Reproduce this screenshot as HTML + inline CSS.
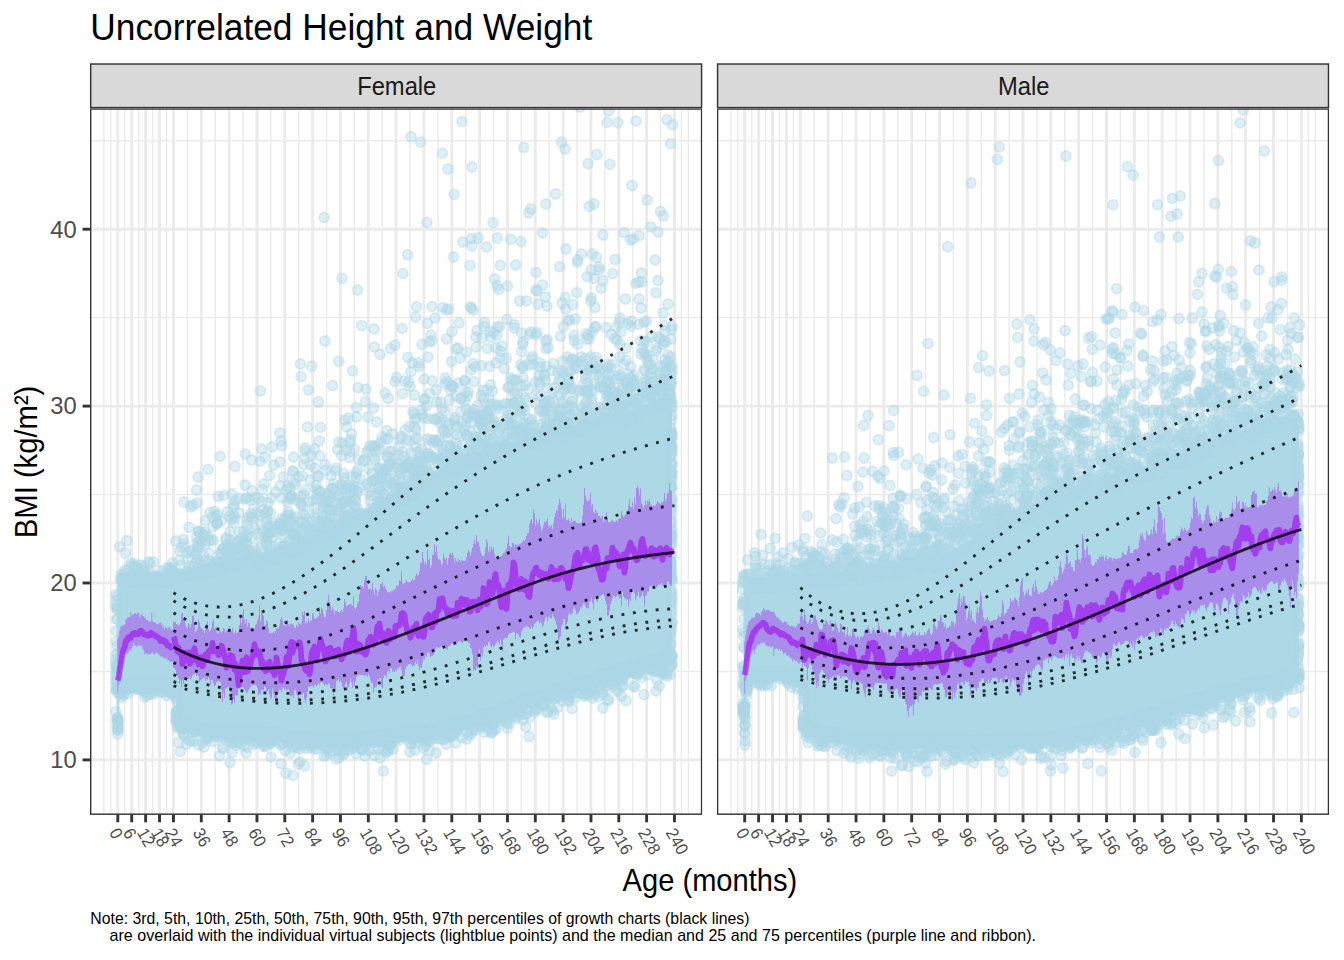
<!DOCTYPE html>
<html><head><meta charset="utf-8"><style>
html,body{margin:0;padding:0;background:#fff;}
svg{display:block;}
text{font-family:"Liberation Sans",sans-serif;}
</style></head><body>
<svg width="1344" height="960" viewBox="0 0 1344 960">
<defs><marker id="pt" markerUnits="userSpaceOnUse" markerWidth="14" markerHeight="14" refX="7" refY="7" overflow="visible"><circle cx="7" cy="7" r="5.0" fill="#add8e6" fill-opacity="0.4" stroke="#add8e6" stroke-opacity="0.4" stroke-width="1.8"/></marker></defs>
<rect width="1344" height="960" fill="#fff"/>

<text transform="translate(90.3,40.3) scale(1,1.07)" font-size="35.33" fill="#000">Uncorrelated Height and Weight</text>
<clipPath id="cp0"><rect x="89.96" y="108.3" width="612.34" height="706.60"/></clipPath>
<rect x="89.96" y="108.3" width="612.34" height="706.60" fill="#fff"/>
<g clip-path="url(#cp0)">
<line x1="89.96" x2="702.3" y1="671.45" y2="671.45" stroke="#ebebeb" stroke-width="1.44"/>
<line x1="89.96" x2="702.3" y1="494.55" y2="494.55" stroke="#ebebeb" stroke-width="1.44"/>
<line x1="89.96" x2="702.3" y1="317.65" y2="317.65" stroke="#ebebeb" stroke-width="1.44"/>
<line x1="89.96" x2="702.3" y1="140.75" y2="140.75" stroke="#ebebeb" stroke-width="1.44"/>
<line y1="108.3" y2="814.9" x1="103.88" x2="103.88" stroke="#ebebeb" stroke-width="1.44"/>
<line y1="108.3" y2="814.9" x1="110.84" x2="110.84" stroke="#ebebeb" stroke-width="1.44"/>
<line y1="108.3" y2="814.9" x1="124.75" x2="124.75" stroke="#ebebeb" stroke-width="1.44"/>
<line y1="108.3" y2="814.9" x1="138.67" x2="138.67" stroke="#ebebeb" stroke-width="1.44"/>
<line y1="108.3" y2="814.9" x1="152.59" x2="152.59" stroke="#ebebeb" stroke-width="1.44"/>
<line y1="108.3" y2="814.9" x1="166.50" x2="166.50" stroke="#ebebeb" stroke-width="1.44"/>
<line y1="108.3" y2="814.9" x1="187.38" x2="187.38" stroke="#ebebeb" stroke-width="1.44"/>
<line y1="108.3" y2="814.9" x1="215.21" x2="215.21" stroke="#ebebeb" stroke-width="1.44"/>
<line y1="108.3" y2="814.9" x1="243.04" x2="243.04" stroke="#ebebeb" stroke-width="1.44"/>
<line y1="108.3" y2="814.9" x1="270.88" x2="270.88" stroke="#ebebeb" stroke-width="1.44"/>
<line y1="108.3" y2="814.9" x1="298.71" x2="298.71" stroke="#ebebeb" stroke-width="1.44"/>
<line y1="108.3" y2="814.9" x1="326.55" x2="326.55" stroke="#ebebeb" stroke-width="1.44"/>
<line y1="108.3" y2="814.9" x1="354.38" x2="354.38" stroke="#ebebeb" stroke-width="1.44"/>
<line y1="108.3" y2="814.9" x1="382.21" x2="382.21" stroke="#ebebeb" stroke-width="1.44"/>
<line y1="108.3" y2="814.9" x1="410.05" x2="410.05" stroke="#ebebeb" stroke-width="1.44"/>
<line y1="108.3" y2="814.9" x1="437.88" x2="437.88" stroke="#ebebeb" stroke-width="1.44"/>
<line y1="108.3" y2="814.9" x1="465.71" x2="465.71" stroke="#ebebeb" stroke-width="1.44"/>
<line y1="108.3" y2="814.9" x1="493.55" x2="493.55" stroke="#ebebeb" stroke-width="1.44"/>
<line y1="108.3" y2="814.9" x1="521.38" x2="521.38" stroke="#ebebeb" stroke-width="1.44"/>
<line y1="108.3" y2="814.9" x1="549.21" x2="549.21" stroke="#ebebeb" stroke-width="1.44"/>
<line y1="108.3" y2="814.9" x1="577.05" x2="577.05" stroke="#ebebeb" stroke-width="1.44"/>
<line y1="108.3" y2="814.9" x1="604.88" x2="604.88" stroke="#ebebeb" stroke-width="1.44"/>
<line y1="108.3" y2="814.9" x1="632.72" x2="632.72" stroke="#ebebeb" stroke-width="1.44"/>
<line y1="108.3" y2="814.9" x1="660.55" x2="660.55" stroke="#ebebeb" stroke-width="1.44"/>
<line y1="108.3" y2="814.9" x1="681.42" x2="681.42" stroke="#ebebeb" stroke-width="1.44"/>
<line y1="108.3" y2="814.9" x1="688.38" x2="688.38" stroke="#ebebeb" stroke-width="1.44"/>
<line x1="89.96" x2="702.3" y1="759.90" y2="759.90" stroke="#ebebeb" stroke-width="2.88"/>
<line x1="89.96" x2="702.3" y1="583.00" y2="583.00" stroke="#ebebeb" stroke-width="2.88"/>
<line x1="89.96" x2="702.3" y1="406.10" y2="406.10" stroke="#ebebeb" stroke-width="2.88"/>
<line x1="89.96" x2="702.3" y1="229.20" y2="229.20" stroke="#ebebeb" stroke-width="2.88"/>
<line y1="108.3" y2="814.9" x1="117.79" x2="117.79" stroke="#ebebeb" stroke-width="2.88"/>
<line y1="108.3" y2="814.9" x1="131.71" x2="131.71" stroke="#ebebeb" stroke-width="2.88"/>
<line y1="108.3" y2="814.9" x1="145.63" x2="145.63" stroke="#ebebeb" stroke-width="2.88"/>
<line y1="108.3" y2="814.9" x1="159.54" x2="159.54" stroke="#ebebeb" stroke-width="2.88"/>
<line y1="108.3" y2="814.9" x1="173.46" x2="173.46" stroke="#ebebeb" stroke-width="2.88"/>
<line y1="108.3" y2="814.9" x1="201.29" x2="201.29" stroke="#ebebeb" stroke-width="2.88"/>
<line y1="108.3" y2="814.9" x1="229.13" x2="229.13" stroke="#ebebeb" stroke-width="2.88"/>
<line y1="108.3" y2="814.9" x1="256.96" x2="256.96" stroke="#ebebeb" stroke-width="2.88"/>
<line y1="108.3" y2="814.9" x1="284.80" x2="284.80" stroke="#ebebeb" stroke-width="2.88"/>
<line y1="108.3" y2="814.9" x1="312.63" x2="312.63" stroke="#ebebeb" stroke-width="2.88"/>
<line y1="108.3" y2="814.9" x1="340.46" x2="340.46" stroke="#ebebeb" stroke-width="2.88"/>
<line y1="108.3" y2="814.9" x1="368.30" x2="368.30" stroke="#ebebeb" stroke-width="2.88"/>
<line y1="108.3" y2="814.9" x1="396.13" x2="396.13" stroke="#ebebeb" stroke-width="2.88"/>
<line y1="108.3" y2="814.9" x1="423.96" x2="423.96" stroke="#ebebeb" stroke-width="2.88"/>
<line y1="108.3" y2="814.9" x1="451.80" x2="451.80" stroke="#ebebeb" stroke-width="2.88"/>
<line y1="108.3" y2="814.9" x1="479.63" x2="479.63" stroke="#ebebeb" stroke-width="2.88"/>
<line y1="108.3" y2="814.9" x1="507.46" x2="507.46" stroke="#ebebeb" stroke-width="2.88"/>
<line y1="108.3" y2="814.9" x1="535.30" x2="535.30" stroke="#ebebeb" stroke-width="2.88"/>
<line y1="108.3" y2="814.9" x1="563.13" x2="563.13" stroke="#ebebeb" stroke-width="2.88"/>
<line y1="108.3" y2="814.9" x1="590.97" x2="590.97" stroke="#ebebeb" stroke-width="2.88"/>
<line y1="108.3" y2="814.9" x1="618.80" x2="618.80" stroke="#ebebeb" stroke-width="2.88"/>
<line y1="108.3" y2="814.9" x1="646.63" x2="646.63" stroke="#ebebeb" stroke-width="2.88"/>
<line y1="108.3" y2="814.9" x1="674.47" x2="674.47" stroke="#ebebeb" stroke-width="2.88"/>
<path d="M176.0 571.1 178.0 570.6 180.0 570.1 182.0 569.7 184.0 569.2 186.0 568.8 188.0 568.3 190.0 567.8 192.0 567.4 194.0 566.9 196.0 566.4 198.0 566.0 200.0 565.5 202.0 565.0 204.0 564.6 206.0 564.1 208.0 563.6 210.0 563.2 212.0 562.7 214.0 562.2 216.0 561.9 218.0 561.5 220.0 561.2 222.0 560.9 224.0 560.6 226.0 560.3 228.0 560.0 230.0 559.7 232.0 559.4 234.0 559.1 236.0 558.7 238.0 558.4 240.0 558.1 242.0 557.8 244.0 557.5 246.0 557.2 248.0 556.9 250.0 556.6 252.0 556.3 254.0 555.9 256.0 555.6 258.0 555.3 260.0 555.0 262.0 554.4 264.0 553.7 266.0 553.1 268.0 552.4 270.0 551.8 272.0 551.1 274.0 550.4 276.0 549.8 278.0 549.1 280.0 548.5 282.0 547.8 284.0 547.2 286.0 546.5 288.0 545.9 290.0 545.2 292.0 544.6 294.0 543.9 296.0 543.3 298.0 542.6 300.0 542.0 302.0 541.3 304.0 540.7 306.0 540.0 308.0 539.0 310.0 537.9 312.0 536.9 314.0 535.8 316.0 534.8 318.0 533.8 320.0 532.7 322.0 531.7 324.0 530.6 326.0 529.6 328.0 528.5 330.0 527.5 332.0 526.5 334.0 525.4 336.0 524.4 338.0 523.3 340.0 522.3 342.0 521.2 344.0 520.2 346.0 519.2 348.0 518.1 350.0 517.1 352.0 516.0 354.0 515.0 356.0 513.9 358.0 512.9 360.0 511.8 362.0 510.8 364.0 509.8 366.0 508.7 368.0 507.7 370.0 506.6 372.0 505.6 374.0 504.5 376.0 503.5 378.0 502.5 380.0 501.4 382.0 500.4 384.0 499.3 386.0 498.3 388.0 497.2 390.0 496.2 392.0 495.2 394.0 494.1 396.0 493.1 398.0 492.0 400.0 491.0 402.0 490.0 404.0 489.0 406.0 488.0 408.0 487.0 410.0 486.0 412.0 485.0 414.0 484.0 416.0 483.0 418.0 482.0 420.0 481.0 422.0 480.0 424.0 479.0 426.0 478.0 428.0 477.0 430.0 476.0 432.0 475.0 434.0 474.0 436.0 472.9 438.0 471.9 440.0 470.9 442.0 469.8 444.0 468.8 446.0 467.8 448.0 466.8 450.0 465.7 452.0 464.7 454.0 463.7 456.0 462.6 458.0 461.6 460.0 460.6 462.0 459.6 464.0 458.5 466.0 457.7 468.0 457.0 470.0 456.4 472.0 455.7 474.0 455.1 476.0 454.4 478.0 453.8 480.0 453.1 482.0 452.4 484.0 451.8 486.0 451.1 488.0 450.5 490.0 449.8 492.0 449.2 494.0 448.5 496.0 447.9 498.0 447.2 500.0 446.6 502.0 445.9 504.0 445.2 506.0 444.6 508.0 443.9 510.0 443.3 512.0 442.6 514.0 442.0 516.0 441.3 518.0 440.7 520.0 440.0 522.0 439.5 524.0 438.9 526.0 438.3 528.0 437.8 530.0 437.2 532.0 436.7 534.0 436.1 536.0 435.5 538.0 435.0 540.0 434.4 542.0 433.9 544.0 433.3 546.0 432.7 548.0 432.2 550.0 431.6 552.0 431.1 554.0 430.5 556.0 429.9 558.0 429.4 560.0 428.8 562.0 428.3 564.0 427.7 566.0 427.1 568.0 426.6 570.0 426.0 572.0 425.6 574.0 425.2 576.0 424.8 578.0 424.4 580.0 424.0 582.0 423.6 584.0 423.2 586.0 422.8 588.0 422.4 590.0 422.0 592.0 421.6 594.0 421.2 596.0 420.8 598.0 420.4 600.0 420.0 602.0 419.6 604.0 419.2 606.0 418.8 608.0 418.4 610.0 418.0 612.0 417.6 614.0 417.2 616.0 416.8 618.0 416.4 620.0 416.0 622.0 415.2 624.0 414.3 626.0 413.4 628.0 412.6 630.0 411.7 632.0 410.9 634.0 410.0 636.0 409.2 638.0 408.3 640.0 407.4 642.0 406.6 644.0 405.7 646.0 404.9 648.0 404.0 650.0 403.2 652.0 402.3 654.0 401.4 656.0 400.6 658.0 399.7 660.0 398.9 662.0 398.0 664.0 397.2 666.0 396.3 668.0 395.4 670.0 394.6 672.0 393.7 672.1 393.7 672.1 663.1 672.0 663.2 670.0 663.8 668.0 664.4 666.0 665.0 664.0 665.6 662.0 666.1 660.0 666.7 658.0 667.3 656.0 667.9 654.0 668.5 652.0 669.1 650.0 669.7 648.0 670.3 646.0 670.9 644.0 671.5 642.0 672.0 640.0 672.6 638.0 673.2 636.0 673.8 634.0 674.4 632.0 675.0 630.0 675.6 628.0 676.2 626.0 676.8 624.0 677.4 622.0 677.9 620.0 678.5 618.0 679.1 616.0 679.7 614.0 680.3 612.0 680.9 610.0 681.5 608.0 682.1 606.0 682.7 604.0 683.3 602.0 683.9 600.0 684.5 598.0 685.1 596.0 685.7 594.0 686.3 592.0 686.9 590.0 687.5 588.0 688.1 586.0 688.7 584.0 689.3 582.0 689.9 580.0 690.5 578.0 691.1 576.0 691.7 574.0 692.3 572.0 692.9 570.0 693.5 568.0 694.1 566.0 694.7 564.0 695.4 562.0 696.0 560.0 696.7 558.0 697.4 556.0 698.1 554.0 698.8 552.0 699.4 550.0 700.1 548.0 700.8 546.0 701.5 544.0 702.2 542.0 702.8 540.0 703.5 538.0 704.2 536.0 704.9 534.0 705.6 532.0 706.2 530.0 706.9 528.0 707.6 526.0 708.3 524.0 709.0 522.0 709.6 520.0 710.3 518.0 711.0 516.0 711.7 514.0 712.4 512.0 713.1 510.0 713.8 508.0 714.5 506.0 715.3 504.0 716.0 502.0 716.7 500.0 717.4 498.0 718.1 496.0 718.9 494.0 719.6 492.0 720.3 490.0 721.0 488.0 721.7 486.0 722.5 484.0 723.2 482.0 723.9 480.0 724.6 478.0 725.3 476.0 726.1 474.0 726.8 472.0 727.5 470.0 728.2 468.0 728.9 466.0 729.7 464.0 730.2 462.0 730.7 460.0 731.2 458.0 731.6 456.0 732.1 454.0 732.5 452.0 733.0 450.0 733.4 448.0 733.9 446.0 734.4 444.0 734.8 442.0 735.3 440.0 735.7 438.0 736.2 436.0 736.6 434.0 737.1 432.0 737.6 430.0 738.0 428.0 738.3 426.0 738.5 424.0 738.8 422.0 739.0 420.0 739.3 418.0 739.5 416.0 739.8 414.0 740.0 412.0 740.3 410.0 740.6 408.0 740.8 406.0 741.1 404.0 741.3 402.0 741.6 400.0 741.8 398.0 742.1 396.0 742.3 394.0 742.6 392.0 742.8 390.0 743.1 388.0 743.4 386.0 743.6 384.0 743.9 382.0 744.1 380.0 744.4 378.0 744.6 376.0 744.9 374.0 745.0 372.0 745.1 370.0 745.1 368.0 745.2 366.0 745.2 364.0 745.2 362.0 745.3 360.0 745.3 358.0 745.4 356.0 745.4 354.0 745.5 352.0 745.5 350.0 745.5 348.0 745.6 346.0 745.6 344.0 745.7 342.0 745.7 340.0 745.8 338.0 745.8 336.0 745.8 334.0 745.9 332.0 745.9 330.0 746.0 328.0 745.9 326.0 745.8 324.0 745.7 322.0 745.5 320.0 745.4 318.0 745.3 316.0 745.1 314.0 745.0 312.0 744.9 310.0 744.8 308.0 744.6 306.0 744.5 304.0 744.4 302.0 744.2 300.0 744.1 298.0 744.0 296.0 743.8 294.0 743.7 292.0 743.6 290.0 743.5 288.0 743.3 286.0 743.2 284.0 743.1 282.0 742.9 280.0 742.8 278.0 742.7 276.0 742.5 274.0 742.4 272.0 742.3 270.0 742.1 268.0 742.0 266.0 741.9 264.0 741.8 262.0 741.6 260.0 741.5 258.0 741.4 256.0 741.2 254.0 741.1 252.0 741.0 250.0 740.8 248.0 740.7 246.0 740.6 244.0 740.5 242.0 740.3 240.0 740.2 238.0 740.1 236.0 739.9 234.0 739.7 232.0 739.4 230.0 739.2 228.0 739.0 226.0 738.8 224.0 738.6 222.0 738.3 220.0 738.1 218.0 737.9 216.0 737.7 214.0 737.4 212.0 737.2 210.0 737.0 208.0 736.8 206.0 736.6 204.0 736.3 202.0 736.1 200.0 735.9 198.0 735.7 196.0 735.4 194.0 735.2 192.0 735.0 190.0 734.3 188.0 733.6 186.0 732.9 184.0 732.2 182.0 731.5 180.0 730.8 178.0 730.1 176.0 729.4Z M118.3 573.0 120.3 573.0 122.3 573.0 124.3 573.0 126.3 573.0 128.3 573.0 130.3 573.0 132.3 573.0 134.3 573.0 136.3 573.0 138.3 573.0 140.3 573.0 142.3 573.0 144.3 573.0 146.3 573.0 148.3 573.0 150.3 573.0 152.3 573.0 154.3 573.0 156.3 573.0 158.3 573.0 160.3 573.0 162.3 573.0 164.3 573.0 166.3 573.0 168.3 573.0 170.3 573.0 172.3 573.0 174.3 573.0 176.3 573.0 177.0 573.0 177.0 693.0 176.3 693.0 174.3 693.0 172.3 693.0 170.3 693.0 168.3 693.0 166.3 693.0 164.3 692.9 162.3 692.9 160.3 692.8 158.3 692.8 156.3 692.7 154.3 692.7 152.3 692.6 150.3 692.6 148.3 692.5 146.3 692.5 144.3 692.4 142.3 692.4 140.3 692.4 138.3 692.3 136.3 692.3 134.3 692.2 132.3 692.2 130.3 692.1 128.3 692.1 126.3 692.0 124.3 692.6 122.3 694.4 120.3 696.2 118.3 698.0Z M116.8 575.0 118.8 575.0 119.3 575.0 119.3 728.0 118.8 728.0 116.8 728.0Z" fill="#add8e6"/>
<path d="M644.6 353 205.5 732.7 570 409.4 560.6 693.6 365.5 401.7 560.4 416.3 275.5 733 477.7 405 338.6 520 641.7 282 123.6 684.4 431 335 671.6 448 578.6 414.5 671 406.3 152 683 497 335 575.3 368.6 268 558 599 677.6 554 429.4 457.5 728.6 288 515.3 125 578.3 157 684 507 448.7 473 310 670.6 428 556.6 691 283 525.6 300.7 739 272 741 233.6 516 577.7 262.4 324.3 738 670 634 371.7 473.6 435 318 506 711 573 398.7 264 484 318.5 402 245 554 439.4 728.3 472 246 433 729 493.7 438.4 585 378.3 637.3 674.5 426.6 759.3 138.7 685 329 747.7 117 720 523 342 671.7 629 672 473 568.7 384 506 713.4 618 122.6 418.6 363 472 442.4 296 500 239 532 416 447.7 132.6 573 280.3 524.7 628.6 402 665 402 150 563.4 179 742.5 365.6 739.6 116.4 654.4 479 719.3 366 745 494 723.3 411.4 481.7 454 730 262.3 560 258.6 498.5 134 572.7 581.6 422.7 283.7 547 303.3 735 501.5 713 198 548.7 198.6 727.6 658.5 405.7 207 567 299.3 548 505 445.4 293 472 424 418 482 447 307.3 736 168.7 686.6 647 663 276 492 440.6 726 150.6 687 179 575.5 150.4 694.4 229.5 558 599 372 426 468 494 454.7 368 417 520 437 199.5 569 149 576.7 575 686 203 731 489.5 715.5 334 531.4 599 267 617 674.6 480 462.5 611 388 487 720 314.4 449 490 419 140.5 565 515 380.5 616.5 327 317.4 528 286.6 490 562 303 579.3 390.3 511.4 416.4 197 574 483.6 721 472.6 422 331 475.6 489.3 459 329.3 742.3 165 684 228 729 466 721.3 398 455 485 718.4 404 456.5 581.6 431.6 353.4 738 651 391.5 388.4 751.4 542 412 305 736 388.6 452 534 441.7 326.3 754.7 289.6 554 507 723.5 172.4 570 671 658.5 621.3 396.3 237 742 354 737 663 344.5 212 728.6 345 526.4 596 368 291 498.5 512 404 507.4 728.3 161.5 686 336.4 759 668.5 361.4 523 366.4 663.7 380.7 522.4 703 257 742.7 123 695 466.5 461 457 453 477 726.7 482 715.4 150.3 688 496.7 425.7 454 194.4 488 721.5 241.7 548 176.5 710.5 660.7 378.4 412.6 495 387 739.3 305.3 450.7 131 684 259 556.6 141.6 685 388.3 398.5 521 438.4 409.5 441 596.5 257.4 119 694.4 183 732.7 471.6 729 319.3 491 245 485 428.4 418.7 243.7 732 588 335.6 437 461.6 273.4 546.6 511.7 714.7 527.3 700.7 671 603 556 689.7 445.6 433.3 284 546 608.3 672.7 462.7 242 306 748 355 507.3 597.6 424.5 584.7 688.3 394 741.6 497 285.6 672 326.3 641 404.5 133 685 540.7 396 491.7 715 336 746.4 318.3 737 414 736.6 612 421 672 655.7 484.5 718 346.7 501 161.4 582.5 417.4 476 543.6 411.3 144 692 276.6 734.3 474 417 126 682 353.4 743 669 565.4 480.5 437 319.3 441 407 462 596.7 678.7 143 686 394.3 478.6 272 447 615.7 405 303.5 736.7 260.4 732.4 432.5 477 454 450 616 405.5 299 745 339.7 531 410.6 462 450.3 465 418 481 407.7 254.6 374.3 479.7 351.6 434 634 414 298.6 477 158.4 684.3 270.7 560 250 500 133 682.6 533 699 661 672 276 735.5 559 693.7 420.4 735 649.7 666.7 670.7 396 124 694 400 497 403 487.4 576 683.4 259 732 622.5 400.5 438.3 417.5 122 692 173.3 579.5 529 736.6 449.3 400 481 715.6 390 745.4 672 455 408.5 486.5 317.4 742.4 339 442 405 489 355 735.7 508 712.3 553 690 616 670.4 471.4 238.6 164.6 683 596 374.3 602 426 498 406.5 434 440 658.3 662.5 500 444 176 721 305.6 550 656 659.5 656.5 348.4 506.7 434 532 419.6 395 381.6 118 729.6 644 352 189 566 297.7 745.4 487 390 343 740 522.7 444 304 494.5 405.5 471 493.3 725 579 685.4 529.7 334.3 268.4 561 245 556.5 577.7 432.5 280.5 745 521 411.4 619.4 676 323 503 370 500.3 155 684 454 452 557.4 695.7 612.5 421 618 418.5 671.6 477 457.6 457.5 243 730.5 481 442 116.7 679.5 498 449 488 450.5 664 401.4 646.4 321 525.3 385 660.3 367 235.4 500.7 435.5 440 647.7 412 477 720 672 530 168 684.7 535.4 382 163 684.5 429 735 530 422.3 374 735 122 688 636.5 668 267.7 538.6 458 348 639 299 408 357.5 236 553.3 563.6 421.5 478.6 415.5 657.7 337 547 694 646.4 381.3 172.7 688.6 396 491.7 583 424.7 594 204 143 691 331 510.3 209.5 564 455.7 743 548.3 347.7 543 694 266.7 533.3 369 736 369 735 671 644.5 500.4 358 471.5 719.4 540 427.5 570 427 453.5 386.6 284 738.4 353.5 748.4 271.6 733.3 321 741.4 266.7 512.6 272.5 537 411.7 739 660.3 388 439 440.6 672 500.6 219.7 571 337.4 738 547.7 433.3 508.6 715.4 268 527 269 735.5 572.3 407.7 513.4 424 423 735 644.5 387 360.3 748.3 559 417 607 410.5 471 445 429.6 393.4 467 459.3 592.7 391.3 663.7 664 439 459.6 326 506.5 197 503 608 380.5 657 662.4 340.6 736 594 278.5 439.6 731.6 166.5 577.5 248 554.7 142.7 683 560.6 431.3 295.4 734 265 738 618.3 378.4 166.7 568 291.3 740 366 389 594 368.4 117 646 434.3 458.4 451.3 729.7 238 549 481 395.7 221 570 388 485.5 443 450 620.5 408 623.6 364.4 670 644.5 482 714.5 584.3 683 648 661.3 424.3 740.4 408.5 382 270 739.4 138.5 576.3 316.7 499 549.4 428 582 686 273 739 523 423.4 672 479.7 408.4 732 618 422 636.5 672.5 481.5 718.4 647.5 391.3 170 686.6 585.4 416.5 451.5 361.6 296 531 649.6 390.3 326 736 519.3 432.6 445 471 581 426.4 641 354 583.5 384.4 626.6 380.4 567 686.5 577 682.6 496.5 711.6 591.3 389.4 196.6 490 534.7 699.4 509.5 712.4 260.5 515.3 168 582.7 230.6 732 484.7 322.3 190.7 725.5 582 683 501.3 405 667 363.6 562 371 394 502 600.6 387.6 515.7 265 670.4 357 562.4 691.4 244 731 119.7 693.3 672 663.6 623.3 406.3 650.6 397 300.4 545 379.3 469 420 456.5 625 406 612.6 273.6 266.4 557.5 119.5 690.5 513 716.6 145.3 684.4 516.3 711.3 484.4 732.4 123.4 686.5 317 489.6 573 685 266 555 403 451.7 457.4 470 514.4 324.7 515.7 448.7 671.5 436.4 161 571 118 730 124 573.4 645 379.6 545.7 380.7 142 579 569 378.5 485.7 458 633.7 673 224 729 180 725 198.5 531.6 195 554 264.5 542 351.5 476.6 492.7 418 381 742 672 621.7 572 708.7 429 485.5 496 714 311.4 741.3 399 497 290.7 742.5 506 441 211.3 539.7 491.3 713 630 406 482 715 172 688 345.3 502 670.3 402.7 171.3 693 567.7 357 641.7 662.7 117.5 718 487.5 419.7 522.7 344.4 651 382.5 200 563 425 399 661.4 406 248.4 738.3 485 724.4 481.7 455 634 668.3 319.5 539 572.6 360 225.5 566 556 698 670.4 674.3 562.6 361.5 139 687.3 522.5 368 127 570.4 526.5 301 405 430 617.3 673.4 390.7 498 481 418.6 452 331.6 265.3 515 525 713.3 472 450 324.6 748.5 295.7 536.4 446 728 441.4 467 131.6 688 393.7 496 521 700.7 295.4 484.3 298.3 764 366.6 737 510 705 445 378 667.6 402 570.7 415.5 344 743 507 452 607 690 423.4 737.7 487 448.3 378.4 489 507.7 415.3 656.5 659 233 731.6 310 745 567.7 434.5 387.7 467 636.7 671.4 334.7 530 476 415.3 378 749 471.6 450.6 545 406 521 714.6 145.4 683 266.7 735.3 672 665 374.3 347 620.4 425.5 208.5 541 434 478.4 399.6 740 199 565.3 556 693.4 557.3 409 342.4 739.3 563.4 326.7 669 658.5 510 449 546 410.4 509 723.5 528.4 419 563.4 417 603 694.4 483.4 415.4 582 681 617 394 436 730 352.3 503 299 539 300.4 734.5 295.3 744 218.3 737.3 546 348.7 318 738.7 247 560.6 638.6 400 216 562 223.4 549.7 307 745.3 235.3 733.4 586.5 370.5 374.6 755.6 537 444 372.4 739 499 433 647 342 159 685 265.3 746.6 221 521 540 367 652 411 526.6 400.3 316.6 530.7 589 423 376.7 422 450.6 447.7 562 425.3 657 680.3 349.6 492.6 155 576 494.7 730 301 547.3 403 500 614.7 682.3 641.3 677.3 559 431 409.6 743 472.5 719 394 738 542 705 322.4 520 419 487 242.7 544.3 595 690.6 271 733.7 155.7 691.3 589.6 368.4 497.3 238 485.4 437 393.6 737 318 475.6 488.3 714.5 671.5 329.5 152 580 620.7 375.7 290 488 460.7 399 306.6 518.4 335.5 471 309.5 529.5 120.3 690 585.5 392 611 406.7 524 432.4 613 685.6 187.5 725 315 532.7 355.7 744.3 148.5 562 358.3 741 203.7 556 665.4 658 381.4 474.3 198 477 325 464.6 414 735.3 634 380 305.6 490 336.5 531.3 614 681.3 373 742.3 333 488 596.6 678 364.6 740.4 411 371.7 616 676.5 545.3 297 134 684 578.6 693 440 728.6 123.5 689 449.4 727 575.3 319 380.6 442.4 199.4 728.5 221.5 565.6 659.7 372.6 234 559.7 622.6 678 481 720.7 658.4 396.6 432 380.7 648 668 668.7 398.6 206.7 734 386.5 734.4 607 682.4 276 552.4 546 366.3 327.5 493 519 429 626 381.6 204 747 623 416.7 351.5 744 281 524.7 624.4 670 351.5 739 659.5 660 388 439 447 381.6 411.4 731 553 399 521 410 473.7 722.6 137.6 687.7 323.4 533.7 523 408 162 582 613.6 671.7 603.7 387.5 352.4 747 636 391.5 442.4 420 281 518.7 608.7 676.5 478.5 427.7 662.4 406.7 601.3 288.4 436 419.4 525 398 176.4 721 634.4 403 230 762.7 573.4 418.4 672 544 467.3 396 273 739 506.4 358.5 133 683 162 688 318 542.7 443.3 429.6 225.6 540 386.3 734 436 471 380 758 344.7 488 361.7 325.6 347.3 523.6 198.3 545 591 428 120.4 579.3 246.6 524.7 473 363.5 653.5 404 427 733.5 594.5 694 553.4 402.4 138 567.4 123.7 688.4 396 503.3 631 420.4 295.7 516.6 474 458 279 733.6 132.6 683 197 559 427 222.4 384.3 470.5 665 663 634 385 627 383.5 295 742 653 671 305.7 514.7 607.4 676.4 540 410.4 583.5 414 419 459.3 227.6 511.6 166.6 683.7 223.5 563 301 505 295.4 547.7 569 689.5 230.6 566 419.4 366.5 349.7 739 476 347 591.4 298 450.6 467 376.7 735.7 376 742 654.3 398.3 609.6 384 300.7 522 230.6 730 621.7 675.7 647 400.4 671 520.4 457 451 590.5 678 346 519 484 456 532.5 356.6 216.3 731.4 542.5 285 149 685 408.7 464.7 215.6 516 286.6 527.6 430 750.5 666.6 386.3 482.3 426 366.6 453 415 475 505 712 639 235.6 280 733 260.3 391 196.6 732 515.5 705.4 176.7 701 340 509 196.6 730 272.6 532 133 577 232.7 742.7 379.6 740 559.6 691.5 363 745 587 683.7 202 571 221 553.5 182 577.7 191.4 570 643.4 663.6 427.4 457 630.3 240 564 424 504.3 368.6 632.3 667 439 726 218 733.5 317.3 498 335 501 625.5 299 234.5 550.5 334 489.4 541 694 129.4 683 310 737.7 471.6 734 546 428 422 414.5 654 662 231.4 550 322 745.4 116 711.7 624.5 667.6 584.7 430 350 501.3 267 736 233 730 428 454 458 722.7 499.3 430.4 533 425 651.7 337 410 752 347.6 513.7 159 576.4 621.4 406 172.7 582 142.3 579.7 429.4 342 286 545.4 349 744.7 277.3 525.4 383.5 494.7 579 683.5 199 546 152 689.4 247 497.7 391 739 521.6 709 552.4 693.4 128 682.4 300 749 649 388.3 415 479 521.5 702.4 633 239 656 669.6 291 496 621.7 388.6 324 537 512.3 706 525 699 579 683.6 294 526.3 391 501 293 471 127 686 483 726.4 520 414.5 654.3 405.5 672 579 536 703 268 732.4 508 706.7 467 739 163 583 670.3 435.4 294 552.3 474 410 302.5 736 540 694.5 452.4 724 261.7 449 132 579.5 457 471.3 424.7 729 162.7 684.3 251 562 327 749 383 742.5 543.6 404 643.6 383 210.3 733.3 408.3 481.3 453 734.4 327 495.4 240.5 538.5 390.7 451 158.6 690 538 304 538 709.7 306.5 526.5 511.7 442 251.6 517.5 537 291 202 733 287 738.5 653 665 598 366.4 182.4 724 484 725 422 489.6 287.3 502 468.5 458.6 262.4 732.3 291.4 548.6 252 490.6 369 750.6 475.7 445.3 325 341 493.5 332.5 670.4 455 665 674.4 368.7 740.7 233.6 505 140 682.5 152 684.5 624 232.6 527.7 445 221 729 370 509 518.4 708 275 738.4 125 687.7 488 427 476.4 457.7 356 515 277 559 239 565 614 671.4 436 753 138.7 573 621.5 686 632.4 401 457.7 724.6 374.7 460 431 735 405 495.5 457.6 434.6 447 461 346 490.4 468.4 461.7 440 474.4 453.5 257 246 753 541.4 442 329.4 753 314 737 125 580.7 530 717 551.3 707.5 232 494 616.5 379 452 385.6 456 396 481.4 727 130 578 387 741 307.7 737 342.4 443 662 674 200 730.5 346.6 507.3 191 551.6 329 738 640 666 117.7 734 536 708.4 607.6 701 310.5 545.5 607.3 367.3 432 306.5 508 449.5 214.3 736.5 494 714 153 685.3 546 429 325 503 550 410.5 630.3 669.4 136.4 685.5 217 523.5 173 693.4 357.6 512 124.6 686.4 217 523.4 139 684 269.7 475.3 268 503 380.3 510.4 633 673 438 731.3 413 739 190 576 182.3 579.4 547 339.4 170.4 683 658 280.5 356 501 443.7 739.4 205.6 727.3 346.4 526 423 486.4 277 736.5 530 710.5 342 736.6 569 425.5 131 565.6 117.5 668 483 715.4 319.4 533 168 574.3 461 724 418.5 481.7 411.4 744 320.4 427.3 189 725.3 441 474 511 423 569 415 137 689.4 531.3 436 189 527.3 137.6 569.7 328 509.6 316.3 744.4 606 418 318.5 477 281 441 501.3 425 489 400 626.5 412.7 287 525 551 426 167.3 686.5 670.4 562.4 262 501.5 182 547 229 731.3 168 580.5 239 513 126 687.4 307.4 547 373 737 571.4 388.7 264 744.4 608.7 111 441.6 459.7 246.4 562 180.7 723.4 462.3 465 241.5 733 656 691 327.6 523 508 710 153 684.6 599.5 675.3 478 720 612 364.5 162.3 578 116 673.3 561 429 244 746 584.3 688 296 735.4 510 712.5 231 564 568.6 688 263.7 746.3 583 680 438 727.4 422 409.6 461 398 160 683.7 671.3 665.7 117 668 625 422.6 124 687.6 151.7 682.7 169.6 570 604 389 298.5 522.3 287.7 551.6 230 531.6 559 433 441 732 582 693.7 422.6 471.5 275 733 665.6 405.3 367.3 513.7 405.6 467.7 157 685 353.4 486.6 331.6 513 133 686.3 559.7 266.7 321.5 532.6 529.7 709 672 451.4 129.4 682 145 697 270.7 513.3 249 517 663.5 392.6 480.5 424.7 558.4 417.6 621.7 390.4 246.4 564 465.3 460 173 685 222 553.4 257 534 460 358 180.6 727.5 563.3 401.5 135.7 578.3 565.7 309 137 689 516 445.4 605 673.6 289 734 328 495.3 346 450 498 450 267 536 279.6 486 551.3 692 433.6 477 235.6 734 439.6 728 620 344.4 516.5 710 444.7 411 574 335.3 125 687.3 415.6 477 478.4 716 439.5 738.5 620 670 220.7 571 138.6 569 118 724.7 501 709 200 532 255.7 736 208.4 572 228.6 738.3 293 775.3 473.7 439 436.3 390 506 403.5 383 507 249.4 732.3 672 522.7 523.4 443.6 563.3 701.4 605.6 674 363 461.4 155.7 689.6 623 679.6 458 725.6 256.3 740.7 671 634 192 728.6 459 323 630 666.6 391 743.4 267.4 562 418.5 737.5 376 510 590.6 301 609.5 672.6 570 429 448 735 459 727.6 405 466 454 420.7 663 398.6 198.5 531 489 415.4 367 736 474.6 718 602 420 479.4 420 300.5 496 369.3 516.6 323.4 528 651 227 416 429.5 458 457 428.6 472.3 333.7 483.4 400 473 491.3 733 561.4 692.6 650 364.3 364.3 737.4 519.5 301 472.4 416 477 457.3 293 737.3 670.5 367.6 452.7 466 444 472.6 288.7 512 663.5 394.6 445.6 468.4 597 154.5 390 734.4 543 693.7 186.4 576.6 263.6 509.7 232 553 529.3 697.5 670 640 440.3 732 457.6 727.4 233.6 738.5 585.3 424.3 169 683 472 730 542 696.3 671 655 490.4 410.5 382 437 581.7 425.5 331.4 489 671.5 570 495.5 457.4 672 623 424.4 485 430 740 224 730 344 750 323 534.5 158 685.6 231 563.7 267.3 557 151.7 580.3 622 419.6 289 553 455 417.6 644.3 401.3 672 535.3 671.4 383.4 653 386.6 620.4 674 376 451.5 450 471.5 510 448.3 492 710.6 589 417 350.3 440 176 696 337.4 742 258.6 731.4 672 555 515 703.6 404.5 381 658 232 462.5 462.6 310 529 128 687 607 413.4 586 411 636 665.7 163 687 501.7 346 493 222.7 516.5 405.7 458 457 132 684 386 735.5 117 687.3 505 713 289 541 670.5 438.5 341.7 455.6 452 470.7 400.4 439 129.3 683 143.7 687.4 544.4 704 615 672.7 599 376 348 743.5 176 691 515 394.4 383 474 122.6 579.4 473.6 436.4 361 741 592.3 399.7 474.5 459.6 505.3 718 176 719 538 699.7 300.4 537.6 329 740 672 370.4 544.4 704 171.6 684 334.5 534.6 423.7 748 419 476 148 693 670 657 287.6 736.7 301 376.7 267 544 149.5 688 532 433 547.5 421.5 186.3 574.4 568.3 381.6 412.5 363 245.3 454 499.4 448.3 358.7 459.7 537 332.6 592.7 698 312 521.5 618 394 143 579 387.6 750 380 470 483.6 428.5 609.7 384 221.3 735.6 433 442.4 551 432.3 581 357 557.5 694 180.4 565.4 626 348.4 117 607.4 345.5 516 421 484 239.6 731.7 290.7 745 366 735.7 526 714 465.3 465 398 464.4 390.7 734 239.6 498.6 461 461 281.7 497.6 171 693.6 165.3 685 266 733.3 569.4 320.4 610.4 399.5 559 687.4 283.6 534.7 607 122.3 671.4 444 599.7 416.6 365 737 197 569.4 495.6 722.6 604 681.4 522 386 451.3 725.7 285.7 739 227.4 544.7 118 719.5 442 726 137 580.5 569.7 692 419.3 488 246 537 607 395 386.6 430.6 296 738.3 638.7 669 278.3 550.7 362.6 750 465 725.6 550.6 438 204.6 560.4 368.4 468.6 343 502.3 481 422.4 180.5 728.6 231 565 308 501.3 185 723.4 472 167 609.5 675 531 359 606 399 651.5 667.4 297.5 747.5 270 532.7 659.3 686 415 750 334.6 736.4 369.5 739.5 257.4 513 176.4 712.5 543.4 693.3 518.7 702 359.4 487 569 423 465 722.5 475 366.7 469 451 389.5 735.3 670.3 384.4 211.7 568.6 588.6 690 591.3 270 119 689.5 411.4 453 530 430.7 660 657.6 293 536 237.7 541.5 486 445.5 341 531.4 213.3 540.5 497.4 457 296 744.7 132 579.5 617 423 626.5 673 510 403.6 582 406.7 295.7 742 672 415 573 304.7 290.3 753 663.3 672 485.4 458 224 733 528.5 439 495.7 347.6 121 688.4 469.7 431.3 585.7 358.5 588.7 687 642 348.7 338 510 378 736 555.3 428.3 618.4 670 273.7 734 185.4 728.6 426.7 405.7 117 672 214.7 563 369 738.7 323.3 539 537.6 438.6 471 370 200.3 540 368.4 450 656 351 392.4 434 611 368 416.6 306.6 522.3 700 329.4 736.7 512.6 437.5 558 372.5 332.6 385.6 185.4 723 454.7 457 405.6 737.4 172 692 496.6 446 343.5 739 607 380 493 713 186 723 170 684.4 413.5 732.7 323 507 232 742 669.6 486 381.3 734.3 117 609.4 216.5 568.3 520.7 440.5 570.5 371.5 383 738 415 419.3 542 424 521 241.6 509.3 386.6 412.7 469 247.5 747 235.7 565.4 598 678 414.4 414 169.4 568.3 502.5 713 582.3 408.3 555 424 293.3 482.5 265 457 525.5 702.5 649 661.5 315.6 749 669.3 394.4 152 578 182.4 728.3 125 570 612 417.6 382.4 736 555.5 688.7 642 410 150 685.3 297 740.7 344.3 519.7 263 552 383 503 140 687.4 156.7 685 338 751 564.3 686 263 532 569 701.5 607 405 622 680 495 457.6 631 366.3 342 485 330 533 305 448 369.4 492.4 494.5 279 590.6 357 202.3 742.7 344 478 443.4 739.3 594 683 636 121 233 555.4 610 164.3 199.5 726.4 325 527 242 556 472 451 546 204 311.4 455.4 411 136.6 204.6 535 590.7 399.7 568.6 388 405 499 658 406 625 412 630 668.3 373.4 408 130.6 581.6 305 524 170 689.3 391 464 441.4 727.4 293.4 533 501.7 451.4 451.3 723.3 177 727.5 434 419 176.5 697.3 588.5 692 379 449 125.5 683 347.4 737.3 500.3 265.3 462.4 445.5 671 380 244.7 552 572.7 688.5 456 349 200 731 550 437 247 519.5 664 341 388.5 745.6 601.4 427 597.4 676.7 620 357 557.4 429.6 547.7 692 295.5 739 521.3 706 395 733.6 365.7 740 449.3 737.3 592 685.7 154.4 684.6 647 669 320.5 540.3 446.3 725.3 563.7 373 665 331 280 433 606.3 673 428.6 453 339 533.3 589.3 206.3 141.7 688.3 236 556.6 278.5 527.7 671.6 579.7 117 685 117 619 637 418 230 540 438 445 400 488 408 475.7 362 740 354.6 741 671 561.5 483.4 718 672 498 343.6 740.7 306 543 645 393.4 331 515.6 202 729 187 724.7 565 149 209.7 512.7 561 410 431 481.6 362 739 305 744 611 334.4 672.6 656 386 472 655 260 536 272.3 552.3 429.6 272.6 560.5 167 695.7 247 739.6 351.7 517 528 432.6 319.3 535 514.3 403 305 536.5 321.7 738.4 432 727.7 558 688.3 579 391.7 158 685.4 313 738 116 681.7 356.3 473 183.5 735.4 217.4 523 575.6 427 153.4 685 290 527 536 394.3 357 491 634 375.4 534 701 387.5 455.6 275 736 620.7 674.7 628.4 389.5 173 575 603 235 208.7 732 509.5 704.3 223.5 495.7 643.3 662 258 558.7 190.7 507 327.6 522 501 442 184 502 489.5 366.4 313.7 746 144 580.7 492.5 391 462.5 467.3 529.5 435.4 598 407.4 568 700 347.7 740.4 187 725.5 549 401.6 402 733 244 733 516.4 718.3 346 517 571.6 430 161 685.4 157 684 368 518 517 431.4 634 668 331.3 751 619.6 322 594.3 679 193.6 728.7 261 525 331.5 736.3 360.6 479.4 127.4 583 670.6 565 633.6 399 173.5 685 179 560.4 493.3 714.5 163 688.3 505 444 440 733 116.5 631 647.3 675 117.5 668 232 752.4 474.5 724.5 385 485.6 488.6 417.4 423 480 599 681.7 604 420.7 346.7 527 129.6 683.5 229.7 729.3 417.7 452 435.7 482.3 393 749 605.4 419 672 604.6 205 545 378 506 617 340 159 684.6 257.5 561.4 508.5 425 300 741 117 619.4 440 479 443 730.7 586.7 391 437.5 726.7 535 701 125.3 553 306.6 737.4 197 572.7 395.4 503 243.6 531 286 733 230 741 526 699.3 188.4 724 408 731.6 671 478 641 672 196.5 563 210.3 730 264.4 732 586 334 553.5 363.4 667.4 660 220 728.7 159 685 620 318 538.7 701 495.4 712.6 517.3 393 191 741 552 690.7 177 711 285.5 736.5 170 685.4 466 409.4 301 740 387.6 502.4 489.5 447 253 551.3 645.7 661.6 329.5 736.4 543 706 244 731 324 745.6 297 737.6 290.5 547 465.5 425.4 292.7 517.7 451.6 458 136 684.3 189 724.7 611 414.4 415.7 743 145 690.6 269 555.7 655 667.3 337.4 495.5 300.6 734 256.4 555.6 133 582.4 201.7 543 573 684.4 604.5 673.5 382 735 576.6 685 198 745 344 753.5 531 698 516.5 705 534.4 707 668 354.7 414.6 427 551.4 691.7 477 330.5 327.3 738 399.5 494 383.3 771 411.5 730.6 628.6 387.6 167.6 683.7 500 709 267 535.7 383.5 495 528.7 438.3 247.7 736.3 169.4 684.4 518.4 448 251.6 460 670.3 501.6 480.7 420.5 524.5 427 514 703 294 735 184 726 248 550.6 136.6 573 505 437.5 563 404 137.6 682.7 577 363 235 518 377.3 477.6 671.7 403 465 401.7 344.6 515 493 716 228.7 549.5 479.3 715 150 572 188 724 448.7 309 478.5 462.4 236.7 553 119.6 546.7 132 684 560.5 336.3 207 733 357.5 290 435 729.6 367.3 742 431 728 286.5 734.3 528.7 213 136 577.6 583 690 266.7 737 183.5 574 253 734 304.4 458 182.5 728.6 460.3 436.3 671.5 489 410 386.3 631 668 417.7 470.6 229 735 614.7 338.6 664.4 659 413 412 401 734.7 489.6 731 228.3 556.6 548 711.7 173 686.6 324 217.5 291 496 632 185.6 561.6 437.7 422 475.7 264 734 520 710.5 426 745.5 117.4 718.3 196 729.4 552 689.5 375 447 413 739 654 381.3 132 685.3 519.6 709 643 391 249 550.3 251.3 734.7 244 540.7 364.5 736.5 430.4 440.3 340.5 524.5 346 519.6 246.6 544 180 551 446 422 276 738.4 467 435.6 223 549 504.6 710.4 512.7 379.6 369.4 487 122.6 577.4 574.4 433.3 421 739.7 345 740.7 121 575 234 507.5 446.5 339 539.3 382.4 339 757.4 469.7 722 427.6 439 335 738 176.3 577 340.3 737.5 144.4 572.4 300 741.6 583 682.7 311 737.7 580.7 361.3 144 583 442.4 153.3 277 532.5 397.7 733 304.4 532.5 665.5 656 614.5 392.5 372.7 511 639 407 230 733.5 402.7 735 637 675 470 720 293.5 457 261 734 125.4 685 302.7 739.6 670.6 560.5 416 439 147.6 683 292.3 535 156.3 687.4 424.6 487.5 220.3 456.4 482 714 574.3 340.5 141 686.7 265 738.6 185 725 606.3 418.4 536 290 134 566 584 424 145.5 686 508.4 705.6 157.3 683 127.3 683.5 118 727.5 617.7 691.5 635.5 664 666 379.5 470 727 671.7 431.7 660.7 382 521.6 352 382 490.3 611 397 617.5 671 269 554.5 445.6 462 550.6 427.4 151 688.4 657 663.3 220.5 562 245.5 499 392.5 484 209 553 153 686 417 470.5 413.5 469.3 573 432.3 561 429 598 422.7 545.7 341 272 526.5 445 384 516.3 702.4 671.5 375 184 544 371 495.5 181 576 644.3 341 431 457 191 576.3 600 407.5 551 427.5 230 558.4 116 666 652 376.4 544.5 418 639.5 391.6 441 727.4 287 737 194 741 207.4 739.4 142 687.6 363.5 741 158 687 671.5 615.5 614 409.7 268 511 466.4 435 510.5 377.7 291.7 532.4 613 679 340 751.4 370 445.7 266 522 456 425 630 666 665 398 142.3 569 609 699.6 170 567.3 655.5 668.4 543 694 544 374 308 735 437.3 442 247 560.3 247.4 733 601 684.7 671.3 506 385 439 154.3 577.3 395 345 240 567 519 703 663.6 375.4 372.4 735 671.5 487 416.6 418 144 566.3 670.3 441 524.7 432.7 401.4 482.4 536.3 434 317.3 513.4 184 734.3 291 495.4 465.7 392 416 736 572 693.7 671.7 400.3 478 453 464.5 380.4 167.5 690.4 496.5 712.4 601 369.4 186 726 577.6 344.4 549.6 695.6 628.3 670.5 357.5 470.4 379 468 317 737 515.3 403 672 610.6 396.7 377.6 621 668.7 393.5 495 212.3 734 151.7 686 671 626 499.4 327 618 676.7 604.4 419 456.4 732.5 644 369.7 510.6 424 310.6 465 500.7 721 392 496 440 423 610.5 683 253.3 518.6 555.4 698 386 753 456.4 444 529 365 607.3 673 668 304 539.4 437.5 268.3 737 213 741.6 257 738 653.6 662 247 535.7 513 451 657.6 663.6 671 575 666 371.5 283.5 477 638.6 324.3 535.3 700.5 167.6 683.7 544.6 440 627.3 386 672 581 343 754.5 471.6 458 375.4 445.7 531 332 455 723.6 510.7 705.6 310.6 748 672 486.6 623 686.4 535 711.7 567 424 522.7 720 177.5 573.3 577.5 260 190 725.6 416.7 438 141.5 686 420.5 142 308 735 237.5 541.5 659 660 566 249 486 404.4 410.6 467.7 671.7 463.5 116 660 496 363 672 445.7 390 735.4 314 743 528.4 389 257 731.7 476 460 257.4 734 207 738.4 437 479 575.4 684.6 449 424.4 124.7 580.3 236.5 745.3 578.7 681.3 601 386 665.7 342.3 325.6 470.3 626 416.7 438.6 732 321 738.5 490 722 341.7 744 440.7 402 280 462 396.3 467.5 406.6 489 624.7 667.6 438 729 311.7 366.3 672.7 124.7 490.6 385 500.4 717 552.5 710.5 646.3 359 400 737 202 571 530.7 209 399 478 388.4 734.5 267 544.5 341.5 484.4 587 407 513 446.6 555.5 194 436.5 472 364.4 739.6 406.3 464.7 373.7 749 231.4 519.5 405 491 661 665 458.4 383 671.5 592 671 433.7 265 537 354.5 736 504 708 334 738.5 367 736.5 179.4 726.7 664 379 611 675 402 328.5 618.4 670.3 261.6 545 603 708 510.5 704 671.7 450 146 572 365 756 391.7 733.3 337.7 743.7 431 733 409 731 168.5 578.5 424 399.5 522 439.6 595 327.6 208 536.4 612 399.6 422 460.7 450.5 735 255 497.3 514 328 444 431 253 561 470.5 306.7 671.4 566.6 339 496.3 568 686 161.3 684.6 160.7 686 181.3 722.5 235 466.5 528.4 698 270.7 743 304 464.7 491.5 713 635 405.4 270.7 744 488 451 322.4 516 364.3 460 580 107.3 143.7 682.7 585.6 694.4 163 580.6 633.7 665.5 265.4 742.3 670.7 577.3 423 470.4 315.4 748.6 619 375 563 689 580 684 362 736.4 508 706.4 334 525.5 350 451.7 484.3 326.5 641 308 302.6 476 241.7 567.3 352 488 398.6 446.5 382.6 478.6 139 685.7 281 763.6 656.5 389 621.4 696 153.4 687.7 427.5 323.3 292.6 747.5 671.6 434 436 727 501.3 456 667 672.6 516.4 716 384 750.3 650 398.4 665 360 663.6 657 492.6 732 669 656.6 455.4 447 385 738 457.7 467 325.3 737 532 699 187 553 667.7 368 669.3 389 648 362.5 404.7 732.3 587 276.7 170 574 493 718 389.4 469.5 233.6 735 403 491.6 487.5 450 513.3 434.6 249.4 731.3 207.3 571 356 477 672 365 565 425.6 633 686 376.4 494.7 309.6 741 273.6 465 513.6 391.6 476 337 488.6 453 288 486 232.7 556.3 467 418 425.7 470 320 742 303.3 514 336.4 736.3 145 684.4 468.6 461 335.7 468 584.3 696.4 414 481.4 309 547 647 355.7 240 731 151.7 686.5 590.4 689 584 390.6 598.4 681 672 576 392.6 483.7 596 681 651.6 372.7 351.3 513.7 187 571.7 466 460 522.3 702.4 614 398.7 396.5 738 672 463.3 409.6 468.3 396 480.3 617 689.3 335.7 737 340 743 161 684.3 302 738 490 331.5 276 733.6 300 761.7 663.5 390.6 148 683 629.7 672 584.7 366 663 405.3 272 523 588 695 421 461 669 657.5 659 390.4 669 394.4 541.5 435.4 129.6 688.7 518.6 705.4 443 307.7 600.4 675 285.6 551.4 570.6 360 448 431.7 301 502.5 560.5 394.4 516 436 122 697.4 117.6 653.3 227 556 549.5 697.6 596.6 357.4 471.3 719 414 464 627 420.6 487 411.4 669.5 390.5 319.4 736 626 360.3 116.3 689.5 374 329 370 741.4 233.6 547.6 588.4 685.6 204 570.6 645.5 393.3 445 736 466.5 352 152 690 285.7 516.4 339 507 315.3 737.7 595 307.5 396 487.5 526 702.7 183.4 539.6 528.6 700.7 115.7 605.3 182.3 577.4 505 454.3 481 437.5 347 739 490.4 337 209 561 521 430 445.3 725.4 350.3 515 117.5 690 572 401.3 191.5 574 251 513.6 356 743 571.6 387.7 282 528.6 133.4 684 559 689.3 260 461.4 428 357 457.5 455 551 695.4 296.4 546.5 504 715.7 356 736 359.5 515 130.7 688 279 543.7 655.4 396 281.7 530.7 241.5 548 664.5 325.5 406.5 440 253.5 744.6 320 456 349.5 522.4 159.4 685 626.7 674 657.3 389 176.3 692 573.4 688 115.5 594.6 446 744.4 214.3 511.3 500 451 449.5 446 136 687 142.3 581 431 456.3 294.7 743.4 117.3 662 499.5 710 117 596.3 526 727 356.5 417 583.7 427.4 226 538 409 736.5 210 728.4 373 446 671 561.6 389 464.5 618 415.6 173.5 685 664 365.6 462 723 148 577 205.5 520.6 577 433 261.7 563.4 484 414 264 563 608.3 680 481.5 365.7 244.6 732.3 421.4 484 211 734.4 490 439.3 379.3 736.6 375.3 508 520.7 704.5 621 674.7 651 370 503 450.7 239.4 562 176.3 716 339 743 134 582.6 553.5 415.7 224 730 307.5 427 599 270 671.6 514 231 737 533.7 704.5 338.3 496 670.7 475.4 670.7 534.5 547 712.7 655 662 193 505 490 435.5 163 685.5 209.6 729 672 508.3 223.6 562.7 550 420.3 283 743.3 457.5 470 400 732 412.3 735 660 338.6 597.4 416.6 606 327.5 564.7 685.4 263 741 434 730 386.7 735 598.4 696.6 311.4 541 136 684.5 306 527 533.7 364.5 487 445.3 483.7 398.5 198.6 572 615 259.5 116.5 689.7 501 718 595.4 326.3 505.7 722 607.5 673 271 549 618.3 406 671 535.3 492.4 715 472 413 596.3 422.6 564.4 389.4 581.5 415.4 334 741 509 414.5 319 738 469 413 401 492.7 346.6 427 280.6 523.4 389 735.6 194 566 222.5 548.4 264 559.4 462 737.6 471 454 633.6 384 346.5 736.7 385.3 469.5 619.4 414 493 426 573 359 330.5 532 346.4 489 379.5 486 575 367 626.6 397.4 417.4 463 117 676 238 742.7 173 572 594.6 383.7 353 742.6 401.4 436.6 210 732.3 192 727.4 524 703 496.6 447 608 375 455.4 465 511.6 427 219 569.4 298 539 259 734 217.5 514.5 432 340.7 356 753.6 380 490.4 635 687 208 737.4 511 431.7 131 563 289 520.4 402 468 570 697 555.5 689 525.7 430.6 422.5 731 506 419.6 257.5 731.7 669.7 541.5 581.3 254 309 530 196 576 557.3 419 588.3 692.4 204 731.4 186.4 744.3 439 727.4 150 581 448 169 152.5 684 147 579.3 587 402 462 121.6 565.6 385.7 608 364.4 349.6 457.6 620.7 332 119.6 688.7 469 719 574.5 431.6 670.5 572.3 602 691.6 285 733 336 737.6 306 544.3 300 552.3 503 713 592 689.5 670.5 660 572.3 426.5 322.3 536.3 536 699 488.7 458.4 509.5 707 286 550.3 270.4 742 254 547.7 552 392.6 251 561 306 735 173 573 206.6 737 362 736 248.5 735 325 522.3 426 467 670 442.3 630 388 558 412 496 728.7 273 736 229.4 516.5 409.3 426.4 415 731 380 501 233.4 730 536 334.6 645.3 661.6 135.5 568 382.6 735.7 315.7 743.5 567.6 407 478 238 500 409 534.4 443.6 672 596.7 500 428.3 223 748.6 258 564.6 563.4 392 273 558.4 313 540.5 462 423 356 735.6 644 694.7 507.5 286 337.7 449.6 320 736.3 120.4 687 348.3 418 259.3 565 389.6 743 547.6 699 117 665 554.7 388 323 540.4 641.6 273 387.4 736.7 469 735 653 669 547 306 401.5 470.7 507.7 387.7 671 529.4 126.5 684.3 672 472 660.5 211.3 671.3 543.5 653 369 303.5 737.5 627 667 313 501 147 695.6 576.7 292.6 287.7 554 637 404 448 438 470 265.4 301.5 736.5 496 422.4 671 339 127.5 686 393.4 733 515.7 704 308.5 390 485 717.5 529.5 429 420.7 738 328.3 500.7 451.3 386 559 410 318.3 522 305.4 738 237 564.5 116.6 680.5 269 525 234 522.5 535.7 441.7 527 443 315 540.4 672 465.6 372 481.4 362 749.7 168.7 690.7 616 404 177 713 179 575.3 212.7 517.4 192 550 343.6 473.6 598.3 412 554 424.4 476 464.4 516 425.7 462.3 457 116.4 691 642.5 666 345.5 736 450 725.5 512.5 439 353.3 740.4 349.6 442.7 278.3 736 540 363 316 518 640.6 341 672 599.3 670 650.5 426 741.6 487.5 716.3 227 558.4 559 697 442 408.6 602.3 421.3 314.3 508 351 743.4 336 504.6 146 687 671.6 419.7 492.6 720.6 640 667 153.5 694 289.3 515 286 773 390.4 348.6 255 741.7 523.7 147.5 458.4 463.5 282.7 546 609 395.6 477 461.3 224.5 729 154.4 687 510 453 611 672 352.6 371 575 698 450.4 390 203.4 730.3 554 714 587 682 265.3 740.4 570.5 686.4 282 733.4 567.6 431 317 739.6 280 741 354.6 449.3 436 738.3 490 715.3 262 732.4 246.4 732.6 342.4 736 153.7 562 310 528.3 512 713 357.7 491.5 300.4 364 482 338 460 725.5 509 706 353.5 492 232.6 549 521.6 333 503.6 707 168.5 684.7 412 493 486.5 247 657.6 663.7 613.6 414 542.5 233 122 689.3 330 742.3 667 119.6 197 542.6 145.4 686.3 168.4 576 523 377.5 123.5 688.4 128.3 693.6 631 418.3 471.4 308 158.5 686 635.7 283.4 326.5 503 504.7 714.6 328 526.4 585.7 374 672 591 336.7 738 510 707 522.3 428 414.3 395 132 579.7 671 471.5 294.3 538.4 229.6 546.5 350.4 488 222.5 733.3 255 528.5 134.3 685 524.7 422.7 465.3 468 276 734 507 319.4 167.4 578 379 503 136.6 683 336.5 523 498.7 289.5 193.6 732.3 220.4 552.4 631 321 575.6 432.7 577.3 426 231.4 730.4 206.6 726.6 446 737.4 382.7 737 380 354.4 533.3 702.4 423.6 730.6 390 501 180 721.4 323 739 656 292.7 473 462.3 377.6 501.5 631 326.3 457 427.3 173.3 684 660 105.3 467.4 418 638.6 398 296.7 735 155.7 579 117 608 445.7 468.3 224.3 729.3 304 734.5 337.7 739.4 591 412.7 600.3 686.7 606.7 389.7 188 559 172.4 686 609 374 520.6 364.6 299 739.5 329 500 316.3 485.6 322 537 286.4 553 626 700.7 231 551 387.5 457 651 396 177 711.5 471 721 325.4 517 144 689.6 245 561.4 413.5 482 575 683.4 592 332 310 548 547.3 388 473.7 725 444 454 588 163.7 653.5 359.6 539.3 375 176.3 714 589 339 381 501 540 385 307.3 735 282.5 735.3 388 479 280.6 743.4 545.7 400.3 490.5 452.7 466.3 731.5 383.7 504.4 592 426.6 557.4 707.6 243 732.5 452 727 412 495.4 265 734 202 570.7 214 570 570.3 694.7 295 526.6 460.5 412 171 575 444 457.6 195.5 574.6 525 410.6 477 441 663.3 216 328 509.4 266.3 734 295.6 742.4 594 681.3 558.6 693 566 694.4 262.6 489.4 298.6 551.5 518 709 517.3 703 592 687.5 185.3 723.7 320 526.5 527 444.4 561.7 142 294.4 746 208 469.4 636 665.4 535 440 355.3 742 163 579 320 492 367 484 308 539 499 709 625 672.5 358 387.7 155 689.6 176 541 443 478 118 719.5 437 457.3 400.4 497 215 728 165 690.4 219.5 756 547 408.5 253.7 508.7 165.6 683 224 732.5 487 411.4 398 736.5 278 552 290 518 672 537.4 671 539 342 528 543 431 615.4 671.7 468.5 392 643.6 663 192 574 311 539.6 324 756.3 132 686.3 536 433 381 739 251.3 733.4 424 729.5 521.3 700.5 206.3 733.3 600 678 118 722.3 417.5 462.6 491 725 122.5 685.7 309.5 539.5 140 575.3 631.4 665.3 544.5 376 477.5 717 417 736.4 536.5 436 359.5 739 172.5 563 644 322.3 177.5 691.5 336.7 527 393.6 735.6 650.4 410 290.5 737 237.7 732.6 446 453 162 686 396 459 222.4 747 307.3 743.7 158.7 683.6 518 412.6 170 689.7 189.5 740.7 600.3 382 586 401 628.4 374 334 517.4 612 421 426.7 737 356.5 407.7 220 733.4 543 703 670 564 388.4 482 563 437 570.6 405.4 552 370.3 591.7 413.4 424 379 415.7 317 127 540.6 283 520.3 213 526.7 303.3 745 587.6 383 589.7 368.5 354.5 497 535 708 134.6 564 447 724.3 271.4 497.6 497.5 326.6 249.4 530 405 487 352.5 737.5 317.7 494 586.5 339 310 480 452.3 736.4 459.3 452.3 647 200 342 278.3 135 579.5 633 382 474.7 720.6 385 393 422.6 729 606 686 491.3 404 131 576 506.3 453 338.7 361.3 401 488.7 194.3 728 237.4 735.7 159.3 684.7 603 280.7 531.7 699.3 430 741.4 670.6 143.7 291 543 569 370.7 394 733.6 184.6 723.5 484.7 453 345 420 656.7 663 559.5 379.5 637 408.5 508.4 708.4 148.6 683 465 380.7 360 513 654.5 671.3 163.7 692.6 535.4 403.5 671.6 435 565.4 297.3 429.5 731 596.3 361.7 355 499 520 402 160.6 692.3 470.7 465.5 607.5 425 667 676.3 585.3 430 510.7 239.4 357 520.7 116.5 641.5 270 533 588.6 680 285 750.5 660.4 666.6 234.5 543 445.6 472.6 163.6 691 623 676 222 567.3 487.3 348.5 332.5 510.3 203 534.7 257 554 476.4 437.3 431.5 739.4 545.6 402 542 695 443.7 464 283 737 378.5 734.7 282.6 530 342 738.4 118 721 431 460 224 737 474.5 457.4 672 408 280.5 524 304.6 766 668.7 668.5 290.3 498.7 480.5 722 339.7 747.7 194.6 730 177.6 720.6 303.4 529 218.3 496.4 315 468 204.7 532 373.4 480.4 348.7 485.5 592.6 421 515.5 704 494.6 717 587.7 390 389.3 463 213 572.5 611 391 216 562 645 371 474 730.6 376.3 480 445.4 446 196.3 537 558 383 551 699.4 148 685 403 273.4 623 412.3 483 390.3 551 440.5 249.7 563 258.5 734 661.7 386 358 508.6 302 737 491.3 448 187 576 246 542 474 381.7 597.3 413 214 568 402.4 393.5 182 723 516.3 380.5 117.4 727.4 116.7 600.4 662 672.5 240.3 744 155.6 576.7 425 732.5 438 735 246.4 732 322.6 521.3 657.5 660 328 740 241.4 733 271 757 587 679 632.4 399 592 254 500.7 351.3 353.4 737.3 457 731 346.6 501.6 464.7 430 603.7 409 436.6 402 342 504.3 627.7 323.6 568 416.7 422 448.5 161.3 576 270 553 500 714.7 375 458.5 308 538.4 196 554.4 281.6 445.6 672 437.3 496 404.6 364.6 739.3 303 506 180.4 751.7 418.6 730.6 488.6 431.5 638.5 282 273.4 740 443.4 473.4 489.6 712.6 512 706.6 467.7 461 665.5 655.4 422 344.5 256 737.6 304.7 736.6 493 457.3 446.6 310 176.4 698.4 477.5 440.4 284 738 251.5 537.3 348.6 750 568.4 320 631 377.3 540 696.3 627 667.4 663 313 334 741.5 230.3 566.5 492.3 438.5" fill="none" stroke="none" marker-start="url(#pt)" marker-mid="url(#pt)" marker-end="url(#pt)"/><path d="M117.3 638.8 118.3 638.8 118.3 635.8 119.3 635.8 119.3 630.8 120.3 630.8 120.3 626.6 121.3 626.6 121.3 626.5 122.3 626.5 122.3 624.5 123.3 624.5 123.3 625.4 124.3 625.4 124.3 624.4 125.3 624.4 125.3 619.8 126.3 619.8 126.3 619 127.3 619 127.3 617.3 128.3 617.3 128.3 617 129.3 617 129.3 617.1 130.3 617.1 130.3 612.5 131.3 612.5 131.3 615.6 132.3 615.6 132.3 614.3 133.3 614.3 133.3 614.4 134.3 614.4 134.3 613.4 135.3 613.4 135.3 613 136.3 613 136.3 614.6 137.3 614.6 137.3 613.1 138.3 613.1 138.3 612.7 139.3 612.7 139.3 617.7 140.3 617.7 140.3 615.4 141.3 615.4 141.3 613.9 142.3 613.9 142.3 616.3 143.3 616.3 143.3 616.1 144.3 616.1 144.3 617.7 145.3 617.7 145.3 618.2 146.3 618.2 146.3 620.1 147.3 620.1 147.3 620 148.3 620 148.3 621.8 149.3 621.8 149.3 621.6 150.3 621.6 150.3 621.2 151.3 621.2 151.3 612.7 152.3 612.7 152.3 621.2 153.3 621.2 153.3 622.3 154.3 622.3 154.3 622.2 155.3 622.2 155.3 623.4 156.3 623.4 156.3 624.1 157.3 624.1 157.3 624.2 158.3 624.2 158.3 623.7 159.3 623.7 159.3 622.8 160.3 622.8 160.3 622.4 161.3 622.4 161.3 625 162.3 625 162.3 627.7 163.3 627.7 163.3 625.6 164.3 625.6 164.3 629.8 165.3 629.8 165.3 626.9 166.3 626.9 166.3 627.8 167.3 627.8 167.3 629.6 168.3 629.6 168.3 627.5 169.3 627.5 169.3 626.9 170.3 626.9 170.3 629.1 171.3 629.1 171.3 629.4 173 629.4 173 661.7 171.3 661.7 171.3 661.9 170.3 661.9 170.3 661.4 169.3 661.4 169.3 660.4 168.3 660.4 168.3 660.4 167.3 660.4 167.3 657.8 166.3 657.8 166.3 659.4 165.3 659.4 165.3 657.8 164.3 657.8 164.3 657.7 163.3 657.7 163.3 657.2 162.3 657.2 162.3 655.9 161.3 655.9 161.3 657.3 160.3 657.3 160.3 655.4 159.3 655.4 159.3 654.3 158.3 654.3 158.3 654.1 157.3 654.1 157.3 652.4 156.3 652.4 156.3 652.7 155.3 652.7 155.3 654.6 154.3 654.6 154.3 653.9 153.3 653.9 153.3 652.6 152.3 652.6 152.3 652.3 151.3 652.3 151.3 654 150.3 654 150.3 654.8 149.3 654.8 149.3 653.8 148.3 653.8 148.3 654.2 147.3 654.2 147.3 653.4 146.3 653.4 146.3 653.3 145.3 653.3 145.3 654.4 144.3 654.4 144.3 650.8 143.3 650.8 143.3 648.7 142.3 648.7 142.3 645.3 141.3 645.3 141.3 646.1 140.3 646.1 140.3 645.4 139.3 645.4 139.3 645.2 138.3 645.2 138.3 646.1 137.3 646.1 137.3 646.9 136.3 646.9 136.3 645.8 135.3 645.8 135.3 645.5 134.3 645.5 134.3 643 133.3 643 133.3 646 132.3 646 132.3 648.4 131.3 648.4 131.3 650.4 130.3 650.4 130.3 649.5 129.3 649.5 129.3 651.8 128.3 651.8 128.3 653.5 127.3 653.5 127.3 653.9 126.3 653.9 126.3 652.4 125.3 652.4 125.3 653.9 124.3 653.9 124.3 655.3 123.3 655.3 123.3 658.9 122.3 658.9 122.3 664.4 121.3 664.4 121.3 667.9 120.3 667.9 120.3 674.2 119.3 674.2 119.3 684.5 118.3 684.5 118.3 693.5 117.3 693.5Z M173 621.6 174 621.6 174 622.3 175 622.3 175 622.1 176 622.1 176 624.1 177 624.1 177 624.7 178 624.7 178 625.5 179 625.5 179 624.5 180 624.5 180 622.7 181 622.7 181 614.1 182 614.1 182 612.8 183 612.8 183 618.7 184 618.7 184 618.5 185 618.5 185 625.2 186 625.2 186 626.8 187 626.8 187 628.6 188 628.6 188 623.6 189 623.6 189 624.4 190 624.4 190 627.8 191 627.8 191 623.4 192 623.4 192 616 193 616 193 615.2 194 615.2 194 623.2 195 623.2 195 632 196 632 196 630.6 197 630.6 197 629 198 629 198 619.6 199 619.6 199 622.6 200 622.6 200 627.6 201 627.6 201 628.2 202 628.2 202 629.5 203 629.5 203 630.5 204 630.5 204 633.1 205 633.1 205 627.4 206 627.4 206 624.1 207 624.1 207 621.2 208 621.2 208 629.3 209 629.3 209 631.4 210 631.4 210 630.5 211 630.5 211 627.7 212 627.7 212 621.9 213 621.9 213 619.2 214 619.2 214 628.9 215 628.9 215 627.5 216 627.5 216 631.8 217 631.8 217 632.9 218 632.9 218 633.6 219 633.6 219 629.7 220 629.7 220 631.6 221 631.6 221 632.3 222 632.3 222 631.2 223 631.2 223 628.1 224 628.1 224 629.1 225 629.1 225 632.6 226 632.6 226 630.7 227 630.7 227 630.3 228 630.3 228 630.2 229 630.2 229 626.1 230 626.1 230 630.7 231 630.7 231 631 232 631 232 627.8 233 627.8 233 632.6 234 632.6 234 633.9 235 633.9 235 630.4 236 630.4 236 632.9 237 632.9 237 632.7 238 632.7 238 631 239 631 239 625.2 240 625.2 240 616.2 241 616.2 241 622.7 242 622.7 242 614.3 243 614.3 243 609.6 244 609.6 244 619.7 245 619.7 245 624 246 624 246 618.9 247 618.9 247 626.8 248 626.8 248 622.8 249 622.8 249 623.1 250 623.1 250 628.2 251 628.2 251 630.4 252 630.4 252 627.3 253 627.3 253 631.1 254 631.1 254 628.2 255 628.2 255 625.1 256 625.1 256 623.9 257 623.9 257 620.4 258 620.4 258 616.4 259 616.4 259 605.5 260 605.5 260 622.1 261 622.1 261 613.1 262 613.1 262 613.2 263 613.2 263 615.5 264 615.5 264 625.7 265 625.7 265 624.8 266 624.8 266 620.6 267 620.6 267 621.8 268 621.8 268 628.1 269 628.1 269 633.1 270 633.1 270 633.3 271 633.3 271 633.1 272 633.1 272 632.9 273 632.9 273 631.7 274 631.7 274 633 275 633 275 630.9 276 630.9 276 628.3 277 628.3 277 627.5 278 627.5 278 628.8 279 628.8 279 625.5 280 625.5 280 619.5 281 619.5 281 617.2 282 617.2 282 620.2 283 620.2 283 625.2 284 625.2 284 624.7 285 624.7 285 626.7 286 626.7 286 620.7 287 620.7 287 619.8 288 619.8 288 624.2 289 624.2 289 626 290 626 290 624.1 291 624.1 291 623.2 292 623.2 292 624.7 293 624.7 293 624.7 294 624.7 294 627.8 295 627.8 295 627.9 296 627.9 296 624.9 297 624.9 297 626.7 298 626.7 298 622.1 299 622.1 299 623.5 300 623.5 300 624.7 301 624.7 301 622.4 302 622.4 302 612 303 612 303 614.9 304 614.9 304 611.1 305 611.1 305 623.2 306 623.2 306 621.3 307 621.3 307 623.2 308 623.2 308 618.2 309 618.2 309 621.7 310 621.7 310 620.7 311 620.7 311 620.4 312 620.4 312 612.9 313 612.9 313 614.7 314 614.7 314 618.6 315 618.6 315 618.8 316 618.8 316 618.1 317 618.1 317 617.3 318 617.3 318 616 319 616 319 607.1 320 607.1 320 613.6 321 613.6 321 607.4 322 607.4 322 609.4 323 609.4 323 614.1 324 614.1 324 617.2 325 617.2 325 616.9 326 616.9 326 609.9 327 609.9 327 601.5 328 601.5 328 594.4 329 594.4 329 601.9 330 601.9 330 605.6 331 605.6 331 610.7 332 610.7 332 607 333 607 333 609.4 334 609.4 334 614.2 335 614.2 335 610.8 336 610.8 336 610.7 337 610.7 337 611.5 338 611.5 338 611.9 339 611.9 339 613.1 340 613.1 340 610.9 341 610.9 341 609.8 342 609.8 342 612.3 343 612.3 343 608.8 344 608.8 344 598.7 345 598.7 345 602.2 346 602.2 346 606.1 347 606.1 347 605.2 348 605.2 348 605.1 349 605.1 349 604.4 350 604.4 350 603.9 351 603.9 351 604.8 352 604.8 352 605.8 353 605.8 353 596.6 354 596.6 354 607.7 355 607.7 355 609 356 609 356 607.2 357 607.2 357 603.6 358 603.6 358 601.6 359 601.6 359 593.9 360 593.9 360 585.1 361 585.1 361 587 362 587 362 586 363 586 363 588.1 364 588.1 364 580.3 365 580.3 365 576.1 366 576.1 366 575.9 367 575.9 367 585.2 368 585.2 368 589.4 369 589.4 369 588.9 370 588.9 370 588.7 371 588.7 371 590.1 372 590.1 372 582.8 373 582.8 373 590.1 374 590.1 374 594.5 375 594.5 375 588 376 588 376 589.9 377 589.9 377 596.2 378 596.2 378 591.8 379 591.8 379 589.5 380 589.5 380 584.3 381 584.3 381 584.1 382 584.1 382 581.7 383 581.7 383 586.8 384 586.8 384 585.5 385 585.5 385 587.6 386 587.6 386 589.7 387 589.7 387 592.2 388 592.2 388 591.9 389 591.9 389 592.5 390 592.5 390 591.2 391 591.2 391 591.4 392 591.4 392 590.7 393 590.7 393 590.3 394 590.3 394 589.5 395 589.5 395 588.2 396 588.2 396 585.7 397 585.7 397 585.6 398 585.6 398 585.2 399 585.2 399 580.6 400 580.6 400 580.9 401 580.9 401 570.7 402 570.7 402 583.1 403 583.1 403 584.6 404 584.6 404 583.2 405 583.2 405 581.7 406 581.7 406 579.7 407 579.7 407 581.9 408 581.9 408 582.5 409 582.5 409 581.9 410 581.9 410 581.9 411 581.9 411 580.4 412 580.4 412 578.4 413 578.4 413 580.6 414 580.6 414 579.9 415 579.9 415 576.2 416 576.2 416 573.4 417 573.4 417 575.9 418 575.9 418 574.9 419 574.9 419 571.6 420 571.6 420 562.2 421 562.2 421 563.2 422 563.2 422 551.9 423 551.9 423 558.7 424 558.7 424 564.4 425 564.4 425 561.4 426 561.4 426 564.6 427 564.6 427 549.5 428 549.5 428 559.7 429 559.7 429 558.6 430 558.6 430 567.7 431 567.7 431 565.5 432 565.5 432 554.4 433 554.4 433 554.9 434 554.9 434 544.1 435 544.1 435 552 436 552 436 546 437 546 437 555.9 438 555.9 438 559.8 439 559.8 439 559.2 440 559.2 440 560.4 441 560.4 441 564.9 442 564.9 442 563.7 443 563.7 443 553.3 444 553.3 444 558 445 558 445 559.6 446 559.6 446 557.5 447 557.5 447 564.6 448 564.6 448 558.5 449 558.5 449 554.2 450 554.2 450 552.2 451 552.2 451 554.9 452 554.9 452 552.7 453 552.7 453 556 454 556 454 562.8 455 562.8 455 558.1 456 558.1 456 561.1 457 561.1 457 562.6 458 562.6 458 558.7 459 558.7 459 559.9 460 559.9 460 561.4 461 561.4 461 560.3 462 560.3 462 560.7 463 560.7 463 560.6 464 560.6 464 561 465 561 465 560.6 466 560.6 466 556.9 467 556.9 467 552.9 468 552.9 468 550.5 469 550.5 469 551.6 470 551.6 470 555.8 471 555.8 471 551.4 472 551.4 472 547.5 473 547.5 473 543.9 474 543.9 474 539.9 475 539.9 475 543.4 476 543.4 476 535.5 477 535.5 477 541.2 478 541.2 478 542.6 479 542.6 479 546.6 480 546.6 480 550.7 481 550.7 481 554 482 554 482 556.1 483 556.1 483 556.1 484 556.1 484 554.8 485 554.8 485 547.7 486 547.7 486 539.3 487 539.3 487 542.2 488 542.2 488 551.9 489 551.9 489 547.1 490 547.1 490 551.4 491 551.4 491 546.3 492 546.3 492 549.5 493 549.5 493 547.5 494 547.5 494 553.5 495 553.5 495 557.8 496 557.8 496 556.7 497 556.7 497 557.9 498 557.9 498 558.2 499 558.2 499 557.8 500 557.8 500 557.1 501 557.1 501 555.9 502 555.9 502 554.4 503 554.4 503 553.1 504 553.1 504 552.8 505 552.8 505 550.5 506 550.5 506 548.6 507 548.6 507 543.6 508 543.6 508 535.8 509 535.8 509 546.1 510 546.1 510 547.6 511 547.6 511 546.9 512 546.9 512 542.9 513 542.9 513 543.1 514 543.1 514 547 515 547 515 544.6 516 544.6 516 544.5 517 544.5 517 545.5 518 545.5 518 544.7 519 544.7 519 544.3 520 544.3 520 543.7 521 543.7 521 543.1 522 543.1 522 542.1 523 542.1 523 539.9 524 539.9 524 540.9 525 540.9 525 539.2 526 539.2 526 536 527 536 527 533.3 528 533.3 528 533 529 533 529 524.1 530 524.1 530 520.4 531 520.4 531 518.9 532 518.9 532 523.2 533 523.2 533 509.2 534 509.2 534 513.6 535 513.6 535 525.9 536 525.9 536 519.2 537 519.2 537 524.3 538 524.3 538 522.2 539 522.2 539 519.2 540 519.2 540 525.9 541 525.9 541 530.8 542 530.8 542 528.6 543 528.6 543 525.2 544 525.2 544 521.4 545 521.4 545 522.7 546 522.7 546 521.1 547 521.1 547 518.4 548 518.4 548 525.5 549 525.5 549 526.2 550 526.2 550 527 551 527 551 525 552 525 552 528.7 553 528.7 553 523.2 554 523.2 554 517.3 555 517.3 555 513.2 556 513.2 556 509.9 557 509.9 557 510.7 558 510.7 558 505 559 505 559 498.4 560 498.4 560 502.4 561 502.4 561 508.6 562 508.6 562 517.8 563 517.8 563 508.9 564 508.9 564 517.7 565 517.7 565 503.4 566 503.4 566 520.3 567 520.3 567 519.8 568 519.8 568 518.7 569 518.7 569 520.9 570 520.9 570 523.4 571 523.4 571 518.1 572 518.1 572 521.7 573 521.7 573 521.5 574 521.5 574 520.3 575 520.3 575 521.2 576 521.2 576 523.1 577 523.1 577 523.2 578 523.2 578 523.3 579 523.3 579 523.3 580 523.3 580 523.3 581 523.3 581 522.3 582 522.3 582 515.7 583 515.7 583 505.2 584 505.2 584 487.9 585 487.9 585 495.2 586 495.2 586 499.6 587 499.6 587 501.4 588 501.4 588 500.6 589 500.6 589 500.2 590 500.2 590 492.4 591 492.4 591 506.2 592 506.2 592 504 593 504 593 511.9 594 511.9 594 513.7 595 513.7 595 509.7 596 509.7 596 511 597 511 597 512.9 598 512.9 598 515.8 599 515.8 599 515.9 600 515.9 600 517.7 601 517.7 601 516.6 602 516.6 602 515.8 603 515.8 603 522.2 604 522.2 604 520.6 605 520.6 605 520.3 606 520.3 606 512.6 607 512.6 607 518.4 608 518.4 608 522.1 609 522.1 609 522.3 610 522.3 610 522.3 611 522.3 611 520.7 612 520.7 612 519.8 613 519.8 613 522.1 614 522.1 614 521.8 615 521.8 615 521.7 616 521.7 616 520.4 617 520.4 617 521.2 618 521.2 618 519.1 619 519.1 619 518.2 620 518.2 620 518.8 621 518.8 621 511.3 622 511.3 622 514.7 623 514.7 623 516.9 624 516.9 624 515.7 625 515.7 625 514.2 626 514.2 626 511.6 627 511.6 627 510.2 628 510.2 628 505.4 629 505.4 629 499.2 630 499.2 630 507.2 631 507.2 631 507.1 632 507.1 632 502.2 633 502.2 633 509.2 634 509.2 634 497.4 635 497.4 635 504.6 636 504.6 636 487.9 637 487.9 637 485.8 638 485.8 638 488.7 639 488.7 639 495.2 640 495.2 640 488.5 641 488.5 641 503.6 642 503.6 642 505 643 505 643 508.4 644 508.4 644 505.6 645 505.6 645 500.7 646 500.7 646 504.6 647 504.6 647 500.4 648 500.4 648 502.1 649 502.1 649 499 650 499 650 505 651 505 651 504.9 652 504.9 652 505.9 653 505.9 653 505.7 654 505.7 654 505.5 655 505.5 655 505.4 656 505.4 656 503.7 657 503.7 657 501.3 658 501.3 658 502.4 659 502.4 659 503.6 660 503.6 660 504 661 504 661 501.9 662 501.9 662 502.5 663 502.5 663 501.1 664 501.1 664 493 665 493 665 501.5 666 501.5 666 498.8 667 498.8 667 492.7 668 492.7 668 493.3 669 493.3 669 483.3 670 483.3 670 489.9 671 489.9 671 491.3 672 491.3 672 585.2 671 585.2 671 585.9 670 585.9 670 584.2 669 584.2 669 581.3 668 581.3 668 581.8 667 581.8 667 585.5 666 585.5 666 586.5 665 586.5 665 585.5 664 585.5 664 586.5 663 586.5 663 585.4 662 585.4 662 583 661 583 661 584.1 660 584.1 660 585 659 585 659 584.6 658 584.6 658 586.1 657 586.1 657 587.6 656 587.6 656 586 655 586 655 586 654 586 654 587.1 653 587.1 653 585.7 652 585.7 652 585.7 651 585.7 651 585.9 650 585.9 650 586.7 649 586.7 649 591.8 648 591.8 648 591.6 647 591.6 647 595.4 646 595.4 646 595.8 645 595.8 645 606.5 644 606.5 644 596.4 643 596.4 643 592.1 642 592.1 642 595.7 641 595.7 641 597.4 640 597.4 640 597.6 639 597.6 639 592 638 592 638 595.5 637 595.5 637 597.3 636 597.3 636 600.3 635 600.3 635 592.8 634 592.8 634 590.1 633 590.1 633 590.3 632 590.3 632 593 631 593 631 601 630 601 630 599 629 599 629 606.4 628 606.4 628 599.8 627 599.8 627 599.4 626 599.4 626 598.5 625 598.5 625 598.2 624 598.2 624 596.6 623 596.6 623 592.1 622 592.1 622 605.4 621 605.4 621 598 620 598 620 598.6 619 598.6 619 596.1 618 596.1 618 594.4 617 594.4 617 596.2 616 596.2 616 597.4 615 597.4 615 596 614 596 614 595.5 613 595.5 613 598.2 612 598.2 612 600.9 611 600.9 611 604.2 610 604.2 610 610.5 609 610.5 609 615.2 608 615.2 608 615.6 607 615.6 607 604.8 606 604.8 606 601 605 601 605 596.5 604 596.5 604 594.2 603 594.2 603 594.1 602 594.1 602 595.3 601 595.3 601 596.3 600 596.3 600 596.5 599 596.5 599 596.1 598 596.1 598 602 597 602 597 600.8 596 600.8 596 598.5 595 598.5 595 599.3 594 599.3 594 609.5 593 609.5 593 602.9 592 602.9 592 598.5 591 598.5 591 601.4 590 601.4 590 601.3 589 601.3 589 608.6 588 608.6 588 608 587 608 587 608.2 586 608.2 586 606.3 585 606.3 585 603.5 584 603.5 584 603.6 583 603.6 583 605.7 582 605.7 582 607.7 581 607.7 581 607 580 607 580 610.6 579 610.6 579 612.6 578 612.6 578 613.2 577 613.2 577 614.5 576 614.5 576 610.3 575 610.3 575 607 574 607 574 608.7 573 608.7 573 613.1 572 613.1 572 614.4 571 614.4 571 614.6 570 614.6 570 612.3 569 612.3 569 614.6 568 614.6 568 621.9 567 621.9 567 624.2 566 624.2 566 625.7 565 625.7 565 619.3 564 619.3 564 619.3 563 619.3 563 624.4 562 624.4 562 625.1 561 625.1 561 636.2 560 636.2 560 638.5 559 638.5 559 643.4 558 643.4 558 631.8 557 631.8 557 625 556 625 556 621 555 621 555 618.4 554 618.4 554 616.5 553 616.5 553 614 552 614 552 618.2 551 618.2 551 618.4 550 618.4 550 616.4 549 616.4 549 617.7 548 617.7 548 621.2 547 621.2 547 616.4 546 616.4 546 617.5 545 617.5 545 621.2 544 621.2 544 625.2 543 625.2 543 627.4 542 627.4 542 623.3 541 623.3 541 621.9 540 621.9 540 623 539 623 539 620.3 538 620.3 538 621 537 621 537 621.8 536 621.8 536 622.7 535 622.7 535 623.7 534 623.7 534 626.6 533 626.6 533 629.1 532 629.1 532 626.4 531 626.4 531 628.9 530 628.9 530 628 529 628 529 626.9 528 626.9 528 626.6 527 626.6 527 626.2 526 626.2 526 627.1 525 627.1 525 627.8 524 627.8 524 627.7 523 627.7 523 629.6 522 629.6 522 631.4 521 631.4 521 637.4 520 637.4 520 637 519 637 519 635 518 635 518 633.5 517 633.5 517 633.6 516 633.6 516 639 515 639 515 632.2 514 632.2 514 631.8 513 631.8 513 632.2 512 632.2 512 633 511 633 511 633.3 510 633.3 510 633 509 633 509 634.7 508 634.7 508 637.5 507 637.5 507 638.2 506 638.2 506 637.4 505 637.4 505 638.5 504 638.5 504 639.8 503 639.8 503 651.5 502 651.5 502 644.6 501 644.6 501 639.2 500 639.2 500 644.6 499 644.6 499 641.9 498 641.9 498 640.5 497 640.5 497 642.8 496 642.8 496 644 495 644 495 645.9 494 645.9 494 646.5 493 646.5 493 645 492 645 492 647.4 491 647.4 491 645.4 490 645.4 490 641.6 489 641.6 489 642 488 642 488 645.9 487 645.9 487 644.7 486 644.7 486 646.7 485 646.7 485 645.8 484 645.8 484 647.5 483 647.5 483 656.7 482 656.7 482 653.6 481 653.6 481 660.9 480 660.9 480 649.6 479 649.6 479 654.5 478 654.5 478 668.5 477 668.5 477 666.2 476 666.2 476 669.8 475 669.8 475 670 474 670 474 670.2 473 670.2 473 654.2 472 654.2 472 648.7 471 648.7 471 647.8 470 647.8 470 642.7 469 642.7 469 643.5 468 643.5 468 641.7 467 641.7 467 639.5 466 639.5 466 640 465 640 465 639.9 464 639.9 464 641.3 463 641.3 463 643.2 462 643.2 462 642.3 461 642.3 461 641.4 460 641.4 460 641.1 459 641.1 459 641.3 458 641.3 458 642.9 457 642.9 457 642 456 642 456 643.7 455 643.7 455 643.1 454 643.1 454 642.4 453 642.4 453 643.5 452 643.5 452 643 451 643 451 644.7 450 644.7 450 646.3 449 646.3 449 646.3 448 646.3 448 649.4 447 649.4 447 649.2 446 649.2 446 646.3 445 646.3 445 644.9 444 644.9 444 649 443 649 443 647.8 442 647.8 442 646.1 441 646.1 441 647.1 440 647.1 440 647.4 439 647.4 439 648.2 438 648.2 438 647.1 437 647.1 437 647.3 436 647.3 436 649.4 435 649.4 435 652.4 434 652.4 434 655 433 655 433 655.8 432 655.8 432 655.9 431 655.9 431 657.4 430 657.4 430 654.3 429 654.3 429 652.6 428 652.6 428 652.5 427 652.5 427 657.1 426 657.1 426 655.5 425 655.5 425 659.2 424 659.2 424 658.4 423 658.4 423 662 422 662 422 668 421 668 421 667 420 667 420 669.9 419 669.9 419 665.6 418 665.6 418 659.8 417 659.8 417 664 416 664 416 661.8 415 661.8 415 666.1 414 666.1 414 665 413 665 413 666.4 412 666.4 412 664.8 411 664.8 411 663.5 410 663.5 410 664.3 409 664.3 409 664.1 408 664.1 408 666 407 666 407 665.5 406 665.5 406 668.7 405 668.7 405 675.9 404 675.9 404 676.5 403 676.5 403 675.7 402 675.7 402 670.2 401 670.2 401 666.8 400 666.8 400 667.4 399 667.4 399 667.9 398 667.9 398 668.5 397 668.5 397 671.2 396 671.2 396 669.7 395 669.7 395 672.1 394 672.1 394 670.5 393 670.5 393 672.2 392 672.2 392 668.5 391 668.5 391 668 390 668 390 672.9 389 672.9 389 670.2 388 670.2 388 671.5 387 671.5 387 677.4 386 677.4 386 675.6 385 675.6 385 675 384 675 384 677.9 383 677.9 383 687.9 382 687.9 382 687.1 381 687.1 381 678.2 380 678.2 380 678 379 678 379 681 378 681 378 679.1 377 679.1 377 686.8 376 686.8 376 687.1 375 687.1 375 687.7 374 687.7 374 692.3 373 692.3 373 683.3 372 683.3 372 682.7 371 682.7 371 680.4 370 680.4 370 676.3 369 676.3 369 673.9 368 673.9 368 677 367 677 367 674.7 366 674.7 366 675.3 365 675.3 365 676 364 676 364 674.9 363 674.9 363 674.9 362 674.9 362 675.1 361 675.1 361 674.9 360 674.9 360 674.6 359 674.6 359 675.2 358 675.2 358 675.3 357 675.3 357 677.1 356 677.1 356 681 355 681 355 686.1 354 686.1 354 682.2 353 682.2 353 687.8 352 687.8 352 682.3 351 682.3 351 678.2 350 678.2 350 683.6 349 683.6 349 686.8 348 686.8 348 690.3 347 690.3 347 681.9 346 681.9 346 683.8 345 683.8 345 688.7 344 688.7 344 688.2 343 688.2 343 686.3 342 686.3 342 682.8 341 682.8 341 680.7 340 680.7 340 682.1 339 682.1 339 678.8 338 678.8 338 680.8 337 680.8 337 680.8 336 680.8 336 689.7 335 689.7 335 691.6 334 691.6 334 695.5 333 695.5 333 688.4 332 688.4 332 687.9 331 687.9 331 688.1 330 688.1 330 683.8 329 683.8 329 683.3 328 683.3 328 684.4 327 684.4 327 685.7 326 685.7 326 683.8 325 683.8 325 685.2 324 685.2 324 684.1 323 684.1 323 682.5 322 682.5 322 682.1 321 682.1 321 682.9 320 682.9 320 684.7 319 684.7 319 683.3 318 683.3 318 684.8 317 684.8 317 686.7 316 686.7 316 684.5 315 684.5 315 685.1 314 685.1 314 687.4 313 687.4 313 686.1 312 686.1 312 685.7 311 685.7 311 686.2 310 686.2 310 687 309 687 309 686.7 308 686.7 308 692 307 692 307 697.8 306 697.8 306 702.8 305 702.8 305 699.5 304 699.5 304 693.1 303 693.1 303 693.2 302 693.2 302 695 301 695 301 693 300 693 300 692.1 299 692.1 299 700 298 700 298 695.8 297 695.8 297 694.3 296 694.3 296 689.8 295 689.8 295 689.8 294 689.8 294 698.1 293 698.1 293 694.8 292 694.8 292 696.3 291 696.3 291 696.3 290 696.3 290 692 289 692 289 688.9 288 688.9 288 689.4 287 689.4 287 691.3 286 691.3 286 688.6 285 688.6 285 689.7 284 689.7 284 687.1 283 687.1 283 688.2 282 688.2 282 692.1 281 692.1 281 689.6 280 689.6 280 689.4 279 689.4 279 692.3 278 692.3 278 693.4 277 693.4 277 698.6 276 698.6 276 697.7 275 697.7 275 697.8 274 697.8 274 694 273 694 273 688.3 272 688.3 272 697.4 271 697.4 271 699.6 270 699.6 270 694.4 269 694.4 269 689.5 268 689.5 268 691.1 267 691.1 267 691.2 266 691.2 266 687 265 687 265 686.2 264 686.2 264 690.2 263 690.2 263 689.5 262 689.5 262 690.1 261 690.1 261 694.2 260 694.2 260 693.5 259 693.5 259 695 258 695 258 688 257 688 257 685.5 256 685.5 256 684.8 255 684.8 255 685.1 254 685.1 254 684.2 253 684.2 253 685.7 252 685.7 252 684.3 251 684.3 251 686.9 250 686.9 250 688.6 249 688.6 249 690.5 248 690.5 248 691.9 247 691.9 247 693.1 246 693.1 246 690.6 245 690.6 245 689.2 244 689.2 244 687.4 243 687.4 243 687.5 242 687.5 242 686.9 241 686.9 241 687.3 240 687.3 240 688.4 239 688.4 239 688.4 238 688.4 238 695.6 237 695.6 237 695.5 236 695.5 236 694.8 235 694.8 235 702.6 234 702.6 234 699.4 233 699.4 233 703.5 232 703.5 232 704.5 231 704.5 231 692.5 230 692.5 230 689 229 689 229 686.9 228 686.9 228 686.7 227 686.7 227 688.4 226 688.4 226 687.9 225 687.9 225 697.9 224 697.9 224 692.6 223 692.6 223 702.1 222 702.1 222 690 221 690 221 682.5 220 682.5 220 681 219 681 219 681.4 218 681.4 218 681.1 217 681.1 217 682.6 216 682.6 216 685.3 215 685.3 215 686.6 214 686.6 214 683.3 213 683.3 213 680.1 212 680.1 212 679.9 211 679.9 211 685.1 210 685.1 210 679.4 209 679.4 209 677.7 208 677.7 208 679.7 207 679.7 207 679 206 679 206 680.8 205 680.8 205 677.3 204 677.3 204 677.7 203 677.7 203 679 202 679 202 679.5 201 679.5 201 680.4 200 680.4 200 681.5 199 681.5 199 676.5 198 676.5 198 675 197 675 197 676 196 676 196 674.1 195 674.1 195 673.8 194 673.8 194 674.5 193 674.5 193 675.2 192 675.2 192 677.7 191 677.7 191 679.7 190 679.7 190 676.7 189 676.7 189 678.9 188 678.9 188 679 187 679 187 677.6 186 677.6 186 679.6 185 679.6 185 679.9 184 679.9 184 683.9 183 683.9 183 679.7 182 679.7 182 687 181 687 181 679.4 180 679.4 180 684 179 684 179 678.3 178 678.3 178 675.4 177 675.4 177 675.5 176 675.5 176 669.8 175 669.8 175 668.3 174 668.3 174 667.9 173 667.9Z" fill="#a020f0" fill-opacity="0.4"/>
<path d="M117.8 680.6 118.8 677.1 119.8 669.3 120.8 664.8 121.8 658.1 122.8 652 123.8 648.4 124.8 646.7 125.8 641 126.8 641.2 127.8 638.2 128.8 637.1 129.8 636.7 130.8 637.7 131.8 635.9 132.8 633.7 133.8 634 134.8 633.1 135.8 634 136.8 633.4 137.8 634.5 138.8 633.9 139.8 631.1 140.8 630.8 141.8 631.1 142.8 633.2 143.8 634.1 144.8 634.7 145.8 634.1 146.8 634.7 147.8 635.8 148.8 635.1 149.8 635.4 150.8 632.8 151.8 634 152.8 633.9 153.8 634.8 154.8 635.7 155.8 636.6 156.8 636.2 157.8 637.4 158.8 638 159.8 638.5 160.8 641.1 161.8 640.7 162.8 639.8 163.8 640.2 164.8 642.3 165.8 641.6 166.8 644.7 167.8 645.6 168.8 645.1 169.8 646.1 170.8 647.6 171.8 647 M173.5 636.7 174.5 639 175.5 644.4 176.5 646.4 177.5 651.5 178.5 647.5 179.5 653 180.5 653.9 181.5 651.8 182.5 664.1 183.5 661.2 184.5 658.1 185.5 652.7 186.5 660.2 187.5 652.5 188.5 652.4 189.5 663.6 190.5 663.1 191.5 652.5 192.5 660.7 193.5 653.7 194.5 648.1 195.5 654.3 196.5 660.3 197.5 656.7 198.5 664.3 199.5 658.4 200.5 660.8 201.5 657.3 202.5 666.3 203.5 663.6 204.5 658.5 205.5 654.5 206.5 658.3 207.5 658.8 208.5 651.9 209.5 650.3 210.5 650.4 211.5 650.4 212.5 642.9 213.5 651.6 214.5 650.7 215.5 649.7 216.5 649.5 217.5 650.1 218.5 655.2 219.5 654.5 220.5 650.7 221.5 645.7 222.5 647.6 223.5 651.4 224.5 656.4 225.5 659.1 226.5 667.6 227.5 666 228.5 664.9 229.5 664.8 230.5 655 231.5 663.6 232.5 656 233.5 664.1 234.5 669.9 235.5 663.6 236.5 668.8 237.5 674.6 238.5 685.4 239.5 676.4 240.5 668.2 241.5 667 242.5 660.6 243.5 667.4 244.5 672.2 245.5 662.6 246.5 657.3 247.5 671.5 248.5 667.9 249.5 667.1 250.5 664.5 251.5 658.9 252.5 657.1 253.5 652.6 254.5 644.1 255.5 650.6 256.5 650.2 257.5 654.7 258.5 651 259.5 651.5 260.5 656.7 261.5 664.2 262.5 661.3 263.5 668.7 264.5 664.4 265.5 671.1 266.5 666.8 267.5 670.1 268.5 663.1 269.5 661.7 270.5 666 271.5 666.2 272.5 671.5 273.5 667.9 274.5 675.2 275.5 669.5 276.5 657.5 277.5 663.4 278.5 667.4 279.5 671.8 280.5 672.1 281.5 680.7 282.5 675.1 283.5 674.3 284.5 667.2 285.5 668.1 286.5 656.9 287.5 666 288.5 665.8 289.5 652.9 290.5 645.7 291.5 642 292.5 652.7 293.5 648.8 294.5 643.7 295.5 644 296.5 645.1 297.5 646.1 298.5 646.1 299.5 642.2 300.5 646.8 301.5 660.6 302.5 661.5 303.5 665.3 304.5 666.3 305.5 669.9 306.5 670.9 307.5 670.4 308.5 669.6 309.5 674.3 310.5 668.7 311.5 654.3 312.5 650.8 313.5 652 314.5 646.6 315.5 652.5 316.5 660.7 317.5 651.9 318.5 648.3 319.5 648.9 320.5 638.6 321.5 643.1 322.5 646.1 323.5 648.3 324.5 653.1 325.5 661.5 326.5 658.5 327.5 657.8 328.5 648.7 329.5 652 330.5 647.7 331.5 650.5 332.5 654.4 333.5 651 334.5 656.5 335.5 650.8 336.5 651.5 337.5 655.5 338.5 649.4 339.5 655.5 340.5 654 341.5 659.3 342.5 655.3 343.5 655.4 344.5 654.7 345.5 649.5 346.5 643.8 347.5 640.4 348.5 652.4 349.5 648.8 350.5 643.7 351.5 640.8 352.5 636 353.5 628 354.5 639.2 355.5 649.1 356.5 651.7 357.5 648.4 358.5 643.7 359.5 648.1 360.5 645.4 361.5 651.7 362.5 652.2 363.5 650.9 364.5 653.2 365.5 654.5 366.5 652.4 367.5 646.3 368.5 639.7 369.5 645.1 370.5 636.6 371.5 643 372.5 641.6 373.5 644.7 374.5 639.8 375.5 640.5 376.5 633.4 377.5 626.2 378.5 628.5 379.5 623.6 380.5 634 381.5 638.1 382.5 632.6 383.5 636.3 384.5 638.5 385.5 639.7 386.5 642.9 387.5 639.6 388.5 630.9 389.5 633 390.5 639.3 391.5 637.5 392.5 636.5 393.5 633.3 394.5 636.7 395.5 626.1 396.5 626.6 397.5 625.5 398.5 626.2 399.5 624.3 400.5 622.9 401.5 613.8 402.5 613 403.5 613.6 404.5 614.8 405.5 624 406.5 626.9 407.5 632 408.5 631.4 409.5 633.5 410.5 637.8 411.5 634.4 412.5 631.9 413.5 627.8 414.5 626.7 415.5 632.1 416.5 623.6 417.5 629.7 418.5 636.1 419.5 634.7 420.5 632 421.5 634.7 422.5 633.1 423.5 636.8 424.5 632.4 425.5 619.1 426.5 617.2 427.5 616.4 428.5 614.5 429.5 622.4 430.5 621.3 431.5 627.5 432.5 627 433.5 619.4 434.5 613.6 435.5 622.4 436.5 611.9 437.5 611.7 438.5 610.5 439.5 599.1 440.5 605.8 441.5 601.9 442.5 598.3 443.5 603.7 444.5 607.6 445.5 608.1 446.5 609.4 447.5 613.9 448.5 612 449.5 610.3 450.5 611.3 451.5 615 452.5 616.1 453.5 610.6 454.5 614.1 455.5 613.5 456.5 615.8 457.5 602.9 458.5 607.1 459.5 608.2 460.5 602.7 461.5 598.7 462.5 602.6 463.5 599.4 464.5 604.5 465.5 605.2 466.5 599.8 467.5 600.9 468.5 602.6 469.5 611.5 470.5 611.1 471.5 606.1 472.5 601.8 473.5 604.4 474.5 605.6 475.5 601.8 476.5 604.5 477.5 610.5 478.5 604.6 479.5 599.4 480.5 606.6 481.5 600.1 482.5 602.3 483.5 588 484.5 591.8 485.5 593.3 486.5 604.3 487.5 602.9 488.5 596.1 489.5 582.1 490.5 592.1 491.5 584.8 492.5 593.8 493.5 587.8 494.5 579 495.5 574.1 496.5 583.2 497.5 583.7 498.5 585.2 499.5 590.5 500.5 602 501.5 607.3 502.5 600.9 503.5 604.2 504.5 590.3 505.5 603 506.5 608.9 507.5 593.8 508.5 584.6 509.5 587.6 510.5 588.4 511.5 579.9 512.5 574.4 513.5 562.5 514.5 564.7 515.5 576.7 516.5 582.8 517.5 588.8 518.5 587.1 519.5 589.3 520.5 583 521.5 579 522.5 586 523.5 588.4 524.5 589.9 525.5 581.5 526.5 583.1 527.5 590.3 528.5 596.3 529.5 597 530.5 585.3 531.5 582 532.5 575.9 533.5 572.6 534.5 573 535.5 568.5 536.5 567.6 537.5 572.7 538.5 571.2 539.5 575.4 540.5 574.4 541.5 576.2 542.5 573 543.5 574.2 544.5 574.4 545.5 575.6 546.5 573.9 547.5 575.2 548.5 578.8 549.5 576.6 550.5 573.1 551.5 567 552.5 577.2 553.5 574.7 554.5 579.6 555.5 570.9 556.5 576 557.5 572.7 558.5 579 559.5 573.3 560.5 568.2 561.5 567.8 562.5 569.6 563.5 572.4 564.5 575.1 565.5 579.1 566.5 573.4 567.5 579.3 568.5 588.2 569.5 584.5 570.5 579.5 571.5 571.8 572.5 571.5 573.5 569.2 574.5 564.4 575.5 555.5 576.5 558.8 577.5 552.8 578.5 557.4 579.5 565.8 580.5 559.5 581.5 558.3 582.5 560.2 583.5 557.3 584.5 554.2 585.5 549.2 586.5 549.2 587.5 553.8 588.5 560.2 589.5 558 590.5 560.9 591.5 559 592.5 554.5 593.5 563.9 594.5 549 595.5 547.2 596.5 553 597.5 556.7 598.5 569.2 599.5 570.9 600.5 574 601.5 579.7 602.5 579.9 603.5 576.9 604.5 566.9 605.5 564 606.5 568.7 607.5 558 608.5 562.1 609.5 559.6 610.5 558.4 611.5 555.6 612.5 547.7 613.5 559 614.5 550.8 615.5 555.7 616.5 553.1 617.5 555.4 618.5 559.6 619.5 566.4 620.5 566.4 621.5 565.9 622.5 560.5 623.5 554.5 624.5 572.7 625.5 563.8 626.5 554.4 627.5 550.7 628.5 551.3 629.5 545.3 630.5 542.7 631.5 550 632.5 548.1 633.5 548.1 634.5 553.9 635.5 554.6 636.5 560.5 637.5 559.8 638.5 555.8 639.5 556.3 640.5 548 641.5 540.4 642.5 539.1 643.5 546.5 644.5 547.7 645.5 556.3 646.5 555 647.5 555.3 648.5 555 649.5 551.1 650.5 553.5 651.5 548.1 652.5 550 653.5 556.8 654.5 549.8 655.5 556.1 656.5 552.2 657.5 552.2 658.5 554.6 659.5 549.1 660.5 548.4 661.5 554.2 662.5 559.9 663.5 550.6 664.5 554.6 665.5 549.9 666.5 548 667.5 551.9 668.5 553.8 669.5 554.4 670.5 551.2 671.5 548.1" fill="none" stroke="#a020f0" stroke-opacity="0.72" stroke-width="5.76" stroke-linejoin="round" stroke-linecap="butt"/>
<path d="M173.5 592.8 174.5 593.4 175.5 594 176.5 594.6 177.5 595.2 178.5 595.8 179.5 596.3 180.5 596.9 181.5 597.4 182.5 597.9 183.5 598.4 184.5 598.9 185.5 599.3 186.5 599.8 187.5 600.2 188.5 600.6 189.5 601 190.5 601.4 191.5 601.8 192.5 602.2 193.5 602.5 194.5 602.9 195.5 603.2 196.5 603.5 197.5 603.8 198.5 604.1 199.5 604.3 200.5 604.6 201.5 604.8 202.5 605.1 203.5 605.3 204.5 605.5 205.5 605.7 206.5 605.9 207.5 606 208.5 606.2 209.5 606.3 210.5 606.4 211.5 606.6 212.5 606.7 213.5 606.8 214.5 606.8 215.5 606.9 216.5 607 217.5 607 218.5 607 219.5 607.1 220.5 607.1 221.5 607.1 222.5 607 223.5 607 224.5 607 225.5 606.9 226.5 606.9 227.5 606.8 228.5 606.7 229.5 606.6 230.5 606.5 231.5 606.4 232.5 606.3 233.5 606.1 234.5 606 235.5 605.8 236.5 605.7 237.5 605.5 238.5 605.3 239.5 605.1 240.5 604.9 241.5 604.7 242.5 604.5 243.5 604.2 244.5 604 245.5 603.7 246.5 603.5 247.5 603.2 248.5 602.9 249.5 602.6 250.5 602.3 251.5 602 252.5 601.7 253.5 601.4 254.5 601 255.5 600.7 256.5 600.3 257.5 600 258.5 599.6 259.5 599.2 260.5 598.8 261.5 598.4 262.5 598 263.5 597.6 264.5 597.2 265.5 596.8 266.5 596.3 267.5 595.9 268.5 595.4 269.5 595 270.5 594.5 271.5 594 272.5 593.6 273.5 593.1 274.5 592.6 275.5 592.1 276.5 591.6 277.5 591 278.5 590.5 279.5 590 280.5 589.4 281.5 588.9 282.5 588.4 283.5 587.8 284.5 587.2 285.5 586.7 286.5 586.1 287.5 585.5 288.5 584.9 289.5 584.3 290.5 583.7 291.5 583.1 292.5 582.5 293.5 581.9 294.5 581.3 295.5 580.7 296.5 580 297.5 579.4 298.5 578.8 299.5 578.1 300.5 577.5 301.5 576.8 302.5 576.1 303.5 575.5 304.5 574.8 305.5 574.1 306.5 573.4 307.5 572.8 308.5 572.1 309.5 571.4 310.5 570.7 311.5 570 312.5 569.3 313.5 568.6 314.5 567.9 315.5 567.1 316.5 566.4 317.5 565.7 318.5 565 319.5 564.2 320.5 563.5 321.5 562.8 322.5 562 323.5 561.3 324.5 560.5 325.5 559.8 326.5 559 327.5 558.3 328.5 557.5 329.5 556.7 330.5 556 331.5 555.2 332.5 554.4 333.5 553.6 334.5 552.9 335.5 552.1 336.5 551.3 337.5 550.5 338.5 549.7 339.5 548.9 340.5 548.1 341.5 547.3 342.5 546.5 343.5 545.7 344.5 544.9 345.5 544.1 346.5 543.3 347.5 542.5 348.5 541.7 349.5 540.9 350.5 540 351.5 539.2 352.5 538.4 353.5 537.6 354.5 536.8 355.5 535.9 356.5 535.1 357.5 534.3 358.5 533.4 359.5 532.6 360.5 531.8 361.5 530.9 362.5 530.1 363.5 529.3 364.5 528.4 365.5 527.6 366.5 526.7 367.5 525.9 368.5 525.1 369.5 524.2 370.5 523.4 371.5 522.5 372.5 521.7 373.5 520.8 374.5 520 375.5 519.1 376.5 518.3 377.5 517.4 378.5 516.6 379.5 515.7 380.5 514.9 381.5 514 382.5 513.2 383.5 512.3 384.5 511.5 385.5 510.6 386.5 509.7 387.5 508.9 388.5 508 389.5 507.2 390.5 506.3 391.5 505.5 392.5 504.6 393.5 503.8 394.5 502.9 395.5 502.1 396.5 501.2 397.5 500.4 398.5 499.5 399.5 498.7 400.5 497.8 401.5 497 402.5 496.1 403.5 495.3 404.5 494.4 405.5 493.6 406.5 492.8 407.5 491.9 408.5 491.1 409.5 490.2 410.5 489.4 411.5 488.6 412.5 487.7 413.5 486.9 414.5 486.1 415.5 485.2 416.5 484.4 417.5 483.6 418.5 482.7 419.5 481.9 420.5 481.1 421.5 480.3 422.5 479.5 423.5 478.6 424.5 477.8 425.5 477 426.5 476.2 427.5 475.4 428.5 474.6 429.5 473.8 430.5 473 431.5 472.2 432.5 471.4 433.5 470.6 434.5 469.8 435.5 469 436.5 468.2 437.5 467.4 438.5 466.6 439.5 465.8 440.5 465.1 441.5 464.3 442.5 463.5 443.5 462.7 444.5 461.9 445.5 461.2 446.5 460.4 447.5 459.6 448.5 458.9 449.5 458.1 450.5 457.3 451.5 456.6 452.5 455.8 453.5 455.1 454.5 454.3 455.5 453.6 456.5 452.8 457.5 452 458.5 451.3 459.5 450.6 460.5 449.8 461.5 449.1 462.5 448.3 463.5 447.6 464.5 446.9 465.5 446.1 466.5 445.4 467.5 444.7 468.5 443.9 469.5 443.2 470.5 442.5 471.5 441.8 472.5 441 473.5 440.3 474.5 439.6 475.5 438.9 476.5 438.2 477.5 437.5 478.5 436.7 479.5 436 480.5 435.3 481.5 434.6 482.5 433.9 483.5 433.2 484.5 432.5 485.5 431.8 486.5 431.1 487.5 430.4 488.5 429.7 489.5 429 490.5 428.4 491.5 427.7 492.5 427 493.5 426.3 494.5 425.6 495.5 424.9 496.5 424.3 497.5 423.6 498.5 422.9 499.5 422.2 500.5 421.6 501.5 420.9 502.5 420.2 503.5 419.6 504.5 418.9 505.5 418.2 506.5 417.6 507.5 416.9 508.5 416.2 509.5 415.6 510.5 414.9 511.5 414.3 512.5 413.6 513.5 413 514.5 412.3 515.5 411.7 516.5 411 517.5 410.4 518.5 409.7 519.5 409.1 520.5 408.5 521.5 407.8 522.5 407.2 523.5 406.6 524.5 405.9 525.5 405.3 526.5 404.7 527.5 404 528.5 403.4 529.5 402.8 530.5 402.2 531.5 401.5 532.5 400.9 533.5 400.3 534.5 399.7 535.5 399.1 536.5 398.4 537.5 397.8 538.5 397.2 539.5 396.6 540.5 396 541.5 395.4 542.5 394.8 543.5 394.2 544.5 393.6 545.5 393 546.5 392.4 547.5 391.8 548.5 391.2 549.5 390.6 550.5 390 551.5 389.4 552.5 388.8 553.5 388.2 554.5 387.6 555.5 387 556.5 386.5 557.5 385.9 558.5 385.3 559.5 384.7 560.5 384.1 561.5 383.5 562.5 383 563.5 382.4 564.5 381.8 565.5 381.2 566.5 380.6 567.5 380.1 568.5 379.5 569.5 378.9 570.5 378.3 571.5 377.8 572.5 377.2 573.5 376.6 574.5 376.1 575.5 375.5 576.5 374.9 577.5 374.4 578.5 373.8 579.5 373.2 580.5 372.7 581.5 372.1 582.5 371.5 583.5 371 584.5 370.4 585.5 369.8 586.5 369.3 587.5 368.7 588.5 368.1 589.5 367.6 590.5 367 591.5 366.4 592.5 365.9 593.5 365.3 594.5 364.7 595.5 364.2 596.5 363.6 597.5 363.1 598.5 362.5 599.5 361.9 600.5 361.4 601.5 360.8 602.5 360.2 603.5 359.7 604.5 359.1 605.5 358.5 606.5 358 607.5 357.4 608.5 356.8 609.5 356.3 610.5 355.7 611.5 355.1 612.5 354.6 613.5 354 614.5 353.4 615.5 352.9 616.5 352.3 617.5 351.7 618.5 351.1 619.5 350.6 620.5 350 621.5 349.4 622.5 348.8 623.5 348.3 624.5 347.7 625.5 347.1 626.5 346.5 627.5 346 628.5 345.4 629.5 344.8 630.5 344.2 631.5 343.6 632.5 343 633.5 342.5 634.5 341.9 635.5 341.3 636.5 340.7 637.5 340.1 638.5 339.5 639.5 338.9 640.5 338.3 641.5 337.7 642.5 337.1 643.5 336.5 644.5 335.9 645.5 335.3 646.5 334.7 647.5 334.1 648.5 333.5 649.5 332.9 650.5 332.3 651.5 331.7 652.5 331.1 653.5 330.5 654.5 329.9 655.5 329.2 656.5 328.6 657.5 328 658.5 327.4 659.5 326.7 660.5 326.1 661.5 325.5 662.5 324.9 663.5 324.2 664.5 323.6 665.5 323 666.5 322.3 667.5 321.7 668.5 321 669.5 320.4 670.5 319.7 671.5 319.1 672.5 318.4 673.5 317.8 674.5 317.1 674.5 317.1" fill="none" stroke="#000" stroke-opacity="0.8" stroke-width="2.88" stroke-dasharray="2.88 8.64"/>
<path d="M173.5 600.7 174.5 601.4 175.5 602 176.5 602.6 177.5 603.2 178.5 603.8 179.5 604.3 180.5 604.9 181.5 605.4 182.5 605.9 183.5 606.5 184.5 607 185.5 607.4 186.5 607.9 187.5 608.4 188.5 608.8 189.5 609.3 190.5 609.7 191.5 610.1 192.5 610.5 193.5 610.9 194.5 611.2 195.5 611.6 196.5 612 197.5 612.3 198.5 612.6 199.5 612.9 200.5 613.2 201.5 613.5 202.5 613.8 203.5 614.1 204.5 614.3 205.5 614.6 206.5 614.8 207.5 615 208.5 615.2 209.5 615.4 210.5 615.6 211.5 615.8 212.5 615.9 213.5 616.1 214.5 616.2 215.5 616.4 216.5 616.5 217.5 616.6 218.5 616.7 219.5 616.8 220.5 616.9 221.5 616.9 222.5 617 223.5 617 224.5 617.1 225.5 617.1 226.5 617.1 227.5 617.1 228.5 617.1 229.5 617.1 230.5 617.1 231.5 617 232.5 617 233.5 616.9 234.5 616.9 235.5 616.8 236.5 616.7 237.5 616.6 238.5 616.5 239.5 616.4 240.5 616.3 241.5 616.2 242.5 616 243.5 615.9 244.5 615.7 245.5 615.6 246.5 615.4 247.5 615.2 248.5 615 249.5 614.8 250.5 614.6 251.5 614.4 252.5 614.2 253.5 614 254.5 613.7 255.5 613.5 256.5 613.2 257.5 613 258.5 612.7 259.5 612.4 260.5 612.2 261.5 611.9 262.5 611.6 263.5 611.3 264.5 610.9 265.5 610.6 266.5 610.3 267.5 610 268.5 609.6 269.5 609.3 270.5 608.9 271.5 608.5 272.5 608.2 273.5 607.8 274.5 607.4 275.5 607 276.5 606.6 277.5 606.2 278.5 605.8 279.5 605.4 280.5 605 281.5 604.5 282.5 604.1 283.5 603.6 284.5 603.2 285.5 602.7 286.5 602.3 287.5 601.8 288.5 601.3 289.5 600.9 290.5 600.4 291.5 599.9 292.5 599.4 293.5 598.9 294.5 598.4 295.5 597.9 296.5 597.4 297.5 596.9 298.5 596.3 299.5 595.8 300.5 595.3 301.5 594.7 302.5 594.2 303.5 593.6 304.5 593.1 305.5 592.5 306.5 592 307.5 591.4 308.5 590.8 309.5 590.3 310.5 589.7 311.5 589.1 312.5 588.5 313.5 587.9 314.5 587.3 315.5 586.7 316.5 586.1 317.5 585.5 318.5 584.9 319.5 584.3 320.5 583.7 321.5 583.1 322.5 582.4 323.5 581.8 324.5 581.2 325.5 580.5 326.5 579.9 327.5 579.3 328.5 578.6 329.5 578 330.5 577.3 331.5 576.7 332.5 576 333.5 575.3 334.5 574.7 335.5 574 336.5 573.3 337.5 572.7 338.5 572 339.5 571.3 340.5 570.6 341.5 570 342.5 569.3 343.5 568.6 344.5 567.9 345.5 567.2 346.5 566.5 347.5 565.8 348.5 565.1 349.5 564.4 350.5 563.7 351.5 563 352.5 562.3 353.5 561.6 354.5 560.9 355.5 560.2 356.5 559.5 357.5 558.7 358.5 558 359.5 557.3 360.5 556.6 361.5 555.9 362.5 555.1 363.5 554.4 364.5 553.7 365.5 552.9 366.5 552.2 367.5 551.5 368.5 550.8 369.5 550 370.5 549.3 371.5 548.5 372.5 547.8 373.5 547.1 374.5 546.3 375.5 545.6 376.5 544.9 377.5 544.1 378.5 543.4 379.5 542.6 380.5 541.9 381.5 541.1 382.5 540.4 383.5 539.6 384.5 538.9 385.5 538.2 386.5 537.4 387.5 536.7 388.5 535.9 389.5 535.2 390.5 534.4 391.5 533.7 392.5 532.9 393.5 532.2 394.5 531.4 395.5 530.7 396.5 529.9 397.5 529.2 398.5 528.4 399.5 527.7 400.5 526.9 401.5 526.2 402.5 525.4 403.5 524.7 404.5 524 405.5 523.2 406.5 522.5 407.5 521.7 408.5 521 409.5 520.2 410.5 519.5 411.5 518.8 412.5 518 413.5 517.3 414.5 516.5 415.5 515.8 416.5 515.1 417.5 514.3 418.5 513.6 419.5 512.9 420.5 512.1 421.5 511.4 422.5 510.7 423.5 510 424.5 509.2 425.5 508.5 426.5 507.8 427.5 507.1 428.5 506.4 429.5 505.6 430.5 504.9 431.5 504.2 432.5 503.5 433.5 502.8 434.5 502.1 435.5 501.4 436.5 500.7 437.5 500 438.5 499.3 439.5 498.6 440.5 497.9 441.5 497.2 442.5 496.5 443.5 495.8 444.5 495.1 445.5 494.4 446.5 493.7 447.5 493 448.5 492.3 449.5 491.6 450.5 490.9 451.5 490.3 452.5 489.6 453.5 488.9 454.5 488.2 455.5 487.6 456.5 486.9 457.5 486.2 458.5 485.5 459.5 484.9 460.5 484.2 461.5 483.5 462.5 482.9 463.5 482.2 464.5 481.5 465.5 480.9 466.5 480.2 467.5 479.6 468.5 478.9 469.5 478.3 470.5 477.6 471.5 477 472.5 476.3 473.5 475.7 474.5 475 475.5 474.4 476.5 473.7 477.5 473.1 478.5 472.5 479.5 471.8 480.5 471.2 481.5 470.6 482.5 469.9 483.5 469.3 484.5 468.7 485.5 468 486.5 467.4 487.5 466.8 488.5 466.2 489.5 465.5 490.5 464.9 491.5 464.3 492.5 463.7 493.5 463.1 494.5 462.5 495.5 461.9 496.5 461.3 497.5 460.6 498.5 460 499.5 459.4 500.5 458.8 501.5 458.2 502.5 457.6 503.5 457 504.5 456.4 505.5 455.9 506.5 455.3 507.5 454.7 508.5 454.1 509.5 453.5 510.5 452.9 511.5 452.3 512.5 451.8 513.5 451.2 514.5 450.6 515.5 450 516.5 449.4 517.5 448.9 518.5 448.3 519.5 447.7 520.5 447.2 521.5 446.6 522.5 446 523.5 445.5 524.5 444.9 525.5 444.4 526.5 443.8 527.5 443.3 528.5 442.7 529.5 442.2 530.5 441.6 531.5 441.1 532.5 440.5 533.5 440 534.5 439.4 535.5 438.9 536.5 438.3 537.5 437.8 538.5 437.3 539.5 436.7 540.5 436.2 541.5 435.7 542.5 435.2 543.5 434.6 544.5 434.1 545.5 433.6 546.5 433.1 547.5 432.5 548.5 432 549.5 431.5 550.5 431 551.5 430.5 552.5 430 553.5 429.5 554.5 429 555.5 428.5 556.5 428 557.5 427.5 558.5 427 559.5 426.5 560.5 426 561.5 425.5 562.5 425 563.5 424.5 564.5 424 565.5 423.5 566.5 423 567.5 422.5 568.5 422.1 569.5 421.6 570.5 421.1 571.5 420.6 572.5 420.1 573.5 419.7 574.5 419.2 575.5 418.7 576.5 418.2 577.5 417.8 578.5 417.3 579.5 416.8 580.5 416.4 581.5 415.9 582.5 415.4 583.5 415 584.5 414.5 585.5 414.1 586.5 413.6 587.5 413.1 588.5 412.7 589.5 412.2 590.5 411.8 591.5 411.3 592.5 410.9 593.5 410.4 594.5 410 595.5 409.5 596.5 409.1 597.5 408.6 598.5 408.2 599.5 407.7 600.5 407.3 601.5 406.8 602.5 406.4 603.5 406 604.5 405.5 605.5 405.1 606.5 404.6 607.5 404.2 608.5 403.8 609.5 403.3 610.5 402.9 611.5 402.4 612.5 402 613.5 401.6 614.5 401.1 615.5 400.7 616.5 400.3 617.5 399.8 618.5 399.4 619.5 399 620.5 398.6 621.5 398.1 622.5 397.7 623.5 397.3 624.5 396.8 625.5 396.4 626.5 396 627.5 395.6 628.5 395.1 629.5 394.7 630.5 394.3 631.5 393.9 632.5 393.4 633.5 393 634.5 392.6 635.5 392.2 636.5 391.7 637.5 391.3 638.5 390.9 639.5 390.5 640.5 390 641.5 389.6 642.5 389.2 643.5 388.8 644.5 388.4 645.5 387.9 646.5 387.5 647.5 387.1 648.5 386.7 649.5 386.3 650.5 385.8 651.5 385.4 652.5 385 653.5 384.6 654.5 384.1 655.5 383.7 656.5 383.3 657.5 382.9 658.5 382.5 659.5 382 660.5 381.6 661.5 381.2 662.5 380.8 663.5 380.3 664.5 379.9 665.5 379.5 666.5 379.1 667.5 378.7 668.5 378.2 669.5 377.8 670.5 377.4 671.5 377 672.5 376.5 673.5 376.1 674.5 375.7 674.5 375.7" fill="none" stroke="#000" stroke-opacity="0.8" stroke-width="2.88" stroke-dasharray="2.88 8.64"/>
<path d="M173.5 612.9 174.5 613.4 175.5 614 176.5 614.6 177.5 615.1 178.5 615.7 179.5 616.2 180.5 616.7 181.5 617.2 182.5 617.7 183.5 618.2 184.5 618.7 185.5 619.2 186.5 619.6 187.5 620.1 188.5 620.5 189.5 620.9 190.5 621.3 191.5 621.8 192.5 622.2 193.5 622.5 194.5 622.9 195.5 623.3 196.5 623.6 197.5 624 198.5 624.3 199.5 624.7 200.5 625 201.5 625.3 202.5 625.6 203.5 625.9 204.5 626.2 205.5 626.5 206.5 626.7 207.5 627 208.5 627.2 209.5 627.5 210.5 627.7 211.5 627.9 212.5 628.1 213.5 628.3 214.5 628.5 215.5 628.7 216.5 628.9 217.5 629 218.5 629.2 219.5 629.3 220.5 629.5 221.5 629.6 222.5 629.7 223.5 629.9 224.5 630 225.5 630.1 226.5 630.2 227.5 630.2 228.5 630.3 229.5 630.4 230.5 630.4 231.5 630.5 232.5 630.5 233.5 630.6 234.5 630.6 235.5 630.6 236.5 630.6 237.5 630.6 238.5 630.6 239.5 630.6 240.5 630.6 241.5 630.6 242.5 630.5 243.5 630.5 244.5 630.4 245.5 630.4 246.5 630.3 247.5 630.2 248.5 630.2 249.5 630.1 250.5 630 251.5 629.9 252.5 629.8 253.5 629.7 254.5 629.5 255.5 629.4 256.5 629.3 257.5 629.1 258.5 629 259.5 628.8 260.5 628.7 261.5 628.5 262.5 628.3 263.5 628.1 264.5 627.9 265.5 627.7 266.5 627.5 267.5 627.3 268.5 627.1 269.5 626.9 270.5 626.7 271.5 626.4 272.5 626.2 273.5 626 274.5 625.7 275.5 625.5 276.5 625.2 277.5 624.9 278.5 624.7 279.5 624.4 280.5 624.1 281.5 623.8 282.5 623.5 283.5 623.2 284.5 622.9 285.5 622.6 286.5 622.3 287.5 621.9 288.5 621.6 289.5 621.3 290.5 620.9 291.5 620.6 292.5 620.2 293.5 619.9 294.5 619.5 295.5 619.1 296.5 618.8 297.5 618.4 298.5 618 299.5 617.6 300.5 617.2 301.5 616.8 302.5 616.4 303.5 616 304.5 615.6 305.5 615.2 306.5 614.8 307.5 614.4 308.5 613.9 309.5 613.5 310.5 613.1 311.5 612.6 312.5 612.2 313.5 611.7 314.5 611.3 315.5 610.8 316.5 610.4 317.5 609.9 318.5 609.4 319.5 609 320.5 608.5 321.5 608 322.5 607.5 323.5 607 324.5 606.5 325.5 606.1 326.5 605.6 327.5 605.1 328.5 604.5 329.5 604 330.5 603.5 331.5 603 332.5 602.5 333.5 602 334.5 601.4 335.5 600.9 336.5 600.4 337.5 599.8 338.5 599.3 339.5 598.8 340.5 598.2 341.5 597.7 342.5 597.1 343.5 596.6 344.5 596 345.5 595.5 346.5 594.9 347.5 594.3 348.5 593.8 349.5 593.2 350.5 592.6 351.5 592.1 352.5 591.5 353.5 590.9 354.5 590.3 355.5 589.7 356.5 589.2 357.5 588.6 358.5 588 359.5 587.4 360.5 586.8 361.5 586.2 362.5 585.6 363.5 585 364.5 584.4 365.5 583.8 366.5 583.2 367.5 582.6 368.5 582 369.5 581.4 370.5 580.8 371.5 580.2 372.5 579.6 373.5 579 374.5 578.3 375.5 577.7 376.5 577.1 377.5 576.5 378.5 575.9 379.5 575.2 380.5 574.6 381.5 574 382.5 573.4 383.5 572.7 384.5 572.1 385.5 571.5 386.5 570.9 387.5 570.2 388.5 569.6 389.5 569 390.5 568.4 391.5 567.7 392.5 567.1 393.5 566.5 394.5 565.8 395.5 565.2 396.5 564.6 397.5 563.9 398.5 563.3 399.5 562.7 400.5 562 401.5 561.4 402.5 560.8 403.5 560.1 404.5 559.5 405.5 558.9 406.5 558.2 407.5 557.6 408.5 557 409.5 556.3 410.5 555.7 411.5 555.1 412.5 554.5 413.5 553.8 414.5 553.2 415.5 552.6 416.5 551.9 417.5 551.3 418.5 550.7 419.5 550.1 420.5 549.4 421.5 548.8 422.5 548.2 423.5 547.6 424.5 546.9 425.5 546.3 426.5 545.7 427.5 545.1 428.5 544.5 429.5 543.9 430.5 543.2 431.5 542.6 432.5 542 433.5 541.4 434.5 540.8 435.5 540.2 436.5 539.6 437.5 539 438.5 538.4 439.5 537.7 440.5 537.1 441.5 536.5 442.5 535.9 443.5 535.3 444.5 534.7 445.5 534.1 446.5 533.5 447.5 533 448.5 532.4 449.5 531.8 450.5 531.2 451.5 530.6 452.5 530 453.5 529.4 454.5 528.8 455.5 528.2 456.5 527.6 457.5 527.1 458.5 526.5 459.5 525.9 460.5 525.3 461.5 524.7 462.5 524.2 463.5 523.6 464.5 523 465.5 522.4 466.5 521.9 467.5 521.3 468.5 520.7 469.5 520.2 470.5 519.6 471.5 519 472.5 518.5 473.5 517.9 474.5 517.3 475.5 516.8 476.5 516.2 477.5 515.7 478.5 515.1 479.5 514.6 480.5 514 481.5 513.5 482.5 512.9 483.5 512.4 484.5 511.8 485.5 511.3 486.5 510.7 487.5 510.2 488.5 509.7 489.5 509.1 490.5 508.6 491.5 508 492.5 507.5 493.5 507 494.5 506.4 495.5 505.9 496.5 505.4 497.5 504.9 498.5 504.3 499.5 503.8 500.5 503.3 501.5 502.8 502.5 502.3 503.5 501.7 504.5 501.2 505.5 500.7 506.5 500.2 507.5 499.7 508.5 499.2 509.5 498.7 510.5 498.2 511.5 497.7 512.5 497.2 513.5 496.7 514.5 496.2 515.5 495.7 516.5 495.2 517.5 494.7 518.5 494.2 519.5 493.7 520.5 493.2 521.5 492.7 522.5 492.3 523.5 491.8 524.5 491.3 525.5 490.8 526.5 490.3 527.5 489.9 528.5 489.4 529.5 488.9 530.5 488.4 531.5 488 532.5 487.5 533.5 487.1 534.5 486.6 535.5 486.1 536.5 485.7 537.5 485.2 538.5 484.8 539.5 484.3 540.5 483.9 541.5 483.4 542.5 483 543.5 482.5 544.5 482.1 545.5 481.6 546.5 481.2 547.5 480.8 548.5 480.3 549.5 479.9 550.5 479.5 551.5 479 552.5 478.6 553.5 478.2 554.5 477.8 555.5 477.3 556.5 476.9 557.5 476.5 558.5 476.1 559.5 475.7 560.5 475.3 561.5 474.8 562.5 474.4 563.5 474 564.5 473.6 565.5 473.2 566.5 472.8 567.5 472.4 568.5 472 569.5 471.6 570.5 471.2 571.5 470.8 572.5 470.4 573.5 470.1 574.5 469.7 575.5 469.3 576.5 468.9 577.5 468.5 578.5 468.1 579.5 467.7 580.5 467.4 581.5 467 582.5 466.6 583.5 466.2 584.5 465.9 585.5 465.5 586.5 465.1 587.5 464.8 588.5 464.4 589.5 464 590.5 463.7 591.5 463.3 592.5 463 593.5 462.6 594.5 462.2 595.5 461.9 596.5 461.5 597.5 461.2 598.5 460.8 599.5 460.5 600.5 460.1 601.5 459.8 602.5 459.4 603.5 459.1 604.5 458.8 605.5 458.4 606.5 458.1 607.5 457.7 608.5 457.4 609.5 457.1 610.5 456.7 611.5 456.4 612.5 456.1 613.5 455.8 614.5 455.4 615.5 455.1 616.5 454.8 617.5 454.4 618.5 454.1 619.5 453.8 620.5 453.5 621.5 453.2 622.5 452.9 623.5 452.5 624.5 452.2 625.5 451.9 626.5 451.6 627.5 451.3 628.5 451 629.5 450.7 630.5 450.4 631.5 450.1 632.5 449.7 633.5 449.4 634.5 449.1 635.5 448.8 636.5 448.5 637.5 448.2 638.5 447.9 639.5 447.6 640.5 447.4 641.5 447.1 642.5 446.8 643.5 446.5 644.5 446.2 645.5 445.9 646.5 445.6 647.5 445.3 648.5 445 649.5 444.7 650.5 444.5 651.5 444.2 652.5 443.9 653.5 443.6 654.5 443.3 655.5 443 656.5 442.8 657.5 442.5 658.5 442.2 659.5 441.9 660.5 441.7 661.5 441.4 662.5 441.1 663.5 440.8 664.5 440.6 665.5 440.3 666.5 440 667.5 439.8 668.5 439.5 669.5 439.2 670.5 439 671.5 438.7 672.5 438.4 673.5 438.2 674.5 437.9 674.5 437.9" fill="none" stroke="#000" stroke-opacity="0.8" stroke-width="2.88" stroke-dasharray="2.88 8.64"/>
<path d="M173.5 630.5 174.5 631.1 175.5 631.6 176.5 632.2 177.5 632.7 178.5 633.2 179.5 633.7 180.5 634.2 181.5 634.7 182.5 635.2 183.5 635.7 184.5 636.2 185.5 636.6 186.5 637.1 187.5 637.5 188.5 638 189.5 638.4 190.5 638.8 191.5 639.2 192.5 639.6 193.5 640 194.5 640.4 195.5 640.8 196.5 641.2 197.5 641.6 198.5 641.9 199.5 642.3 200.5 642.6 201.5 642.9 202.5 643.3 203.5 643.6 204.5 643.9 205.5 644.2 206.5 644.5 207.5 644.8 208.5 645.1 209.5 645.4 210.5 645.6 211.5 645.9 212.5 646.1 213.5 646.4 214.5 646.6 215.5 646.9 216.5 647.1 217.5 647.3 218.5 647.5 219.5 647.7 220.5 647.9 221.5 648.1 222.5 648.3 223.5 648.5 224.5 648.6 225.5 648.8 226.5 648.9 227.5 649.1 228.5 649.2 229.5 649.4 230.5 649.5 231.5 649.6 232.5 649.7 233.5 649.8 234.5 649.9 235.5 650 236.5 650.1 237.5 650.2 238.5 650.3 239.5 650.3 240.5 650.4 241.5 650.5 242.5 650.5 243.5 650.6 244.5 650.6 245.5 650.6 246.5 650.7 247.5 650.7 248.5 650.7 249.5 650.7 250.5 650.7 251.5 650.7 252.5 650.7 253.5 650.7 254.5 650.7 255.5 650.6 256.5 650.6 257.5 650.6 258.5 650.5 259.5 650.5 260.5 650.4 261.5 650.3 262.5 650.3 263.5 650.2 264.5 650.1 265.5 650 266.5 650 267.5 649.9 268.5 649.8 269.5 649.7 270.5 649.6 271.5 649.4 272.5 649.3 273.5 649.2 274.5 649.1 275.5 648.9 276.5 648.8 277.5 648.6 278.5 648.5 279.5 648.3 280.5 648.2 281.5 648 282.5 647.8 283.5 647.7 284.5 647.5 285.5 647.3 286.5 647.1 287.5 646.9 288.5 646.7 289.5 646.5 290.5 646.3 291.5 646.1 292.5 645.9 293.5 645.7 294.5 645.5 295.5 645.2 296.5 645 297.5 644.8 298.5 644.5 299.5 644.3 300.5 644 301.5 643.8 302.5 643.5 303.5 643.2 304.5 643 305.5 642.7 306.5 642.4 307.5 642.2 308.5 641.9 309.5 641.6 310.5 641.3 311.5 641 312.5 640.7 313.5 640.4 314.5 640.1 315.5 639.8 316.5 639.5 317.5 639.2 318.5 638.8 319.5 638.5 320.5 638.2 321.5 637.9 322.5 637.5 323.5 637.2 324.5 636.9 325.5 636.5 326.5 636.2 327.5 635.8 328.5 635.5 329.5 635.1 330.5 634.8 331.5 634.4 332.5 634 333.5 633.7 334.5 633.3 335.5 632.9 336.5 632.5 337.5 632.2 338.5 631.8 339.5 631.4 340.5 631 341.5 630.6 342.5 630.2 343.5 629.8 344.5 629.4 345.5 629 346.5 628.6 347.5 628.2 348.5 627.8 349.5 627.4 350.5 627 351.5 626.6 352.5 626.2 353.5 625.7 354.5 625.3 355.5 624.9 356.5 624.5 357.5 624 358.5 623.6 359.5 623.2 360.5 622.7 361.5 622.3 362.5 621.9 363.5 621.4 364.5 621 365.5 620.5 366.5 620.1 367.5 619.6 368.5 619.2 369.5 618.7 370.5 618.3 371.5 617.8 372.5 617.4 373.5 616.9 374.5 616.5 375.5 616 376.5 615.5 377.5 615.1 378.5 614.6 379.5 614.1 380.5 613.7 381.5 613.2 382.5 612.7 383.5 612.3 384.5 611.8 385.5 611.3 386.5 610.8 387.5 610.4 388.5 609.9 389.5 609.4 390.5 608.9 391.5 608.4 392.5 608 393.5 607.5 394.5 607 395.5 606.5 396.5 606 397.5 605.5 398.5 605.1 399.5 604.6 400.5 604.1 401.5 603.6 402.5 603.1 403.5 602.6 404.5 602.1 405.5 601.6 406.5 601.1 407.5 600.7 408.5 600.2 409.5 599.7 410.5 599.2 411.5 598.7 412.5 598.2 413.5 597.7 414.5 597.2 415.5 596.7 416.5 596.2 417.5 595.7 418.5 595.3 419.5 594.8 420.5 594.3 421.5 593.8 422.5 593.3 423.5 592.8 424.5 592.3 425.5 591.8 426.5 591.3 427.5 590.8 428.5 590.3 429.5 589.9 430.5 589.4 431.5 588.9 432.5 588.4 433.5 587.9 434.5 587.4 435.5 586.9 436.5 586.4 437.5 585.9 438.5 585.5 439.5 585 440.5 584.5 441.5 584 442.5 583.5 443.5 583 444.5 582.5 445.5 582.1 446.5 581.6 447.5 581.1 448.5 580.6 449.5 580.1 450.5 579.6 451.5 579.2 452.5 578.7 453.5 578.2 454.5 577.7 455.5 577.2 456.5 576.8 457.5 576.3 458.5 575.8 459.5 575.3 460.5 574.9 461.5 574.4 462.5 573.9 463.5 573.4 464.5 573 465.5 572.5 466.5 572 467.5 571.5 468.5 571.1 469.5 570.6 470.5 570.1 471.5 569.7 472.5 569.2 473.5 568.7 474.5 568.3 475.5 567.8 476.5 567.3 477.5 566.9 478.5 566.4 479.5 565.9 480.5 565.5 481.5 565 482.5 564.6 483.5 564.1 484.5 563.6 485.5 563.2 486.5 562.7 487.5 562.3 488.5 561.8 489.5 561.4 490.5 560.9 491.5 560.5 492.5 560 493.5 559.6 494.5 559.1 495.5 558.7 496.5 558.2 497.5 557.8 498.5 557.3 499.5 556.9 500.5 556.4 501.5 556 502.5 555.5 503.5 555.1 504.5 554.7 505.5 554.2 506.5 553.8 507.5 553.4 508.5 552.9 509.5 552.5 510.5 552.1 511.5 551.6 512.5 551.2 513.5 550.8 514.5 550.4 515.5 549.9 516.5 549.5 517.5 549.1 518.5 548.7 519.5 548.2 520.5 547.8 521.5 547.4 522.5 547 523.5 546.6 524.5 546.2 525.5 545.7 526.5 545.3 527.5 544.9 528.5 544.5 529.5 544.1 530.5 543.7 531.5 543.3 532.5 542.9 533.5 542.5 534.5 542.1 535.5 541.7 536.5 541.3 537.5 540.9 538.5 540.5 539.5 540.1 540.5 539.7 541.5 539.3 542.5 539 543.5 538.6 544.5 538.2 545.5 537.8 546.5 537.4 547.5 537 548.5 536.7 549.5 536.3 550.5 535.9 551.5 535.5 552.5 535.2 553.5 534.8 554.5 534.4 555.5 534.1 556.5 533.7 557.5 533.3 558.5 533 559.5 532.6 560.5 532.3 561.5 531.9 562.5 531.5 563.5 531.2 564.5 530.8 565.5 530.5 566.5 530.1 567.5 529.8 568.5 529.5 569.5 529.1 570.5 528.8 571.5 528.4 572.5 528.1 573.5 527.8 574.5 527.4 575.5 527.1 576.5 526.8 577.5 526.5 578.5 526.1 579.5 525.8 580.5 525.5 581.5 525.2 582.5 524.9 583.5 524.5 584.5 524.2 585.5 523.9 586.5 523.6 587.5 523.3 588.5 523 589.5 522.7 590.5 522.4 591.5 522.1 592.5 521.8 593.5 521.5 594.5 521.2 595.5 520.9 596.5 520.6 597.5 520.4 598.5 520.1 599.5 519.8 600.5 519.5 601.5 519.2 602.5 519 603.5 518.7 604.5 518.4 605.5 518.2 606.5 517.9 607.5 517.6 608.5 517.4 609.5 517.1 610.5 516.9 611.5 516.6 612.5 516.3 613.5 516.1 614.5 515.9 615.5 515.6 616.5 515.4 617.5 515.1 618.5 514.9 619.5 514.7 620.5 514.4 621.5 514.2 622.5 514 623.5 513.7 624.5 513.5 625.5 513.3 626.5 513.1 627.5 512.9 628.5 512.7 629.5 512.5 630.5 512.2 631.5 512 632.5 511.8 633.5 511.6 634.5 511.4 635.5 511.3 636.5 511.1 637.5 510.9 638.5 510.7 639.5 510.5 640.5 510.3 641.5 510.1 642.5 510 643.5 509.8 644.5 509.6 645.5 509.5 646.5 509.3 647.5 509.1 648.5 509 649.5 508.8 650.5 508.7 651.5 508.5 652.5 508.4 653.5 508.2 654.5 508.1 655.5 507.9 656.5 507.8 657.5 507.7 658.5 507.5 659.5 507.4 660.5 507.3 661.5 507.2 662.5 507 663.5 506.9 664.5 506.8 665.5 506.7 666.5 506.6 667.5 506.5 668.5 506.4 669.5 506.3 670.5 506.2 671.5 506.1 672.5 506 673.5 505.9 674.5 505.9 674.5 505.9" fill="none" stroke="#000" stroke-opacity="0.8" stroke-width="2.88" stroke-dasharray="2.88 8.64"/>
<path d="M173.5 662.7 174.5 663.1 175.5 663.5 176.5 664 177.5 664.4 178.5 664.8 179.5 665.2 180.5 665.6 181.5 666 182.5 666.4 183.5 666.7 184.5 667.1 185.5 667.5 186.5 667.8 187.5 668.2 188.5 668.6 189.5 668.9 190.5 669.3 191.5 669.6 192.5 669.9 193.5 670.3 194.5 670.6 195.5 670.9 196.5 671.2 197.5 671.6 198.5 671.9 199.5 672.2 200.5 672.5 201.5 672.8 202.5 673 203.5 673.3 204.5 673.6 205.5 673.9 206.5 674.2 207.5 674.4 208.5 674.7 209.5 674.9 210.5 675.2 211.5 675.5 212.5 675.7 213.5 675.9 214.5 676.2 215.5 676.4 216.5 676.6 217.5 676.9 218.5 677.1 219.5 677.3 220.5 677.5 221.5 677.7 222.5 677.9 223.5 678.1 224.5 678.3 225.5 678.5 226.5 678.7 227.5 678.8 228.5 679 229.5 679.2 230.5 679.4 231.5 679.5 232.5 679.7 233.5 679.8 234.5 680 235.5 680.1 236.5 680.3 237.5 680.4 238.5 680.5 239.5 680.7 240.5 680.8 241.5 680.9 242.5 681 243.5 681.2 244.5 681.3 245.5 681.4 246.5 681.5 247.5 681.6 248.5 681.7 249.5 681.8 250.5 681.8 251.5 681.9 252.5 682 253.5 682.1 254.5 682.2 255.5 682.2 256.5 682.3 257.5 682.3 258.5 682.4 259.5 682.5 260.5 682.5 261.5 682.6 262.5 682.6 263.5 682.6 264.5 682.7 265.5 682.7 266.5 682.7 267.5 682.8 268.5 682.8 269.5 682.8 270.5 682.8 271.5 682.8 272.5 682.8 273.5 682.8 274.5 682.8 275.5 682.8 276.5 682.8 277.5 682.8 278.5 682.8 279.5 682.8 280.5 682.8 281.5 682.7 282.5 682.7 283.5 682.7 284.5 682.6 285.5 682.6 286.5 682.6 287.5 682.5 288.5 682.5 289.5 682.4 290.5 682.4 291.5 682.3 292.5 682.3 293.5 682.2 294.5 682.1 295.5 682.1 296.5 682 297.5 681.9 298.5 681.8 299.5 681.8 300.5 681.7 301.5 681.6 302.5 681.5 303.5 681.4 304.5 681.3 305.5 681.2 306.5 681.1 307.5 681 308.5 680.9 309.5 680.8 310.5 680.7 311.5 680.6 312.5 680.5 313.5 680.3 314.5 680.2 315.5 680.1 316.5 680 317.5 679.8 318.5 679.7 319.5 679.6 320.5 679.4 321.5 679.3 322.5 679.1 323.5 679 324.5 678.8 325.5 678.7 326.5 678.5 327.5 678.4 328.5 678.2 329.5 678 330.5 677.9 331.5 677.7 332.5 677.5 333.5 677.4 334.5 677.2 335.5 677 336.5 676.8 337.5 676.6 338.5 676.5 339.5 676.3 340.5 676.1 341.5 675.9 342.5 675.7 343.5 675.5 344.5 675.3 345.5 675.1 346.5 674.9 347.5 674.7 348.5 674.5 349.5 674.3 350.5 674.1 351.5 673.8 352.5 673.6 353.5 673.4 354.5 673.2 355.5 673 356.5 672.7 357.5 672.5 358.5 672.3 359.5 672.1 360.5 671.8 361.5 671.6 362.5 671.3 363.5 671.1 364.5 670.9 365.5 670.6 366.5 670.4 367.5 670.1 368.5 669.9 369.5 669.6 370.5 669.4 371.5 669.1 372.5 668.9 373.5 668.6 374.5 668.4 375.5 668.1 376.5 667.8 377.5 667.6 378.5 667.3 379.5 667 380.5 666.8 381.5 666.5 382.5 666.2 383.5 665.9 384.5 665.7 385.5 665.4 386.5 665.1 387.5 664.8 388.5 664.6 389.5 664.3 390.5 664 391.5 663.7 392.5 663.4 393.5 663.1 394.5 662.8 395.5 662.5 396.5 662.2 397.5 661.9 398.5 661.6 399.5 661.3 400.5 661 401.5 660.7 402.5 660.4 403.5 660.1 404.5 659.8 405.5 659.5 406.5 659.2 407.5 658.9 408.5 658.6 409.5 658.3 410.5 658 411.5 657.7 412.5 657.4 413.5 657 414.5 656.7 415.5 656.4 416.5 656.1 417.5 655.8 418.5 655.4 419.5 655.1 420.5 654.8 421.5 654.5 422.5 654.2 423.5 653.8 424.5 653.5 425.5 653.2 426.5 652.8 427.5 652.5 428.5 652.2 429.5 651.8 430.5 651.5 431.5 651.2 432.5 650.9 433.5 650.5 434.5 650.2 435.5 649.8 436.5 649.5 437.5 649.2 438.5 648.8 439.5 648.5 440.5 648.2 441.5 647.8 442.5 647.5 443.5 647.1 444.5 646.8 445.5 646.4 446.5 646.1 447.5 645.8 448.5 645.4 449.5 645.1 450.5 644.7 451.5 644.4 452.5 644 453.5 643.7 454.5 643.3 455.5 643 456.5 642.6 457.5 642.3 458.5 641.9 459.5 641.6 460.5 641.2 461.5 640.9 462.5 640.5 463.5 640.2 464.5 639.8 465.5 639.5 466.5 639.1 467.5 638.8 468.5 638.4 469.5 638.1 470.5 637.7 471.5 637.4 472.5 637 473.5 636.7 474.5 636.3 475.5 636 476.5 635.6 477.5 635.3 478.5 634.9 479.5 634.6 480.5 634.2 481.5 633.9 482.5 633.5 483.5 633.1 484.5 632.8 485.5 632.4 486.5 632.1 487.5 631.7 488.5 631.4 489.5 631 490.5 630.7 491.5 630.3 492.5 630 493.5 629.6 494.5 629.3 495.5 628.9 496.5 628.6 497.5 628.2 498.5 627.9 499.5 627.5 500.5 627.2 501.5 626.8 502.5 626.5 503.5 626.1 504.5 625.8 505.5 625.4 506.5 625.1 507.5 624.7 508.5 624.4 509.5 624 510.5 623.7 511.5 623.3 512.5 623 513.5 622.7 514.5 622.3 515.5 622 516.5 621.6 517.5 621.3 518.5 620.9 519.5 620.6 520.5 620.3 521.5 619.9 522.5 619.6 523.5 619.2 524.5 618.9 525.5 618.6 526.5 618.2 527.5 617.9 528.5 617.6 529.5 617.2 530.5 616.9 531.5 616.6 532.5 616.2 533.5 615.9 534.5 615.6 535.5 615.3 536.5 614.9 537.5 614.6 538.5 614.3 539.5 613.9 540.5 613.6 541.5 613.3 542.5 613 543.5 612.7 544.5 612.3 545.5 612 546.5 611.7 547.5 611.4 548.5 611.1 549.5 610.8 550.5 610.4 551.5 610.1 552.5 609.8 553.5 609.5 554.5 609.2 555.5 608.9 556.5 608.6 557.5 608.3 558.5 608 559.5 607.7 560.5 607.4 561.5 607.1 562.5 606.8 563.5 606.5 564.5 606.2 565.5 605.9 566.5 605.6 567.5 605.3 568.5 605 569.5 604.7 570.5 604.5 571.5 604.2 572.5 603.9 573.5 603.6 574.5 603.3 575.5 603.1 576.5 602.8 577.5 602.5 578.5 602.2 579.5 602 580.5 601.7 581.5 601.4 582.5 601.1 583.5 600.9 584.5 600.6 585.5 600.4 586.5 600.1 587.5 599.8 588.5 599.6 589.5 599.3 590.5 599.1 591.5 598.8 592.5 598.6 593.5 598.3 594.5 598.1 595.5 597.8 596.5 597.6 597.5 597.4 598.5 597.1 599.5 596.9 600.5 596.6 601.5 596.4 602.5 596.2 603.5 596 604.5 595.7 605.5 595.5 606.5 595.3 607.5 595.1 608.5 594.8 609.5 594.6 610.5 594.4 611.5 594.2 612.5 594 613.5 593.8 614.5 593.6 615.5 593.4 616.5 593.2 617.5 593 618.5 592.8 619.5 592.6 620.5 592.4 621.5 592.2 622.5 592 623.5 591.8 624.5 591.7 625.5 591.5 626.5 591.3 627.5 591.1 628.5 591 629.5 590.8 630.5 590.6 631.5 590.5 632.5 590.3 633.5 590.1 634.5 590 635.5 589.8 636.5 589.7 637.5 589.5 638.5 589.4 639.5 589.2 640.5 589.1 641.5 589 642.5 588.8 643.5 588.7 644.5 588.6 645.5 588.4 646.5 588.3 647.5 588.2 648.5 588.1 649.5 587.9 650.5 587.8 651.5 587.7 652.5 587.6 653.5 587.5 654.5 587.4 655.5 587.3 656.5 587.2 657.5 587.1 658.5 587 659.5 586.9 660.5 586.9 661.5 586.8 662.5 586.7 663.5 586.6 664.5 586.5 665.5 586.5 666.5 586.4 667.5 586.3 668.5 586.3 669.5 586.2 670.5 586.2 671.5 586.1 672.5 586.1 673.5 586 674.5 586 674.5 586" fill="none" stroke="#000" stroke-opacity="0.8" stroke-width="2.88" stroke-dasharray="2.88 8.64"/>
<path d="M173.5 674.7 174.5 675.1 175.5 675.4 176.5 675.8 177.5 676.1 178.5 676.5 179.5 676.8 180.5 677.1 181.5 677.5 182.5 677.8 183.5 678.1 184.5 678.4 185.5 678.7 186.5 679.1 187.5 679.4 188.5 679.7 189.5 680 190.5 680.3 191.5 680.5 192.5 680.8 193.5 681.1 194.5 681.4 195.5 681.7 196.5 682 197.5 682.2 198.5 682.5 199.5 682.8 200.5 683 201.5 683.3 202.5 683.5 203.5 683.8 204.5 684 205.5 684.3 206.5 684.5 207.5 684.7 208.5 685 209.5 685.2 210.5 685.4 211.5 685.6 212.5 685.9 213.5 686.1 214.5 686.3 215.5 686.5 216.5 686.7 217.5 686.9 218.5 687.1 219.5 687.3 220.5 687.5 221.5 687.7 222.5 687.9 223.5 688.1 224.5 688.2 225.5 688.4 226.5 688.6 227.5 688.8 228.5 688.9 229.5 689.1 230.5 689.2 231.5 689.4 232.5 689.6 233.5 689.7 234.5 689.9 235.5 690 236.5 690.1 237.5 690.3 238.5 690.4 239.5 690.5 240.5 690.7 241.5 690.8 242.5 690.9 243.5 691 244.5 691.2 245.5 691.3 246.5 691.4 247.5 691.5 248.5 691.6 249.5 691.7 250.5 691.8 251.5 691.9 252.5 692 253.5 692.1 254.5 692.2 255.5 692.2 256.5 692.3 257.5 692.4 258.5 692.5 259.5 692.5 260.5 692.6 261.5 692.7 262.5 692.7 263.5 692.8 264.5 692.9 265.5 692.9 266.5 693 267.5 693 268.5 693.1 269.5 693.1 270.5 693.1 271.5 693.2 272.5 693.2 273.5 693.3 274.5 693.3 275.5 693.3 276.5 693.3 277.5 693.4 278.5 693.4 279.5 693.4 280.5 693.4 281.5 693.4 282.5 693.4 283.5 693.4 284.5 693.4 285.5 693.4 286.5 693.4 287.5 693.4 288.5 693.4 289.5 693.4 290.5 693.4 291.5 693.4 292.5 693.4 293.5 693.3 294.5 693.3 295.5 693.3 296.5 693.3 297.5 693.2 298.5 693.2 299.5 693.1 300.5 693.1 301.5 693.1 302.5 693 303.5 693 304.5 692.9 305.5 692.9 306.5 692.8 307.5 692.8 308.5 692.7 309.5 692.6 310.5 692.6 311.5 692.5 312.5 692.4 313.5 692.4 314.5 692.3 315.5 692.2 316.5 692.2 317.5 692.1 318.5 692 319.5 691.9 320.5 691.8 321.5 691.7 322.5 691.6 323.5 691.5 324.5 691.4 325.5 691.3 326.5 691.2 327.5 691.1 328.5 691 329.5 690.9 330.5 690.8 331.5 690.7 332.5 690.6 333.5 690.5 334.5 690.4 335.5 690.2 336.5 690.1 337.5 690 338.5 689.9 339.5 689.7 340.5 689.6 341.5 689.5 342.5 689.3 343.5 689.2 344.5 689.1 345.5 688.9 346.5 688.8 347.5 688.6 348.5 688.5 349.5 688.3 350.5 688.2 351.5 688 352.5 687.9 353.5 687.7 354.5 687.5 355.5 687.4 356.5 687.2 357.5 687 358.5 686.9 359.5 686.7 360.5 686.5 361.5 686.4 362.5 686.2 363.5 686 364.5 685.8 365.5 685.7 366.5 685.5 367.5 685.3 368.5 685.1 369.5 684.9 370.5 684.7 371.5 684.5 372.5 684.3 373.5 684.1 374.5 683.9 375.5 683.7 376.5 683.5 377.5 683.3 378.5 683.1 379.5 682.9 380.5 682.7 381.5 682.5 382.5 682.3 383.5 682.1 384.5 681.9 385.5 681.6 386.5 681.4 387.5 681.2 388.5 681 389.5 680.8 390.5 680.5 391.5 680.3 392.5 680.1 393.5 679.8 394.5 679.6 395.5 679.4 396.5 679.1 397.5 678.9 398.5 678.7 399.5 678.4 400.5 678.2 401.5 677.9 402.5 677.7 403.5 677.5 404.5 677.2 405.5 677 406.5 676.7 407.5 676.5 408.5 676.2 409.5 675.9 410.5 675.7 411.5 675.4 412.5 675.2 413.5 674.9 414.5 674.7 415.5 674.4 416.5 674.1 417.5 673.9 418.5 673.6 419.5 673.3 420.5 673.1 421.5 672.8 422.5 672.5 423.5 672.2 424.5 672 425.5 671.7 426.5 671.4 427.5 671.1 428.5 670.8 429.5 670.6 430.5 670.3 431.5 670 432.5 669.7 433.5 669.4 434.5 669.1 435.5 668.8 436.5 668.6 437.5 668.3 438.5 668 439.5 667.7 440.5 667.4 441.5 667.1 442.5 666.8 443.5 666.5 444.5 666.2 445.5 665.9 446.5 665.6 447.5 665.3 448.5 665 449.5 664.7 450.5 664.4 451.5 664.1 452.5 663.8 453.5 663.5 454.5 663.2 455.5 662.8 456.5 662.5 457.5 662.2 458.5 661.9 459.5 661.6 460.5 661.3 461.5 661 462.5 660.7 463.5 660.3 464.5 660 465.5 659.7 466.5 659.4 467.5 659.1 468.5 658.8 469.5 658.4 470.5 658.1 471.5 657.8 472.5 657.5 473.5 657.2 474.5 656.8 475.5 656.5 476.5 656.2 477.5 655.9 478.5 655.6 479.5 655.2 480.5 654.9 481.5 654.6 482.5 654.3 483.5 653.9 484.5 653.6 485.5 653.3 486.5 653 487.5 652.6 488.5 652.3 489.5 652 490.5 651.7 491.5 651.3 492.5 651 493.5 650.7 494.5 650.4 495.5 650 496.5 649.7 497.5 649.4 498.5 649.1 499.5 648.7 500.5 648.4 501.5 648.1 502.5 647.8 503.5 647.4 504.5 647.1 505.5 646.8 506.5 646.5 507.5 646.1 508.5 645.8 509.5 645.5 510.5 645.2 511.5 644.8 512.5 644.5 513.5 644.2 514.5 643.9 515.5 643.5 516.5 643.2 517.5 642.9 518.5 642.6 519.5 642.2 520.5 641.9 521.5 641.6 522.5 641.3 523.5 641 524.5 640.6 525.5 640.3 526.5 640 527.5 639.7 528.5 639.4 529.5 639 530.5 638.7 531.5 638.4 532.5 638.1 533.5 637.8 534.5 637.5 535.5 637.2 536.5 636.8 537.5 636.5 538.5 636.2 539.5 635.9 540.5 635.6 541.5 635.3 542.5 635 543.5 634.7 544.5 634.4 545.5 634.1 546.5 633.8 547.5 633.5 548.5 633.2 549.5 632.9 550.5 632.6 551.5 632.3 552.5 632 553.5 631.7 554.5 631.4 555.5 631.1 556.5 630.8 557.5 630.5 558.5 630.2 559.5 629.9 560.5 629.6 561.5 629.3 562.5 629 563.5 628.7 564.5 628.4 565.5 628.2 566.5 627.9 567.5 627.6 568.5 627.3 569.5 627 570.5 626.8 571.5 626.5 572.5 626.2 573.5 625.9 574.5 625.7 575.5 625.4 576.5 625.1 577.5 624.9 578.5 624.6 579.5 624.3 580.5 624.1 581.5 623.8 582.5 623.5 583.5 623.3 584.5 623 585.5 622.8 586.5 622.5 587.5 622.3 588.5 622 589.5 621.8 590.5 621.5 591.5 621.3 592.5 621 593.5 620.8 594.5 620.5 595.5 620.3 596.5 620.1 597.5 619.8 598.5 619.6 599.5 619.4 600.5 619.1 601.5 618.9 602.5 618.7 603.5 618.5 604.5 618.2 605.5 618 606.5 617.8 607.5 617.6 608.5 617.4 609.5 617.2 610.5 617 611.5 616.7 612.5 616.5 613.5 616.3 614.5 616.1 615.5 615.9 616.5 615.7 617.5 615.6 618.5 615.4 619.5 615.2 620.5 615 621.5 614.8 622.5 614.6 623.5 614.4 624.5 614.3 625.5 614.1 626.5 613.9 627.5 613.7 628.5 613.6 629.5 613.4 630.5 613.2 631.5 613.1 632.5 612.9 633.5 612.8 634.5 612.6 635.5 612.5 636.5 612.3 637.5 612.2 638.5 612 639.5 611.9 640.5 611.7 641.5 611.6 642.5 611.5 643.5 611.3 644.5 611.2 645.5 611.1 646.5 611 647.5 610.8 648.5 610.7 649.5 610.6 650.5 610.5 651.5 610.4 652.5 610.3 653.5 610.2 654.5 610.1 655.5 610 656.5 609.9 657.5 609.8 658.5 609.7 659.5 609.6 660.5 609.6 661.5 609.5 662.5 609.4 663.5 609.3 664.5 609.3 665.5 609.2 666.5 609.1 667.5 609.1 668.5 609 669.5 609 670.5 608.9 671.5 608.9 672.5 608.8 673.5 608.8 674.5 608.7 674.5 608.7" fill="none" stroke="#000" stroke-opacity="0.8" stroke-width="2.88" stroke-dasharray="2.88 8.64"/>
<path d="M173.5 681.6 174.5 681.9 175.5 682.3 176.5 682.6 177.5 682.9 178.5 683.2 179.5 683.5 180.5 683.8 181.5 684.1 182.5 684.4 183.5 684.7 184.5 685 185.5 685.3 186.5 685.6 187.5 685.9 188.5 686.2 189.5 686.5 190.5 686.7 191.5 687 192.5 687.3 193.5 687.6 194.5 687.8 195.5 688.1 196.5 688.3 197.5 688.6 198.5 688.8 199.5 689.1 200.5 689.3 201.5 689.6 202.5 689.8 203.5 690.1 204.5 690.3 205.5 690.5 206.5 690.8 207.5 691 208.5 691.2 209.5 691.4 210.5 691.6 211.5 691.9 212.5 692.1 213.5 692.3 214.5 692.5 215.5 692.7 216.5 692.9 217.5 693.1 218.5 693.3 219.5 693.5 220.5 693.7 221.5 693.8 222.5 694 223.5 694.2 224.5 694.4 225.5 694.5 226.5 694.7 227.5 694.9 228.5 695.1 229.5 695.2 230.5 695.4 231.5 695.5 232.5 695.7 233.5 695.8 234.5 696 235.5 696.1 236.5 696.3 237.5 696.4 238.5 696.6 239.5 696.7 240.5 696.8 241.5 696.9 242.5 697.1 243.5 697.2 244.5 697.3 245.5 697.4 246.5 697.6 247.5 697.7 248.5 697.8 249.5 697.9 250.5 698 251.5 698.1 252.5 698.2 253.5 698.3 254.5 698.4 255.5 698.5 256.5 698.6 257.5 698.6 258.5 698.7 259.5 698.8 260.5 698.9 261.5 699 262.5 699 263.5 699.1 264.5 699.2 265.5 699.2 266.5 699.3 267.5 699.4 268.5 699.4 269.5 699.5 270.5 699.5 271.5 699.6 272.5 699.6 273.5 699.7 274.5 699.7 275.5 699.8 276.5 699.8 277.5 699.8 278.5 699.9 279.5 699.9 280.5 699.9 281.5 700 282.5 700 283.5 700 284.5 700 285.5 700 286.5 700.1 287.5 700.1 288.5 700.1 289.5 700.1 290.5 700.1 291.5 700.1 292.5 700.1 293.5 700.1 294.5 700.1 295.5 700.1 296.5 700.1 297.5 700 298.5 700 299.5 700 300.5 700 301.5 700 302.5 700 303.5 699.9 304.5 699.9 305.5 699.9 306.5 699.8 307.5 699.8 308.5 699.8 309.5 699.7 310.5 699.7 311.5 699.6 312.5 699.6 313.5 699.5 314.5 699.5 315.5 699.4 316.5 699.4 317.5 699.3 318.5 699.3 319.5 699.2 320.5 699.1 321.5 699.1 322.5 699 323.5 698.9 324.5 698.9 325.5 698.8 326.5 698.7 327.5 698.6 328.5 698.5 329.5 698.5 330.5 698.4 331.5 698.3 332.5 698.2 333.5 698.1 334.5 698 335.5 697.9 336.5 697.8 337.5 697.7 338.5 697.6 339.5 697.5 340.5 697.4 341.5 697.3 342.5 697.2 343.5 697.1 344.5 696.9 345.5 696.8 346.5 696.7 347.5 696.6 348.5 696.5 349.5 696.3 350.5 696.2 351.5 696.1 352.5 696 353.5 695.8 354.5 695.7 355.5 695.5 356.5 695.4 357.5 695.3 358.5 695.1 359.5 695 360.5 694.8 361.5 694.7 362.5 694.5 363.5 694.4 364.5 694.2 365.5 694.1 366.5 693.9 367.5 693.8 368.5 693.6 369.5 693.4 370.5 693.3 371.5 693.1 372.5 692.9 373.5 692.8 374.5 692.6 375.5 692.4 376.5 692.2 377.5 692.1 378.5 691.9 379.5 691.7 380.5 691.5 381.5 691.3 382.5 691.1 383.5 691 384.5 690.8 385.5 690.6 386.5 690.4 387.5 690.2 388.5 690 389.5 689.8 390.5 689.6 391.5 689.4 392.5 689.2 393.5 689 394.5 688.8 395.5 688.6 396.5 688.3 397.5 688.1 398.5 687.9 399.5 687.7 400.5 687.5 401.5 687.3 402.5 687 403.5 686.8 404.5 686.6 405.5 686.4 406.5 686.1 407.5 685.9 408.5 685.7 409.5 685.4 410.5 685.2 411.5 685 412.5 684.7 413.5 684.5 414.5 684.3 415.5 684 416.5 683.8 417.5 683.5 418.5 683.3 419.5 683 420.5 682.8 421.5 682.5 422.5 682.3 423.5 682 424.5 681.8 425.5 681.5 426.5 681.3 427.5 681 428.5 680.7 429.5 680.5 430.5 680.2 431.5 679.9 432.5 679.7 433.5 679.4 434.5 679.1 435.5 678.9 436.5 678.6 437.5 678.3 438.5 678.1 439.5 677.8 440.5 677.5 441.5 677.2 442.5 676.9 443.5 676.7 444.5 676.4 445.5 676.1 446.5 675.8 447.5 675.5 448.5 675.2 449.5 675 450.5 674.7 451.5 674.4 452.5 674.1 453.5 673.8 454.5 673.5 455.5 673.2 456.5 672.9 457.5 672.6 458.5 672.3 459.5 672 460.5 671.7 461.5 671.5 462.5 671.2 463.5 670.9 464.5 670.6 465.5 670.3 466.5 670 467.5 669.7 468.5 669.4 469.5 669 470.5 668.7 471.5 668.4 472.5 668.1 473.5 667.8 474.5 667.5 475.5 667.2 476.5 666.9 477.5 666.6 478.5 666.3 479.5 666 480.5 665.7 481.5 665.4 482.5 665.1 483.5 664.7 484.5 664.4 485.5 664.1 486.5 663.8 487.5 663.5 488.5 663.2 489.5 662.9 490.5 662.6 491.5 662.3 492.5 661.9 493.5 661.6 494.5 661.3 495.5 661 496.5 660.7 497.5 660.4 498.5 660.1 499.5 659.7 500.5 659.4 501.5 659.1 502.5 658.8 503.5 658.5 504.5 658.2 505.5 657.9 506.5 657.5 507.5 657.2 508.5 656.9 509.5 656.6 510.5 656.3 511.5 656 512.5 655.7 513.5 655.3 514.5 655 515.5 654.7 516.5 654.4 517.5 654.1 518.5 653.8 519.5 653.5 520.5 653.2 521.5 652.8 522.5 652.5 523.5 652.2 524.5 651.9 525.5 651.6 526.5 651.3 527.5 651 528.5 650.7 529.5 650.4 530.5 650.1 531.5 649.7 532.5 649.4 533.5 649.1 534.5 648.8 535.5 648.5 536.5 648.2 537.5 647.9 538.5 647.6 539.5 647.3 540.5 647 541.5 646.7 542.5 646.4 543.5 646.1 544.5 645.8 545.5 645.5 546.5 645.2 547.5 644.9 548.5 644.6 549.5 644.3 550.5 644 551.5 643.7 552.5 643.4 553.5 643.1 554.5 642.8 555.5 642.5 556.5 642.3 557.5 642 558.5 641.7 559.5 641.4 560.5 641.1 561.5 640.8 562.5 640.5 563.5 640.3 564.5 640 565.5 639.7 566.5 639.4 567.5 639.1 568.5 638.9 569.5 638.6 570.5 638.3 571.5 638 572.5 637.8 573.5 637.5 574.5 637.2 575.5 636.9 576.5 636.7 577.5 636.4 578.5 636.2 579.5 635.9 580.5 635.6 581.5 635.4 582.5 635.1 583.5 634.8 584.5 634.6 585.5 634.3 586.5 634.1 587.5 633.8 588.5 633.6 589.5 633.3 590.5 633.1 591.5 632.8 592.5 632.6 593.5 632.4 594.5 632.1 595.5 631.9 596.5 631.6 597.5 631.4 598.5 631.2 599.5 630.9 600.5 630.7 601.5 630.5 602.5 630.2 603.5 630 604.5 629.8 605.5 629.6 606.5 629.4 607.5 629.1 608.5 628.9 609.5 628.7 610.5 628.5 611.5 628.3 612.5 628.1 613.5 627.9 614.5 627.7 615.5 627.5 616.5 627.3 617.5 627.1 618.5 626.9 619.5 626.7 620.5 626.5 621.5 626.3 622.5 626.1 623.5 625.9 624.5 625.7 625.5 625.6 626.5 625.4 627.5 625.2 628.5 625 629.5 624.9 630.5 624.7 631.5 624.5 632.5 624.3 633.5 624.2 634.5 624 635.5 623.9 636.5 623.7 637.5 623.6 638.5 623.4 639.5 623.3 640.5 623.1 641.5 623 642.5 622.8 643.5 622.7 644.5 622.6 645.5 622.4 646.5 622.3 647.5 622.2 648.5 622 649.5 621.9 650.5 621.8 651.5 621.7 652.5 621.6 653.5 621.4 654.5 621.3 655.5 621.2 656.5 621.1 657.5 621 658.5 620.9 659.5 620.8 660.5 620.7 661.5 620.6 662.5 620.6 663.5 620.5 664.5 620.4 665.5 620.3 666.5 620.2 667.5 620.2 668.5 620.1 669.5 620 670.5 620 671.5 619.9 672.5 619.9 673.5 619.8 674.5 619.7 674.5 619.7" fill="none" stroke="#000" stroke-opacity="0.8" stroke-width="2.88" stroke-dasharray="2.88 8.64"/>
<path d="M173.5 685.8 174.5 686.1 175.5 686.4 176.5 686.7 177.5 686.9 178.5 687.2 179.5 687.5 180.5 687.8 181.5 688.1 182.5 688.3 183.5 688.6 184.5 688.9 185.5 689.1 186.5 689.4 187.5 689.7 188.5 689.9 189.5 690.2 190.5 690.4 191.5 690.7 192.5 690.9 193.5 691.2 194.5 691.4 195.5 691.7 196.5 691.9 197.5 692.1 198.5 692.4 199.5 692.6 200.5 692.8 201.5 693.1 202.5 693.3 203.5 693.5 204.5 693.7 205.5 693.9 206.5 694.1 207.5 694.4 208.5 694.6 209.5 694.8 210.5 695 211.5 695.2 212.5 695.4 213.5 695.6 214.5 695.8 215.5 695.9 216.5 696.1 217.5 696.3 218.5 696.5 219.5 696.7 220.5 696.9 221.5 697 222.5 697.2 223.5 697.4 224.5 697.5 225.5 697.7 226.5 697.9 227.5 698 228.5 698.2 229.5 698.3 230.5 698.5 231.5 698.6 232.5 698.8 233.5 698.9 234.5 699.1 235.5 699.2 236.5 699.4 237.5 699.5 238.5 699.6 239.5 699.8 240.5 699.9 241.5 700 242.5 700.1 243.5 700.3 244.5 700.4 245.5 700.5 246.5 700.6 247.5 700.7 248.5 700.8 249.5 700.9 250.5 701 251.5 701.1 252.5 701.2 253.5 701.3 254.5 701.4 255.5 701.5 256.5 701.6 257.5 701.7 258.5 701.8 259.5 701.9 260.5 702 261.5 702 262.5 702.1 263.5 702.2 264.5 702.3 265.5 702.3 266.5 702.4 267.5 702.5 268.5 702.5 269.5 702.6 270.5 702.6 271.5 702.7 272.5 702.8 273.5 702.8 274.5 702.9 275.5 702.9 276.5 703 277.5 703 278.5 703 279.5 703.1 280.5 703.1 281.5 703.1 282.5 703.2 283.5 703.2 284.5 703.2 285.5 703.3 286.5 703.3 287.5 703.3 288.5 703.3 289.5 703.3 290.5 703.4 291.5 703.4 292.5 703.4 293.5 703.4 294.5 703.4 295.5 703.4 296.5 703.4 297.5 703.4 298.5 703.4 299.5 703.4 300.5 703.4 301.5 703.4 302.5 703.4 303.5 703.3 304.5 703.3 305.5 703.3 306.5 703.3 307.5 703.3 308.5 703.2 309.5 703.2 310.5 703.2 311.5 703.1 312.5 703.1 313.5 703.1 314.5 703 315.5 703 316.5 703 317.5 702.9 318.5 702.9 319.5 702.8 320.5 702.8 321.5 702.7 322.5 702.7 323.5 702.6 324.5 702.6 325.5 702.5 326.5 702.4 327.5 702.4 328.5 702.3 329.5 702.2 330.5 702.2 331.5 702.1 332.5 702 333.5 701.9 334.5 701.9 335.5 701.8 336.5 701.7 337.5 701.6 338.5 701.5 339.5 701.4 340.5 701.4 341.5 701.3 342.5 701.2 343.5 701.1 344.5 701 345.5 700.9 346.5 700.8 347.5 700.7 348.5 700.6 349.5 700.5 350.5 700.3 351.5 700.2 352.5 700.1 353.5 700 354.5 699.9 355.5 699.8 356.5 699.6 357.5 699.5 358.5 699.4 359.5 699.3 360.5 699.1 361.5 699 362.5 698.9 363.5 698.7 364.5 698.6 365.5 698.5 366.5 698.3 367.5 698.2 368.5 698 369.5 697.9 370.5 697.8 371.5 697.6 372.5 697.5 373.5 697.3 374.5 697.1 375.5 697 376.5 696.8 377.5 696.7 378.5 696.5 379.5 696.3 380.5 696.2 381.5 696 382.5 695.8 383.5 695.7 384.5 695.5 385.5 695.3 386.5 695.1 387.5 695 388.5 694.8 389.5 694.6 390.5 694.4 391.5 694.2 392.5 694 393.5 693.9 394.5 693.7 395.5 693.5 396.5 693.3 397.5 693.1 398.5 692.9 399.5 692.7 400.5 692.5 401.5 692.3 402.5 692.1 403.5 691.9 404.5 691.7 405.5 691.5 406.5 691.2 407.5 691 408.5 690.8 409.5 690.6 410.5 690.4 411.5 690.2 412.5 689.9 413.5 689.7 414.5 689.5 415.5 689.3 416.5 689 417.5 688.8 418.5 688.6 419.5 688.3 420.5 688.1 421.5 687.9 422.5 687.6 423.5 687.4 424.5 687.2 425.5 686.9 426.5 686.7 427.5 686.4 428.5 686.2 429.5 685.9 430.5 685.7 431.5 685.4 432.5 685.2 433.5 684.9 434.5 684.7 435.5 684.4 436.5 684.1 437.5 683.9 438.5 683.6 439.5 683.3 440.5 683.1 441.5 682.8 442.5 682.6 443.5 682.3 444.5 682 445.5 681.7 446.5 681.5 447.5 681.2 448.5 680.9 449.5 680.6 450.5 680.4 451.5 680.1 452.5 679.8 453.5 679.5 454.5 679.3 455.5 679 456.5 678.7 457.5 678.4 458.5 678.1 459.5 677.8 460.5 677.5 461.5 677.3 462.5 677 463.5 676.7 464.5 676.4 465.5 676.1 466.5 675.8 467.5 675.5 468.5 675.2 469.5 674.9 470.5 674.6 471.5 674.3 472.5 674 473.5 673.7 474.5 673.4 475.5 673.1 476.5 672.8 477.5 672.5 478.5 672.2 479.5 671.9 480.5 671.6 481.5 671.3 482.5 671 483.5 670.7 484.5 670.4 485.5 670.1 486.5 669.8 487.5 669.5 488.5 669.2 489.5 668.9 490.5 668.6 491.5 668.3 492.5 668 493.5 667.7 494.5 667.4 495.5 667.1 496.5 666.8 497.5 666.4 498.5 666.1 499.5 665.8 500.5 665.5 501.5 665.2 502.5 664.9 503.5 664.6 504.5 664.3 505.5 664 506.5 663.7 507.5 663.4 508.5 663 509.5 662.7 510.5 662.4 511.5 662.1 512.5 661.8 513.5 661.5 514.5 661.2 515.5 660.9 516.5 660.6 517.5 660.3 518.5 660 519.5 659.6 520.5 659.3 521.5 659 522.5 658.7 523.5 658.4 524.5 658.1 525.5 657.8 526.5 657.5 527.5 657.2 528.5 656.9 529.5 656.6 530.5 656.3 531.5 656 532.5 655.7 533.5 655.4 534.5 655.1 535.5 654.8 536.5 654.5 537.5 654.2 538.5 653.9 539.5 653.6 540.5 653.3 541.5 653 542.5 652.7 543.5 652.4 544.5 652.1 545.5 651.8 546.5 651.5 547.5 651.2 548.5 650.9 549.5 650.6 550.5 650.3 551.5 650 552.5 649.7 553.5 649.4 554.5 649.1 555.5 648.8 556.5 648.6 557.5 648.3 558.5 648 559.5 647.7 560.5 647.4 561.5 647.1 562.5 646.8 563.5 646.6 564.5 646.3 565.5 646 566.5 645.7 567.5 645.5 568.5 645.2 569.5 644.9 570.5 644.6 571.5 644.4 572.5 644.1 573.5 643.8 574.5 643.5 575.5 643.3 576.5 643 577.5 642.7 578.5 642.5 579.5 642.2 580.5 642 581.5 641.7 582.5 641.4 583.5 641.2 584.5 640.9 585.5 640.7 586.5 640.4 587.5 640.2 588.5 639.9 589.5 639.7 590.5 639.4 591.5 639.2 592.5 638.9 593.5 638.7 594.5 638.5 595.5 638.2 596.5 638 597.5 637.8 598.5 637.5 599.5 637.3 600.5 637.1 601.5 636.8 602.5 636.6 603.5 636.4 604.5 636.2 605.5 635.9 606.5 635.7 607.5 635.5 608.5 635.3 609.5 635.1 610.5 634.9 611.5 634.7 612.5 634.5 613.5 634.2 614.5 634 615.5 633.8 616.5 633.6 617.5 633.4 618.5 633.2 619.5 633.1 620.5 632.9 621.5 632.7 622.5 632.5 623.5 632.3 624.5 632.1 625.5 631.9 626.5 631.8 627.5 631.6 628.5 631.4 629.5 631.2 630.5 631.1 631.5 630.9 632.5 630.7 633.5 630.6 634.5 630.4 635.5 630.3 636.5 630.1 637.5 630 638.5 629.8 639.5 629.7 640.5 629.5 641.5 629.4 642.5 629.2 643.5 629.1 644.5 629 645.5 628.8 646.5 628.7 647.5 628.6 648.5 628.5 649.5 628.3 650.5 628.2 651.5 628.1 652.5 628 653.5 627.9 654.5 627.8 655.5 627.7 656.5 627.6 657.5 627.5 658.5 627.4 659.5 627.3 660.5 627.2 661.5 627.1 662.5 627 663.5 626.9 664.5 626.8 665.5 626.8 666.5 626.7 667.5 626.6 668.5 626.6 669.5 626.5 670.5 626.4 671.5 626.4 672.5 626.3 673.5 626.3 674.5 626.2 674.5 626.2" fill="none" stroke="#000" stroke-opacity="0.8" stroke-width="2.88" stroke-dasharray="2.88 8.64"/>
<path d="M173.5 647.1 174.5 647.7 175.5 648.2 176.5 648.7 177.5 649.2 178.5 649.8 179.5 650.3 180.5 650.7 181.5 651.2 182.5 651.7 183.5 652.2 184.5 652.6 185.5 653.1 186.5 653.5 187.5 654 188.5 654.4 189.5 654.8 190.5 655.2 191.5 655.7 192.5 656.1 193.5 656.5 194.5 656.8 195.5 657.2 196.5 657.6 197.5 658 198.5 658.3 199.5 658.7 200.5 659 201.5 659.4 202.5 659.7 203.5 660 204.5 660.3 205.5 660.7 206.5 661 207.5 661.3 208.5 661.5 209.5 661.8 210.5 662.1 211.5 662.4 212.5 662.7 213.5 662.9 214.5 663.2 215.5 663.4 216.5 663.7 217.5 663.9 218.5 664.1 219.5 664.3 220.5 664.5 221.5 664.8 222.5 665 223.5 665.2 224.5 665.3 225.5 665.5 226.5 665.7 227.5 665.9 228.5 666 229.5 666.2 230.5 666.4 231.5 666.5 232.5 666.7 233.5 666.8 234.5 666.9 235.5 667 236.5 667.2 237.5 667.3 238.5 667.4 239.5 667.5 240.5 667.6 241.5 667.7 242.5 667.8 243.5 667.9 244.5 667.9 245.5 668 246.5 668.1 247.5 668.1 248.5 668.2 249.5 668.2 250.5 668.3 251.5 668.3 252.5 668.3 253.5 668.4 254.5 668.4 255.5 668.4 256.5 668.4 257.5 668.4 258.5 668.4 259.5 668.4 260.5 668.4 261.5 668.4 262.5 668.4 263.5 668.4 264.5 668.4 265.5 668.3 266.5 668.3 267.5 668.3 268.5 668.2 269.5 668.2 270.5 668.1 271.5 668.1 272.5 668 273.5 667.9 274.5 667.9 275.5 667.8 276.5 667.7 277.5 667.6 278.5 667.5 279.5 667.5 280.5 667.4 281.5 667.3 282.5 667.2 283.5 667.1 284.5 666.9 285.5 666.8 286.5 666.7 287.5 666.6 288.5 666.5 289.5 666.3 290.5 666.2 291.5 666.1 292.5 665.9 293.5 665.8 294.5 665.6 295.5 665.5 296.5 665.3 297.5 665.1 298.5 665 299.5 664.8 300.5 664.6 301.5 664.5 302.5 664.3 303.5 664.1 304.5 663.9 305.5 663.7 306.5 663.6 307.5 663.4 308.5 663.2 309.5 663 310.5 662.8 311.5 662.6 312.5 662.3 313.5 662.1 314.5 661.9 315.5 661.7 316.5 661.5 317.5 661.3 318.5 661 319.5 660.8 320.5 660.6 321.5 660.3 322.5 660.1 323.5 659.9 324.5 659.6 325.5 659.4 326.5 659.1 327.5 658.9 328.5 658.6 329.5 658.4 330.5 658.1 331.5 657.9 332.5 657.6 333.5 657.3 334.5 657.1 335.5 656.8 336.5 656.5 337.5 656.2 338.5 656 339.5 655.7 340.5 655.4 341.5 655.1 342.5 654.8 343.5 654.6 344.5 654.3 345.5 654 346.5 653.7 347.5 653.4 348.5 653.1 349.5 652.8 350.5 652.5 351.5 652.2 352.5 651.9 353.5 651.6 354.5 651.3 355.5 651 356.5 650.7 357.5 650.3 358.5 650 359.5 649.7 360.5 649.4 361.5 649.1 362.5 648.7 363.5 648.4 364.5 648.1 365.5 647.8 366.5 647.4 367.5 647.1 368.5 646.8 369.5 646.4 370.5 646.1 371.5 645.8 372.5 645.4 373.5 645.1 374.5 644.7 375.5 644.4 376.5 644.1 377.5 643.7 378.5 643.4 379.5 643 380.5 642.7 381.5 642.3 382.5 642 383.5 641.6 384.5 641.2 385.5 640.9 386.5 640.5 387.5 640.2 388.5 639.8 389.5 639.5 390.5 639.1 391.5 638.7 392.5 638.4 393.5 638 394.5 637.6 395.5 637.3 396.5 636.9 397.5 636.5 398.5 636.1 399.5 635.8 400.5 635.4 401.5 635 402.5 634.6 403.5 634.3 404.5 633.9 405.5 633.5 406.5 633.1 407.5 632.8 408.5 632.4 409.5 632 410.5 631.6 411.5 631.2 412.5 630.8 413.5 630.5 414.5 630.1 415.5 629.7 416.5 629.3 417.5 628.9 418.5 628.5 419.5 628.1 420.5 627.8 421.5 627.4 422.5 627 423.5 626.6 424.5 626.2 425.5 625.8 426.5 625.4 427.5 625 428.5 624.6 429.5 624.2 430.5 623.8 431.5 623.5 432.5 623.1 433.5 622.7 434.5 622.3 435.5 621.9 436.5 621.5 437.5 621.1 438.5 620.7 439.5 620.3 440.5 619.9 441.5 619.5 442.5 619.1 443.5 618.7 444.5 618.3 445.5 617.9 446.5 617.5 447.5 617.1 448.5 616.7 449.5 616.3 450.5 615.9 451.5 615.5 452.5 615.1 453.5 614.7 454.5 614.3 455.5 613.9 456.5 613.5 457.5 613.1 458.5 612.7 459.5 612.3 460.5 611.9 461.5 611.5 462.5 611.1 463.5 610.7 464.5 610.3 465.5 609.9 466.5 609.5 467.5 609.1 468.5 608.7 469.5 608.3 470.5 607.9 471.5 607.5 472.5 607.1 473.5 606.7 474.5 606.3 475.5 605.9 476.5 605.5 477.5 605.1 478.5 604.7 479.5 604.3 480.5 603.9 481.5 603.5 482.5 603.1 483.5 602.7 484.5 602.3 485.5 601.9 486.5 601.4 487.5 601 488.5 600.6 489.5 600.2 490.5 599.8 491.5 599.4 492.5 599 493.5 598.6 494.5 598.2 495.5 597.8 496.5 597.4 497.5 597 498.5 596.6 499.5 596.2 500.5 595.8 501.5 595.4 502.5 595 503.5 594.6 504.5 594.2 505.5 593.8 506.5 593.4 507.5 593 508.5 592.6 509.5 592.2 510.5 591.8 511.5 591.4 512.5 591 513.5 590.6 514.5 590.2 515.5 589.8 516.5 589.4 517.5 589.1 518.5 588.7 519.5 588.3 520.5 587.9 521.5 587.5 522.5 587.1 523.5 586.8 524.5 586.4 525.5 586 526.5 585.6 527.5 585.2 528.5 584.9 529.5 584.5 530.5 584.1 531.5 583.8 532.5 583.4 533.5 583 534.5 582.7 535.5 582.3 536.5 581.9 537.5 581.6 538.5 581.2 539.5 580.9 540.5 580.5 541.5 580.2 542.5 579.8 543.5 579.5 544.5 579.2 545.5 578.8 546.5 578.5 547.5 578.1 548.5 577.8 549.5 577.5 550.5 577.2 551.5 576.8 552.5 576.5 553.5 576.2 554.5 575.9 555.5 575.6 556.5 575.3 557.5 574.9 558.5 574.6 559.5 574.3 560.5 574 561.5 573.7 562.5 573.4 563.5 573.2 564.5 572.9 565.5 572.6 566.5 572.3 567.5 572 568.5 571.7 569.5 571.4 570.5 571.2 571.5 570.9 572.5 570.6 573.5 570.3 574.5 570.1 575.5 569.8 576.5 569.6 577.5 569.3 578.5 569 579.5 568.8 580.5 568.5 581.5 568.3 582.5 568 583.5 567.8 584.5 567.5 585.5 567.3 586.5 567 587.5 566.8 588.5 566.6 589.5 566.3 590.5 566.1 591.5 565.9 592.5 565.6 593.5 565.4 594.5 565.2 595.5 565 596.5 564.7 597.5 564.5 598.5 564.3 599.5 564.1 600.5 563.9 601.5 563.7 602.5 563.4 603.5 563.2 604.5 563 605.5 562.8 606.5 562.6 607.5 562.4 608.5 562.2 609.5 562 610.5 561.8 611.5 561.6 612.5 561.5 613.5 561.3 614.5 561.1 615.5 560.9 616.5 560.7 617.5 560.5 618.5 560.3 619.5 560.2 620.5 560 621.5 559.8 622.5 559.6 623.5 559.5 624.5 559.3 625.5 559.1 626.5 558.9 627.5 558.8 628.5 558.6 629.5 558.5 630.5 558.3 631.5 558.1 632.5 558 633.5 557.8 634.5 557.7 635.5 557.5 636.5 557.3 637.5 557.2 638.5 557 639.5 556.9 640.5 556.7 641.5 556.6 642.5 556.5 643.5 556.3 644.5 556.2 645.5 556 646.5 555.9 647.5 555.7 648.5 555.6 649.5 555.5 650.5 555.3 651.5 555.2 652.5 555.1 653.5 554.9 654.5 554.8 655.5 554.7 656.5 554.6 657.5 554.4 658.5 554.3 659.5 554.2 660.5 554.1 661.5 553.9 662.5 553.8 663.5 553.7 664.5 553.6 665.5 553.5 666.5 553.3 667.5 553.2 668.5 553.1 669.5 553 670.5 552.9 671.5 552.8 672.5 552.7 673.5 552.5 674.5 552.4 674.5 552.4" fill="none" stroke="#000" stroke-opacity="0.8" stroke-width="2.88"/>
<rect x="90.68" y="109.02" width="610.90" height="705.16" fill="none" stroke="#333" stroke-width="1.44"/>
</g>
<rect x="90.68" y="64.02" width="610.90" height="43.56" fill="#d9d9d9" stroke="#333" stroke-width="1.44"/>
<text transform="translate(396.73,94.5) scale(1,1.06)" font-size="23.76" fill="#1a1a1a" text-anchor="middle">Female</text>
<line x1="117.79" x2="117.79" y1="814.9" y2="822.30" stroke="#333" stroke-width="2.88"/>
<text transform="translate(117.79,827.34) rotate(60) scale(1,1.07)" x="0" y="9.81" font-size="16.2" fill="#4d4d4d">0</text>
<line x1="131.71" x2="131.71" y1="814.9" y2="822.30" stroke="#333" stroke-width="2.88"/>
<text transform="translate(131.71,827.34) rotate(60) scale(1,1.07)" x="0" y="9.81" font-size="16.2" fill="#4d4d4d">6</text>
<line x1="145.63" x2="145.63" y1="814.9" y2="822.30" stroke="#333" stroke-width="2.88"/>
<text transform="translate(145.63,827.34) rotate(60) scale(1,1.07)" x="0" y="9.81" font-size="16.2" fill="#4d4d4d">12</text>
<line x1="159.54" x2="159.54" y1="814.9" y2="822.30" stroke="#333" stroke-width="2.88"/>
<text transform="translate(159.54,827.34) rotate(60) scale(1,1.07)" x="0" y="9.81" font-size="16.2" fill="#4d4d4d">18</text>
<line x1="173.46" x2="173.46" y1="814.9" y2="822.30" stroke="#333" stroke-width="2.88"/>
<text transform="translate(173.46,827.34) rotate(60) scale(1,1.07)" x="0" y="9.81" font-size="16.2" fill="#4d4d4d">24</text>
<line x1="201.29" x2="201.29" y1="814.9" y2="822.30" stroke="#333" stroke-width="2.88"/>
<text transform="translate(201.29,827.34) rotate(60) scale(1,1.07)" x="0" y="9.81" font-size="16.2" fill="#4d4d4d">36</text>
<line x1="229.13" x2="229.13" y1="814.9" y2="822.30" stroke="#333" stroke-width="2.88"/>
<text transform="translate(229.13,827.34) rotate(60) scale(1,1.07)" x="0" y="9.81" font-size="16.2" fill="#4d4d4d">48</text>
<line x1="256.96" x2="256.96" y1="814.9" y2="822.30" stroke="#333" stroke-width="2.88"/>
<text transform="translate(256.96,827.34) rotate(60) scale(1,1.07)" x="0" y="9.81" font-size="16.2" fill="#4d4d4d">60</text>
<line x1="284.80" x2="284.80" y1="814.9" y2="822.30" stroke="#333" stroke-width="2.88"/>
<text transform="translate(284.80,827.34) rotate(60) scale(1,1.07)" x="0" y="9.81" font-size="16.2" fill="#4d4d4d">72</text>
<line x1="312.63" x2="312.63" y1="814.9" y2="822.30" stroke="#333" stroke-width="2.88"/>
<text transform="translate(312.63,827.34) rotate(60) scale(1,1.07)" x="0" y="9.81" font-size="16.2" fill="#4d4d4d">84</text>
<line x1="340.46" x2="340.46" y1="814.9" y2="822.30" stroke="#333" stroke-width="2.88"/>
<text transform="translate(340.46,827.34) rotate(60) scale(1,1.07)" x="0" y="9.81" font-size="16.2" fill="#4d4d4d">96</text>
<line x1="368.30" x2="368.30" y1="814.9" y2="822.30" stroke="#333" stroke-width="2.88"/>
<text transform="translate(368.30,827.34) rotate(60) scale(1,1.07)" x="0" y="9.81" font-size="16.2" fill="#4d4d4d">108</text>
<line x1="396.13" x2="396.13" y1="814.9" y2="822.30" stroke="#333" stroke-width="2.88"/>
<text transform="translate(396.13,827.34) rotate(60) scale(1,1.07)" x="0" y="9.81" font-size="16.2" fill="#4d4d4d">120</text>
<line x1="423.96" x2="423.96" y1="814.9" y2="822.30" stroke="#333" stroke-width="2.88"/>
<text transform="translate(423.96,827.34) rotate(60) scale(1,1.07)" x="0" y="9.81" font-size="16.2" fill="#4d4d4d">132</text>
<line x1="451.80" x2="451.80" y1="814.9" y2="822.30" stroke="#333" stroke-width="2.88"/>
<text transform="translate(451.80,827.34) rotate(60) scale(1,1.07)" x="0" y="9.81" font-size="16.2" fill="#4d4d4d">144</text>
<line x1="479.63" x2="479.63" y1="814.9" y2="822.30" stroke="#333" stroke-width="2.88"/>
<text transform="translate(479.63,827.34) rotate(60) scale(1,1.07)" x="0" y="9.81" font-size="16.2" fill="#4d4d4d">156</text>
<line x1="507.46" x2="507.46" y1="814.9" y2="822.30" stroke="#333" stroke-width="2.88"/>
<text transform="translate(507.46,827.34) rotate(60) scale(1,1.07)" x="0" y="9.81" font-size="16.2" fill="#4d4d4d">168</text>
<line x1="535.30" x2="535.30" y1="814.9" y2="822.30" stroke="#333" stroke-width="2.88"/>
<text transform="translate(535.30,827.34) rotate(60) scale(1,1.07)" x="0" y="9.81" font-size="16.2" fill="#4d4d4d">180</text>
<line x1="563.13" x2="563.13" y1="814.9" y2="822.30" stroke="#333" stroke-width="2.88"/>
<text transform="translate(563.13,827.34) rotate(60) scale(1,1.07)" x="0" y="9.81" font-size="16.2" fill="#4d4d4d">192</text>
<line x1="590.97" x2="590.97" y1="814.9" y2="822.30" stroke="#333" stroke-width="2.88"/>
<text transform="translate(590.97,827.34) rotate(60) scale(1,1.07)" x="0" y="9.81" font-size="16.2" fill="#4d4d4d">204</text>
<line x1="618.80" x2="618.80" y1="814.9" y2="822.30" stroke="#333" stroke-width="2.88"/>
<text transform="translate(618.80,827.34) rotate(60) scale(1,1.07)" x="0" y="9.81" font-size="16.2" fill="#4d4d4d">216</text>
<line x1="646.63" x2="646.63" y1="814.9" y2="822.30" stroke="#333" stroke-width="2.88"/>
<text transform="translate(646.63,827.34) rotate(60) scale(1,1.07)" x="0" y="9.81" font-size="16.2" fill="#4d4d4d">228</text>
<line x1="674.47" x2="674.47" y1="814.9" y2="822.30" stroke="#333" stroke-width="2.88"/>
<text transform="translate(674.47,827.34) rotate(60) scale(1,1.07)" x="0" y="9.81" font-size="16.2" fill="#4d4d4d">240</text>
<clipPath id="cp1"><rect x="716.86" y="108.3" width="612.34" height="706.60"/></clipPath>
<rect x="716.86" y="108.3" width="612.34" height="706.60" fill="#fff"/>
<g clip-path="url(#cp1)">
<line x1="716.86" x2="1329.2" y1="671.45" y2="671.45" stroke="#ebebeb" stroke-width="1.44"/>
<line x1="716.86" x2="1329.2" y1="494.55" y2="494.55" stroke="#ebebeb" stroke-width="1.44"/>
<line x1="716.86" x2="1329.2" y1="317.65" y2="317.65" stroke="#ebebeb" stroke-width="1.44"/>
<line x1="716.86" x2="1329.2" y1="140.75" y2="140.75" stroke="#ebebeb" stroke-width="1.44"/>
<line y1="108.3" y2="814.9" x1="730.78" x2="730.78" stroke="#ebebeb" stroke-width="1.44"/>
<line y1="108.3" y2="814.9" x1="737.74" x2="737.74" stroke="#ebebeb" stroke-width="1.44"/>
<line y1="108.3" y2="814.9" x1="751.65" x2="751.65" stroke="#ebebeb" stroke-width="1.44"/>
<line y1="108.3" y2="814.9" x1="765.57" x2="765.57" stroke="#ebebeb" stroke-width="1.44"/>
<line y1="108.3" y2="814.9" x1="779.49" x2="779.49" stroke="#ebebeb" stroke-width="1.44"/>
<line y1="108.3" y2="814.9" x1="793.40" x2="793.40" stroke="#ebebeb" stroke-width="1.44"/>
<line y1="108.3" y2="814.9" x1="814.28" x2="814.28" stroke="#ebebeb" stroke-width="1.44"/>
<line y1="108.3" y2="814.9" x1="842.11" x2="842.11" stroke="#ebebeb" stroke-width="1.44"/>
<line y1="108.3" y2="814.9" x1="869.95" x2="869.95" stroke="#ebebeb" stroke-width="1.44"/>
<line y1="108.3" y2="814.9" x1="897.78" x2="897.78" stroke="#ebebeb" stroke-width="1.44"/>
<line y1="108.3" y2="814.9" x1="925.61" x2="925.61" stroke="#ebebeb" stroke-width="1.44"/>
<line y1="108.3" y2="814.9" x1="953.45" x2="953.45" stroke="#ebebeb" stroke-width="1.44"/>
<line y1="108.3" y2="814.9" x1="981.28" x2="981.28" stroke="#ebebeb" stroke-width="1.44"/>
<line y1="108.3" y2="814.9" x1="1009.11" x2="1009.11" stroke="#ebebeb" stroke-width="1.44"/>
<line y1="108.3" y2="814.9" x1="1036.95" x2="1036.95" stroke="#ebebeb" stroke-width="1.44"/>
<line y1="108.3" y2="814.9" x1="1064.78" x2="1064.78" stroke="#ebebeb" stroke-width="1.44"/>
<line y1="108.3" y2="814.9" x1="1092.61" x2="1092.61" stroke="#ebebeb" stroke-width="1.44"/>
<line y1="108.3" y2="814.9" x1="1120.45" x2="1120.45" stroke="#ebebeb" stroke-width="1.44"/>
<line y1="108.3" y2="814.9" x1="1148.28" x2="1148.28" stroke="#ebebeb" stroke-width="1.44"/>
<line y1="108.3" y2="814.9" x1="1176.12" x2="1176.12" stroke="#ebebeb" stroke-width="1.44"/>
<line y1="108.3" y2="814.9" x1="1203.95" x2="1203.95" stroke="#ebebeb" stroke-width="1.44"/>
<line y1="108.3" y2="814.9" x1="1231.78" x2="1231.78" stroke="#ebebeb" stroke-width="1.44"/>
<line y1="108.3" y2="814.9" x1="1259.62" x2="1259.62" stroke="#ebebeb" stroke-width="1.44"/>
<line y1="108.3" y2="814.9" x1="1287.45" x2="1287.45" stroke="#ebebeb" stroke-width="1.44"/>
<line y1="108.3" y2="814.9" x1="1308.32" x2="1308.32" stroke="#ebebeb" stroke-width="1.44"/>
<line y1="108.3" y2="814.9" x1="1315.28" x2="1315.28" stroke="#ebebeb" stroke-width="1.44"/>
<line x1="716.86" x2="1329.2" y1="759.90" y2="759.90" stroke="#ebebeb" stroke-width="2.88"/>
<line x1="716.86" x2="1329.2" y1="583.00" y2="583.00" stroke="#ebebeb" stroke-width="2.88"/>
<line x1="716.86" x2="1329.2" y1="406.10" y2="406.10" stroke="#ebebeb" stroke-width="2.88"/>
<line x1="716.86" x2="1329.2" y1="229.20" y2="229.20" stroke="#ebebeb" stroke-width="2.88"/>
<line y1="108.3" y2="814.9" x1="744.69" x2="744.69" stroke="#ebebeb" stroke-width="2.88"/>
<line y1="108.3" y2="814.9" x1="758.61" x2="758.61" stroke="#ebebeb" stroke-width="2.88"/>
<line y1="108.3" y2="814.9" x1="772.53" x2="772.53" stroke="#ebebeb" stroke-width="2.88"/>
<line y1="108.3" y2="814.9" x1="786.44" x2="786.44" stroke="#ebebeb" stroke-width="2.88"/>
<line y1="108.3" y2="814.9" x1="800.36" x2="800.36" stroke="#ebebeb" stroke-width="2.88"/>
<line y1="108.3" y2="814.9" x1="828.19" x2="828.19" stroke="#ebebeb" stroke-width="2.88"/>
<line y1="108.3" y2="814.9" x1="856.03" x2="856.03" stroke="#ebebeb" stroke-width="2.88"/>
<line y1="108.3" y2="814.9" x1="883.86" x2="883.86" stroke="#ebebeb" stroke-width="2.88"/>
<line y1="108.3" y2="814.9" x1="911.70" x2="911.70" stroke="#ebebeb" stroke-width="2.88"/>
<line y1="108.3" y2="814.9" x1="939.53" x2="939.53" stroke="#ebebeb" stroke-width="2.88"/>
<line y1="108.3" y2="814.9" x1="967.36" x2="967.36" stroke="#ebebeb" stroke-width="2.88"/>
<line y1="108.3" y2="814.9" x1="995.20" x2="995.20" stroke="#ebebeb" stroke-width="2.88"/>
<line y1="108.3" y2="814.9" x1="1023.03" x2="1023.03" stroke="#ebebeb" stroke-width="2.88"/>
<line y1="108.3" y2="814.9" x1="1050.86" x2="1050.86" stroke="#ebebeb" stroke-width="2.88"/>
<line y1="108.3" y2="814.9" x1="1078.70" x2="1078.70" stroke="#ebebeb" stroke-width="2.88"/>
<line y1="108.3" y2="814.9" x1="1106.53" x2="1106.53" stroke="#ebebeb" stroke-width="2.88"/>
<line y1="108.3" y2="814.9" x1="1134.36" x2="1134.36" stroke="#ebebeb" stroke-width="2.88"/>
<line y1="108.3" y2="814.9" x1="1162.20" x2="1162.20" stroke="#ebebeb" stroke-width="2.88"/>
<line y1="108.3" y2="814.9" x1="1190.03" x2="1190.03" stroke="#ebebeb" stroke-width="2.88"/>
<line y1="108.3" y2="814.9" x1="1217.87" x2="1217.87" stroke="#ebebeb" stroke-width="2.88"/>
<line y1="108.3" y2="814.9" x1="1245.70" x2="1245.70" stroke="#ebebeb" stroke-width="2.88"/>
<line y1="108.3" y2="814.9" x1="1273.53" x2="1273.53" stroke="#ebebeb" stroke-width="2.88"/>
<line y1="108.3" y2="814.9" x1="1301.37" x2="1301.37" stroke="#ebebeb" stroke-width="2.88"/>
<path d="M802.9 573.8 804.9 573.6 806.9 573.5 808.9 573.4 810.9 573.3 812.9 573.1 814.9 573.0 816.9 572.9 818.9 572.8 820.9 572.7 822.9 572.5 824.9 572.4 826.9 572.3 828.9 572.2 830.9 572.0 832.9 571.9 834.9 571.8 836.9 571.7 838.9 571.5 840.9 571.4 842.9 571.3 844.9 571.2 846.9 571.1 848.9 570.9 850.9 570.8 852.9 570.7 854.9 570.6 856.9 570.4 858.9 570.3 860.9 570.2 862.9 570.1 864.9 569.9 866.9 569.5 868.9 569.2 870.9 568.9 872.9 568.6 874.9 568.2 876.9 567.9 878.9 567.6 880.9 567.3 882.9 566.9 884.9 566.6 886.9 566.3 888.9 566.0 890.9 565.6 892.9 565.3 894.9 565.0 896.9 564.7 898.9 564.3 900.9 564.0 902.9 563.7 904.9 563.4 906.9 563.0 908.9 562.7 910.9 562.4 912.9 562.1 914.9 561.8 916.9 561.4 918.9 561.1 920.9 560.8 922.9 560.5 924.9 560.1 926.9 559.8 928.9 559.5 930.9 559.2 932.9 558.8 934.9 558.5 936.9 558.2 938.9 557.5 940.9 556.4 942.9 555.3 944.9 554.2 946.9 553.1 948.9 552.0 950.9 551.0 952.9 549.9 954.9 548.8 956.9 547.7 958.9 546.6 960.9 545.5 962.9 544.4 964.9 543.3 966.9 542.2 968.9 541.1 970.9 540.0 972.9 538.9 974.9 537.8 976.9 536.7 978.9 535.6 980.9 534.5 982.9 533.4 984.9 532.3 986.9 531.2 988.9 530.1 990.9 529.0 992.9 527.9 994.9 526.8 996.9 525.7 998.9 524.7 1000.9 523.6 1002.9 522.5 1004.9 521.4 1006.9 520.3 1008.9 519.2 1010.9 518.1 1012.9 517.2 1014.9 516.3 1016.9 515.4 1018.9 514.5 1020.9 513.6 1022.9 512.7 1024.9 511.8 1026.9 510.9 1028.9 510.0 1030.9 509.1 1032.9 508.3 1034.9 507.4 1036.9 506.5 1038.9 505.6 1040.9 504.7 1042.9 503.8 1044.9 502.9 1046.9 502.0 1048.9 501.1 1050.9 500.2 1052.9 499.3 1054.9 498.4 1056.9 497.5 1058.9 496.7 1060.9 495.8 1062.9 494.9 1064.9 494.0 1066.9 493.1 1068.9 492.2 1070.9 491.3 1072.9 490.4 1074.9 489.5 1076.9 488.6 1078.9 487.7 1080.9 486.8 1082.9 486.0 1084.9 485.1 1086.9 484.5 1088.9 484.0 1090.9 483.4 1092.9 482.9 1094.9 482.3 1096.9 481.8 1098.9 481.3 1100.9 480.7 1102.9 480.2 1104.9 479.6 1106.9 479.1 1108.9 478.6 1110.9 478.0 1112.9 477.5 1114.9 476.9 1116.9 476.4 1118.9 475.8 1120.9 475.3 1122.9 474.8 1124.9 474.2 1126.9 473.7 1128.9 473.1 1130.9 472.6 1132.9 472.1 1134.9 471.5 1136.9 471.0 1138.9 470.4 1140.9 469.9 1142.9 469.4 1144.9 468.8 1146.9 468.3 1148.9 467.7 1150.9 467.2 1152.9 466.7 1154.9 466.1 1156.9 465.6 1158.9 465.0 1160.9 464.2 1162.9 463.3 1164.9 462.4 1166.9 461.6 1168.9 460.7 1170.9 459.8 1172.9 458.9 1174.9 458.0 1176.9 457.2 1178.9 456.3 1180.9 455.4 1182.9 454.5 1184.9 453.7 1186.9 452.8 1188.9 451.9 1190.9 451.0 1192.9 450.2 1194.9 449.3 1196.9 448.4 1198.9 447.5 1200.9 446.7 1202.9 445.8 1204.9 444.9 1206.9 444.0 1208.9 443.1 1210.9 442.3 1212.9 441.4 1214.9 440.5 1216.9 439.6 1218.9 438.8 1220.9 437.9 1222.9 437.0 1224.9 436.1 1226.9 435.3 1228.9 434.4 1230.9 433.5 1232.9 432.8 1234.9 432.3 1236.9 431.8 1238.9 431.4 1240.9 430.9 1242.9 430.4 1244.9 429.9 1246.9 429.5 1248.9 429.0 1250.9 428.5 1252.9 428.0 1254.9 427.5 1256.9 427.1 1258.9 426.6 1260.9 426.1 1262.9 425.6 1264.9 425.2 1266.9 424.7 1268.9 424.2 1270.9 423.7 1272.9 423.2 1274.9 422.8 1276.9 422.3 1278.9 421.8 1280.9 421.3 1282.9 420.9 1284.9 420.4 1286.9 419.9 1288.9 419.4 1290.9 418.9 1292.9 418.5 1294.9 418.0 1296.9 417.5 1298.9 417.0 1299.0 417.0 1299.0 682.0 1298.9 682.0 1296.9 682.5 1294.9 682.9 1292.9 683.4 1290.9 683.8 1288.9 684.3 1286.9 684.7 1284.9 685.2 1282.9 685.6 1280.9 686.1 1278.9 686.5 1276.9 687.0 1274.9 687.4 1272.9 687.9 1270.9 688.3 1268.9 688.7 1266.9 689.2 1264.9 689.6 1262.9 690.1 1260.9 690.5 1258.9 691.0 1256.9 691.4 1254.9 691.9 1252.9 692.3 1250.9 692.8 1248.9 693.2 1246.9 693.7 1244.9 694.1 1242.9 694.6 1240.9 695.0 1238.9 695.5 1236.9 695.9 1234.9 696.4 1232.9 696.8 1230.9 697.3 1228.9 697.9 1226.9 698.5 1224.9 699.2 1222.9 699.8 1220.9 700.4 1218.9 701.0 1216.9 701.6 1214.9 702.2 1212.9 702.8 1210.9 703.4 1208.9 704.0 1206.9 704.6 1204.9 705.2 1202.9 705.8 1200.9 706.4 1198.9 707.0 1196.9 707.6 1194.9 708.2 1192.9 708.8 1190.9 709.4 1188.9 710.0 1186.9 710.6 1184.9 711.2 1182.9 711.8 1180.9 712.4 1178.9 713.0 1176.9 713.6 1174.9 714.2 1172.9 714.8 1170.9 715.4 1168.9 716.0 1166.9 716.6 1164.9 717.2 1162.9 717.8 1160.9 718.4 1158.9 719.0 1156.9 719.6 1154.9 720.2 1152.9 720.8 1150.9 721.4 1148.9 722.0 1146.9 722.6 1144.9 723.2 1142.9 723.8 1140.9 724.4 1138.9 725.0 1136.9 725.6 1134.9 726.2 1132.9 726.8 1130.9 727.4 1128.9 728.0 1126.9 728.6 1124.9 729.1 1122.9 729.7 1120.9 730.3 1118.9 730.9 1116.9 731.5 1114.9 732.1 1112.9 732.7 1110.9 733.3 1108.9 733.9 1106.9 734.5 1104.9 735.1 1102.9 735.7 1100.9 736.3 1098.9 736.9 1096.9 737.5 1094.9 738.1 1092.9 738.7 1090.9 739.3 1088.9 739.9 1086.9 740.4 1084.9 741.0 1082.9 741.2 1080.9 741.4 1078.9 741.7 1076.9 741.9 1074.9 742.1 1072.9 742.3 1070.9 742.5 1068.9 742.7 1066.9 743.0 1064.9 743.2 1062.9 743.4 1060.9 743.6 1058.9 743.8 1056.9 744.0 1054.9 744.3 1052.9 744.5 1050.9 744.7 1048.9 744.9 1046.9 745.1 1044.9 745.3 1042.9 745.6 1040.9 745.8 1038.9 746.0 1036.9 746.2 1034.9 746.4 1032.9 746.6 1030.9 746.9 1028.9 747.1 1026.9 747.3 1024.9 747.5 1022.9 747.7 1020.9 747.9 1018.9 748.2 1016.9 748.4 1014.9 748.6 1012.9 748.8 1010.9 749.0 1008.9 749.0 1006.9 749.0 1004.9 749.0 1002.9 749.0 1000.9 749.0 998.9 749.0 996.9 749.0 994.9 749.0 992.9 749.0 990.9 749.0 988.9 749.0 986.9 749.0 984.9 749.0 982.9 749.0 980.9 749.0 978.9 749.0 976.9 749.0 974.9 749.0 972.9 749.0 970.9 749.0 968.9 749.0 966.9 749.0 964.9 749.0 962.9 749.0 960.9 749.0 958.9 749.0 956.9 749.0 954.9 749.0 952.9 749.0 950.9 749.0 948.9 749.0 946.9 749.0 944.9 749.0 942.9 749.0 940.9 749.0 938.9 749.0 936.9 749.0 934.9 749.0 932.9 749.0 930.9 749.0 928.9 749.0 926.9 749.0 924.9 749.0 922.9 749.0 920.9 749.0 918.9 749.0 916.9 749.0 914.9 749.0 912.9 749.0 910.9 749.0 908.9 749.0 906.9 749.0 904.9 749.0 902.9 749.0 900.9 749.0 898.9 749.0 896.9 749.0 894.9 749.0 892.9 749.0 890.9 749.0 888.9 749.0 886.9 749.0 884.9 749.0 882.9 749.0 880.9 749.0 878.9 749.0 876.9 749.0 874.9 749.0 872.9 749.0 870.9 749.0 868.9 749.0 866.9 749.0 864.9 749.0 862.9 748.7 860.9 748.3 858.9 747.8 856.9 747.4 854.9 746.9 852.9 746.4 850.9 746.0 848.9 745.5 846.9 745.0 844.9 744.6 842.9 744.1 840.9 743.7 838.9 743.2 836.9 742.7 834.9 742.3 832.9 741.8 830.9 741.4 828.9 740.9 826.9 740.4 824.9 740.0 822.9 739.5 820.9 739.0 818.9 738.6 816.9 738.1 814.9 737.7 812.9 737.2 810.9 736.7 808.9 736.3 806.9 735.8 804.9 735.4 802.9 734.9Z M745.2 578.0 747.2 578.0 749.2 578.0 751.2 578.0 753.2 578.0 755.2 578.0 757.2 578.0 759.2 578.0 761.2 578.0 763.2 578.0 765.2 578.0 767.2 578.0 769.2 578.0 771.2 578.0 773.2 578.0 775.2 578.0 777.2 578.0 779.2 578.0 781.2 578.0 783.2 578.0 785.2 578.0 787.2 578.0 789.2 578.0 791.2 578.0 793.2 578.0 795.2 578.0 797.2 578.0 799.2 578.0 801.2 578.0 803.2 578.0 803.9 578.0 803.9 684.0 803.2 684.0 801.2 684.0 799.2 684.0 797.2 684.0 795.2 684.0 793.2 683.6 791.2 683.2 789.2 682.8 787.2 682.4 785.2 682.0 783.2 681.6 781.2 681.2 779.2 680.8 777.2 680.4 775.2 680.0 773.2 680.2 771.2 680.3 769.2 680.5 767.2 680.7 765.2 680.9 763.2 681.0 761.2 681.2 759.2 681.4 757.2 681.5 755.2 681.7 753.2 681.9 751.2 683.6 749.2 687.6 747.2 691.6 745.2 695.6Z M743.7 570.0 745.7 570.0 746.2 570.0 746.2 714.0 745.7 714.0 743.7 714.0Z" fill="#add8e6"/>
<path d="M806.7 565 818 577 1134 737.4 982 431 1164.5 713.6 1140.6 333 1127.5 166.6 815.4 578 1111 453 1135 752.4 1296.4 609 1008.5 748 895 745 1195.3 437.7 1161.6 422.5 1007.4 494 804.3 726 1299.4 687.7 872.4 577 1298.5 484.5 1299 475 762 679 810 726.7 1243.5 421 1256.4 419 1091 381 1048.7 449 748 585.3 1129 726 980.4 741.3 1172 709.7 891 745.4 1156.4 462 915 536.5 962 753.3 870 562 898 574 884.3 556.6 836 734 1166.7 459.6 1074 734 1297.4 619 1020 739.4 1143.7 310.7 1012 742 1153.3 410 798 687.3 744.5 710.5 855 526.3 1106 468.7 1155.7 723 1293.7 397 1088.5 338 1039 742.7 1299 555 1258.7 323.4 1046.4 506 1024.5 517 843.7 556.5 1055 736.6 1051 739.3 1188.3 462 1182 367.3 1054 491.7 1078 366 1059 425 969 502.4 755.6 556.4 781.7 677 1070.7 373.7 1267 374 1054.7 495 934.5 466 1053.4 480 1001.6 432 1219.3 400 1255 395.7 744 687.6 1184.7 738.4 1228 411 960.6 533.5 984 490.5 810.7 551.5 1135 719.3 1087.7 422 1003.7 743.3 1163.3 361 870.6 572 940.6 549 1298.7 631 891 520 777.3 672.3 1224 323.6 870 577.7 1204 401.4 1034 738 750 574.4 1212.4 451.5 1226.7 439.4 976.3 529.3 853 555 938 748.3 959.7 743 761 672 1121.5 399.5 1035 739 1166.3 724 1043.6 505.4 1187 441.3 906.7 499 1210 696 1001.5 504.4 1276.4 427.3 840.4 507 1180 457.4 743 713 1153 459.5 1240 333 902.5 765.5 752.7 673.4 747.3 559.7 1188 439.7 806.3 569.4 1220.5 427.4 783.3 583 1176 380 1102.7 736 1161 314.4 810.4 579 985 740 954.5 537.6 965.3 743 991 752 1176 723.5 1167.4 721 1000.7 521.5 993 527 785 672.4 1003.5 521 1172.6 706.4 1145.6 715 975 504.7 1000 483.4 1273.7 680 1120.3 738 1008.5 750.3 1198.5 714.3 857 541 1112 464.7 1108 413 1189.5 701.6 822.6 737 1103 727 820 731 1226 690 1279.4 425 1205.7 705.7 1123.5 483 928 744.6 804.5 726 1232.7 691.7 994 750 1218 447 1200.3 697 1002.5 745 868 568 1298.6 470 1243.7 421.3 899.5 739.3 1228 696.6 979 490 1299 430.4 852 573.7 966 530.4 743 710.6 902.4 745 951 749 1108 725.3 1036 496.6 979 739.6 1102.5 455 1051.6 735 883.3 507.4 879.6 744.3 749.4 679 769.4 564.5 756.6 680 1187.6 700.7 1048 739 869 571 1062.3 734.5 960 524.4 1005 528.3 856 741 1220.5 363.4 1024 506 1225.6 716 893.5 506 1045.7 464 869 555 1132.6 475.4 1137.4 478 1125 737 1154.6 379.4 949.7 528.5 1299 585.6 1217.6 420.7 835 735 974.3 532.6 783 675 1157 717.5 1277 428.7 755 587 1250 721.7 833.4 577 1061 735 798.6 545 1230.3 431 1142 738 1298.7 651.4 1204 442 1174.5 707.4 927 510.3 964.7 746 853.3 739.5 1257 425 1014 438.6 1134.3 470 747 685 1150.5 458 751 577.3 1000 755.5 1289.4 677 998.5 741 938.3 531.5 875.6 578 1167.5 452.6 1063 454 1127 459 763.6 679.5 756.3 580 1057 735 894 566 870.4 549 921.7 558.7 973.7 535 754 672.4 1275.4 682.6 1155 431 1218 386.4 1012.6 422 954 739 1296.7 471 789.6 583 975 535.6 1069.7 424 1205.3 696.5 1227.4 407.4 1298 521 1100 345 1095 733 952 751.4 1061 488 784.5 584 890.6 758 931 525.4 1164 456 935 548.5 1208.6 697.7 1066 733.6 1206.7 346 981 543.3 772 672 1136 479 1009.5 398.5 843 737 1212.5 328 1204 698 803 723 1112 431.6 1186 708 902.6 741 1049 496 871 746.6 789 583 955 544.3 1242.3 373 1079.7 491.5 1166.7 430 1287 374 1171.6 392 783 571 1122 723 1285.5 678 1267.4 400.7 908 566.3 815 737.3 1090 732 1070.4 488.5 918 741.5 928.5 533.5 976 743 926 537.6 936.3 550 746.3 686 892 567.6 1069.3 475 1298.5 653 1165 716 990 462.5 873 754.4 905.4 557.6 1246.7 395.6 970.3 751.7 807.6 730 1118.4 464.6 1038 420 1272 694 1181 415 909 743 996 746.5 1289.7 681.7 1026.6 469.3 1084 458 785 673.6 803 549 1118.4 474.7 862.3 579 1296 419 745 745 1167 714.4 1193.7 425.6 1248 684.3 799.6 674.4 1093.5 455.5 1007.4 743.4 1176.3 456.3 797 584.7 1016.7 739 780 564.6 1259 682 1213 427.4 1298 566 1048.3 740.5 1025 499.4 1137 467.4 1038 749 1217.3 699.7 791.4 577 1010 511 1011 500 1298.6 677 1167.5 707.3 1104.6 473 983.5 513.4 792 586 942.4 565 1120.6 724 958.3 456 1042 739.4 1245.6 305 746 684.7 1238 430 1178.5 404.7 1015.6 517 1102 731 1049.6 467.6 836 732.6 1118.7 736.6 942.3 742.5 1219.3 326 1199.6 452 933 492.5 1082 421.4 900.3 745.3 1089.7 735 878.3 439.6 1063.6 746 929 743.6 1218.4 440 1233.3 411.5 1110 450.3 1069.5 501 936.5 748 1038.7 737.3 1181 462 1266 429.5 1202.4 399.6 931.7 524 857.3 565 977 536 1276 680.4 1025.6 737.6 785 674.4 1298.7 579 962.7 549.5 1266 384.3 1109.6 446.6 1124.4 476 1193.5 701 797 677 1117.6 723.6 1050 460.5 1221 358.4 1240 123 1240 429.4 821.7 741.4 928.7 748 983 535 1087 732 1079 452 1298.5 630 1090 484.3 917 375.5 1044.5 757.6 1006.5 751.4 798.4 674.3 947.6 246.7 1165 413 744.6 633 890.5 524.7 972.6 742.7 1017.6 482.5 1296.3 673 1262 386 1041 442 1046.6 491 915 554.6 983.7 487 764.6 673 918 566 1219 416.7 852 561 959.6 524 956.4 744 1105.4 367 991 744 1136.6 720 1230.5 696 1046 735.4 1060.6 737.4 872.6 471.4 847 749.6 1186 456 937.5 548.4 918 562 1053 425 780 679 1105.3 486 804.5 569.3 1267 432 1207 378 957 530 1220 694 850 736 990 472.4 1148 438.5 881.5 522.3 882 564.6 1267.6 434 1219.7 441 763 587 1001.4 521.7 882.6 742 858.3 561 1215 399 1020 431.5 1229.3 692.4 1036.3 483.5 1040.4 436 885.3 746 1096 732.4 1207.3 448 926 561 1021 517 1199 392 1265.3 370.5 744.5 707.5 771.6 573.7 846 735.7 1033 516 1119 726 971 183 756.7 674 918 569 824.7 737 1074 417 823.7 734.6 1162.6 459.3 1187 445.3 761 675.7 851 568 1076.7 470 954.5 750.6 918.4 557.7 744 670 905 741 1114.5 736 1077 483.4 1258.6 369.4 935.7 551.5 955 758.6 898 573 1219 407 935 746 1203.5 450.6 1054.3 441.6 1016.5 741.6 1212.5 421.3 1055.6 734.3 1238 425 1041 432.6 1229.7 695 1177 373.3 985 525.4 815 574.5 880.5 750.4 983 540 1299.7 325 1071 745 869 754 980.7 484 1286 354.6 1185 416 931 526 1081.3 477 839 733.3 1198.3 700 1141.5 719 1198.5 705 1216.4 374 1278 425 1035 739.4 1035.5 742.5 851.3 736.7 762 671.6 828.3 733 1133 735 1278.7 677.7 840.5 553.6 760 584 806 566 1055 742.6 1246 688.4 1034 329 744 598.7 1264.5 151 1298.6 446.7 1032.7 445.4 1091 735.6 1263 384 1069.7 415.3 839.6 738 906 756 858.7 758.3 1171.7 709.7 828.5 571 966 552.6 1065.5 431 1254.4 375 906.3 554.6 1104 427 1086.5 732 1209.4 349.4 1038 475 1062 484 1198 704 1042 456.5 792.3 673.4 1197.6 702 1070 748 1245.5 438.5 1242.6 687 1139 471.6 875 506 1276 689 1166.5 720 1234.5 416.6 1143.3 356.6 879 756 1160.3 459.3 1268 684.6 1052 498.4 1146 438 1114.4 471.3 854 573.7 1187 703 1263 431 1286 422.5 1125.3 720 1267 366 1264.7 425 993.6 743 873.5 568.3 1031 471.6 884 558 978 755.4 1183 457.4 1285 407.5 754.5 679 836 580 1244.3 712.4 789 677.4 1003 739 1053 438 978.6 529 1214.7 434.5 1080.6 419.5 813 557.5 855 739.5 873 744 882 523 789 676.6 1042 496.7 1031 466 1172.3 413 1078.6 450.4 773.7 573.6 760.4 585 1213.7 446.3 774 673.4 1111 727 810 581 808 732.4 1293 689.3 790 584 1055 748.4 759.7 581 961 747.4 1150 469 746 691 766.7 685 789.7 676 1275.4 428 754.7 553 1256.4 685 1048 506 883.4 533.3 1256.7 436 1200.3 397.5 897 568 836 564 1270.7 420 988 441 1028 745 1045.5 741.4 1179.7 718 989 371 767 677.4 794.4 582.3 1137.6 471 1132 476 931 470 820.7 533 1123 394.3 1006 528 1102 490 989 741 1287.7 689.7 893 498.3 1138 474.6 1091 382 1122 314.3 987 532.5 985 515.3 1146.6 417 1171.5 463.5 795 563.3 1198.6 282 957 744.6 809.6 738 754.7 568 1003 771.7 1243 700 1011.5 491 1101.4 460.4 1204 438 946.5 761.3 1084.5 427 772.4 677 962.7 742.7 1022.5 461 1230 442.3 1135.3 729 1050 740.3 806 727.4 1239 421 746 692 1126 720 812 731.5 864.4 532 885.4 743 799 682 1124 743.4 1063 768 1257 689 1020 496.7 925.7 739.6 989 522.3 975 547.4 1224.4 396.6 924.5 542 936.5 742 799 674.4 817.5 742.6 848.3 575.7 1075.3 399 871.5 740.6 773 571.4 828 575 1187 450 1097.7 463 829.6 736.3 1283 691.4 965.6 483 1288.6 403 832.4 540 1274 421 945.3 549 1238.6 689 1216 441.4 1024 487.6 1126.6 731 1289.7 328 1187 381 1025.7 515.3 1192.4 724 1063 499 1039 743 1017.6 337.3 889 573 1171 725 744 706.3 924.5 555 942 565.5 1007.3 473 1227 440 884 564 1030 319.7 1295 420 1171 708.7 852.7 514 1233.7 404.3 906 464.7 870 531 955 744 1254.6 687.3 833 737 963 745.5 1152 717.3 1121.4 457 1190.4 375.3 907.4 752.7 1205 406.7 1141.6 730.7 1124 476.7 934.4 526 1100 734.5 1132.5 727.3 1049.3 736.4 1119 726 761.7 683.7 1072.5 471 941 561.6 789.3 676.5 1182.4 433 785 675 1013.5 518.3 1158.7 462.7 1171.4 716 837 750.7 1185 703 1264.3 683.7 776 580 813 557 896.7 565.4 1097 485 1241.6 397 901 534.3 919.5 565.7 1143 715.5 1214.7 276 1110.7 459 1178.3 403 914.4 540 771.3 677.4 1086 481 824 735 1129.6 421 1010 509 844.3 735 1297.5 539.6 866 571 1073.3 432 1120.6 433 882.3 512 1027.7 496.7 774.7 575 756.4 576 1189 708.3 1226.3 288.3 1283 393 1123 720.3 1122.3 413 1012.5 516 1280.5 678 1143.4 396 837 733 1265.5 423.4 762.4 581.6 922.6 557.3 766 672 750.6 678 840.5 739 792.7 674.6 847.6 736.7 1111 734.4 1149 458.7 1139.3 447 1265 394 869.6 757.5 1008.3 526 799.7 586 1050.3 771 1184 720.4 1153.3 381.5 847 737 796 679 1224 375.7 1292.4 415.6 1103.3 416 924.4 750.7 1019 473 746 685 831.6 581.5 1076 423 1271 684.3 866.5 742 1149.3 449 1276.3 678.3 1019 495 1281.7 277 1298.5 505.4 1298.3 455.4 1252.5 432.4 902.5 529 798 676.7 1136 718 1047.4 737 1096 442 1255 684.5 1299 614 1038.7 742.3 1248.5 349 1275 401.6 1274 281.6 952.6 537 885.5 746 808 574 932.6 745.6 799 675 1025.6 499.3 838.3 564.4 1001 482 1271.5 398 796 682 986 740.4 1153 711 1107 485 1216 438 1247.4 424.7 995 493 920.6 739.4 893.5 455.4 1298.5 604 991 743 813.7 728 1083 405 933 739.6 1112 465 881 556.6 974.6 753.5 916.5 494.3 953.6 506 1220 378 1212 411 885.7 542 956.4 514.4 1282.3 429 1130.3 462.5 1268.5 422 843.5 539.3 1069.6 739.5 804.7 700 1141.7 715.5 1062 486 960.3 539.4 1082 748 926 552.5 1256 687 986 506.3 861 533.5 940 561.4 1276.4 684.5 821 581.4 840 738.3 813 729 907.6 740 1086.4 476.7 1193 699.3 1053 738 1180.3 196 1232.4 402.3 822.7 569.3 751.4 677.6 1119 742.4 1281 677.4 1288 679 1090 743 931.6 547 1120 357.4 858.4 564.7 932.5 750.3 926.3 487 765.4 671.4 1130.6 439 920 757.4 1273.6 686.4 1139 719.7 943.6 743 840.7 562.3 785.5 576.3 1009 473.4 1211 388 770.6 672 770 672 1154 727.6 1274.5 679.4 1152.5 412.4 924 742.4 1277.6 695.5 806 564.4 1232.5 403.6 1016.7 742 1062.6 738.7 885.6 741.4 950 434.6 946 511.6 965 524 978 535 938 546.6 1265.3 406.5 1278 309.7 1285.5 400 877 752 948 542 953 752.6 1204.4 728 1125.3 390.4 1206.6 451.6 1166.7 433 1212.3 407.5 1229 698 932.5 561 1214.4 693 771.3 584.6 1178 419.6 773.3 580.4 1210 386.6 896.6 534.5 768 674 1279.5 401.4 1094 472 766 587.6 1232 427.5 902.5 561 1164 419 927 500 745 726.3 1234.3 357 1142 452 1024 469 1107.7 486.7 1160.3 454 863.3 566 1176.4 418 769 679 1208 697 776 672 948 548 1043 735.7 1044 446.3 1227.7 429.4 954.3 739.3 1146 722.7 1180.7 436 788 675 978.6 367.7 1009 445.6 1091 408.6 1062 462.5 1212.4 702 955 744 973.4 497 923 757 1269 684.4 938.3 558.5 833.7 581.4 913 532.6 849.6 746.3 1298.7 525.4 1015 487.4 1170.4 710 790.6 679.7 1070.7 473 1175 705.3 974 535.3 744 574.6 1134 425 798.3 679.7 1299 624 830.3 733.6 998 504.3 1154.6 462.4 757 672.5 853.6 737.5 985.5 476.3 971.3 749.5 1252.7 686.6 901 740 766 675.5 938.4 545.6 1202.7 453 1110.4 739 1298 559 834 569 1121.6 432.6 761.3 684.3 978.6 743 977.4 745 1152 361 866.6 578 1288.3 675 796.7 677 772.5 672.3 1164.4 716.5 869 549 899 573.7 1192.4 426.4 1083 480.6 863.6 425.3 939 503 976.5 741.4 771 573 1073.6 486.3 1029.7 748 1075 732 971 506 767.6 676.4 1053.3 507 790.5 674.5 1028 454 860.3 525 1072 435 1098.4 419 1233 294.5 908.6 742 814 555 809.3 731.5 831 738 1101 726.6 962 755.7 1225.3 363.5 844.5 457 1158 454.5 1207 697.5 878 576 886.4 559 757.3 673 822 567 1279 400 764.5 564.5 1169.4 396.4 1021.4 748 1001.7 528 1241 686.7 1148 474.6 808 727 1114 423.4 930.5 742.6 1073.6 420.5 1090.4 472.3 1054.3 739.3 1285.5 677 1248 413 1256.6 437 906.7 754.7 957 756 1196.3 710.3 1211 451 1270.3 387 750.7 684 823.3 732 1060.5 504.7 1101.3 771 1297.4 371.7 1011 477 1020 362 827.5 732 1187 380 1104.3 730.4 1298 567 1037.5 509.5 1068 475 1151.7 476 1221 393 1199.3 700 1113 481 956 741 831.4 735 1141.7 334.3 1226 351 788.5 558.6 1142 471.3 1234 401.3 848 554.5 1020.5 504 881 740.6 1099.6 743.7 1066.5 503 1209 699 867 741.4 1070 480.4 1080.7 494.5 962 745.6 992 743 1023 500 976.6 740.5 799 586.4 1059.3 501 1105 729 1237 416.5 982 541.4 1289.7 405 1126 731 950.3 521.6 1276 678 1096.3 481.6 931 740 1056.4 494.6 781 585.6 1201 701 947.4 534.7 1215.4 446 1154.4 371 1034.7 747.5 1134.6 420 945 745 983.7 449.3 979.3 739.7 888 540.6 920.5 554.3 900.7 496.7 1297.5 472 806.6 728 911 745 1154 425 803 551.7 824.3 566.3 1147.7 719.4 786.7 576 853 578 1298.6 428 1255.5 397.7 1233.5 406 968 740.4 746.3 687 1263 411.4 1007.7 528.4 1066 745.4 1230.4 442 1186 426 804 583 1004.4 428.5 1005 509.5 815.6 728 1291 401 986.6 415.6 1202 312 1199 430.6 1275 404 1160 474 798 681 1264 410.6 1056 475 1056.5 492.4 879 509 813 559 786 672.7 1107.6 489 957.6 529 1292.7 419 804 694.7 1237.7 417.4 881 741.3 948 520.5 748 574 1021.7 741.4 1119.5 472 869.6 554.4 1146.6 719.5 770.3 586.5 1113 734 1034 394 1111 740 918 739 902.3 561.5 1032 442 1144 410 1299 643.6 878 476 744.4 648.4 1174.4 464.3 784 576 1216 421 1053 509 1166.5 712.3 820.4 565 929 740 1273.7 371.5 965 544 1232.6 688 925.5 549 1199.5 455.7 879.4 577 1281 688.5 925.4 745.6 933 518.5 1115 421.6 1035 456 1058.6 443 1141.4 450.5 743.7 636.6 803 706.6 776.6 564 1270.4 379.5 785.5 587 765 576.7 1013 747.5 1217 691.6 760 567.6 772 587.7 1200 711 1232.5 440.4 898.5 560.3 814 731 1250.6 363 1298.3 421.7 1213 426.3 758.6 574 918.3 740.7 1211.6 395 1019 446.5 1040 448.5 767 677.7 1298.4 414.3 825 732 1007.7 524.3 1271 685 1083 491 744 619 1218 368 784.3 674.6 1083.4 483 1002.3 511.4 907.6 756.3 1127 442.7 743 666 1230 375.5 1244.3 416.5 898.7 452.4 926 486.4 1203 441 764 673 943 556 1231.5 271.7 1070 743.6 1039.4 431.7 1265.5 427.7 963.4 510 744.3 577.7 905 558.6 1211.6 693.4 744 672.3 1299.7 673.5 1266.7 690 972 750.6 804.6 693 807 578 1271.7 713 1207.7 436 1232 436.3 1077.6 440.4 766 677.6 1035.3 465.5 1184 440 1095.5 459.3 933.4 516 780.6 587 1281.5 303.4 891.5 567 1136.3 733 1296.4 378 799 582 1298.5 647 1256 411.3 1134 439.3 1152 461.6 1022.3 413 1088.6 732.7 1229 710 838 733.4 743.7 646.7 1149.4 713 997 517.5 1298.4 528.6 1242 371 743 608 1048.7 415.5 1092.5 739.5 990 533 1117 728 1051.7 474 971.7 470 998.3 507.7 1170 463.5 1282 682.7 1083 734 861.6 740 865 739 1278.6 404 973 518 1014 477.7 1040 503 1091.7 731.3 1046.6 736.4 885.3 513 989.5 526.4 914 761 1200 442 894.3 508.5 1156 730 973.7 763 1298.5 477.6 1044.5 469 1294 712.5 798.7 580.5 1298 466.3 997 743.4 1211 694 1024.3 475.7 1136 464.3 1157.6 204.7 965.3 742 961.4 553.3 934 560.4 867.5 529.3 917.4 562 1154 439 911.3 564.7 1013 465.3 983 754 890 739.7 1132.4 418 1223 717.6 892.4 567 1258.5 388 811.6 580.7 922 553.7 1170.6 454 1200 699 874 576 755.7 672 775 673.5 1170 709.3 1171.3 723.6 1086.4 731 1241 418 1156 438 1115.6 400.5 940.7 549.6 844.6 569.3 988 513 1070.6 739.3 1030 508.7 1183.5 426 1280.7 409.6 1117 385 973 467 944 395 1105.7 466.7 1260 409 1247.6 693.6 1065 330.6 985.5 531 1152.7 321.7 1129.5 727 1123.5 392.6 981.6 532.5 1036.4 743.6 1018 447.6 1038 425 821.5 551.7 786 586 1267.6 684 813.7 572.6 1172 466.4 744.6 703.7 909.5 744 1225.3 693 889 425.7 926 739.7 905.3 571.6 1262 433.7 1119.5 459 1176 389.6 757.7 568.4 1035 747 924 537 923.7 391.4 859 748.3 944.5 741 1129.4 467.6 926 754 1239 414 965 550.6 1179 454 945.6 764 1035 516 1053.5 501.6 1166.5 712 773.6 587.4 982 517.3 955.3 739 940 527.4 1071.3 460 1219 692.6 796.7 573.5 1136 433 884.6 526 952 551.5 1116.6 288.7 1113.6 347.6 1270 681.4 897 739.5 1261.7 336 1019.4 522.4 1089 740.7 787.5 682 1083.5 734 921 503 1058.6 743 1040.4 739.5 1137 478 1064.3 738.4 978.3 476.7 1293 416.3 923 739.6 752 674.4 1113 312 1092.4 731.5 808.5 580.7 1179 462 803.3 569 783 553 1134 423 863.7 743.3 1248.4 410.5 1032 445.4 1105 404.4 1256 370.6 1029.5 427 1274 682 860 741.3 1220 695 1276 690 1162.6 473 1118.3 727.3 823.3 742.3 1178 464 1292 427 1136 719.3 1073 733 1189.7 418 1202 273.3 1263 681 1117 722.4 1256.5 684.3 876.7 740.3 887.4 740.3 1237 686.7 1111 729 887 522 752 673 833 736 1090 478 933.7 437.5 976.7 522.6 775 538.3 778.3 676 1277 684 921.3 567.6 965 466.3 1056 360.6 1202 441.6 1211 696.3 932.4 475 1252.6 686 1050 470 862 746.7 1152 468.3 1086 441.5 767 671 1161.7 721.6 765.4 685 1119 458 942.5 550 1091.5 483.6 1161.7 434 1199.4 697.6 1145.3 385.3 1272 695.4 1119.3 470 1299 625.5 1032.4 515.4 1264.3 420 1290 675 969.3 442 1031.5 402.5 882.4 516.3 1106.6 417 1109 486 1050.5 744 911 563.5 986.5 405 891 571.3 1273.5 369 964.7 749 758.7 680.3 1132.5 463 1277.4 696.7 1241.4 689.6 932 562 1043.5 345 793 678.3 1205 704.6 1179 360 1133 476.6 1040.6 758.4 998.4 528 776.5 580 1292.5 679 1000.7 740 1196.6 698.7 1182.4 704 771.3 685.4 962.7 527 1106.6 729.5 1260 376 1056 499.3 1027.7 482 1166 436.5 1283.7 676 804 728 1000.3 509.5 879 570 1172 460.3 988 524.7 850.6 550 1114.4 431.3 1273.4 421.4 1101.3 726.5 836 737.4 1265.7 390.3 854.5 508 884 739.4 986.5 462 1152 470 743 708 1194.5 434 1101.3 726.3 1083.5 421 1027 504.3 958.6 473.4 1026 514.7 1135.4 717 837 737 1188 702.4 994.3 515.4 1274 682.3 1079 439 1152.7 462.6 1057 493 1009.7 527.6 845 738.7 1165.4 449.7 985 750.5 1123.4 475.6 969.6 515 1273 680.3 1088.4 441 822 570 804 563.3 1260 682.5 973.4 485 975.7 542.3 1177.7 714 1216 402 1043.4 465.5 1190.7 461 806.7 730.5 1056.6 429 1046 499.6 1199.5 450 1149.5 712.3 1222.6 697.3 847 548.6 1169 719 1111 480.6 1230.6 696 1101.5 728.3 1233.6 434 956 553.5 1066.4 430 844.3 736.7 1108.4 401.4 1190.4 457.7 937 550 774 671 1151 466 861.3 530 848.4 562.3 959.5 500.7 1298.7 466.6 1108 460 1202.4 450.6 1125.7 456 927 750 744.7 734 1151.6 729.7 963.3 748.4 1218 449 805 726 795 586.6 1299 606 803 720 1159 716.3 1094 735 1258 698 1067.6 464.6 1007.4 739 1259 429.7 977 486 974 495 1112.6 480 744.3 715 1202 699.7 1118 453 922 557 928 542.6 843 737 824.4 554 992.4 739.4 1086.6 464 1102 451.6 1158.6 453 1194.3 451 1176 403 786.7 569 893 753.3 943.4 752.7 1087.4 737 1072.6 423.6 1142.5 718.3 1214.6 430.5 955 485 968.7 512 809 566 1133.5 720 909.3 562.5 949.6 540 1083.3 491.6 1051 443.7 1115 732.6 875 745 960.7 742.6 1191 403 1205.6 698 985.5 514 934.4 568.3 1068 493.4 1030.4 748 1158 422.3 823 734.7 1020.6 740.6 982 740 849 569 1265 683.4 808 577.5 905 747.6 1048.3 498 757 674 1123.7 741 991.3 749.6 941 524 1283.5 429.5 1142.7 740.6 795 562.4 1055 484 825.3 746.7 1117.5 486 960 539.6 1186.4 429.4 1189.5 700.7 904 524.3 1031.4 513 1048.3 456 1039 736 1135.6 718 1177 214 1088.5 446 1294.4 318 1212 700 987 523 926 524.5 1044.6 489 1221 376.3 905 739 1215 698 932.6 497.5 851.5 564 1067.6 364 988 526 1106 483 1117 370 775 672.6 1044 478.4 1282 379.5 1250 436 986 531 1052 445 1044 471.4 1133.5 480 1175.7 707.7 1291.6 380.5 1055.6 488 1152.4 730 1298.3 456 874.4 564 848.3 553 1179 734 818.4 565.5 803 691.4 1017.4 744 994 512.7 803.4 728.6 1164 388 1264 688.7 873.7 745.3 1051 408.7 899 746.5 1298.4 453.3 1298 615.5 1155.7 434 1014 743 995.4 517.4 750.4 680.3 755.6 564.5 775.7 670.4 1131 477.6 1288 419.3 898.7 541.6 1178 454.7 954 760 1282.6 423 1063 739 817.6 731.3 1171.7 443.3 1129.6 435.4 1218 442 743.6 666.7 1136 450 1080.3 444.5 1001 744 1003.4 752.7 1200 393 930 742 743 684 1102.6 489.6 1243.5 352 1224 403.5 800 579.7 804.6 573.4 1213 420 925 743.7 931 756.4 1208 444.5 1279.3 425 809 729 1298 422.6 1204.3 421 942 463 888.4 747.3 1297.6 337 1133 719.4 934 563 892 565.4 934 523.6 938.5 566 1064 442.4 1235.6 721 815 728.6 1201 396 1144.6 413.7 951.5 739.7 1127 350.5 797.6 678 1108.7 461.3 1144.3 721 1237 393 822 544.7 859.6 754 1019.6 523.7 925.6 525.7 826.7 572 1135 307 1224.3 435 1068.5 468.7 1019 433 903.5 748 1298 674 1136.7 721 1048 507.5 1131 448 1294 675.5 991 509.7 1122.3 444.5 1173 705.3 1121 472 798.4 570.4 955.4 534 1227.6 399 772.3 588 858 486.6 1079 733 841.7 504 938 544 1295.5 379 1045 342.5 890.5 751.4 771 578.7 883 562.6 1294 415.3 766.3 586 1254.7 430.3 987 536 747.4 690.6 847 475.5 1232.4 286.6 1089.3 465.5 1277 695 1071.5 491 1175.7 458.6 1044 410 778.4 577.5 1001 519.6 934.5 505 971.7 474 795.7 572.5 1221 391.3 894 741.3 976 512.4 1049 480 1189.4 446 1215 705 863.3 521.5 1199.6 700.3 1174.7 445 780.4 583 899.5 519 1112 723.6 744.7 602 1270 406 1006.4 740 842.5 568.6 1107 725 1137 717.4 1248 689 963.3 530.7 1139 475.7 1153 456 926 538 887.7 527 975.3 507 846.3 574 1287.7 376.7 1051.5 481.3 1070 738 1021.6 759.6 1046 380 778 557 839 581.5 968.6 747 1144.7 471.4 1111 462 883 750.6 826 563 878.3 743.6 1296 674.5 1140.4 721.7 1161.4 708.6 1206 453.5 1193.4 454.3 1234 694 914 564.6 1240.3 431.3 871.4 535 835 559.3 773 675 1278.7 692.5 1131 440 867 537 941.7 480 809.4 727.6 1195.7 432 1214.3 700.6 803 727.3 1081.3 459.3 930.7 746.6 1133.3 405 1066 736 1064.7 482.5 965 532 1177 465 1158 717 881 576.4 1197.5 294.4 805 716.4 910.6 741.5 764.7 672.6 1268 680.3 898.5 508.6 987 502.6 1000 495 1297.5 607 1187.6 711.6 804 716 913 754 1115 333 1251 393 927 771.5 1107.7 727.7 744.7 717.5 863.3 750 992.4 745.7 835.7 740 977.6 741.3 862 742 984.5 755.7 1068.4 385 1188 454 755 584.3 804.6 569 982.4 355.7 1204 698 815 562 900.3 533.5 1176.3 709 965 740 744 684.7 1052 495.7 993.4 501 939.4 537 1288 349 906 546 1182 443 1178.3 237 1240.6 370.6 792.3 570 1298.7 545 1133 465.6 1160 717 1107 743.5 1217.7 435 1046.7 493 820.4 745 1273 684 1110.7 477.7 746 695.3 1061.4 755.6 1024 738 1132.6 728.6 807.3 516 948.6 558.6 890 485.4 1298.6 646 943 744.5 1019 514.6 1296.3 531 1224.5 417 1042.7 373 1205 395.4 1159.4 237 914.5 746.3 989 755 1081 494.5 1221 706.5 862 741 782.4 580.5 1067 493 1298 625 870.4 567 1196.7 448 1150.6 474 1005.7 510 883.5 739.5 859 561 921 742.5 756 676 765 586.5 936.5 739.3 1236.7 391 818.6 580 1118.3 470.4 803.3 722 941 556 1164 717.3 1274.6 352.7 1179.6 457 746.5 686 1298 671.3 887.3 517 1116 479 1275 370.5 935 559 1267.4 681 744.6 706 1005.3 481.4 1113 204.7 860.6 557.5 1255 243 766 677.4 1244.4 410 788 676.6 1298 464 1239 691.4 858 551 1122 723 1229 373 1142.6 471.4 1028.5 517 1237.3 401 1258 366.6 1004 473 1158.4 724.4 742.5 704.3 778 671 873.6 546 949 533.4 908.6 766.6 947 740.6 916.6 544.7 1187.6 429.6 782.5 671.5 1238.5 692.4 1201 440 760 677 745 718 744 712.6 773.6 581.6 866.4 570 1182.3 452.4 1279.6 405 1088.5 475 816 555.7 1131 730 743 629.7 788 683.7 1101 727.7 1271 307 1267 685 1229.3 691 770.3 548.3 909 563.7 950 549.7 851 757 758.7 673 1157.3 320 1260.6 686.4 1204 401 1171 410.3 908 536.7 761.3 680.4 923 468.4 819.3 559 929 473 1299.7 386 844 550.4 1297 598.6 1266 679.4 1175 421 911 548.4 847.3 746.5 1056.7 456 936.7 507 1229.5 426.5 1236.5 340.7 1139.4 450.6 944.6 744.4 1100 475 999 749.3 1123.4 721.5 1245 386 818 557 916 564.7 954 558 925 742 940 537 1275 682.7 1179 318.6 756 673 995.6 525 1264.5 688 976.4 744.3 1136 433.6 911 547.5 1072 488.7 1034 341 845.4 734.7 1179 436 757.3 676.6 1196 708.6 1197.5 698 873 569 1220 315.5 1279.6 684.3 1174 383 1192.4 318 863 472 1119 724 1005 514 748 681 1016 739 744.6 732.5 933.3 533 808.3 731 792.3 571 1074.3 495.7 1015 754 940 739.5 1159 412.3 744.5 675.5 838 581 803.3 716.7 798 680 1258 681.5 1130.3 739.7 1175.3 707.7 984.7 477.7 1013.3 474 1069 483.5 1270 681 1149 725.3 1287 370.3 1274 678 744.6 713.3 1218.5 160.6 953 489 1186 401 1299 599.5 902.4 563.6 900 496 1259.7 695.6 779 577.5 937.3 744.5 745 741 1101 478.3 1199.6 392.4 1148 718 744.3 576 981.5 745 1256 422.5 1270 358.5 928.5 740 1295 359 1069.4 484 1189.7 443 1034.3 746.3 1129 385 1208.7 429.6 1070.4 435 1205 392.4 1163.5 378 1053.5 496.4 787.4 674.6 1297.7 531.6 744 603.5 760.7 584.4 817 730 1287 684 1221 426.7 1051 509 1297 387.6 1250 684 1002.7 747 780.5 674.3 1228.7 697 988.7 461.5 1050.7 503.6 1056 500.4 764.7 674 899 743.5 906.5 563 1213.3 725 1247 348 1113.3 727.5 910 539.3 1028.5 480.5 930 563.4 1270 681 1161 410.5 1102 462 1129 718.5 1044 465.7 788 673.6 1292.5 401.5 798 681 1172 409.6 1032.5 385.4 791 578.5 1085.3 483 979.3 495 947 742.5 1050.4 350 799 563.5 744 605.5 1013.7 422 1001 517 1268 318 890 751.5 832 572 1062 505 1029 520.3 1298.5 337.6 1026.6 741 962.6 741 1106 319 810 567.5 836.5 734 930.5 562 1298.4 453 1250 711 842 738.6 760.3 673.6 1077.3 736.7 1143.5 460 1082 481 1076 733.6 1241 441 1266 355 1278 680 922 556 1179.6 443 1051 421.7 1069 461 1283 373 849.4 753 1058 506 1175.3 707.5 1246.5 410 959.7 741.7 814.3 573 796.3 586 820 576 1026 479.5 1135.5 720.7 1291 333.4 923.7 517.6 1190 370.3 855.5 563 1016.7 324 823 746 1285.6 682 1287.5 686.6 900 742.5 1170 445 1277 682 1039.5 397 1138 407 1112.6 353.4 1028.3 493 1061 740.6 1254 407 1128 448.7 791.3 687 828.5 736.7 1092.3 349.3 1033 495 841 572.7 1228.5 693 746 686.3 984.6 473.5 840 735 1061.6 750.3 1118.6 482.7 1057.5 465.7 1211.4 390 913 752.3 1142.3 452 1033 507 1055.5 738.4 859 562 787 680.3 988.7 493 928 343.7 781 671.5 954.5 740.6 1162.4 709.4 744.7 708 1005 747 925.4 763 1109.4 484.3 852 741.5 770 678 804 690 1220 692 1083 439 836 518.6 810 733.7 1072 493.7 782 575 1189 399.5 905 572.4 1285.7 379 1032.4 746 1174 355.3 1103.6 487 979.6 748.6 1003.4 747 1133 722 776.6 570 742.7 582.6 1198.5 699 1072.5 745 1027 496.7 760 681.3 922 566.3 1108 318.7 1071 733.5 1264.3 683 1109 477 996 511.7 931 742.7 859.5 579.7 900.3 495.5 1078 736 1160 440.4 1181 712 1272 318 1151.7 711.7 1188.5 708 1165 712 1274 424.7 1204.6 453 1111 732 928 554 843.7 753 1070.3 747 770.6 671 888.7 548 1023 513.4 879 571.7 941.4 527.5 816 733.7 1291 370 855 535.5 905.7 754.7 850 737 1258 682.6 891 745 1084.3 405.4 1215 405.7 1066 156 989.7 539.4 767 578 992.4 533.7 1228.7 700.7 866.6 742 806.3 736 1219 347 1287 684.7 960 753 996.4 519.5 1245 421 764.7 674.4 919.4 739.3 1199 455.5 1170 438 1016 513 1262 423.4 926.5 556.3 949.5 745 854 738 973.3 531 1290.4 386.6 1245.4 381.6 1297.5 525 817 578.4 1058.3 501 1193 700.3 787.5 587 1281.7 680 974.6 423.3 1085 421.7 1196.7 454.5 1117.5 450 825.6 737 1212 446 1186 434 879 551 1226 441.3 1117 469.6 1084.7 739.7 824 736 900.7 740.6 935.4 549.6 856 751 1050.3 746.3 1298.7 428 1249.5 690.3 1002 490.5 878.5 536 1193.6 454 1148.4 475.5 1240.5 405 1046.5 463 1045 430.3 1146 732 807 734 1086 482.6 975 537 927.3 752 1161 467 747 689 1254 419 1029 507 1230.3 383 1288.3 685 779 671.4 1199.3 706.7 1183.6 702.6 1278 432 1095 480 1275 411.7 936 755.3 879 505.6 945.4 742 793 581 918.5 539 860.3 572.4 744 581 1218 429.3 1285.6 401 1137 448.7 1219 443.3 789.7 581 932.7 741.7 771 678 1155 713.4 1041.7 476 1257 401.5 1101.6 484.7 1082.3 491 1298 475 874.6 550 1298 494.3 1222 692.7 1299 516 1024 517.3 1201 709 935.3 554.4 1286.6 404.6 1071 497 1249 383 786 672.5 1082 463.3 984.7 505 894.4 739 1068.5 741.7 923.4 757.3 1092.5 372.3 1085.6 740 1053 742 841.5 571.3 1299 491 965 525 1067 733 1058 457.6 946 559.6 878 741 1164.6 466.7 1299 483.4 1160 712 830 742.7 1226.6 379 1180 463.3 1253.6 417 1261.6 403 829.5 736 1047.4 509 783 673.5 1297 422.7 1189.5 448.4 748 683 1158 453 779.6 583.6 1157.6 719.4 1228 346.5 974 528 1028.3 442.5 908 745 1008.4 480 1229.4 374 818 730.4 1136.6 472 1270.3 680.3 1254 684 1113.4 408.5 989.4 486.4 881 756 1157.5 475 818 746 803.6 681 1061.5 746.3 1067 468.5 829.7 571 1113 407 1140.7 411.6 1105 479.7 1015 514 1083 364 828.7 735 1287 395 809 581 893.7 555 1081 736.3 979 506 1233.5 382.7 1051 755 1299.3 678 799.6 675 1035.7 454.6 816 578.3 950.7 745.4 1271 414.5 798 674 1132.7 735 977.6 756.3 926.6 516.7 942.5 743.7 924 551.4 1215.5 344.7 1042 743.6 979 537.4 992 536 1248 683.7 819.5 577.3 762.7 587 971.6 757 1190.4 711 1221.6 352.3 1257.3 424 780.6 675 961 520 1167 360 1164.4 444 1253 347 1195.6 701 772 672.7 1184 463.5 1233.7 689.3 921.4 547 790.3 583.5 1113 426.3 1191.3 343.7 877 521.4 1010.7 750 1290 398 909 746 1156.3 713 1128 469 1241.5 696.3 890.3 567.4 1154 730.3 1069 479.3 859.4 507 961.5 509 1298.7 536 1212 390.4 1273.6 414 936.6 739 1088.3 731 879 526.4 878.7 571 1298.4 537 1267.4 427 860.6 548.3 1223 372.5 1296 674.7 961 535 1211 703.6 1294.6 682.3 1155 715.5 1163.5 438.7 1136.3 461.4 832.3 458 1052.6 737.3 1298.6 626 1006 505.3 1192 408 999.6 763.3 902 562 1114 726 1003.4 745 1054 742 1022.7 739.5 941.5 739.3 981.4 748.3 866 739.5 1033 738.4 1023 520 745 706 1089.5 739 960.6 742 866.3 502.4 1019.4 743.4 1120.3 358 1033.7 466 1102 474 1109.5 480 786 678.6 961 531.5 1294 414.4 1223 435.7 763.4 675 985 536.4 760.6 686.3 1238.7 375 934.5 568 1190 454 839.4 739.4 1204 711.7 1279 678 1209 694 978 492.7 1069.6 737.4 893.6 410.4 1192.4 445.3 1249.3 707.7 914 566.3 994.4 741 781.4 672.6 812 572 977.6 740.5 744.4 710.4 1276.7 431.4 1077.3 742.4 982.3 528.4 1036 748.7 1172.4 198.4 772 674.3 820.6 568 887.6 741.7 924 537.5 860 740.3 1054.7 504.5 795.3 677 941 751 828 733.4 974 529.6 943 507.7 1145.5 715.4 1146.5 441.3 1231 711.5 1033 515.5 1114.3 440 1170 451.7 916 557.3 1021 519.4 1081.7 486 924.7 559 1160 442 1258 422 1183.4 437.4 978.4 456 965.6 739.5 758 672 1180 706.4 1081.4 376.7 1231 436.5 989.7 488.3 1297 661 1226.4 421.7 1250.6 241 1171 463.4 944.5 498 1006 520.6 1205.3 331 1175 434.6 1219 384 1107 411.5 1220.4 425.3 1158.6 411 1052.7 741.6 815 579 765.7 585 955 742 1209 695.6 1007.4 743.5 867 516.5 1056.7 488.3 997.3 754.4 1055 746.6 1138.3 719.6 961 536 986.7 517.4 1214.7 203.5 1004.5 743 1278 415.4 1083 447 1110.6 728.6 1109 746 901.5 765.3 1250 352.4 1111.6 750.3 933.7 742 835 554 1177 440.3 876 739.5 1298.6 667 1278.6 359 1206 331.5 989 492.3 923 564 877 565.4 931.3 566 1056 496 796.4 587.6 1088 763.7 1242 686 1298.7 679.3 1142 443 1134.7 718 859.7 576.4 1113 379 902.7 555 1204 452.6 756 673 1028.7 742.7 1198 442 1171 453.5 776 674.6 958 549 1297.5 577 803 576.5 1007.5 425 1279.5 676.7 1183 376.7 942 545.5 917 559.5 813 553 1200.7 697.3 1047 492 1155.5 457 1270 416.6 1061 497 965 551 1227 419 862 743 1297.5 443.6 935 745 951 519.4 876 563.6 1275.7 422 1251.5 419 996 741 851 572 1281.7 280.7 1007 753.6 756 683 869.6 739 750 581 1187 708 845.5 579.5 908 741 893 516.6 1109.3 318 896 740 959 743 984 542 1120 462 863.7 532 937.3 747.7 1265.6 693.7 1203 718 1122.5 725.3 1244.5 342.5 841 557 1130.3 465.7 763.3 584.4 748 684.6 922 756 1249.6 397 1148.5 720.5 827 561 900 554.4 1233.4 434 1230.4 384.3 1139.5 719 973.3 532 1266.3 383.7 1245 684.4 806 556.5 805 582 1092 491 1189.4 458 1274.4 683.4 1233.6 437.5 1205 437.5 1125.5 412 928 560.4 885.5 739.7 792.5 673.5 953 532 919 540 1038.7 506 1088 470 792 547.4 1216.7 277 1002.7 524 1204 442.7 1029.5 514.6 1023.3 484 1122.4 426 912.5 554.4 1290 678.4 782 584.4 897 741.6 1298.4 657 840.5 736 774.7 676.4 1221.3 710 922 535 851 742.6 785 584 1251 360 1085.5 484.6 884 471 794 584 1059.6 738 1097.4 410 942 746.3 872.7 742 1298.4 477.3 1126 473 1170.3 706 1290.3 386.3 744.4 675.3 1266 427.4 760 678 1282 421.6 777.5 673.3 1202.7 438.4 1299 626 1209 696 794 578.3 1010.4 526 891.5 771 846.4 550 1083.5 423 883 750.6 1147.3 391.7 799 585 878.7 739.6 940.5 744 900.6 539 1067 453 787.5 586 1210.4 447 804.4 581 1210.6 708 950.4 532.5 1138.3 721 1096.7 738.4 963 540.4 929 742 998 531.4 1128.7 344 1206 367.7 1097 381 989 521.7 1062.4 484 742.4 604.4 963 515 1229.6 436 879.4 740.7 1284 678 1179 707.7 891.6 750.7 1004 468 1212 695 1280 396 1058.3 495 1161.7 463 1151 716.6 1289 674.7 861.4 738.5 766 671.6 803.3 698.4 1082 734.5 1204 324 1031 748 1115.7 354 1165 712 763 555 1298 612 1019 394 1236.4 441.5 1150.3 715 1048.6 402.5 754.3 677.3 1133.7 430.3 1095.3 484.7 1176.4 385 966 550.7 993 740 824.6 570.4 1283.3 407 915 740 974.3 470 1161.4 466 950 741 1057 480 1259 270 1109 742.6 1041.3 739.4 864 458 936.6 740.6 880 478.6 871 576 1270 349.3 1244.5 686 1007.7 518 753.7 674 1196.5 447 964 741 798.7 679.3 1007 477.3 789.7 674 934.6 520.7 1282.6 416.3 899 747.4 1218.6 326 860.7 746 1249 423.5 1240 385 776.7 569.4 898.4 740.6 1080 733 986.6 487.5 1269 682 1052.4 487.4 1136 467.6 1233.7 330.6 997.4 159.4 959 741 1166 709.4 1052 463 1060 353 877 569.4 943.7 500.4 1221 693 1095.3 433.3 1036.5 736.4 1076 461 1029 455.4 1057 738 1066 471 1197.5 705.7 1079 424.3 862.3 566.6 866 748 1041.3 756 748.7 680 980.6 520.3 1076.6 430 1299 383.5 1174 433 1051.5 736 838.7 505 1065 501 1273 698.6 1086 736 977 516 935 557 861.4 749 1117 483 1149 713 763.6 672 1122 468.5 790 680 1112 349 1231.7 703.6 1116 436 1165 394.3 817.5 735 1122.5 447.3 1291 396.5 882.5 574.6 1287 399 803 682.7 1205.3 430.3 878.6 744 743 601.7 1021 744.3 1125.5 722 1254.4 686 901 748 838.5 740.6 1145 729 1101 448 1181 378.4 1265 378 1294 383 805 538.4 744.7 725 938.7 745 1156.7 445.5 1136 383.6 1202.5 424.6 884 561 839 733 896.7 523.3 938 526 1073 496.6 809.4 580.6 1298.5 424 1150.7 369.6 877 745.5 994 535 1252 416.4 1037 745.5 982.3 495 1167.5 710.5 1167.6 401.6 1244.3 696 1113 724.3 770.6 673.6 1249.5 436 963 757 1172 346.4 794 679 986 537 772.3 671 1298 459 1137 723 761.4 580.6 1206.4 384 836.4 542 797.5 679.3 1137 439.6 1113.6 729.3 808 742.6 1154 728.3 904.6 547.3 755 584 828 581 783.3 573.7 1005.4 512 1175.3 720.5 1225.7 693.7 875 739 1043.6 743 1197 436 965 759.4 917.5 761.7 1250.5 430.6 1164.3 709 1123.7 477 834.5 569.5 937.7 561.7 850.6 577 1276 392.7 759 674 1223.6 425 744 679.3 1024.6 416.6 767.6 671 996 753.6 949 745 1064 490 1260.3 700.4 1287.3 675.6 963.4 743 1129.6 440.7 921 754.7 756.5 588 1208.7 696 1240.7 690.7 1152 730.5 1115 484 894.7 544.4 1164 710.4 925 565.6 1251.4 685.3 1189.4 342.6 1006.6 470 1267 376 970.3 398.3 1026 744 1194.3 700 799.5 677.6 1297.4 556.7 1280 329.7 908 742 1271.5 409 894.4 758 1219.5 331 1198.5 699.6 1243.4 110 1169 427 1029.4 488 844 498 903 528.3 1130.5 475.7 1191.3 705.4 1187.3 420.3 950 467.4 1290 415.7 1282 400 1097 738.5 1298 539 1188.5 375.6 1165 351 944 739 1046 452.4 892.6 507.3 1102 482.4 897.5 739 1192 701.4 1229.4 382 1168 469 1222 398.5 1164 711 1207 400.7 955.7 753.6 951.4 561 1102.3 730 785.7 677 1199.7 446 868 415.5 1006.4 739.7 1128.5 724 853 739 978 522.5 1144 467.4 962 454.3 836.3 743.7 1168 706.6 1012 740.5 981 743 1024.7 509 888 550.7 1076 738.6 973 481 1245.6 686.3 1163.5 713 1287.6 340 1298 513 1297 532.6 887 537.5 1064 481.5 797 689 925 518 1137 721.6 1004.6 370.6 776.7 585 969 526 1293 374 1044.6 493.4 1083.3 495 762 672.6 1154.7 449.3 1112 311 1244 684.4 1241.5 422.5 1205 394.4 868.6 572 1188 449.3 1213.6 364 1178 461 1279 421.7 797 677 1049 498 1190 353 1267 426.5 1031.7 441 892 749 999.3 147 1054 466.5 1175.5 708 976.4 502 906.5 746.3 1024 490 1166 377.3 1211.3 708.7 1034.6 509.4 1140 475.4 904 556.6 846 740 1099.5 453.5 1053 470 1009 741 767 676.7 1050 507 989 488.4 918 459 1198.6 413 1036.7 493.5 1270 414.3 864 747 1013 524 1129.3 739.5 966 538 1208 444.7 1117.4 484.5 1102 484.6 834.5 567 836.5 566 1080 736 1214.7 693 1225 695 756.4 673.5 894.3 535.7 852 566 912 740.5 1150 446 1032 737.4 1146 718.6 1206.7 366.3 952.6 741 842.5 734.6 977 496 1253.3 354 821 741 1121 471.6 1022 510 1147 476 1183.3 708.6 1287 379 901.5 740.5 923.3 552 1040 486.7 772 585.3 835.6 738.4 1257 684.3 1291.3 674 886.5 527 804 725.7 1127.6 366 1082.7 747 1091.6 336.6 844.5 737 764 676 1038 447.7 1115.7 733 862.7 740.6 890 559 1200 402.7 1074.7 492 761 534.5 1099.7 747.5 777 583 1094.7 425 886 745 1235 689 1228.3 383 1269 409 1133 175 893.4 452.3 1143.5 474 1128.3 720 1201 418 1194.6 401.7 742.5 589 1224 406.5 812 729.6 1298.3 510 989.6 512 1161 742.5 979.3 443 1009.5 450 768.6 571 841.3 739 1071 500 1126.5 472 1262 683.3 912.4 749 934 498 1126.5 722 745 725 1021 518 1047 491 847.7 559 1298.3 584.6 1156 715.5 1230.4 704 1051.4 765 1083 462.3 973.6 530.3 818.5 730.6 1139.6 719 1018.6 468.6 848 548 1298.5 544.7 1193 708 1103.6 737 844 734.7 948.7 532 999.6 747.3 1035.4 504 1218.4 269.3 1171 216.3 1143 355" fill="none" stroke="none" marker-start="url(#pt)" marker-mid="url(#pt)" marker-end="url(#pt)"/><path d="M744.2 641.5 745.2 641.5 745.2 635.6 746.2 635.6 746.2 629.4 747.2 629.4 747.2 625.5 748.2 625.5 748.2 621.6 749.2 621.6 749.2 620.5 750.2 620.5 750.2 619.6 751.2 619.6 751.2 617.8 752.2 617.8 752.2 618.3 753.2 618.3 753.2 617.1 754.2 617.1 754.2 617.5 755.2 617.5 755.2 614.1 756.2 614.1 756.2 612.6 757.2 612.6 757.2 612.9 758.2 612.9 758.2 613.1 759.2 613.1 759.2 614.2 760.2 614.2 760.2 615.6 761.2 615.6 761.2 611.6 762.2 611.6 762.2 610.7 763.2 610.7 763.2 608 764.2 608 764.2 609.4 765.2 609.4 765.2 611.6 766.2 611.6 766.2 609.8 767.2 609.8 767.2 610 768.2 610 768.2 610.3 769.2 610.3 769.2 610.7 770.2 610.7 770.2 611.6 771.2 611.6 771.2 611.4 772.2 611.4 772.2 612 773.2 612 773.2 611.7 774.2 611.7 774.2 613.3 775.2 613.3 775.2 615.6 776.2 615.6 776.2 617.4 777.2 617.4 777.2 617.3 778.2 617.3 778.2 617.9 779.2 617.9 779.2 619.7 780.2 619.7 780.2 620.3 781.2 620.3 781.2 621.5 782.2 621.5 782.2 622.8 783.2 622.8 783.2 622.7 784.2 622.7 784.2 621.5 785.2 621.5 785.2 621.9 786.2 621.9 786.2 621.7 787.2 621.7 787.2 624.8 788.2 624.8 788.2 624.5 789.2 624.5 789.2 626.6 790.2 626.6 790.2 626.2 791.2 626.2 791.2 625.5 792.2 625.5 792.2 626 793.2 626 793.2 626.8 794.2 626.8 794.2 626.6 795.2 626.6 795.2 627.7 796.2 627.7 796.2 625.8 797.2 625.8 797.2 624 798.2 624 798.2 623.5 799.9 623.5 799.9 663.5 798.2 663.5 798.2 662.6 797.2 662.6 797.2 660.5 796.2 660.5 796.2 661.4 795.2 661.4 795.2 660.2 794.2 660.2 794.2 659.3 793.2 659.3 793.2 661.5 792.2 661.5 792.2 658.9 791.2 658.9 791.2 657.3 790.2 657.3 790.2 657.5 789.2 657.5 789.2 655 788.2 655 788.2 656 787.2 656 787.2 655.4 786.2 655.4 786.2 653.4 785.2 653.4 785.2 652.8 784.2 652.8 784.2 654.6 783.2 654.6 783.2 651.8 782.2 651.8 782.2 649.7 781.2 649.7 781.2 650.9 780.2 650.9 780.2 648.7 779.2 648.7 779.2 650.8 778.2 650.8 778.2 648.8 777.2 648.8 777.2 648.4 776.2 648.4 776.2 648.9 775.2 648.9 775.2 648.7 774.2 648.7 774.2 656 773.2 656 773.2 646 772.2 646 772.2 647.3 771.2 647.3 771.2 647.5 770.2 647.5 770.2 646.2 769.2 646.2 769.2 646.5 768.2 646.5 768.2 646.6 767.2 646.6 767.2 645.8 766.2 645.8 766.2 645.5 765.2 645.5 765.2 643.3 764.2 643.3 764.2 642.4 763.2 642.4 763.2 641.9 762.2 641.9 762.2 642.9 761.2 642.9 761.2 643.2 760.2 643.2 760.2 645.5 759.2 645.5 759.2 644.1 758.2 644.1 758.2 645 757.2 645 757.2 647.3 756.2 647.3 756.2 648.7 755.2 648.7 755.2 654.2 754.2 654.2 754.2 649.9 753.2 649.9 753.2 650.7 752.2 650.7 752.2 653.2 751.2 653.2 751.2 650 750.2 650 750.2 651.4 749.2 651.4 749.2 656.9 748.2 656.9 748.2 661.6 747.2 661.6 747.2 667.3 746.2 667.3 746.2 680.6 745.2 680.6 745.2 693.5 744.2 693.5Z M799.9 616.3 800.9 616.3 800.9 610.1 801.9 610.1 801.9 616.6 802.9 616.6 802.9 619.4 803.9 619.4 803.9 609.4 804.9 609.4 804.9 615.2 805.9 615.2 805.9 621.5 806.9 621.5 806.9 624 807.9 624 807.9 622.3 808.9 622.3 808.9 620 809.9 620 809.9 614.8 810.9 614.8 810.9 624 811.9 624 811.9 622.2 812.9 622.2 812.9 615.7 813.9 615.7 813.9 615.9 814.9 615.9 814.9 615.3 815.9 615.3 815.9 619.6 816.9 619.6 816.9 622.5 817.9 622.5 817.9 626.9 818.9 626.9 818.9 629.2 819.9 629.2 819.9 629.5 820.9 629.5 820.9 629.8 821.9 629.8 821.9 628.9 822.9 628.9 822.9 623 823.9 623 823.9 624.1 824.9 624.1 824.9 620.2 825.9 620.2 825.9 620.4 826.9 620.4 826.9 621.9 827.9 621.9 827.9 624.7 828.9 624.7 828.9 624.7 829.9 624.7 829.9 620.3 830.9 620.3 830.9 623.6 831.9 623.6 831.9 630.4 832.9 630.4 832.9 630.2 833.9 630.2 833.9 625.5 834.9 625.5 834.9 621.4 835.9 621.4 835.9 624.5 836.9 624.5 836.9 627.8 837.9 627.8 837.9 631.8 838.9 631.8 838.9 632.4 839.9 632.4 839.9 623.2 840.9 623.2 840.9 624.3 841.9 624.3 841.9 631.5 842.9 631.5 842.9 632.4 843.9 632.4 843.9 631 844.9 631 844.9 636.9 845.9 636.9 845.9 634 846.9 634 846.9 627.5 847.9 627.5 847.9 635.6 848.9 635.6 848.9 636.6 849.9 636.6 849.9 633.8 850.9 633.8 850.9 636.6 851.9 636.6 851.9 629.3 852.9 629.3 852.9 627.8 853.9 627.8 853.9 633.6 854.9 633.6 854.9 636.6 855.9 636.6 855.9 637.7 856.9 637.7 856.9 635.7 857.9 635.7 857.9 637.3 858.9 637.3 858.9 639.6 859.9 639.6 859.9 636.6 860.9 636.6 860.9 636.6 861.9 636.6 861.9 636.4 862.9 636.4 862.9 636.3 863.9 636.3 863.9 630.7 864.9 630.7 864.9 630 865.9 630 865.9 628.8 866.9 628.8 866.9 628.1 867.9 628.1 867.9 625.8 868.9 625.8 868.9 629.9 869.9 629.9 869.9 633.7 870.9 633.7 870.9 633.2 871.9 633.2 871.9 630.7 872.9 630.7 872.9 628.1 873.9 628.1 873.9 629.8 874.9 629.8 874.9 632.2 875.9 632.2 875.9 633.2 876.9 633.2 876.9 630.9 877.9 630.9 877.9 621.9 878.9 621.9 878.9 626.2 879.9 626.2 879.9 632.1 880.9 632.1 880.9 629.8 881.9 629.8 881.9 630.7 882.9 630.7 882.9 632.8 883.9 632.8 883.9 632.7 884.9 632.7 884.9 631.7 885.9 631.7 885.9 632 886.9 632 886.9 635.2 887.9 635.2 887.9 632 888.9 632 888.9 631.7 889.9 631.7 889.9 636.5 890.9 636.5 890.9 636 891.9 636 891.9 635.5 892.9 635.5 892.9 635.7 893.9 635.7 893.9 635.5 894.9 635.5 894.9 637.8 895.9 637.8 895.9 631.7 896.9 631.7 896.9 632.6 897.9 632.6 897.9 631.5 898.9 631.5 898.9 628.4 899.9 628.4 899.9 629 900.9 629 900.9 627.9 901.9 627.9 901.9 637.5 902.9 637.5 902.9 636.2 903.9 636.2 903.9 634.8 904.9 634.8 904.9 632.8 905.9 632.8 905.9 633.7 906.9 633.7 906.9 636.6 907.9 636.6 907.9 635.2 908.9 635.2 908.9 636.8 909.9 636.8 909.9 635.2 910.9 635.2 910.9 634.1 911.9 634.1 911.9 631.6 912.9 631.6 912.9 632.9 913.9 632.9 913.9 633.4 914.9 633.4 914.9 631.5 915.9 631.5 915.9 635.4 916.9 635.4 916.9 635.4 917.9 635.4 917.9 634.3 918.9 634.3 918.9 631.8 919.9 631.8 919.9 635.8 920.9 635.8 920.9 634.9 921.9 634.9 921.9 634.7 922.9 634.7 922.9 635.4 923.9 635.4 923.9 632.1 924.9 632.1 924.9 634.7 925.9 634.7 925.9 633.5 926.9 633.5 926.9 631 927.9 631 927.9 628.9 928.9 628.9 928.9 628.1 929.9 628.1 929.9 633.4 930.9 633.4 930.9 635 931.9 635 931.9 633.3 932.9 633.3 932.9 624.2 933.9 624.2 933.9 620.8 934.9 620.8 934.9 626.3 935.9 626.3 935.9 629.2 936.9 629.2 936.9 626.7 937.9 626.7 937.9 620.9 938.9 620.9 938.9 621.1 939.9 621.1 939.9 614.7 940.9 614.7 940.9 617 941.9 617 941.9 622.1 942.9 622.1 942.9 622.5 943.9 622.5 943.9 626.4 944.9 626.4 944.9 623.6 945.9 623.6 945.9 629.3 946.9 629.3 946.9 627.6 947.9 627.6 947.9 628 948.9 628 948.9 625.8 949.9 625.8 949.9 626.2 950.9 626.2 950.9 620.7 951.9 620.7 951.9 622.2 952.9 622.2 952.9 621.6 953.9 621.6 953.9 626 954.9 626 954.9 623.6 955.9 623.6 955.9 611.9 956.9 611.9 956.9 605.2 957.9 605.2 957.9 598.3 958.9 598.3 958.9 593.3 959.9 593.3 959.9 605.9 960.9 605.9 960.9 598.3 961.9 598.3 961.9 602.5 962.9 602.5 962.9 595.7 963.9 595.7 963.9 596.4 964.9 596.4 964.9 602.8 965.9 602.8 965.9 620.3 966.9 620.3 966.9 617.5 967.9 617.5 967.9 610.9 968.9 610.9 968.9 604.8 969.9 604.8 969.9 613.9 970.9 613.9 970.9 610.5 971.9 610.5 971.9 620.5 972.9 620.5 972.9 619.3 973.9 619.3 973.9 621.9 974.9 621.9 974.9 623.3 975.9 623.3 975.9 612.5 976.9 612.5 976.9 607.6 977.9 607.6 977.9 612.9 978.9 612.9 978.9 606.7 979.9 606.7 979.9 591.4 980.9 591.4 980.9 596.2 981.9 596.2 981.9 608.7 982.9 608.7 982.9 617.3 983.9 617.3 983.9 621.6 984.9 621.6 984.9 618.9 985.9 618.9 985.9 619.6 986.9 619.6 986.9 617.1 987.9 617.1 987.9 619.6 988.9 619.6 988.9 620.9 989.9 620.9 989.9 621.6 990.9 621.6 990.9 621.3 991.9 621.3 991.9 621 992.9 621 992.9 619.7 993.9 619.7 993.9 619.7 994.9 619.7 994.9 620.1 995.9 620.1 995.9 619.7 996.9 619.7 996.9 617.9 997.9 617.9 997.9 615 998.9 615 998.9 616.2 999.9 616.2 999.9 617 1000.9 617 1000.9 613.1 1001.9 613.1 1001.9 599.8 1002.9 599.8 1002.9 604.1 1003.9 604.1 1003.9 614.7 1004.9 614.7 1004.9 613.6 1005.9 613.6 1005.9 613.1 1006.9 613.1 1006.9 609.3 1007.9 609.3 1007.9 608.9 1008.9 608.9 1008.9 606.7 1009.9 606.7 1009.9 598.3 1010.9 598.3 1010.9 602 1011.9 602 1011.9 600 1012.9 600 1012.9 601.6 1013.9 601.6 1013.9 598.4 1014.9 598.4 1014.9 597.6 1015.9 597.6 1015.9 599.9 1016.9 599.9 1016.9 601 1017.9 601 1017.9 606 1018.9 606 1018.9 596.7 1019.9 596.7 1019.9 585.8 1020.9 585.8 1020.9 581.1 1021.9 581.1 1021.9 578 1022.9 578 1022.9 592.1 1023.9 592.1 1023.9 596.3 1024.9 596.3 1024.9 594.3 1025.9 594.3 1025.9 590.5 1026.9 590.5 1026.9 593 1027.9 593 1027.9 588.8 1028.9 588.8 1028.9 594.9 1029.9 594.9 1029.9 595.9 1030.9 595.9 1030.9 595.7 1031.9 595.7 1031.9 587.7 1032.9 587.7 1032.9 583.7 1033.9 583.7 1033.9 591.7 1034.9 591.7 1034.9 580.6 1035.9 580.6 1035.9 586.1 1036.9 586.1 1036.9 590.2 1037.9 590.2 1037.9 593.7 1038.9 593.7 1038.9 594 1039.9 594 1039.9 591.9 1040.9 591.9 1040.9 593 1041.9 593 1041.9 592.6 1042.9 592.6 1042.9 591.9 1043.9 591.9 1043.9 590.8 1044.9 590.8 1044.9 590.3 1045.9 590.3 1045.9 589.6 1046.9 589.6 1046.9 588.3 1047.9 588.3 1047.9 584.7 1048.9 584.7 1048.9 582.1 1049.9 582.1 1049.9 581 1050.9 581 1050.9 585.8 1051.9 585.8 1051.9 585 1052.9 585 1052.9 583.1 1053.9 583.1 1053.9 576.4 1054.9 576.4 1054.9 580.7 1055.9 580.7 1055.9 580.8 1056.9 580.8 1056.9 579.9 1057.9 579.9 1057.9 575.5 1058.9 575.5 1058.9 566.5 1059.9 566.5 1059.9 561.2 1060.9 561.2 1060.9 567.7 1061.9 567.7 1061.9 573.5 1062.9 573.5 1062.9 570.8 1063.9 570.8 1063.9 568.8 1064.9 568.8 1064.9 564 1065.9 564 1065.9 553.8 1066.9 553.8 1066.9 556.1 1067.9 556.1 1067.9 563.5 1068.9 563.5 1068.9 563.1 1069.9 563.1 1069.9 561.6 1070.9 561.6 1070.9 566.9 1071.9 566.9 1071.9 567.1 1072.9 567.1 1072.9 570.6 1073.9 570.6 1073.9 571.4 1074.9 571.4 1074.9 559.9 1075.9 559.9 1075.9 559.8 1076.9 559.8 1076.9 549.5 1077.9 549.5 1077.9 558.9 1078.9 558.9 1078.9 559.7 1079.9 559.7 1079.9 562.1 1080.9 562.1 1080.9 558.1 1081.9 558.1 1081.9 534.1 1082.9 534.1 1082.9 538.6 1083.9 538.6 1083.9 549.8 1084.9 549.8 1084.9 557.3 1085.9 557.3 1085.9 548.7 1086.9 548.7 1086.9 545.7 1087.9 545.7 1087.9 554.8 1088.9 554.8 1088.9 555.3 1089.9 555.3 1089.9 554.7 1090.9 554.7 1090.9 563.7 1091.9 563.7 1091.9 565.8 1092.9 565.8 1092.9 565.6 1093.9 565.6 1093.9 565.2 1094.9 565.2 1094.9 561.5 1095.9 561.5 1095.9 562.5 1096.9 562.5 1096.9 559.3 1097.9 559.3 1097.9 559.3 1098.9 559.3 1098.9 556.4 1099.9 556.4 1099.9 557.4 1100.9 557.4 1100.9 554.3 1101.9 554.3 1101.9 556.8 1102.9 556.8 1102.9 555.8 1103.9 555.8 1103.9 560.8 1104.9 560.8 1104.9 557.6 1105.9 557.6 1105.9 555.4 1106.9 555.4 1106.9 559.2 1107.9 559.2 1107.9 559 1108.9 559 1108.9 557 1109.9 557 1109.9 558 1110.9 558 1110.9 557.6 1111.9 557.6 1111.9 560.4 1112.9 560.4 1112.9 558.6 1113.9 558.6 1113.9 557.7 1114.9 557.7 1114.9 559.1 1115.9 559.1 1115.9 559.2 1116.9 559.2 1116.9 558.6 1117.9 558.6 1117.9 558.5 1118.9 558.5 1118.9 558.2 1119.9 558.2 1119.9 557.6 1120.9 557.6 1120.9 557.4 1121.9 557.4 1121.9 551.5 1122.9 551.5 1122.9 553.1 1123.9 553.1 1123.9 554.6 1124.9 554.6 1124.9 554.6 1125.9 554.6 1125.9 555.1 1126.9 555.1 1126.9 551.3 1127.9 551.3 1127.9 546 1128.9 546 1128.9 546.3 1129.9 546.3 1129.9 553.2 1130.9 553.2 1130.9 553 1131.9 553 1131.9 553 1132.9 553 1132.9 550.8 1133.9 550.8 1133.9 549 1134.9 549 1134.9 549.3 1135.9 549.3 1135.9 549.2 1136.9 549.2 1136.9 549.8 1137.9 549.8 1137.9 547.4 1138.9 547.4 1138.9 540.3 1139.9 540.3 1139.9 534 1140.9 534 1140.9 535.5 1141.9 535.5 1141.9 532.7 1142.9 532.7 1142.9 537.5 1143.9 537.5 1143.9 539.9 1144.9 539.9 1144.9 540.8 1145.9 540.8 1145.9 530.7 1146.9 530.7 1146.9 533.8 1147.9 533.8 1147.9 535.8 1148.9 535.8 1148.9 535.2 1149.9 535.2 1149.9 534 1150.9 534 1150.9 529.6 1151.9 529.6 1151.9 534 1152.9 534 1152.9 526.7 1153.9 526.7 1153.9 519.4 1154.9 519.4 1154.9 530.3 1155.9 530.3 1155.9 533.4 1156.9 533.4 1156.9 522.7 1157.9 522.7 1157.9 505.6 1158.9 505.6 1158.9 507.2 1159.9 507.2 1159.9 510.9 1160.9 510.9 1160.9 513.1 1161.9 513.1 1161.9 519.4 1162.9 519.4 1162.9 533.4 1163.9 533.4 1163.9 517.7 1164.9 517.7 1164.9 532.3 1165.9 532.3 1165.9 541.1 1166.9 541.1 1166.9 542.8 1167.9 542.8 1167.9 541.8 1168.9 541.8 1168.9 541.6 1169.9 541.6 1169.9 541 1170.9 541 1170.9 539.8 1171.9 539.8 1171.9 538.2 1172.9 538.2 1172.9 539 1173.9 539 1173.9 538.8 1174.9 538.8 1174.9 538 1175.9 538 1175.9 536.5 1176.9 536.5 1176.9 535 1177.9 535 1177.9 536.6 1178.9 536.6 1178.9 535.8 1179.9 535.8 1179.9 532 1180.9 532 1180.9 527.6 1181.9 527.6 1181.9 529.4 1182.9 529.4 1182.9 531.2 1183.9 531.2 1183.9 527.8 1184.9 527.8 1184.9 529.4 1185.9 529.4 1185.9 531 1186.9 531 1186.9 530.9 1187.9 530.9 1187.9 530.3 1188.9 530.3 1188.9 528.4 1189.9 528.4 1189.9 522.7 1190.9 522.7 1190.9 517.2 1191.9 517.2 1191.9 519.1 1192.9 519.1 1192.9 497.9 1193.9 497.9 1193.9 496.4 1194.9 496.4 1194.9 507.9 1195.9 507.9 1195.9 501.8 1196.9 501.8 1196.9 508.9 1197.9 508.9 1197.9 516.2 1198.9 516.2 1198.9 513.5 1199.9 513.5 1199.9 514.2 1200.9 514.2 1200.9 520.1 1201.9 520.1 1201.9 523.6 1202.9 523.6 1202.9 521.4 1203.9 521.4 1203.9 519.8 1204.9 519.8 1204.9 514.3 1205.9 514.3 1205.9 508.9 1206.9 508.9 1206.9 505.6 1207.9 505.6 1207.9 506.1 1208.9 506.1 1208.9 514.7 1209.9 514.7 1209.9 518.6 1210.9 518.6 1210.9 523.8 1211.9 523.8 1211.9 523.1 1212.9 523.1 1212.9 520.4 1213.9 520.4 1213.9 522.7 1214.9 522.7 1214.9 522.2 1215.9 522.2 1215.9 516 1216.9 516 1216.9 521.9 1217.9 521.9 1217.9 518.8 1218.9 518.8 1218.9 513.6 1219.9 513.6 1219.9 511.6 1220.9 511.6 1220.9 512 1221.9 512 1221.9 517.4 1222.9 517.4 1222.9 519.4 1223.9 519.4 1223.9 519 1224.9 519 1224.9 517.5 1225.9 517.5 1225.9 518 1226.9 518 1226.9 517.7 1227.9 517.7 1227.9 517.7 1228.9 517.7 1228.9 514.3 1229.9 514.3 1229.9 514.2 1230.9 514.2 1230.9 510.5 1231.9 510.5 1231.9 502.5 1232.9 502.5 1232.9 508.9 1233.9 508.9 1233.9 510.8 1234.9 510.8 1234.9 508.2 1235.9 508.2 1235.9 496.1 1236.9 496.1 1236.9 503.2 1237.9 503.2 1237.9 502.3 1238.9 502.3 1238.9 500.7 1239.9 500.7 1239.9 509.2 1240.9 509.2 1240.9 507.9 1241.9 507.9 1241.9 501.8 1242.9 501.8 1242.9 502 1243.9 502 1243.9 506.6 1244.9 506.6 1244.9 503 1245.9 503 1245.9 508.5 1246.9 508.5 1246.9 506.8 1247.9 506.8 1247.9 508.1 1248.9 508.1 1248.9 507 1249.9 507 1249.9 506.8 1250.9 506.8 1250.9 495.3 1251.9 495.3 1251.9 492.2 1252.9 492.2 1252.9 491.4 1253.9 491.4 1253.9 490.7 1254.9 490.7 1254.9 493.4 1255.9 493.4 1255.9 493.5 1256.9 493.5 1256.9 506.7 1257.9 506.7 1257.9 507.2 1258.9 507.2 1258.9 505.5 1259.9 505.5 1259.9 505.2 1260.9 505.2 1260.9 504.8 1261.9 504.8 1261.9 505.3 1262.9 505.3 1262.9 505.4 1263.9 505.4 1263.9 505.1 1264.9 505.1 1264.9 504.8 1265.9 504.8 1265.9 501.7 1266.9 501.7 1266.9 499.9 1267.9 499.9 1267.9 495.5 1268.9 495.5 1268.9 487.4 1269.9 487.4 1269.9 491.9 1270.9 491.9 1270.9 491.2 1271.9 491.2 1271.9 489.3 1272.9 489.3 1272.9 490.2 1273.9 490.2 1273.9 487.2 1274.9 487.2 1274.9 490.3 1275.9 490.3 1275.9 492.9 1276.9 492.9 1276.9 486.8 1277.9 486.8 1277.9 483.1 1278.9 483.1 1278.9 491 1279.9 491 1279.9 490.1 1280.9 490.1 1280.9 492.6 1281.9 492.6 1281.9 496.1 1282.9 496.1 1282.9 496.5 1283.9 496.5 1283.9 496.8 1284.9 496.8 1284.9 495 1285.9 495 1285.9 496.7 1286.9 496.7 1286.9 493.9 1287.9 493.9 1287.9 497.5 1288.9 497.5 1288.9 497.1 1289.9 497.1 1289.9 496.9 1290.9 496.9 1290.9 496.5 1291.9 496.5 1291.9 495.5 1292.9 495.5 1292.9 495.4 1293.9 495.4 1293.9 490.8 1294.9 490.8 1294.9 490 1295.9 490 1295.9 487.9 1296.9 487.9 1296.9 488 1297.9 488 1297.9 481.4 1298.9 481.4 1298.9 574.1 1297.9 574.1 1297.9 581.6 1296.9 581.6 1296.9 597.9 1295.9 597.9 1295.9 592 1294.9 592 1294.9 594.9 1293.9 594.9 1293.9 587.7 1292.9 587.7 1292.9 580.6 1291.9 580.6 1291.9 588.1 1290.9 588.1 1290.9 607.5 1289.9 607.5 1289.9 596.3 1288.9 596.3 1288.9 589.4 1287.9 589.4 1287.9 585.2 1286.9 585.2 1286.9 582.9 1285.9 582.9 1285.9 580.3 1284.9 580.3 1284.9 578.6 1283.9 578.6 1283.9 582.6 1282.9 582.6 1282.9 580.5 1281.9 580.5 1281.9 582.4 1280.9 582.4 1280.9 585.7 1279.9 585.7 1279.9 590.8 1278.9 590.8 1278.9 589.5 1277.9 589.5 1277.9 582.5 1276.9 582.5 1276.9 582.4 1275.9 582.4 1275.9 583.4 1274.9 583.4 1274.9 584.2 1273.9 584.2 1273.9 583.5 1272.9 583.5 1272.9 581.2 1271.9 581.2 1271.9 581.4 1270.9 581.4 1270.9 581.8 1269.9 581.8 1269.9 582.5 1268.9 582.5 1268.9 584.7 1267.9 584.7 1267.9 584.5 1266.9 584.5 1266.9 590.8 1265.9 590.8 1265.9 589.5 1264.9 589.5 1264.9 591.5 1263.9 591.5 1263.9 590.4 1262.9 590.4 1262.9 587.3 1261.9 587.3 1261.9 593.7 1260.9 593.7 1260.9 592.7 1259.9 592.7 1259.9 589.8 1258.9 589.8 1258.9 592.2 1257.9 592.2 1257.9 590.9 1256.9 590.9 1256.9 588.9 1255.9 588.9 1255.9 586.7 1254.9 586.7 1254.9 587.1 1253.9 587.1 1253.9 587.7 1252.9 587.7 1252.9 588.8 1251.9 588.8 1251.9 594.2 1250.9 594.2 1250.9 595.9 1249.9 595.9 1249.9 598 1248.9 598 1248.9 592.6 1247.9 592.6 1247.9 596.7 1246.9 596.7 1246.9 597.3 1245.9 597.3 1245.9 599.6 1244.9 599.6 1244.9 596.2 1243.9 596.2 1243.9 595 1242.9 595 1242.9 602.7 1241.9 602.7 1241.9 601.1 1240.9 601.1 1240.9 601.5 1239.9 601.5 1239.9 605.2 1238.9 605.2 1238.9 609.1 1237.9 609.1 1237.9 618.2 1236.9 618.2 1236.9 615.7 1235.9 615.7 1235.9 606.7 1234.9 606.7 1234.9 599.3 1233.9 599.3 1233.9 593.8 1232.9 593.8 1232.9 595.4 1231.9 595.4 1231.9 597.4 1230.9 597.4 1230.9 603.2 1229.9 603.2 1229.9 605.1 1228.9 605.1 1228.9 613.2 1227.9 613.2 1227.9 600.4 1226.9 600.4 1226.9 599.2 1225.9 599.2 1225.9 598.1 1224.9 598.1 1224.9 597.7 1223.9 597.7 1223.9 598.6 1222.9 598.6 1222.9 602.8 1221.9 602.8 1221.9 608.4 1220.9 608.4 1220.9 615.1 1219.9 615.1 1219.9 609.9 1218.9 609.9 1218.9 606.6 1217.9 606.6 1217.9 604 1216.9 604 1216.9 603.4 1215.9 603.4 1215.9 610.1 1214.9 610.1 1214.9 616.6 1213.9 616.6 1213.9 607.6 1212.9 607.6 1212.9 603.3 1211.9 603.3 1211.9 602.1 1210.9 602.1 1210.9 602.4 1209.9 602.4 1209.9 604.1 1208.9 604.1 1208.9 606.6 1207.9 606.6 1207.9 607.2 1206.9 607.2 1206.9 611.2 1205.9 611.2 1205.9 608.4 1204.9 608.4 1204.9 604.2 1203.9 604.2 1203.9 605.3 1202.9 605.3 1202.9 605.6 1201.9 605.6 1201.9 605.7 1200.9 605.7 1200.9 605 1199.9 605 1199.9 609.3 1198.9 609.3 1198.9 607.8 1197.9 607.8 1197.9 610.1 1196.9 610.1 1196.9 611.5 1195.9 611.5 1195.9 613.6 1194.9 613.6 1194.9 610.5 1193.9 610.5 1193.9 611.5 1192.9 611.5 1192.9 610.1 1191.9 610.1 1191.9 612.5 1190.9 612.5 1190.9 614.6 1189.9 614.6 1189.9 617 1188.9 617 1188.9 611 1187.9 611 1187.9 611.1 1186.9 611.1 1186.9 614.6 1185.9 614.6 1185.9 613.4 1184.9 613.4 1184.9 622.9 1183.9 622.9 1183.9 619.4 1182.9 619.4 1182.9 619.1 1181.9 619.1 1181.9 617.9 1180.9 617.9 1180.9 624.4 1179.9 624.4 1179.9 627.5 1178.9 627.5 1178.9 626.3 1177.9 626.3 1177.9 626.3 1176.9 626.3 1176.9 624 1175.9 624 1175.9 621.5 1174.9 621.5 1174.9 626.2 1173.9 626.2 1173.9 623.9 1172.9 623.9 1172.9 620.3 1171.9 620.3 1171.9 621.5 1170.9 621.5 1170.9 625.3 1169.9 625.3 1169.9 626.6 1168.9 626.6 1168.9 627.9 1167.9 627.9 1167.9 628.1 1166.9 628.1 1166.9 628 1165.9 628 1165.9 630 1164.9 630 1164.9 628.9 1163.9 628.9 1163.9 634.7 1162.9 634.7 1162.9 632.4 1161.9 632.4 1161.9 629.5 1160.9 629.5 1160.9 628.6 1159.9 628.6 1159.9 636.2 1158.9 636.2 1158.9 635.6 1157.9 635.6 1157.9 636.2 1156.9 636.2 1156.9 636.6 1155.9 636.6 1155.9 636.7 1154.9 636.7 1154.9 631.9 1153.9 631.9 1153.9 630.5 1152.9 630.5 1152.9 632.5 1151.9 632.5 1151.9 632 1150.9 632 1150.9 632.6 1149.9 632.6 1149.9 633.5 1148.9 633.5 1148.9 635.6 1147.9 635.6 1147.9 636.2 1146.9 636.2 1146.9 637.1 1145.9 637.1 1145.9 636 1144.9 636 1144.9 638.3 1143.9 638.3 1143.9 638.1 1142.9 638.1 1142.9 636.2 1141.9 636.2 1141.9 635.4 1140.9 635.4 1140.9 636.1 1139.9 636.1 1139.9 637.4 1138.9 637.4 1138.9 640.1 1137.9 640.1 1137.9 638.3 1136.9 638.3 1136.9 639.8 1135.9 639.8 1135.9 644.1 1134.9 644.1 1134.9 650.2 1133.9 650.2 1133.9 640.7 1132.9 640.7 1132.9 647.7 1131.9 647.7 1131.9 644.3 1130.9 644.3 1130.9 642.5 1129.9 642.5 1129.9 644.4 1128.9 644.4 1128.9 641.9 1127.9 641.9 1127.9 641.2 1126.9 641.2 1126.9 640.6 1125.9 640.6 1125.9 642.1 1124.9 642.1 1124.9 641.1 1123.9 641.1 1123.9 643.5 1122.9 643.5 1122.9 644.2 1121.9 644.2 1121.9 644.3 1120.9 644.3 1120.9 645.3 1119.9 645.3 1119.9 642 1118.9 642 1118.9 642.2 1117.9 642.2 1117.9 644.7 1116.9 644.7 1116.9 646 1115.9 646 1115.9 645.5 1114.9 645.5 1114.9 643.6 1113.9 643.6 1113.9 644.5 1112.9 644.5 1112.9 649 1111.9 649 1111.9 656.4 1110.9 656.4 1110.9 657.9 1109.9 657.9 1109.9 652.8 1108.9 652.8 1108.9 659 1107.9 659 1107.9 661 1106.9 661 1106.9 660.8 1105.9 660.8 1105.9 655 1104.9 655 1104.9 653.2 1103.9 653.2 1103.9 652.8 1102.9 652.8 1102.9 652.8 1101.9 652.8 1101.9 657.1 1100.9 657.1 1100.9 657.9 1099.9 657.9 1099.9 656 1098.9 656 1098.9 654.9 1097.9 654.9 1097.9 661.2 1096.9 661.2 1096.9 663.3 1095.9 663.3 1095.9 657 1094.9 657 1094.9 656.9 1093.9 656.9 1093.9 658.3 1092.9 658.3 1092.9 657.8 1091.9 657.8 1091.9 654 1090.9 654 1090.9 653.3 1089.9 653.3 1089.9 652 1088.9 652 1088.9 652.4 1087.9 652.4 1087.9 650.5 1086.9 650.5 1086.9 651.8 1085.9 651.8 1085.9 650.5 1084.9 650.5 1084.9 653 1083.9 653 1083.9 656.7 1082.9 656.7 1082.9 662.5 1081.9 662.5 1081.9 662.9 1080.9 662.9 1080.9 659.3 1079.9 659.3 1079.9 656.3 1078.9 656.3 1078.9 660.7 1077.9 660.7 1077.9 655.5 1076.9 655.5 1076.9 658.4 1075.9 658.4 1075.9 662.1 1074.9 662.1 1074.9 659.3 1073.9 659.3 1073.9 657.4 1072.9 657.4 1072.9 657.9 1071.9 657.9 1071.9 653.9 1070.9 653.9 1070.9 656.2 1069.9 656.2 1069.9 666 1068.9 666 1068.9 653.8 1067.9 653.8 1067.9 657.4 1066.9 657.4 1066.9 653.8 1065.9 653.8 1065.9 655.2 1064.9 655.2 1064.9 660.5 1063.9 660.5 1063.9 656.4 1062.9 656.4 1062.9 658.8 1061.9 658.8 1061.9 659 1060.9 659 1060.9 657.8 1059.9 657.8 1059.9 658 1058.9 658 1058.9 658.7 1057.9 658.7 1057.9 658.1 1056.9 658.1 1056.9 657.2 1055.9 657.2 1055.9 656.2 1054.9 656.2 1054.9 655.8 1053.9 655.8 1053.9 656.6 1052.9 656.6 1052.9 657.8 1051.9 657.8 1051.9 660.6 1050.9 660.6 1050.9 658.3 1049.9 658.3 1049.9 657.6 1048.9 657.6 1048.9 663.3 1047.9 663.3 1047.9 658.4 1046.9 658.4 1046.9 658.1 1045.9 658.1 1045.9 659.5 1044.9 659.5 1044.9 660.6 1043.9 660.6 1043.9 660.3 1042.9 660.3 1042.9 670.6 1041.9 670.6 1041.9 669.6 1040.9 669.6 1040.9 667 1039.9 667 1039.9 665.3 1038.9 665.3 1038.9 664.2 1037.9 664.2 1037.9 664.2 1036.9 664.2 1036.9 665.7 1035.9 665.7 1035.9 666.3 1034.9 666.3 1034.9 670 1033.9 670 1033.9 668.2 1032.9 668.2 1032.9 671.1 1031.9 671.1 1031.9 678.3 1030.9 678.3 1030.9 671.3 1029.9 671.3 1029.9 678.4 1028.9 678.4 1028.9 681.7 1027.9 681.7 1027.9 673.9 1026.9 673.9 1026.9 671.1 1025.9 671.1 1025.9 673.8 1024.9 673.8 1024.9 678.7 1023.9 678.7 1023.9 683.8 1022.9 683.8 1022.9 691.5 1021.9 691.5 1021.9 694.8 1020.9 694.8 1020.9 696.3 1019.9 696.3 1019.9 695.7 1018.9 695.7 1018.9 690 1017.9 690 1017.9 692.8 1016.9 692.8 1016.9 686.1 1015.9 686.1 1015.9 679.7 1014.9 679.7 1014.9 681.4 1013.9 681.4 1013.9 679.8 1012.9 679.8 1012.9 678.2 1011.9 678.2 1011.9 681.9 1010.9 681.9 1010.9 686.4 1009.9 686.4 1009.9 678.9 1008.9 678.9 1008.9 679.4 1007.9 679.4 1007.9 679.4 1006.9 679.4 1006.9 675.8 1005.9 675.8 1005.9 677.2 1004.9 677.2 1004.9 682.1 1003.9 682.1 1003.9 682.9 1002.9 682.9 1002.9 682.1 1001.9 682.1 1001.9 678.1 1000.9 678.1 1000.9 679.4 999.9 679.4 999.9 682.3 998.9 682.3 998.9 682.7 997.9 682.7 997.9 678.8 996.9 678.8 996.9 677.7 995.9 677.7 995.9 677.5 994.9 677.5 994.9 678.7 993.9 678.7 993.9 677.9 992.9 677.9 992.9 677.6 991.9 677.6 991.9 680 990.9 680 990.9 682.7 989.9 682.7 989.9 683.1 988.9 683.1 988.9 679.4 987.9 679.4 987.9 684.1 986.9 684.1 986.9 681.7 985.9 681.7 985.9 683.1 984.9 683.1 984.9 683.3 983.9 683.3 983.9 678.1 982.9 678.1 982.9 678.4 981.9 678.4 981.9 678.5 980.9 678.5 980.9 681.4 979.9 681.4 979.9 681.6 978.9 681.6 978.9 688.1 977.9 688.1 977.9 686.9 976.9 686.9 976.9 691.3 975.9 691.3 975.9 688.7 974.9 688.7 974.9 687.3 973.9 687.3 973.9 686 972.9 686 972.9 688.7 971.9 688.7 971.9 687 970.9 687 970.9 695.3 969.9 695.3 969.9 685.9 968.9 685.9 968.9 681.3 967.9 681.3 967.9 682.1 966.9 682.1 966.9 681.8 965.9 681.8 965.9 680.8 964.9 680.8 964.9 684.7 963.9 684.7 963.9 684.6 962.9 684.6 962.9 681.9 961.9 681.9 961.9 681.8 960.9 681.8 960.9 685.9 959.9 685.9 959.9 686.7 958.9 686.7 958.9 682.8 957.9 682.8 957.9 684.7 956.9 684.7 956.9 690.2 955.9 690.2 955.9 692.7 954.9 692.7 954.9 698.4 953.9 698.4 953.9 690.9 952.9 690.9 952.9 700.3 951.9 700.3 951.9 691.3 950.9 691.3 950.9 698 949.9 698 949.9 694.3 948.9 694.3 948.9 689.3 947.9 689.3 947.9 694.6 946.9 694.6 946.9 696.4 945.9 696.4 945.9 697.5 944.9 697.5 944.9 689.7 943.9 689.7 943.9 686.9 942.9 686.9 942.9 682.9 941.9 682.9 941.9 683 940.9 683 940.9 683.7 939.9 683.7 939.9 683.5 938.9 683.5 938.9 684.4 937.9 684.4 937.9 684.5 936.9 684.5 936.9 684.5 935.9 684.5 935.9 684.1 934.9 684.1 934.9 684.3 933.9 684.3 933.9 685.3 932.9 685.3 932.9 690 931.9 690 931.9 690 930.9 690 930.9 688 929.9 688 929.9 687.8 928.9 687.8 928.9 690.9 927.9 690.9 927.9 687.1 926.9 687.1 926.9 687.6 925.9 687.6 925.9 686.8 924.9 686.8 924.9 691.2 923.9 691.2 923.9 692.1 922.9 692.1 922.9 690.3 921.9 690.3 921.9 696.8 920.9 696.8 920.9 695.5 919.9 695.5 919.9 695.9 918.9 695.9 918.9 702.6 917.9 702.6 917.9 699.5 916.9 699.5 916.9 695.2 915.9 695.2 915.9 700.2 914.9 700.2 914.9 704.6 913.9 704.6 913.9 715.5 912.9 715.5 912.9 704.7 911.9 704.7 911.9 706.8 910.9 706.8 910.9 705.8 909.9 705.8 909.9 707.9 908.9 707.9 908.9 716.7 907.9 716.7 907.9 711.1 906.9 711.1 906.9 704.5 905.9 704.5 905.9 702 904.9 702 904.9 692.4 903.9 692.4 903.9 690.3 902.9 690.3 902.9 691.8 901.9 691.8 901.9 690.9 900.9 690.9 900.9 697.5 899.9 697.5 899.9 696.7 898.9 696.7 898.9 694.3 897.9 694.3 897.9 689.2 896.9 689.2 896.9 688.4 895.9 688.4 895.9 689.2 894.9 689.2 894.9 690.8 893.9 690.8 893.9 689.9 892.9 689.9 892.9 689.7 891.9 689.7 891.9 691.1 890.9 691.1 890.9 691.5 889.9 691.5 889.9 692.9 888.9 692.9 888.9 690.6 887.9 690.6 887.9 689.5 886.9 689.5 886.9 683.7 885.9 683.7 885.9 683.5 884.9 683.5 884.9 683.6 883.9 683.6 883.9 683.8 882.9 683.8 882.9 683.5 881.9 683.5 881.9 683.3 880.9 683.3 880.9 683 879.9 683 879.9 683 878.9 683 878.9 683.1 877.9 683.1 877.9 683 876.9 683 876.9 683.2 875.9 683.2 875.9 683 874.9 683 874.9 686 873.9 686 873.9 689.9 872.9 689.9 872.9 687.7 871.9 687.7 871.9 687.2 870.9 687.2 870.9 687 869.9 687 869.9 688.4 868.9 688.4 868.9 684.5 867.9 684.5 867.9 686.7 866.9 686.7 866.9 688.6 865.9 688.6 865.9 697 864.9 697 864.9 693.2 863.9 693.2 863.9 689.7 862.9 689.7 862.9 683.6 861.9 683.6 861.9 684.3 860.9 684.3 860.9 681.7 859.9 681.7 859.9 682.1 858.9 682.1 858.9 681.2 857.9 681.2 857.9 682.9 856.9 682.9 856.9 683.9 855.9 683.9 855.9 682.4 854.9 682.4 854.9 680.6 853.9 680.6 853.9 680.5 852.9 680.5 852.9 683 851.9 683 851.9 689.4 850.9 689.4 850.9 679.7 849.9 679.7 849.9 679.2 848.9 679.2 848.9 681.6 847.9 681.6 847.9 677.2 846.9 677.2 846.9 676.8 845.9 676.8 845.9 676.9 844.9 676.9 844.9 677 843.9 677 843.9 676.1 842.9 676.1 842.9 676.4 841.9 676.4 841.9 678 840.9 678 840.9 677.9 839.9 677.9 839.9 675.6 838.9 675.6 838.9 674.5 837.9 674.5 837.9 675.3 836.9 675.3 836.9 680.2 835.9 680.2 835.9 675.3 834.9 675.3 834.9 677.5 833.9 677.5 833.9 676.8 832.9 676.8 832.9 676.7 831.9 676.7 831.9 678.6 830.9 678.6 830.9 676.8 829.9 676.8 829.9 679.7 828.9 679.7 828.9 682.9 827.9 682.9 827.9 678.8 826.9 678.8 826.9 679.3 825.9 679.3 825.9 676.7 824.9 676.7 824.9 672.7 823.9 672.7 823.9 672.3 822.9 672.3 822.9 669.7 821.9 669.7 821.9 670.2 820.9 670.2 820.9 672.1 819.9 672.1 819.9 674.3 818.9 674.3 818.9 686.2 817.9 686.2 817.9 682.5 816.9 682.5 816.9 687.9 815.9 687.9 815.9 679.4 814.9 679.4 814.9 673.9 813.9 673.9 813.9 671.5 812.9 671.5 812.9 669.5 811.9 669.5 811.9 665.4 810.9 665.4 810.9 663.8 809.9 663.8 809.9 662.4 808.9 662.4 808.9 668.1 807.9 668.1 807.9 680.3 806.9 680.3 806.9 667.6 805.9 667.6 805.9 665.8 804.9 665.8 804.9 665.5 803.9 665.5 803.9 662.5 802.9 662.5 802.9 667.6 801.9 667.6 801.9 662.7 800.9 662.7 800.9 661.5 799.9 661.5Z" fill="#a020f0" fill-opacity="0.4"/>
<path d="M744.7 675 745.7 669.4 746.7 661.6 747.7 655.3 748.7 648 749.7 642.7 750.7 641.1 751.7 637.6 752.7 635.1 753.7 632.1 754.7 632 755.7 629.7 756.7 628.6 757.7 627.6 758.7 626.4 759.7 626.4 760.7 624.6 761.7 624.2 762.7 622.8 763.7 622.8 764.7 624.3 765.7 624.6 766.7 628.6 767.7 629.9 768.7 630.9 769.7 631.6 770.7 632 771.7 630.3 772.7 628.6 773.7 629.1 774.7 630.1 775.7 629.8 776.7 630.5 777.7 631.5 778.7 632.4 779.7 632.5 780.7 634.7 781.7 633.4 782.7 633.7 783.7 634.2 784.7 635.6 785.7 635.7 786.7 636.3 787.7 636.9 788.7 637.4 789.7 638.6 790.7 641.1 791.7 642.6 792.7 641.8 793.7 642.9 794.7 643.1 795.7 643 796.7 643.1 797.7 645.6 798.7 645.6 M800.4 643.5 801.4 644.5 802.4 639.3 803.4 650.5 804.4 659.9 805.4 655.4 806.4 655.8 807.4 652.4 808.4 651 809.4 650.4 810.4 650.1 811.4 653.6 812.4 656.9 813.4 656.4 814.4 654.7 815.4 652.9 816.4 644.4 817.4 650.4 818.4 652.8 819.4 649.9 820.4 649.5 821.4 634.6 822.4 635 823.4 645.6 824.4 640.7 825.4 654.8 826.4 652.6 827.4 652.9 828.4 652 829.4 647.5 830.4 644.4 831.4 640.9 832.4 641.6 833.4 640.3 834.4 646.7 835.4 656 836.4 665.4 837.4 660.4 838.4 657.1 839.4 659.1 840.4 656.9 841.4 654.5 842.4 654.5 843.4 661.7 844.4 655.7 845.4 660.3 846.4 659.9 847.4 662.3 848.4 663.4 849.4 659.2 850.4 654.5 851.4 648.2 852.4 650.9 853.4 654.1 854.4 660.9 855.4 667.9 856.4 671 857.4 672.4 858.4 667.7 859.4 662.1 860.4 666.1 861.4 664.4 862.4 662.7 863.4 657.9 864.4 667.3 865.4 664.5 866.4 658.9 867.4 657.6 868.4 650.8 869.4 643.6 870.4 648.4 871.4 643.1 872.4 647.1 873.4 642.5 874.4 651.2 875.4 643.4 876.4 660.9 877.4 663.5 878.4 667.6 879.4 660 880.4 653.1 881.4 652.1 882.4 657.8 883.4 663.5 884.4 674.3 885.4 671.5 886.4 676.8 887.4 666.3 888.4 669 889.4 674.8 890.4 671 891.4 671.3 892.4 676.6 893.4 665 894.4 664.4 895.4 664.7 896.4 663.5 897.4 660.9 898.4 659.6 899.4 660.5 900.4 663.2 901.4 652.6 902.4 657.6 903.4 657.3 904.4 659.3 905.4 650.2 906.4 665.9 907.4 663.5 908.4 664.9 909.4 657.5 910.4 663.4 911.4 667.9 912.4 662.6 913.4 658.7 914.4 654.5 915.4 657.4 916.4 651.5 917.4 657 918.4 659.6 919.4 664.8 920.4 661.7 921.4 654 922.4 654.7 923.4 652.5 924.4 651 925.4 656.9 926.4 651.2 927.4 660.6 928.4 661.1 929.4 663.7 930.4 657.3 931.4 666.7 932.4 654 933.4 652.6 934.4 658.4 935.4 663.5 936.4 652.9 937.4 644.6 938.4 653.6 939.4 661.8 940.4 663 941.4 666.3 942.4 668.9 943.4 672.7 944.4 668.7 945.4 669.6 946.4 665 947.4 652.7 948.4 656 949.4 651.3 950.4 648.8 951.4 648.9 952.4 644.2 953.4 647 954.4 648.1 955.4 647.3 956.4 650.7 957.4 659.9 958.4 649.9 959.4 650.5 960.4 652 961.4 654.7 962.4 657.3 963.4 652.1 964.4 658.7 965.4 657.8 966.4 663.5 967.4 658.7 968.4 660 969.4 664.7 970.4 660.5 971.4 660.7 972.4 659.6 973.4 653.1 974.4 647 975.4 647.8 976.4 645.5 977.4 647.9 978.4 640 979.4 653.3 980.4 650.6 981.4 646.7 982.4 637.9 983.4 642.5 984.4 628.7 985.4 636.4 986.4 641.9 987.4 653.7 988.4 660.6 989.4 660.6 990.4 656.4 991.4 652.7 992.4 654.4 993.4 654.2 994.4 654.1 995.4 644.5 996.4 641.7 997.4 640.5 998.4 644.7 999.4 639.8 1000.4 644.3 1001.4 646.6 1002.4 645 1003.4 649 1004.4 644.6 1005.4 636.3 1006.4 644.4 1007.4 647.7 1008.4 646.1 1009.4 650.7 1010.4 649.9 1011.4 642.4 1012.4 639.5 1013.4 634.5 1014.4 632.8 1015.4 638.5 1016.4 642.7 1017.4 635 1018.4 637.8 1019.4 634.2 1020.4 635.5 1021.4 634.1 1022.4 635.8 1023.4 641.1 1024.4 641.8 1025.4 636.9 1026.4 643.6 1027.4 642 1028.4 639.3 1029.4 633.3 1030.4 628.7 1031.4 631.4 1032.4 622.5 1033.4 619.9 1034.4 630.2 1035.4 621 1036.4 619.5 1037.4 624 1038.4 619.7 1039.4 628 1040.4 628.9 1041.4 630.2 1042.4 628.1 1043.4 621.4 1044.4 624.3 1045.4 623.7 1046.4 633.6 1047.4 632.4 1048.4 635.9 1049.4 635.9 1050.4 638.7 1051.4 641.7 1052.4 641.4 1053.4 641.4 1054.4 633.8 1055.4 616.7 1056.4 617.4 1057.4 622.7 1058.4 622 1059.4 620 1060.4 617.7 1061.4 614.8 1062.4 628.2 1063.4 622.7 1064.4 617.2 1065.4 613 1066.4 602.7 1067.4 607.8 1068.4 612.3 1069.4 614.9 1070.4 629 1071.4 622.4 1072.4 620.9 1073.4 630.2 1074.4 636.5 1075.4 633.2 1076.4 623.9 1077.4 619.8 1078.4 613 1079.4 607.1 1080.4 611.5 1081.4 609.9 1082.4 621.9 1083.4 619.8 1084.4 613.1 1085.4 618.8 1086.4 613.7 1087.4 607.2 1088.4 609.5 1089.4 609.1 1090.4 608.2 1091.4 604.9 1092.4 616.5 1093.4 614.8 1094.4 612 1095.4 605.2 1096.4 607.6 1097.4 612.3 1098.4 616.8 1099.4 619.8 1100.4 611.6 1101.4 612.7 1102.4 607.3 1103.4 613.2 1104.4 613.8 1105.4 609.2 1106.4 609.5 1107.4 611.4 1108.4 600.1 1109.4 602.9 1110.4 602.7 1111.4 598.5 1112.4 593.5 1113.4 594.5 1114.4 604.5 1115.4 596.9 1116.4 608.1 1117.4 605.5 1118.4 604.4 1119.4 609 1120.4 603.3 1121.4 604.6 1122.4 609.7 1123.4 593.3 1124.4 589.3 1125.4 590.1 1126.4 585 1127.4 582.5 1128.4 585.4 1129.4 586.2 1130.4 582.1 1131.4 587.8 1132.4 590.6 1133.4 590.9 1134.4 596.9 1135.4 588.3 1136.4 590.4 1137.4 591.5 1138.4 585.4 1139.4 589.8 1140.4 595.4 1141.4 590.7 1142.4 582.7 1143.4 583.5 1144.4 579.4 1145.4 585.7 1146.4 591.3 1147.4 591.6 1148.4 582.6 1149.4 574.5 1150.4 576.4 1151.4 578.3 1152.4 585.8 1153.4 577.9 1154.4 582.4 1155.4 582.2 1156.4 582.3 1157.4 575.3 1158.4 587.7 1159.4 596.6 1160.4 588.9 1161.4 592.6 1162.4 584.8 1163.4 589.5 1164.4 584 1165.4 585.9 1166.4 592.4 1167.4 586.2 1168.4 573.7 1169.4 574.4 1170.4 581.5 1171.4 575.4 1172.4 568.7 1173.4 567.8 1174.4 575.3 1175.4 581 1176.4 585.1 1177.4 587.1 1178.4 587.8 1179.4 587.7 1180.4 583.9 1181.4 567.8 1182.4 569.9 1183.4 571.2 1184.4 569.1 1185.4 569.4 1186.4 572.6 1187.4 559 1188.4 569.4 1189.4 559.8 1190.4 563.3 1191.4 566.6 1192.4 557.6 1193.4 552.7 1194.4 554 1195.4 548.9 1196.4 553.3 1197.4 552.9 1198.4 551.9 1199.4 558.7 1200.4 564.7 1201.4 558.4 1202.4 550.4 1203.4 556.8 1204.4 559.8 1205.4 564.2 1206.4 562.8 1207.4 561.1 1208.4 563.7 1209.4 561.1 1210.4 570.3 1211.4 569 1212.4 559.1 1213.4 570.4 1214.4 562.1 1215.4 559.3 1216.4 561.5 1217.4 564.3 1218.4 567.4 1219.4 561.3 1220.4 563.1 1221.4 551 1222.4 556.4 1223.4 547.8 1224.4 549.9 1225.4 556.9 1226.4 549.5 1227.4 548.9 1228.4 555 1229.4 555.6 1230.4 561.9 1231.4 564.5 1232.4 568.2 1233.4 557.6 1234.4 550.9 1235.4 550.6 1236.4 541.9 1237.4 546.8 1238.4 546.7 1239.4 537.1 1240.4 539.4 1241.4 531.7 1242.4 527.3 1243.4 532.3 1244.4 530.6 1245.4 538.9 1246.4 535.5 1247.4 528 1248.4 531 1249.4 538.1 1250.4 539.6 1251.4 536.3 1252.4 547.8 1253.4 549.9 1254.4 549.8 1255.4 553.7 1256.4 548 1257.4 549.3 1258.4 547.4 1259.4 547.6 1260.4 539.2 1261.4 535.1 1262.4 534.6 1263.4 533.9 1264.4 532.3 1265.4 531.2 1266.4 539.3 1267.4 539.4 1268.4 540.6 1269.4 543.3 1270.4 548.5 1271.4 541.2 1272.4 541.1 1273.4 536.7 1274.4 534 1275.4 535 1276.4 530.5 1277.4 531.6 1278.4 535.9 1279.4 529.7 1280.4 541 1281.4 542.2 1282.4 542.4 1283.4 536.7 1284.4 539.8 1285.4 531.7 1286.4 536.9 1287.4 533.3 1288.4 536.9 1289.4 541 1290.4 536.6 1291.4 530.9 1292.4 532.8 1293.4 533.2 1294.4 529.4 1295.4 522.3 1296.4 517.6 1297.4 525.7 1298.4 522.5" fill="none" stroke="#a020f0" stroke-opacity="0.72" stroke-width="5.76" stroke-linejoin="round" stroke-linecap="butt"/>
<path d="M800.4 587.6 801.4 588.5 802.4 589.5 803.4 590.4 804.4 591.2 805.4 592.1 806.4 593 807.4 593.8 808.4 594.6 809.4 595.4 810.4 596.1 811.4 596.9 812.4 597.6 813.4 598.3 814.4 599 815.4 599.7 816.4 600.4 817.4 601 818.4 601.7 819.4 602.3 820.4 602.9 821.4 603.4 822.4 604 823.4 604.5 824.4 605.1 825.4 605.6 826.4 606.1 827.4 606.5 828.4 607 829.4 607.4 830.4 607.9 831.4 608.3 832.4 608.7 833.4 609 834.4 609.4 835.4 609.7 836.4 610.1 837.4 610.4 838.4 610.7 839.4 611 840.4 611.3 841.4 611.5 842.4 611.8 843.4 612 844.4 612.2 845.4 612.4 846.4 612.6 847.4 612.7 848.4 612.9 849.4 613 850.4 613.2 851.4 613.3 852.4 613.4 853.4 613.5 854.4 613.5 855.4 613.6 856.4 613.6 857.4 613.7 858.4 613.7 859.4 613.7 860.4 613.7 861.4 613.7 862.4 613.6 863.4 613.6 864.4 613.5 865.4 613.5 866.4 613.4 867.4 613.3 868.4 613.2 869.4 613.1 870.4 612.9 871.4 612.8 872.4 612.6 873.4 612.5 874.4 612.3 875.4 612.1 876.4 611.9 877.4 611.7 878.4 611.5 879.4 611.2 880.4 611 881.4 610.7 882.4 610.5 883.4 610.2 884.4 609.9 885.4 609.6 886.4 609.3 887.4 609 888.4 608.7 889.4 608.4 890.4 608 891.4 607.7 892.4 607.3 893.4 606.9 894.4 606.6 895.4 606.2 896.4 605.8 897.4 605.4 898.4 605 899.4 604.5 900.4 604.1 901.4 603.7 902.4 603.2 903.4 602.8 904.4 602.3 905.4 601.8 906.4 601.3 907.4 600.8 908.4 600.4 909.4 599.8 910.4 599.3 911.4 598.8 912.4 598.3 913.4 597.8 914.4 597.2 915.4 596.7 916.4 596.1 917.4 595.6 918.4 595 919.4 594.4 920.4 593.8 921.4 593.3 922.4 592.7 923.4 592.1 924.4 591.5 925.4 590.9 926.4 590.3 927.4 589.6 928.4 589 929.4 588.4 930.4 587.7 931.4 587.1 932.4 586.5 933.4 585.8 934.4 585.1 935.4 584.5 936.4 583.8 937.4 583.2 938.4 582.5 939.4 581.8 940.4 581.1 941.4 580.4 942.4 579.7 943.4 579.1 944.4 578.4 945.4 577.7 946.4 576.9 947.4 576.2 948.4 575.5 949.4 574.8 950.4 574.1 951.4 573.4 952.4 572.6 953.4 571.9 954.4 571.2 955.4 570.4 956.4 569.7 957.4 568.9 958.4 568.2 959.4 567.4 960.4 566.7 961.4 565.9 962.4 565.2 963.4 564.4 964.4 563.6 965.4 562.9 966.4 562.1 967.4 561.3 968.4 560.6 969.4 559.8 970.4 559 971.4 558.2 972.4 557.4 973.4 556.7 974.4 555.9 975.4 555.1 976.4 554.3 977.4 553.5 978.4 552.7 979.4 551.9 980.4 551.1 981.4 550.3 982.4 549.5 983.4 548.7 984.4 547.9 985.4 547.1 986.4 546.3 987.4 545.5 988.4 544.7 989.4 543.9 990.4 543.1 991.4 542.3 992.4 541.5 993.4 540.7 994.4 539.9 995.4 539 996.4 538.2 997.4 537.4 998.4 536.6 999.4 535.8 1000.4 535 1001.4 534.2 1002.4 533.4 1003.4 532.5 1004.4 531.7 1005.4 530.9 1006.4 530.1 1007.4 529.3 1008.4 528.5 1009.4 527.7 1010.4 526.9 1011.4 526.1 1012.4 525.3 1013.4 524.4 1014.4 523.6 1015.4 522.8 1016.4 522 1017.4 521.2 1018.4 520.4 1019.4 519.6 1020.4 518.8 1021.4 518 1022.4 517.2 1023.4 516.4 1024.4 515.6 1025.4 514.8 1026.4 514 1027.4 513.3 1028.4 512.5 1029.4 511.7 1030.4 510.9 1031.4 510.1 1032.4 509.3 1033.4 508.6 1034.4 507.8 1035.4 507 1036.4 506.2 1037.4 505.5 1038.4 504.7 1039.4 504 1040.4 503.2 1041.4 502.4 1042.4 501.7 1043.4 500.9 1044.4 500.2 1045.4 499.4 1046.4 498.7 1047.4 497.9 1048.4 497.2 1049.4 496.5 1050.4 495.7 1051.4 495 1052.4 494.3 1053.4 493.6 1054.4 492.8 1055.4 492.1 1056.4 491.4 1057.4 490.7 1058.4 490 1059.4 489.3 1060.4 488.6 1061.4 487.9 1062.4 487.2 1063.4 486.5 1064.4 485.8 1065.4 485.1 1066.4 484.4 1067.4 483.7 1068.4 483.1 1069.4 482.4 1070.4 481.7 1071.4 481 1072.4 480.4 1073.4 479.7 1074.4 479 1075.4 478.4 1076.4 477.7 1077.4 477 1078.4 476.4 1079.4 475.7 1080.4 475.1 1081.4 474.4 1082.4 473.8 1083.4 473.2 1084.4 472.5 1085.4 471.9 1086.4 471.3 1087.4 470.6 1088.4 470 1089.4 469.4 1090.4 468.7 1091.4 468.1 1092.4 467.5 1093.4 466.9 1094.4 466.3 1095.4 465.7 1096.4 465.1 1097.4 464.4 1098.4 463.8 1099.4 463.2 1100.4 462.6 1101.4 462 1102.4 461.5 1103.4 460.9 1104.4 460.3 1105.4 459.7 1106.4 459.1 1107.4 458.5 1108.4 457.9 1109.4 457.4 1110.4 456.8 1111.4 456.2 1112.4 455.6 1113.4 455.1 1114.4 454.5 1115.4 453.9 1116.4 453.4 1117.4 452.8 1118.4 452.3 1119.4 451.7 1120.4 451.2 1121.4 450.6 1122.4 450.1 1123.4 449.5 1124.4 449 1125.4 448.4 1126.4 447.9 1127.4 447.4 1128.4 446.8 1129.4 446.3 1130.4 445.8 1131.4 445.2 1132.4 444.7 1133.4 444.2 1134.4 443.7 1135.4 443.2 1136.4 442.6 1137.4 442.1 1138.4 441.6 1139.4 441.1 1140.4 440.6 1141.4 440.1 1142.4 439.6 1143.4 439.1 1144.4 438.6 1145.4 438.1 1146.4 437.6 1147.4 437.1 1148.4 436.6 1149.4 436.1 1150.4 435.6 1151.4 435.1 1152.4 434.6 1153.4 434.2 1154.4 433.7 1155.4 433.2 1156.4 432.7 1157.4 432.3 1158.4 431.8 1159.4 431.3 1160.4 430.8 1161.4 430.4 1162.4 429.9 1163.4 429.4 1164.4 429 1165.4 428.5 1166.4 428.1 1167.4 427.6 1168.4 427.2 1169.4 426.7 1170.4 426.3 1171.4 425.8 1172.4 425.4 1173.4 424.9 1174.4 424.5 1175.4 424 1176.4 423.6 1177.4 423.2 1178.4 422.7 1179.4 422.3 1180.4 421.9 1181.4 421.4 1182.4 421 1183.4 420.6 1184.4 420.1 1185.4 419.7 1186.4 419.3 1187.4 418.9 1188.4 418.4 1189.4 418 1190.4 417.6 1191.4 417.2 1192.4 416.7 1193.4 416.3 1194.4 415.9 1195.4 415.5 1196.4 415.1 1197.4 414.6 1198.4 414.2 1199.4 413.8 1200.4 413.4 1201.4 413 1202.4 412.6 1203.4 412.2 1204.4 411.7 1205.4 411.3 1206.4 410.9 1207.4 410.5 1208.4 410.1 1209.4 409.7 1210.4 409.3 1211.4 408.8 1212.4 408.4 1213.4 408 1214.4 407.6 1215.4 407.2 1216.4 406.8 1217.4 406.4 1218.4 405.9 1219.4 405.5 1220.4 405.1 1221.4 404.7 1222.4 404.3 1223.4 403.9 1224.4 403.4 1225.4 403 1226.4 402.6 1227.4 402.2 1228.4 401.8 1229.4 401.3 1230.4 400.9 1231.4 400.5 1232.4 400.1 1233.4 399.6 1234.4 399.2 1235.4 398.8 1236.4 398.3 1237.4 397.9 1238.4 397.5 1239.4 397 1240.4 396.6 1241.4 396.2 1242.4 395.7 1243.4 395.3 1244.4 394.8 1245.4 394.4 1246.4 394 1247.4 393.5 1248.4 393.1 1249.4 392.6 1250.4 392.2 1251.4 391.7 1252.4 391.2 1253.4 390.8 1254.4 390.3 1255.4 389.9 1256.4 389.4 1257.4 388.9 1258.4 388.5 1259.4 388 1260.4 387.5 1261.4 387 1262.4 386.6 1263.4 386.1 1264.4 385.6 1265.4 385.1 1266.4 384.6 1267.4 384.1 1268.4 383.6 1269.4 383.1 1270.4 382.6 1271.4 382.1 1272.4 381.6 1273.4 381.1 1274.4 380.6 1275.4 380.1 1276.4 379.6 1277.4 379 1278.4 378.5 1279.4 378 1280.4 377.4 1281.4 376.9 1282.4 376.4 1283.4 375.8 1284.4 375.3 1285.4 374.7 1286.4 374.2 1287.4 373.6 1288.4 373.1 1289.4 372.5 1290.4 371.9 1291.4 371.4 1292.4 370.8 1293.4 370.2 1294.4 369.6 1295.4 369 1296.4 368.4 1297.4 367.8 1298.4 367.2 1299.4 366.6 1300.4 366 1301.4 365.4 1301.4 365.4" fill="none" stroke="#000" stroke-opacity="0.8" stroke-width="2.88" stroke-dasharray="2.88 8.64"/>
<path d="M800.4 596.9 801.4 597.7 802.4 598.5 803.4 599.2 804.4 600 805.4 600.7 806.4 601.4 807.4 602.1 808.4 602.8 809.4 603.5 810.4 604.2 811.4 604.8 812.4 605.4 813.4 606.1 814.4 606.7 815.4 607.2 816.4 607.8 817.4 608.4 818.4 608.9 819.4 609.5 820.4 610 821.4 610.5 822.4 611 823.4 611.5 824.4 611.9 825.4 612.4 826.4 612.8 827.4 613.2 828.4 613.7 829.4 614.1 830.4 614.5 831.4 614.8 832.4 615.2 833.4 615.5 834.4 615.9 835.4 616.2 836.4 616.5 837.4 616.8 838.4 617.1 839.4 617.4 840.4 617.7 841.4 617.9 842.4 618.1 843.4 618.4 844.4 618.6 845.4 618.8 846.4 619 847.4 619.2 848.4 619.4 849.4 619.5 850.4 619.7 851.4 619.8 852.4 619.9 853.4 620 854.4 620.2 855.4 620.2 856.4 620.3 857.4 620.4 858.4 620.5 859.4 620.5 860.4 620.6 861.4 620.6 862.4 620.6 863.4 620.6 864.4 620.6 865.4 620.6 866.4 620.6 867.4 620.6 868.4 620.5 869.4 620.5 870.4 620.4 871.4 620.4 872.4 620.3 873.4 620.2 874.4 620.1 875.4 620 876.4 619.9 877.4 619.8 878.4 619.7 879.4 619.5 880.4 619.4 881.4 619.2 882.4 619 883.4 618.9 884.4 618.7 885.4 618.5 886.4 618.3 887.4 618.1 888.4 617.9 889.4 617.7 890.4 617.4 891.4 617.2 892.4 616.9 893.4 616.7 894.4 616.4 895.4 616.1 896.4 615.9 897.4 615.6 898.4 615.3 899.4 615 900.4 614.7 901.4 614.4 902.4 614.1 903.4 613.7 904.4 613.4 905.4 613 906.4 612.7 907.4 612.3 908.4 612 909.4 611.6 910.4 611.2 911.4 610.9 912.4 610.5 913.4 610.1 914.4 609.7 915.4 609.3 916.4 608.9 917.4 608.4 918.4 608 919.4 607.6 920.4 607.2 921.4 606.7 922.4 606.3 923.4 605.8 924.4 605.4 925.4 604.9 926.4 604.4 927.4 604 928.4 603.5 929.4 603 930.4 602.5 931.4 602 932.4 601.5 933.4 601.1 934.4 600.5 935.4 600 936.4 599.5 937.4 599 938.4 598.5 939.4 598 940.4 597.4 941.4 596.9 942.4 596.4 943.4 595.8 944.4 595.3 945.4 594.7 946.4 594.2 947.4 593.6 948.4 593.1 949.4 592.5 950.4 591.9 951.4 591.4 952.4 590.8 953.4 590.2 954.4 589.6 955.4 589.1 956.4 588.5 957.4 587.9 958.4 587.3 959.4 586.7 960.4 586.1 961.4 585.5 962.4 584.9 963.4 584.3 964.4 583.7 965.4 583.1 966.4 582.4 967.4 581.8 968.4 581.2 969.4 580.6 970.4 579.9 971.4 579.3 972.4 578.7 973.4 578.1 974.4 577.4 975.4 576.8 976.4 576.1 977.4 575.5 978.4 574.9 979.4 574.2 980.4 573.6 981.4 572.9 982.4 572.3 983.4 571.6 984.4 570.9 985.4 570.3 986.4 569.6 987.4 569 988.4 568.3 989.4 567.6 990.4 567 991.4 566.3 992.4 565.6 993.4 565 994.4 564.3 995.4 563.6 996.4 563 997.4 562.3 998.4 561.6 999.4 560.9 1000.4 560.2 1001.4 559.6 1002.4 558.9 1003.4 558.2 1004.4 557.5 1005.4 556.8 1006.4 556.2 1007.4 555.5 1008.4 554.8 1009.4 554.1 1010.4 553.4 1011.4 552.7 1012.4 552.1 1013.4 551.4 1014.4 550.7 1015.4 550 1016.4 549.3 1017.4 548.6 1018.4 547.9 1019.4 547.2 1020.4 546.6 1021.4 545.9 1022.4 545.2 1023.4 544.5 1024.4 543.8 1025.4 543.1 1026.4 542.4 1027.4 541.8 1028.4 541.1 1029.4 540.4 1030.4 539.7 1031.4 539 1032.4 538.3 1033.4 537.6 1034.4 537 1035.4 536.3 1036.4 535.6 1037.4 534.9 1038.4 534.2 1039.4 533.6 1040.4 532.9 1041.4 532.2 1042.4 531.5 1043.4 530.9 1044.4 530.2 1045.4 529.5 1046.4 528.9 1047.4 528.2 1048.4 527.5 1049.4 526.9 1050.4 526.2 1051.4 525.5 1052.4 524.9 1053.4 524.2 1054.4 523.6 1055.4 522.9 1056.4 522.2 1057.4 521.6 1058.4 520.9 1059.4 520.3 1060.4 519.7 1061.4 519 1062.4 518.4 1063.4 517.7 1064.4 517.1 1065.4 516.4 1066.4 515.8 1067.4 515.2 1068.4 514.5 1069.4 513.9 1070.4 513.3 1071.4 512.7 1072.4 512 1073.4 511.4 1074.4 510.8 1075.4 510.2 1076.4 509.5 1077.4 508.9 1078.4 508.3 1079.4 507.7 1080.4 507.1 1081.4 506.5 1082.4 505.8 1083.4 505.2 1084.4 504.6 1085.4 504 1086.4 503.4 1087.4 502.8 1088.4 502.2 1089.4 501.6 1090.4 501 1091.4 500.4 1092.4 499.8 1093.4 499.2 1094.4 498.7 1095.4 498.1 1096.4 497.5 1097.4 496.9 1098.4 496.3 1099.4 495.7 1100.4 495.1 1101.4 494.6 1102.4 494 1103.4 493.4 1104.4 492.8 1105.4 492.3 1106.4 491.7 1107.4 491.1 1108.4 490.5 1109.4 490 1110.4 489.4 1111.4 488.8 1112.4 488.3 1113.4 487.7 1114.4 487.2 1115.4 486.6 1116.4 486 1117.4 485.5 1118.4 484.9 1119.4 484.4 1120.4 483.8 1121.4 483.3 1122.4 482.7 1123.4 482.2 1124.4 481.6 1125.4 481.1 1126.4 480.6 1127.4 480 1128.4 479.5 1129.4 478.9 1130.4 478.4 1131.4 477.9 1132.4 477.3 1133.4 476.8 1134.4 476.3 1135.4 475.7 1136.4 475.2 1137.4 474.7 1138.4 474.2 1139.4 473.6 1140.4 473.1 1141.4 472.6 1142.4 472.1 1143.4 471.6 1144.4 471 1145.4 470.5 1146.4 470 1147.4 469.5 1148.4 469 1149.4 468.5 1150.4 468 1151.4 467.5 1152.4 467 1153.4 466.5 1154.4 466 1155.4 465.4 1156.4 464.9 1157.4 464.4 1158.4 464 1159.4 463.5 1160.4 463 1161.4 462.5 1162.4 462 1163.4 461.5 1164.4 461 1165.4 460.5 1166.4 460 1167.4 459.5 1168.4 459 1169.4 458.6 1170.4 458.1 1171.4 457.6 1172.4 457.1 1173.4 456.6 1174.4 456.2 1175.4 455.7 1176.4 455.2 1177.4 454.7 1178.4 454.3 1179.4 453.8 1180.4 453.3 1181.4 452.9 1182.4 452.4 1183.4 451.9 1184.4 451.5 1185.4 451 1186.4 450.5 1187.4 450.1 1188.4 449.6 1189.4 449.1 1190.4 448.7 1191.4 448.2 1192.4 447.8 1193.4 447.3 1194.4 446.9 1195.4 446.4 1196.4 445.9 1197.4 445.5 1198.4 445 1199.4 444.6 1200.4 444.1 1201.4 443.7 1202.4 443.2 1203.4 442.8 1204.4 442.3 1205.4 441.9 1206.4 441.4 1207.4 441 1208.4 440.5 1209.4 440.1 1210.4 439.6 1211.4 439.2 1212.4 438.7 1213.4 438.3 1214.4 437.8 1215.4 437.4 1216.4 436.9 1217.4 436.5 1218.4 436 1219.4 435.6 1220.4 435.1 1221.4 434.7 1222.4 434.2 1223.4 433.8 1224.4 433.3 1225.4 432.9 1226.4 432.4 1227.4 432 1228.4 431.5 1229.4 431.1 1230.4 430.7 1231.4 430.2 1232.4 429.8 1233.4 429.3 1234.4 428.9 1235.4 428.4 1236.4 428 1237.4 427.5 1238.4 427.1 1239.4 426.6 1240.4 426.2 1241.4 425.7 1242.4 425.2 1243.4 424.8 1244.4 424.3 1245.4 423.9 1246.4 423.4 1247.4 423 1248.4 422.5 1249.4 422.1 1250.4 421.6 1251.4 421.1 1252.4 420.7 1253.4 420.2 1254.4 419.8 1255.4 419.3 1256.4 418.8 1257.4 418.4 1258.4 417.9 1259.4 417.4 1260.4 417 1261.4 416.5 1262.4 416 1263.4 415.6 1264.4 415.1 1265.4 414.6 1266.4 414.2 1267.4 413.7 1268.4 413.2 1269.4 412.7 1270.4 412.3 1271.4 411.8 1272.4 411.3 1273.4 410.8 1274.4 410.3 1275.4 409.8 1276.4 409.4 1277.4 408.9 1278.4 408.4 1279.4 407.9 1280.4 407.4 1281.4 406.9 1282.4 406.4 1283.4 405.9 1284.4 405.4 1285.4 404.9 1286.4 404.4 1287.4 403.9 1288.4 403.4 1289.4 402.9 1290.4 402.4 1291.4 401.9 1292.4 401.4 1293.4 400.9 1294.4 400.3 1295.4 399.8 1296.4 399.3 1297.4 398.8 1298.4 398.3 1299.4 397.7 1300.4 397.2 1301.4 396.7 1301.4 396.7" fill="none" stroke="#000" stroke-opacity="0.8" stroke-width="2.88" stroke-dasharray="2.88 8.64"/>
<path d="M800.4 609.7 801.4 610.3 802.4 610.9 803.4 611.5 804.4 612.1 805.4 612.7 806.4 613.3 807.4 613.9 808.4 614.4 809.4 615 810.4 615.5 811.4 616.1 812.4 616.6 813.4 617.1 814.4 617.6 815.4 618.1 816.4 618.6 817.4 619 818.4 619.5 819.4 620 820.4 620.4 821.4 620.8 822.4 621.3 823.4 621.7 824.4 622.1 825.4 622.5 826.4 622.9 827.4 623.3 828.4 623.6 829.4 624 830.4 624.3 831.4 624.7 832.4 625 833.4 625.3 834.4 625.7 835.4 626 836.4 626.3 837.4 626.6 838.4 626.8 839.4 627.1 840.4 627.4 841.4 627.6 842.4 627.9 843.4 628.1 844.4 628.3 845.4 628.6 846.4 628.8 847.4 629 848.4 629.2 849.4 629.4 850.4 629.6 851.4 629.7 852.4 629.9 853.4 630.1 854.4 630.2 855.4 630.3 856.4 630.5 857.4 630.6 858.4 630.7 859.4 630.8 860.4 630.9 861.4 631 862.4 631.1 863.4 631.2 864.4 631.3 865.4 631.3 866.4 631.4 867.4 631.4 868.4 631.5 869.4 631.5 870.4 631.6 871.4 631.6 872.4 631.6 873.4 631.6 874.4 631.6 875.4 631.6 876.4 631.6 877.4 631.5 878.4 631.5 879.4 631.5 880.4 631.4 881.4 631.4 882.4 631.3 883.4 631.3 884.4 631.2 885.4 631.1 886.4 631 887.4 631 888.4 630.9 889.4 630.8 890.4 630.7 891.4 630.5 892.4 630.4 893.4 630.3 894.4 630.2 895.4 630 896.4 629.9 897.4 629.7 898.4 629.6 899.4 629.4 900.4 629.2 901.4 629 902.4 628.9 903.4 628.7 904.4 628.5 905.4 628.3 906.4 628.1 907.4 627.9 908.4 627.7 909.4 627.4 910.4 627.2 911.4 627 912.4 626.7 913.4 626.5 914.4 626.2 915.4 626 916.4 625.7 917.4 625.5 918.4 625.2 919.4 624.9 920.4 624.6 921.4 624.4 922.4 624.1 923.4 623.8 924.4 623.5 925.4 623.2 926.4 622.9 927.4 622.5 928.4 622.2 929.4 621.9 930.4 621.6 931.4 621.2 932.4 620.9 933.4 620.6 934.4 620.2 935.4 619.9 936.4 619.5 937.4 619.1 938.4 618.8 939.4 618.4 940.4 618 941.4 617.7 942.4 617.3 943.4 616.9 944.4 616.5 945.4 616.1 946.4 615.7 947.4 615.3 948.4 614.9 949.4 614.5 950.4 614.1 951.4 613.7 952.4 613.2 953.4 612.8 954.4 612.4 955.4 612 956.4 611.5 957.4 611.1 958.4 610.6 959.4 610.2 960.4 609.8 961.4 609.3 962.4 608.8 963.4 608.4 964.4 607.9 965.4 607.5 966.4 607 967.4 606.5 968.4 606 969.4 605.6 970.4 605.1 971.4 604.6 972.4 604.1 973.4 603.6 974.4 603.1 975.4 602.6 976.4 602.2 977.4 601.7 978.4 601.2 979.4 600.6 980.4 600.1 981.4 599.6 982.4 599.1 983.4 598.6 984.4 598.1 985.4 597.6 986.4 597 987.4 596.5 988.4 596 989.4 595.5 990.4 594.9 991.4 594.4 992.4 593.9 993.4 593.3 994.4 592.8 995.4 592.3 996.4 591.7 997.4 591.2 998.4 590.6 999.4 590.1 1000.4 589.5 1001.4 589 1002.4 588.4 1003.4 587.9 1004.4 587.3 1005.4 586.8 1006.4 586.2 1007.4 585.7 1008.4 585.1 1009.4 584.5 1010.4 584 1011.4 583.4 1012.4 582.9 1013.4 582.3 1014.4 581.7 1015.4 581.2 1016.4 580.6 1017.4 580 1018.4 579.5 1019.4 578.9 1020.4 578.3 1021.4 577.7 1022.4 577.2 1023.4 576.6 1024.4 576 1025.4 575.4 1026.4 574.9 1027.4 574.3 1028.4 573.7 1029.4 573.1 1030.4 572.6 1031.4 572 1032.4 571.4 1033.4 570.8 1034.4 570.3 1035.4 569.7 1036.4 569.1 1037.4 568.5 1038.4 567.9 1039.4 567.4 1040.4 566.8 1041.4 566.2 1042.4 565.6 1043.4 565.1 1044.4 564.5 1045.4 563.9 1046.4 563.3 1047.4 562.8 1048.4 562.2 1049.4 561.6 1050.4 561 1051.4 560.5 1052.4 559.9 1053.4 559.3 1054.4 558.7 1055.4 558.2 1056.4 557.6 1057.4 557 1058.4 556.5 1059.4 555.9 1060.4 555.3 1061.4 554.8 1062.4 554.2 1063.4 553.6 1064.4 553.1 1065.4 552.5 1066.4 551.9 1067.4 551.4 1068.4 550.8 1069.4 550.3 1070.4 549.7 1071.4 549.1 1072.4 548.6 1073.4 548 1074.4 547.5 1075.4 546.9 1076.4 546.4 1077.4 545.8 1078.4 545.2 1079.4 544.7 1080.4 544.1 1081.4 543.6 1082.4 543 1083.4 542.5 1084.4 541.9 1085.4 541.4 1086.4 540.8 1087.4 540.3 1088.4 539.7 1089.4 539.2 1090.4 538.6 1091.4 538.1 1092.4 537.6 1093.4 537 1094.4 536.5 1095.4 535.9 1096.4 535.4 1097.4 534.8 1098.4 534.3 1099.4 533.8 1100.4 533.2 1101.4 532.7 1102.4 532.1 1103.4 531.6 1104.4 531.1 1105.4 530.5 1106.4 530 1107.4 529.5 1108.4 528.9 1109.4 528.4 1110.4 527.9 1111.4 527.3 1112.4 526.8 1113.4 526.3 1114.4 525.7 1115.4 525.2 1116.4 524.7 1117.4 524.2 1118.4 523.6 1119.4 523.1 1120.4 522.6 1121.4 522 1122.4 521.5 1123.4 521 1124.4 520.5 1125.4 519.9 1126.4 519.4 1127.4 518.9 1128.4 518.4 1129.4 517.9 1130.4 517.3 1131.4 516.8 1132.4 516.3 1133.4 515.8 1134.4 515.3 1135.4 514.8 1136.4 514.2 1137.4 513.7 1138.4 513.2 1139.4 512.7 1140.4 512.2 1141.4 511.7 1142.4 511.1 1143.4 510.6 1144.4 510.1 1145.4 509.6 1146.4 509.1 1147.4 508.6 1148.4 508.1 1149.4 507.6 1150.4 507.1 1151.4 506.6 1152.4 506.1 1153.4 505.5 1154.4 505 1155.4 504.5 1156.4 504 1157.4 503.5 1158.4 503 1159.4 502.5 1160.4 502 1161.4 501.5 1162.4 501 1163.4 500.5 1164.4 500 1165.4 499.5 1166.4 499 1167.4 498.5 1168.4 498 1169.4 497.5 1170.4 497 1171.4 496.5 1172.4 496 1173.4 495.5 1174.4 495.1 1175.4 494.6 1176.4 494.1 1177.4 493.6 1178.4 493.1 1179.4 492.6 1180.4 492.1 1181.4 491.6 1182.4 491.1 1183.4 490.6 1184.4 490.1 1185.4 489.6 1186.4 489.2 1187.4 488.7 1188.4 488.2 1189.4 487.7 1190.4 487.2 1191.4 486.7 1192.4 486.2 1193.4 485.8 1194.4 485.3 1195.4 484.8 1196.4 484.3 1197.4 483.8 1198.4 483.4 1199.4 482.9 1200.4 482.4 1201.4 481.9 1202.4 481.4 1203.4 481 1204.4 480.5 1205.4 480 1206.4 479.5 1207.4 479 1208.4 478.6 1209.4 478.1 1210.4 477.6 1211.4 477.1 1212.4 476.7 1213.4 476.2 1214.4 475.7 1215.4 475.2 1216.4 474.8 1217.4 474.3 1218.4 473.8 1219.4 473.4 1220.4 472.9 1221.4 472.4 1222.4 471.9 1223.4 471.5 1224.4 471 1225.4 470.5 1226.4 470.1 1227.4 469.6 1228.4 469.1 1229.4 468.7 1230.4 468.2 1231.4 467.7 1232.4 467.3 1233.4 466.8 1234.4 466.3 1235.4 465.9 1236.4 465.4 1237.4 465 1238.4 464.5 1239.4 464 1240.4 463.6 1241.4 463.1 1242.4 462.7 1243.4 462.2 1244.4 461.7 1245.4 461.3 1246.4 460.8 1247.4 460.4 1248.4 459.9 1249.4 459.4 1250.4 459 1251.4 458.5 1252.4 458.1 1253.4 457.6 1254.4 457.2 1255.4 456.7 1256.4 456.3 1257.4 455.8 1258.4 455.4 1259.4 454.9 1260.4 454.4 1261.4 454 1262.4 453.5 1263.4 453.1 1264.4 452.6 1265.4 452.2 1266.4 451.7 1267.4 451.3 1268.4 450.8 1269.4 450.4 1270.4 449.9 1271.4 449.5 1272.4 449 1273.4 448.6 1274.4 448.2 1275.4 447.7 1276.4 447.3 1277.4 446.8 1278.4 446.4 1279.4 445.9 1280.4 445.5 1281.4 445 1282.4 444.6 1283.4 444.2 1284.4 443.7 1285.4 443.3 1286.4 442.8 1287.4 442.4 1288.4 441.9 1289.4 441.5 1290.4 441.1 1291.4 440.6 1292.4 440.2 1293.4 439.7 1294.4 439.3 1295.4 438.9 1296.4 438.4 1297.4 438 1298.4 437.6 1299.4 437.1 1300.4 436.7 1301.4 436.2 1301.4 436.2" fill="none" stroke="#000" stroke-opacity="0.8" stroke-width="2.88" stroke-dasharray="2.88 8.64"/>
<path d="M800.4 627.8 801.4 628.3 802.4 628.8 803.4 629.3 804.4 629.7 805.4 630.2 806.4 630.7 807.4 631.1 808.4 631.5 809.4 632 810.4 632.4 811.4 632.8 812.4 633.3 813.4 633.7 814.4 634.1 815.4 634.5 816.4 634.9 817.4 635.2 818.4 635.6 819.4 636 820.4 636.4 821.4 636.7 822.4 637.1 823.4 637.4 824.4 637.8 825.4 638.1 826.4 638.4 827.4 638.7 828.4 639.1 829.4 639.4 830.4 639.7 831.4 640 832.4 640.3 833.4 640.6 834.4 640.8 835.4 641.1 836.4 641.4 837.4 641.7 838.4 641.9 839.4 642.2 840.4 642.4 841.4 642.7 842.4 642.9 843.4 643.1 844.4 643.3 845.4 643.6 846.4 643.8 847.4 644 848.4 644.2 849.4 644.4 850.4 644.6 851.4 644.8 852.4 644.9 853.4 645.1 854.4 645.3 855.4 645.4 856.4 645.6 857.4 645.8 858.4 645.9 859.4 646 860.4 646.2 861.4 646.3 862.4 646.4 863.4 646.6 864.4 646.7 865.4 646.8 866.4 646.9 867.4 647 868.4 647.1 869.4 647.2 870.4 647.3 871.4 647.3 872.4 647.4 873.4 647.5 874.4 647.5 875.4 647.6 876.4 647.7 877.4 647.7 878.4 647.8 879.4 647.8 880.4 647.8 881.4 647.9 882.4 647.9 883.4 647.9 884.4 647.9 885.4 647.9 886.4 647.9 887.4 647.9 888.4 647.9 889.4 647.9 890.4 647.9 891.4 647.9 892.4 647.9 893.4 647.9 894.4 647.8 895.4 647.8 896.4 647.8 897.4 647.7 898.4 647.7 899.4 647.6 900.4 647.6 901.4 647.5 902.4 647.4 903.4 647.4 904.4 647.3 905.4 647.2 906.4 647.1 907.4 647 908.4 646.9 909.4 646.8 910.4 646.7 911.4 646.6 912.4 646.5 913.4 646.4 914.4 646.3 915.4 646.2 916.4 646.1 917.4 645.9 918.4 645.8 919.4 645.7 920.4 645.5 921.4 645.4 922.4 645.2 923.4 645.1 924.4 644.9 925.4 644.8 926.4 644.6 927.4 644.4 928.4 644.3 929.4 644.1 930.4 643.9 931.4 643.7 932.4 643.6 933.4 643.4 934.4 643.2 935.4 643 936.4 642.8 937.4 642.6 938.4 642.4 939.4 642.2 940.4 641.9 941.4 641.7 942.4 641.5 943.4 641.3 944.4 641 945.4 640.8 946.4 640.6 947.4 640.3 948.4 640.1 949.4 639.9 950.4 639.6 951.4 639.4 952.4 639.1 953.4 638.8 954.4 638.6 955.4 638.3 956.4 638.1 957.4 637.8 958.4 637.5 959.4 637.2 960.4 637 961.4 636.7 962.4 636.4 963.4 636.1 964.4 635.8 965.4 635.5 966.4 635.2 967.4 634.9 968.4 634.6 969.4 634.3 970.4 634 971.4 633.7 972.4 633.4 973.4 633.1 974.4 632.7 975.4 632.4 976.4 632.1 977.4 631.8 978.4 631.4 979.4 631.1 980.4 630.8 981.4 630.4 982.4 630.1 983.4 629.7 984.4 629.4 985.4 629.1 986.4 628.7 987.4 628.4 988.4 628 989.4 627.6 990.4 627.3 991.4 626.9 992.4 626.6 993.4 626.2 994.4 625.8 995.4 625.4 996.4 625.1 997.4 624.7 998.4 624.3 999.4 623.9 1000.4 623.6 1001.4 623.2 1002.4 622.8 1003.4 622.4 1004.4 622 1005.4 621.6 1006.4 621.2 1007.4 620.8 1008.4 620.4 1009.4 620 1010.4 619.6 1011.4 619.2 1012.4 618.8 1013.4 618.4 1014.4 618 1015.4 617.6 1016.4 617.2 1017.4 616.8 1018.4 616.3 1019.4 615.9 1020.4 615.5 1021.4 615.1 1022.4 614.7 1023.4 614.2 1024.4 613.8 1025.4 613.4 1026.4 612.9 1027.4 612.5 1028.4 612.1 1029.4 611.6 1030.4 611.2 1031.4 610.8 1032.4 610.3 1033.4 609.9 1034.4 609.5 1035.4 609 1036.4 608.6 1037.4 608.1 1038.4 607.7 1039.4 607.2 1040.4 606.8 1041.4 606.3 1042.4 605.9 1043.4 605.4 1044.4 605 1045.4 604.5 1046.4 604.1 1047.4 603.6 1048.4 603.1 1049.4 602.7 1050.4 602.2 1051.4 601.8 1052.4 601.3 1053.4 600.8 1054.4 600.4 1055.4 599.9 1056.4 599.4 1057.4 599 1058.4 598.5 1059.4 598 1060.4 597.6 1061.4 597.1 1062.4 596.6 1063.4 596.2 1064.4 595.7 1065.4 595.2 1066.4 594.7 1067.4 594.3 1068.4 593.8 1069.4 593.3 1070.4 592.8 1071.4 592.4 1072.4 591.9 1073.4 591.4 1074.4 590.9 1075.4 590.4 1076.4 590 1077.4 589.5 1078.4 589 1079.4 588.5 1080.4 588 1081.4 587.6 1082.4 587.1 1083.4 586.6 1084.4 586.1 1085.4 585.6 1086.4 585.1 1087.4 584.7 1088.4 584.2 1089.4 583.7 1090.4 583.2 1091.4 582.7 1092.4 582.2 1093.4 581.7 1094.4 581.2 1095.4 580.8 1096.4 580.3 1097.4 579.8 1098.4 579.3 1099.4 578.8 1100.4 578.3 1101.4 577.8 1102.4 577.3 1103.4 576.8 1104.4 576.3 1105.4 575.9 1106.4 575.4 1107.4 574.9 1108.4 574.4 1109.4 573.9 1110.4 573.4 1111.4 572.9 1112.4 572.4 1113.4 571.9 1114.4 571.4 1115.4 570.9 1116.4 570.4 1117.4 569.9 1118.4 569.4 1119.4 569 1120.4 568.5 1121.4 568 1122.4 567.5 1123.4 567 1124.4 566.5 1125.4 566 1126.4 565.5 1127.4 565 1128.4 564.5 1129.4 564 1130.4 563.5 1131.4 563 1132.4 562.5 1133.4 562 1134.4 561.5 1135.4 561 1136.4 560.5 1137.4 560 1138.4 559.5 1139.4 559.1 1140.4 558.6 1141.4 558.1 1142.4 557.6 1143.4 557.1 1144.4 556.6 1145.4 556.1 1146.4 555.6 1147.4 555.1 1148.4 554.6 1149.4 554.1 1150.4 553.6 1151.4 553.1 1152.4 552.6 1153.4 552.1 1154.4 551.7 1155.4 551.2 1156.4 550.7 1157.4 550.2 1158.4 549.7 1159.4 549.2 1160.4 548.7 1161.4 548.2 1162.4 547.7 1163.4 547.2 1164.4 546.8 1165.4 546.3 1166.4 545.8 1167.4 545.3 1168.4 544.8 1169.4 544.3 1170.4 543.8 1171.4 543.3 1172.4 542.9 1173.4 542.4 1174.4 541.9 1175.4 541.4 1176.4 540.9 1177.4 540.4 1178.4 540 1179.4 539.5 1180.4 539 1181.4 538.5 1182.4 538 1183.4 537.5 1184.4 537.1 1185.4 536.6 1186.4 536.1 1187.4 535.6 1188.4 535.2 1189.4 534.7 1190.4 534.2 1191.4 533.7 1192.4 533.3 1193.4 532.8 1194.4 532.3 1195.4 531.8 1196.4 531.4 1197.4 530.9 1198.4 530.4 1199.4 530 1200.4 529.5 1201.4 529 1202.4 528.5 1203.4 528.1 1204.4 527.6 1205.4 527.2 1206.4 526.7 1207.4 526.2 1208.4 525.8 1209.4 525.3 1210.4 524.8 1211.4 524.4 1212.4 523.9 1213.4 523.5 1214.4 523 1215.4 522.5 1216.4 522.1 1217.4 521.6 1218.4 521.2 1219.4 520.7 1220.4 520.3 1221.4 519.8 1222.4 519.4 1223.4 518.9 1224.4 518.5 1225.4 518 1226.4 517.6 1227.4 517.1 1228.4 516.7 1229.4 516.3 1230.4 515.8 1231.4 515.4 1232.4 514.9 1233.4 514.5 1234.4 514.1 1235.4 513.6 1236.4 513.2 1237.4 512.8 1238.4 512.3 1239.4 511.9 1240.4 511.5 1241.4 511 1242.4 510.6 1243.4 510.2 1244.4 509.7 1245.4 509.3 1246.4 508.9 1247.4 508.5 1248.4 508.1 1249.4 507.6 1250.4 507.2 1251.4 506.8 1252.4 506.4 1253.4 506 1254.4 505.6 1255.4 505.1 1256.4 504.7 1257.4 504.3 1258.4 503.9 1259.4 503.5 1260.4 503.1 1261.4 502.7 1262.4 502.3 1263.4 501.9 1264.4 501.5 1265.4 501.1 1266.4 500.7 1267.4 500.3 1268.4 499.9 1269.4 499.5 1270.4 499.1 1271.4 498.7 1272.4 498.4 1273.4 498 1274.4 497.6 1275.4 497.2 1276.4 496.8 1277.4 496.4 1278.4 496.1 1279.4 495.7 1280.4 495.3 1281.4 494.9 1282.4 494.6 1283.4 494.2 1284.4 493.8 1285.4 493.5 1286.4 493.1 1287.4 492.7 1288.4 492.4 1289.4 492 1290.4 491.6 1291.4 491.3 1292.4 490.9 1293.4 490.6 1294.4 490.2 1295.4 489.9 1296.4 489.5 1297.4 489.2 1298.4 488.8 1299.4 488.5 1300.4 488.1 1301.4 487.8 1301.4 487.8" fill="none" stroke="#000" stroke-opacity="0.8" stroke-width="2.88" stroke-dasharray="2.88 8.64"/>
<path d="M800.4 657.4 801.4 657.8 802.4 658.2 803.4 658.5 804.4 658.9 805.4 659.3 806.4 659.7 807.4 660.1 808.4 660.4 809.4 660.8 810.4 661.1 811.4 661.5 812.4 661.8 813.4 662.2 814.4 662.5 815.4 662.9 816.4 663.2 817.4 663.5 818.4 663.9 819.4 664.2 820.4 664.5 821.4 664.8 822.4 665.1 823.4 665.4 824.4 665.7 825.4 666 826.4 666.3 827.4 666.6 828.4 666.9 829.4 667.2 830.4 667.5 831.4 667.8 832.4 668 833.4 668.3 834.4 668.6 835.4 668.8 836.4 669.1 837.4 669.3 838.4 669.6 839.4 669.8 840.4 670.1 841.4 670.3 842.4 670.6 843.4 670.8 844.4 671 845.4 671.2 846.4 671.5 847.4 671.7 848.4 671.9 849.4 672.1 850.4 672.3 851.4 672.5 852.4 672.7 853.4 672.9 854.4 673.1 855.4 673.3 856.4 673.5 857.4 673.6 858.4 673.8 859.4 674 860.4 674.2 861.4 674.3 862.4 674.5 863.4 674.7 864.4 674.8 865.4 675 866.4 675.1 867.4 675.3 868.4 675.4 869.4 675.5 870.4 675.7 871.4 675.8 872.4 675.9 873.4 676.1 874.4 676.2 875.4 676.3 876.4 676.4 877.4 676.5 878.4 676.6 879.4 676.7 880.4 676.9 881.4 676.9 882.4 677 883.4 677.1 884.4 677.2 885.4 677.3 886.4 677.4 887.4 677.5 888.4 677.5 889.4 677.6 890.4 677.7 891.4 677.8 892.4 677.8 893.4 677.9 894.4 677.9 895.4 678 896.4 678 897.4 678.1 898.4 678.1 899.4 678.2 900.4 678.2 901.4 678.2 902.4 678.3 903.4 678.3 904.4 678.3 905.4 678.4 906.4 678.4 907.4 678.4 908.4 678.4 909.4 678.4 910.4 678.4 911.4 678.4 912.4 678.4 913.4 678.4 914.4 678.4 915.4 678.4 916.4 678.4 917.4 678.4 918.4 678.4 919.4 678.4 920.4 678.3 921.4 678.3 922.4 678.3 923.4 678.3 924.4 678.2 925.4 678.2 926.4 678.2 927.4 678.1 928.4 678.1 929.4 678 930.4 678 931.4 677.9 932.4 677.9 933.4 677.8 934.4 677.7 935.4 677.7 936.4 677.6 937.4 677.5 938.4 677.5 939.4 677.4 940.4 677.3 941.4 677.2 942.4 677.2 943.4 677.1 944.4 677 945.4 676.9 946.4 676.8 947.4 676.7 948.4 676.6 949.4 676.5 950.4 676.4 951.4 676.3 952.4 676.2 953.4 676.1 954.4 676 955.4 675.8 956.4 675.7 957.4 675.6 958.4 675.5 959.4 675.4 960.4 675.2 961.4 675.1 962.4 675 963.4 674.8 964.4 674.7 965.4 674.5 966.4 674.4 967.4 674.3 968.4 674.1 969.4 674 970.4 673.8 971.4 673.7 972.4 673.5 973.4 673.3 974.4 673.2 975.4 673 976.4 672.8 977.4 672.7 978.4 672.5 979.4 672.3 980.4 672.2 981.4 672 982.4 671.8 983.4 671.6 984.4 671.4 985.4 671.2 986.4 671.1 987.4 670.9 988.4 670.7 989.4 670.5 990.4 670.3 991.4 670.1 992.4 669.9 993.4 669.7 994.4 669.5 995.4 669.3 996.4 669 997.4 668.8 998.4 668.6 999.4 668.4 1000.4 668.2 1001.4 668 1002.4 667.7 1003.4 667.5 1004.4 667.3 1005.4 667.1 1006.4 666.8 1007.4 666.6 1008.4 666.4 1009.4 666.1 1010.4 665.9 1011.4 665.6 1012.4 665.4 1013.4 665.2 1014.4 664.9 1015.4 664.7 1016.4 664.4 1017.4 664.2 1018.4 663.9 1019.4 663.7 1020.4 663.4 1021.4 663.1 1022.4 662.9 1023.4 662.6 1024.4 662.4 1025.4 662.1 1026.4 661.8 1027.4 661.5 1028.4 661.3 1029.4 661 1030.4 660.7 1031.4 660.4 1032.4 660.2 1033.4 659.9 1034.4 659.6 1035.4 659.3 1036.4 659 1037.4 658.8 1038.4 658.5 1039.4 658.2 1040.4 657.9 1041.4 657.6 1042.4 657.3 1043.4 657 1044.4 656.7 1045.4 656.4 1046.4 656.1 1047.4 655.8 1048.4 655.5 1049.4 655.2 1050.4 654.9 1051.4 654.6 1052.4 654.3 1053.4 653.9 1054.4 653.6 1055.4 653.3 1056.4 653 1057.4 652.7 1058.4 652.4 1059.4 652 1060.4 651.7 1061.4 651.4 1062.4 651.1 1063.4 650.7 1064.4 650.4 1065.4 650.1 1066.4 649.8 1067.4 649.4 1068.4 649.1 1069.4 648.8 1070.4 648.4 1071.4 648.1 1072.4 647.7 1073.4 647.4 1074.4 647.1 1075.4 646.7 1076.4 646.4 1077.4 646 1078.4 645.7 1079.4 645.3 1080.4 645 1081.4 644.6 1082.4 644.3 1083.4 643.9 1084.4 643.6 1085.4 643.2 1086.4 642.9 1087.4 642.5 1088.4 642.2 1089.4 641.8 1090.4 641.5 1091.4 641.1 1092.4 640.7 1093.4 640.4 1094.4 640 1095.4 639.6 1096.4 639.3 1097.4 638.9 1098.4 638.5 1099.4 638.2 1100.4 637.8 1101.4 637.4 1102.4 637.1 1103.4 636.7 1104.4 636.3 1105.4 635.9 1106.4 635.6 1107.4 635.2 1108.4 634.8 1109.4 634.4 1110.4 634.1 1111.4 633.7 1112.4 633.3 1113.4 632.9 1114.4 632.5 1115.4 632.2 1116.4 631.8 1117.4 631.4 1118.4 631 1119.4 630.6 1120.4 630.2 1121.4 629.9 1122.4 629.5 1123.4 629.1 1124.4 628.7 1125.4 628.3 1126.4 627.9 1127.4 627.5 1128.4 627.1 1129.4 626.7 1130.4 626.3 1131.4 625.9 1132.4 625.6 1133.4 625.2 1134.4 624.8 1135.4 624.4 1136.4 624 1137.4 623.6 1138.4 623.2 1139.4 622.8 1140.4 622.4 1141.4 622 1142.4 621.6 1143.4 621.2 1144.4 620.8 1145.4 620.4 1146.4 620 1147.4 619.6 1148.4 619.2 1149.4 618.8 1150.4 618.4 1151.4 618 1152.4 617.6 1153.4 617.2 1154.4 616.8 1155.4 616.4 1156.4 616 1157.4 615.6 1158.4 615.2 1159.4 614.8 1160.4 614.3 1161.4 613.9 1162.4 613.5 1163.4 613.1 1164.4 612.7 1165.4 612.3 1166.4 611.9 1167.4 611.5 1168.4 611.1 1169.4 610.7 1170.4 610.3 1171.4 609.9 1172.4 609.5 1173.4 609.1 1174.4 608.7 1175.4 608.2 1176.4 607.8 1177.4 607.4 1178.4 607 1179.4 606.6 1180.4 606.2 1181.4 605.8 1182.4 605.4 1183.4 605 1184.4 604.6 1185.4 604.2 1186.4 603.8 1187.4 603.4 1188.4 602.9 1189.4 602.5 1190.4 602.1 1191.4 601.7 1192.4 601.3 1193.4 600.9 1194.4 600.5 1195.4 600.1 1196.4 599.7 1197.4 599.3 1198.4 598.9 1199.4 598.5 1200.4 598.1 1201.4 597.7 1202.4 597.3 1203.4 596.8 1204.4 596.4 1205.4 596 1206.4 595.6 1207.4 595.2 1208.4 594.8 1209.4 594.4 1210.4 594 1211.4 593.6 1212.4 593.2 1213.4 592.8 1214.4 592.4 1215.4 592 1216.4 591.6 1217.4 591.2 1218.4 590.8 1219.4 590.4 1220.4 590 1221.4 589.6 1222.4 589.2 1223.4 588.8 1224.4 588.4 1225.4 588 1226.4 587.6 1227.4 587.2 1228.4 586.8 1229.4 586.4 1230.4 586 1231.4 585.6 1232.4 585.3 1233.4 584.9 1234.4 584.5 1235.4 584.1 1236.4 583.7 1237.4 583.3 1238.4 582.9 1239.4 582.5 1240.4 582.1 1241.4 581.7 1242.4 581.4 1243.4 581 1244.4 580.6 1245.4 580.2 1246.4 579.8 1247.4 579.4 1248.4 579.1 1249.4 578.7 1250.4 578.3 1251.4 577.9 1252.4 577.5 1253.4 577.2 1254.4 576.8 1255.4 576.4 1256.4 576 1257.4 575.6 1258.4 575.3 1259.4 574.9 1260.4 574.5 1261.4 574.2 1262.4 573.8 1263.4 573.4 1264.4 573 1265.4 572.7 1266.4 572.3 1267.4 571.9 1268.4 571.6 1269.4 571.2 1270.4 570.9 1271.4 570.5 1272.4 570.1 1273.4 569.8 1274.4 569.4 1275.4 569.1 1276.4 568.7 1277.4 568.3 1278.4 568 1279.4 567.6 1280.4 567.3 1281.4 566.9 1282.4 566.6 1283.4 566.2 1284.4 565.9 1285.4 565.5 1286.4 565.2 1287.4 564.9 1288.4 564.5 1289.4 564.2 1290.4 563.8 1291.4 563.5 1292.4 563.2 1293.4 562.8 1294.4 562.5 1295.4 562.2 1296.4 561.8 1297.4 561.5 1298.4 561.2 1299.4 560.8 1300.4 560.5 1301.4 560.2 1301.4 560.2" fill="none" stroke="#000" stroke-opacity="0.8" stroke-width="2.88" stroke-dasharray="2.88 8.64"/>
<path d="M800.4 669.4 801.4 669.7 802.4 670 803.4 670.3 804.4 670.7 805.4 671 806.4 671.3 807.4 671.6 808.4 671.9 809.4 672.2 810.4 672.5 811.4 672.8 812.4 673.1 813.4 673.4 814.4 673.7 815.4 674 816.4 674.3 817.4 674.6 818.4 674.9 819.4 675.2 820.4 675.4 821.4 675.7 822.4 676 823.4 676.2 824.4 676.5 825.4 676.8 826.4 677 827.4 677.3 828.4 677.5 829.4 677.8 830.4 678 831.4 678.3 832.4 678.5 833.4 678.8 834.4 679 835.4 679.2 836.4 679.4 837.4 679.7 838.4 679.9 839.4 680.1 840.4 680.3 841.4 680.5 842.4 680.8 843.4 681 844.4 681.2 845.4 681.4 846.4 681.6 847.4 681.8 848.4 682 849.4 682.2 850.4 682.3 851.4 682.5 852.4 682.7 853.4 682.9 854.4 683.1 855.4 683.2 856.4 683.4 857.4 683.6 858.4 683.8 859.4 683.9 860.4 684.1 861.4 684.2 862.4 684.4 863.4 684.5 864.4 684.7 865.4 684.8 866.4 685 867.4 685.1 868.4 685.3 869.4 685.4 870.4 685.5 871.4 685.7 872.4 685.8 873.4 685.9 874.4 686 875.4 686.2 876.4 686.3 877.4 686.4 878.4 686.5 879.4 686.6 880.4 686.7 881.4 686.8 882.4 686.9 883.4 687 884.4 687.1 885.4 687.2 886.4 687.3 887.4 687.4 888.4 687.5 889.4 687.6 890.4 687.6 891.4 687.7 892.4 687.8 893.4 687.9 894.4 687.9 895.4 688 896.4 688.1 897.4 688.1 898.4 688.2 899.4 688.3 900.4 688.3 901.4 688.4 902.4 688.4 903.4 688.5 904.4 688.5 905.4 688.5 906.4 688.6 907.4 688.6 908.4 688.7 909.4 688.7 910.4 688.7 911.4 688.7 912.4 688.8 913.4 688.8 914.4 688.8 915.4 688.8 916.4 688.8 917.4 688.9 918.4 688.9 919.4 688.9 920.4 688.9 921.4 688.9 922.4 688.9 923.4 688.9 924.4 688.9 925.4 688.9 926.4 688.9 927.4 688.8 928.4 688.8 929.4 688.8 930.4 688.8 931.4 688.8 932.4 688.8 933.4 688.7 934.4 688.7 935.4 688.7 936.4 688.6 937.4 688.6 938.4 688.6 939.4 688.5 940.4 688.5 941.4 688.4 942.4 688.4 943.4 688.3 944.4 688.3 945.4 688.2 946.4 688.2 947.4 688.1 948.4 688.1 949.4 688 950.4 687.9 951.4 687.9 952.4 687.8 953.4 687.7 954.4 687.6 955.4 687.6 956.4 687.5 957.4 687.4 958.4 687.3 959.4 687.2 960.4 687.2 961.4 687.1 962.4 687 963.4 686.9 964.4 686.8 965.4 686.7 966.4 686.6 967.4 686.5 968.4 686.4 969.4 686.3 970.4 686.2 971.4 686 972.4 685.9 973.4 685.8 974.4 685.7 975.4 685.6 976.4 685.5 977.4 685.3 978.4 685.2 979.4 685.1 980.4 684.9 981.4 684.8 982.4 684.7 983.4 684.5 984.4 684.4 985.4 684.3 986.4 684.1 987.4 684 988.4 683.8 989.4 683.7 990.4 683.5 991.4 683.4 992.4 683.2 993.4 683.1 994.4 682.9 995.4 682.7 996.4 682.6 997.4 682.4 998.4 682.2 999.4 682.1 1000.4 681.9 1001.4 681.7 1002.4 681.5 1003.4 681.4 1004.4 681.2 1005.4 681 1006.4 680.8 1007.4 680.6 1008.4 680.5 1009.4 680.3 1010.4 680.1 1011.4 679.9 1012.4 679.7 1013.4 679.5 1014.4 679.3 1015.4 679.1 1016.4 678.9 1017.4 678.7 1018.4 678.5 1019.4 678.3 1020.4 678.1 1021.4 677.8 1022.4 677.6 1023.4 677.4 1024.4 677.2 1025.4 677 1026.4 676.8 1027.4 676.5 1028.4 676.3 1029.4 676.1 1030.4 675.9 1031.4 675.6 1032.4 675.4 1033.4 675.2 1034.4 674.9 1035.4 674.7 1036.4 674.4 1037.4 674.2 1038.4 674 1039.4 673.7 1040.4 673.5 1041.4 673.2 1042.4 673 1043.4 672.7 1044.4 672.5 1045.4 672.2 1046.4 672 1047.4 671.7 1048.4 671.4 1049.4 671.2 1050.4 670.9 1051.4 670.6 1052.4 670.4 1053.4 670.1 1054.4 669.8 1055.4 669.6 1056.4 669.3 1057.4 669 1058.4 668.7 1059.4 668.5 1060.4 668.2 1061.4 667.9 1062.4 667.6 1063.4 667.3 1064.4 667 1065.4 666.7 1066.4 666.5 1067.4 666.2 1068.4 665.9 1069.4 665.6 1070.4 665.3 1071.4 665 1072.4 664.7 1073.4 664.4 1074.4 664.1 1075.4 663.8 1076.4 663.5 1077.4 663.2 1078.4 662.9 1079.4 662.5 1080.4 662.2 1081.4 661.9 1082.4 661.6 1083.4 661.3 1084.4 661 1085.4 660.7 1086.4 660.3 1087.4 660 1088.4 659.7 1089.4 659.4 1090.4 659.1 1091.4 658.7 1092.4 658.4 1093.4 658.1 1094.4 657.7 1095.4 657.4 1096.4 657.1 1097.4 656.7 1098.4 656.4 1099.4 656.1 1100.4 655.7 1101.4 655.4 1102.4 655.1 1103.4 654.7 1104.4 654.4 1105.4 654 1106.4 653.7 1107.4 653.4 1108.4 653 1109.4 652.7 1110.4 652.3 1111.4 652 1112.4 651.6 1113.4 651.3 1114.4 650.9 1115.4 650.6 1116.4 650.2 1117.4 649.9 1118.4 649.5 1119.4 649.2 1120.4 648.8 1121.4 648.5 1122.4 648.1 1123.4 647.7 1124.4 647.4 1125.4 647 1126.4 646.7 1127.4 646.3 1128.4 645.9 1129.4 645.6 1130.4 645.2 1131.4 644.9 1132.4 644.5 1133.4 644.1 1134.4 643.8 1135.4 643.4 1136.4 643 1137.4 642.7 1138.4 642.3 1139.4 641.9 1140.4 641.6 1141.4 641.2 1142.4 640.8 1143.4 640.5 1144.4 640.1 1145.4 639.7 1146.4 639.3 1147.4 639 1148.4 638.6 1149.4 638.2 1150.4 637.8 1151.4 637.5 1152.4 637.1 1153.4 636.7 1154.4 636.4 1155.4 636 1156.4 635.6 1157.4 635.2 1158.4 634.8 1159.4 634.5 1160.4 634.1 1161.4 633.7 1162.4 633.3 1163.4 633 1164.4 632.6 1165.4 632.2 1166.4 631.8 1167.4 631.5 1168.4 631.1 1169.4 630.7 1170.4 630.3 1171.4 629.9 1172.4 629.6 1173.4 629.2 1174.4 628.8 1175.4 628.4 1176.4 628 1177.4 627.7 1178.4 627.3 1179.4 626.9 1180.4 626.5 1181.4 626.2 1182.4 625.8 1183.4 625.4 1184.4 625 1185.4 624.6 1186.4 624.3 1187.4 623.9 1188.4 623.5 1189.4 623.1 1190.4 622.7 1191.4 622.4 1192.4 622 1193.4 621.6 1194.4 621.2 1195.4 620.9 1196.4 620.5 1197.4 620.1 1198.4 619.7 1199.4 619.3 1200.4 619 1201.4 618.6 1202.4 618.2 1203.4 617.8 1204.4 617.5 1205.4 617.1 1206.4 616.7 1207.4 616.4 1208.4 616 1209.4 615.6 1210.4 615.2 1211.4 614.9 1212.4 614.5 1213.4 614.1 1214.4 613.8 1215.4 613.4 1216.4 613 1217.4 612.6 1218.4 612.3 1219.4 611.9 1220.4 611.5 1221.4 611.2 1222.4 610.8 1223.4 610.4 1224.4 610.1 1225.4 609.7 1226.4 609.4 1227.4 609 1228.4 608.6 1229.4 608.3 1230.4 607.9 1231.4 607.5 1232.4 607.2 1233.4 606.8 1234.4 606.5 1235.4 606.1 1236.4 605.8 1237.4 605.4 1238.4 605 1239.4 604.7 1240.4 604.3 1241.4 604 1242.4 603.6 1243.4 603.3 1244.4 602.9 1245.4 602.6 1246.4 602.2 1247.4 601.9 1248.4 601.6 1249.4 601.2 1250.4 600.9 1251.4 600.5 1252.4 600.2 1253.4 599.8 1254.4 599.5 1255.4 599.2 1256.4 598.8 1257.4 598.5 1258.4 598.2 1259.4 597.8 1260.4 597.5 1261.4 597.2 1262.4 596.8 1263.4 596.5 1264.4 596.2 1265.4 595.8 1266.4 595.5 1267.4 595.2 1268.4 594.9 1269.4 594.5 1270.4 594.2 1271.4 593.9 1272.4 593.6 1273.4 593.3 1274.4 593 1275.4 592.6 1276.4 592.3 1277.4 592 1278.4 591.7 1279.4 591.4 1280.4 591.1 1281.4 590.8 1282.4 590.5 1283.4 590.2 1284.4 589.9 1285.4 589.6 1286.4 589.3 1287.4 589 1288.4 588.7 1289.4 588.4 1290.4 588.1 1291.4 587.8 1292.4 587.5 1293.4 587.2 1294.4 587 1295.4 586.7 1296.4 586.4 1297.4 586.1 1298.4 585.8 1299.4 585.5 1300.4 585.3 1301.4 585 1301.4 585" fill="none" stroke="#000" stroke-opacity="0.8" stroke-width="2.88" stroke-dasharray="2.88 8.64"/>
<path d="M800.4 675.8 801.4 676.1 802.4 676.4 803.4 676.7 804.4 676.9 805.4 677.2 806.4 677.5 807.4 677.8 808.4 678.1 809.4 678.4 810.4 678.6 811.4 678.9 812.4 679.2 813.4 679.4 814.4 679.7 815.4 680 816.4 680.2 817.4 680.5 818.4 680.7 819.4 681 820.4 681.2 821.4 681.5 822.4 681.7 823.4 682 824.4 682.2 825.4 682.4 826.4 682.7 827.4 682.9 828.4 683.1 829.4 683.4 830.4 683.6 831.4 683.8 832.4 684 833.4 684.2 834.4 684.5 835.4 684.7 836.4 684.9 837.4 685.1 838.4 685.3 839.4 685.5 840.4 685.7 841.4 685.9 842.4 686.1 843.4 686.3 844.4 686.5 845.4 686.7 846.4 686.8 847.4 687 848.4 687.2 849.4 687.4 850.4 687.6 851.4 687.7 852.4 687.9 853.4 688.1 854.4 688.2 855.4 688.4 856.4 688.6 857.4 688.7 858.4 688.9 859.4 689 860.4 689.2 861.4 689.4 862.4 689.5 863.4 689.6 864.4 689.8 865.4 689.9 866.4 690.1 867.4 690.2 868.4 690.3 869.4 690.5 870.4 690.6 871.4 690.7 872.4 690.9 873.4 691 874.4 691.1 875.4 691.2 876.4 691.3 877.4 691.4 878.4 691.6 879.4 691.7 880.4 691.8 881.4 691.9 882.4 692 883.4 692.1 884.4 692.2 885.4 692.3 886.4 692.4 887.4 692.4 888.4 692.5 889.4 692.6 890.4 692.7 891.4 692.8 892.4 692.9 893.4 692.9 894.4 693 895.4 693.1 896.4 693.2 897.4 693.2 898.4 693.3 899.4 693.4 900.4 693.4 901.4 693.5 902.4 693.5 903.4 693.6 904.4 693.6 905.4 693.7 906.4 693.7 907.4 693.8 908.4 693.8 909.4 693.9 910.4 693.9 911.4 693.9 912.4 694 913.4 694 914.4 694 915.4 694.1 916.4 694.1 917.4 694.1 918.4 694.1 919.4 694.2 920.4 694.2 921.4 694.2 922.4 694.2 923.4 694.2 924.4 694.2 925.4 694.2 926.4 694.2 927.4 694.2 928.4 694.2 929.4 694.2 930.4 694.2 931.4 694.2 932.4 694.2 933.4 694.2 934.4 694.2 935.4 694.2 936.4 694.2 937.4 694.1 938.4 694.1 939.4 694.1 940.4 694.1 941.4 694 942.4 694 943.4 694 944.4 693.9 945.4 693.9 946.4 693.9 947.4 693.8 948.4 693.8 949.4 693.7 950.4 693.7 951.4 693.6 952.4 693.6 953.4 693.5 954.4 693.5 955.4 693.4 956.4 693.4 957.4 693.3 958.4 693.2 959.4 693.2 960.4 693.1 961.4 693 962.4 693 963.4 692.9 964.4 692.8 965.4 692.7 966.4 692.7 967.4 692.6 968.4 692.5 969.4 692.4 970.4 692.3 971.4 692.2 972.4 692.1 973.4 692 974.4 692 975.4 691.9 976.4 691.8 977.4 691.7 978.4 691.5 979.4 691.4 980.4 691.3 981.4 691.2 982.4 691.1 983.4 691 984.4 690.9 985.4 690.8 986.4 690.6 987.4 690.5 988.4 690.4 989.4 690.3 990.4 690.1 991.4 690 992.4 689.9 993.4 689.7 994.4 689.6 995.4 689.5 996.4 689.3 997.4 689.2 998.4 689 999.4 688.9 1000.4 688.8 1001.4 688.6 1002.4 688.5 1003.4 688.3 1004.4 688.1 1005.4 688 1006.4 687.8 1007.4 687.7 1008.4 687.5 1009.4 687.3 1010.4 687.2 1011.4 687 1012.4 686.8 1013.4 686.7 1014.4 686.5 1015.4 686.3 1016.4 686.1 1017.4 686 1018.4 685.8 1019.4 685.6 1020.4 685.4 1021.4 685.2 1022.4 685 1023.4 684.8 1024.4 684.6 1025.4 684.4 1026.4 684.2 1027.4 684 1028.4 683.8 1029.4 683.6 1030.4 683.4 1031.4 683.2 1032.4 683 1033.4 682.8 1034.4 682.6 1035.4 682.4 1036.4 682.2 1037.4 682 1038.4 681.7 1039.4 681.5 1040.4 681.3 1041.4 681.1 1042.4 680.8 1043.4 680.6 1044.4 680.4 1045.4 680.1 1046.4 679.9 1047.4 679.7 1048.4 679.4 1049.4 679.2 1050.4 679 1051.4 678.7 1052.4 678.5 1053.4 678.2 1054.4 678 1055.4 677.7 1056.4 677.5 1057.4 677.2 1058.4 677 1059.4 676.7 1060.4 676.5 1061.4 676.2 1062.4 675.9 1063.4 675.7 1064.4 675.4 1065.4 675.2 1066.4 674.9 1067.4 674.6 1068.4 674.4 1069.4 674.1 1070.4 673.8 1071.4 673.5 1072.4 673.3 1073.4 673 1074.4 672.7 1075.4 672.4 1076.4 672.1 1077.4 671.9 1078.4 671.6 1079.4 671.3 1080.4 671 1081.4 670.7 1082.4 670.4 1083.4 670.1 1084.4 669.9 1085.4 669.6 1086.4 669.3 1087.4 669 1088.4 668.7 1089.4 668.4 1090.4 668.1 1091.4 667.8 1092.4 667.5 1093.4 667.2 1094.4 666.9 1095.4 666.6 1096.4 666.3 1097.4 666 1098.4 665.6 1099.4 665.3 1100.4 665 1101.4 664.7 1102.4 664.4 1103.4 664.1 1104.4 663.8 1105.4 663.5 1106.4 663.1 1107.4 662.8 1108.4 662.5 1109.4 662.2 1110.4 661.9 1111.4 661.5 1112.4 661.2 1113.4 660.9 1114.4 660.6 1115.4 660.2 1116.4 659.9 1117.4 659.6 1118.4 659.3 1119.4 658.9 1120.4 658.6 1121.4 658.3 1122.4 657.9 1123.4 657.6 1124.4 657.3 1125.4 656.9 1126.4 656.6 1127.4 656.3 1128.4 655.9 1129.4 655.6 1130.4 655.3 1131.4 654.9 1132.4 654.6 1133.4 654.3 1134.4 653.9 1135.4 653.6 1136.4 653.2 1137.4 652.9 1138.4 652.5 1139.4 652.2 1140.4 651.9 1141.4 651.5 1142.4 651.2 1143.4 650.8 1144.4 650.5 1145.4 650.1 1146.4 649.8 1147.4 649.4 1148.4 649.1 1149.4 648.7 1150.4 648.4 1151.4 648 1152.4 647.7 1153.4 647.3 1154.4 647 1155.4 646.6 1156.4 646.3 1157.4 645.9 1158.4 645.6 1159.4 645.2 1160.4 644.9 1161.4 644.5 1162.4 644.1 1163.4 643.8 1164.4 643.4 1165.4 643.1 1166.4 642.7 1167.4 642.4 1168.4 642 1169.4 641.7 1170.4 641.3 1171.4 640.9 1172.4 640.6 1173.4 640.2 1174.4 639.9 1175.4 639.5 1176.4 639.2 1177.4 638.8 1178.4 638.4 1179.4 638.1 1180.4 637.7 1181.4 637.4 1182.4 637 1183.4 636.6 1184.4 636.3 1185.4 635.9 1186.4 635.6 1187.4 635.2 1188.4 634.8 1189.4 634.5 1190.4 634.1 1191.4 633.8 1192.4 633.4 1193.4 633 1194.4 632.7 1195.4 632.3 1196.4 632 1197.4 631.6 1198.4 631.2 1199.4 630.9 1200.4 630.5 1201.4 630.2 1202.4 629.8 1203.4 629.5 1204.4 629.1 1205.4 628.7 1206.4 628.4 1207.4 628 1208.4 627.7 1209.4 627.3 1210.4 626.9 1211.4 626.6 1212.4 626.2 1213.4 625.9 1214.4 625.5 1215.4 625.2 1216.4 624.8 1217.4 624.5 1218.4 624.1 1219.4 623.7 1220.4 623.4 1221.4 623 1222.4 622.7 1223.4 622.3 1224.4 622 1225.4 621.6 1226.4 621.3 1227.4 620.9 1228.4 620.6 1229.4 620.2 1230.4 619.9 1231.4 619.5 1232.4 619.2 1233.4 618.8 1234.4 618.5 1235.4 618.1 1236.4 617.8 1237.4 617.4 1238.4 617.1 1239.4 616.7 1240.4 616.4 1241.4 616 1242.4 615.7 1243.4 615.4 1244.4 615 1245.4 614.7 1246.4 614.3 1247.4 614 1248.4 613.7 1249.4 613.3 1250.4 613 1251.4 612.6 1252.4 612.3 1253.4 612 1254.4 611.6 1255.4 611.3 1256.4 611 1257.4 610.6 1258.4 610.3 1259.4 610 1260.4 609.6 1261.4 609.3 1262.4 609 1263.4 608.6 1264.4 608.3 1265.4 608 1266.4 607.7 1267.4 607.3 1268.4 607 1269.4 606.7 1270.4 606.4 1271.4 606.1 1272.4 605.7 1273.4 605.4 1274.4 605.1 1275.4 604.8 1276.4 604.5 1277.4 604.2 1278.4 603.8 1279.4 603.5 1280.4 603.2 1281.4 602.9 1282.4 602.6 1283.4 602.3 1284.4 602 1285.4 601.7 1286.4 601.4 1287.4 601.1 1288.4 600.8 1289.4 600.5 1290.4 600.2 1291.4 599.9 1292.4 599.6 1293.4 599.3 1294.4 599 1295.4 598.7 1296.4 598.4 1297.4 598.1 1298.4 597.8 1299.4 597.5 1300.4 597.2 1301.4 596.9 1301.4 596.9" fill="none" stroke="#000" stroke-opacity="0.8" stroke-width="2.88" stroke-dasharray="2.88 8.64"/>
<path d="M800.4 679.5 801.4 679.8 802.4 680.1 803.4 680.4 804.4 680.7 805.4 680.9 806.4 681.2 807.4 681.5 808.4 681.8 809.4 682 810.4 682.3 811.4 682.6 812.4 682.8 813.4 683.1 814.4 683.4 815.4 683.6 816.4 683.9 817.4 684.1 818.4 684.4 819.4 684.6 820.4 684.8 821.4 685.1 822.4 685.3 823.4 685.6 824.4 685.8 825.4 686 826.4 686.3 827.4 686.5 828.4 686.7 829.4 686.9 830.4 687.2 831.4 687.4 832.4 687.6 833.4 687.8 834.4 688 835.4 688.2 836.4 688.4 837.4 688.6 838.4 688.8 839.4 689 840.4 689.2 841.4 689.4 842.4 689.6 843.4 689.8 844.4 690 845.4 690.2 846.4 690.4 847.4 690.6 848.4 690.7 849.4 690.9 850.4 691.1 851.4 691.3 852.4 691.4 853.4 691.6 854.4 691.8 855.4 691.9 856.4 692.1 857.4 692.3 858.4 692.4 859.4 692.6 860.4 692.7 861.4 692.9 862.4 693 863.4 693.2 864.4 693.3 865.4 693.5 866.4 693.6 867.4 693.7 868.4 693.9 869.4 694 870.4 694.1 871.4 694.3 872.4 694.4 873.4 694.5 874.4 694.6 875.4 694.8 876.4 694.9 877.4 695 878.4 695.1 879.4 695.2 880.4 695.3 881.4 695.4 882.4 695.5 883.4 695.6 884.4 695.7 885.4 695.8 886.4 695.9 887.4 696 888.4 696.1 889.4 696.2 890.4 696.3 891.4 696.4 892.4 696.5 893.4 696.5 894.4 696.6 895.4 696.7 896.4 696.8 897.4 696.8 898.4 696.9 899.4 697 900.4 697.1 901.4 697.1 902.4 697.2 903.4 697.2 904.4 697.3 905.4 697.3 906.4 697.4 907.4 697.5 908.4 697.5 909.4 697.5 910.4 697.6 911.4 697.6 912.4 697.7 913.4 697.7 914.4 697.7 915.4 697.8 916.4 697.8 917.4 697.8 918.4 697.9 919.4 697.9 920.4 697.9 921.4 697.9 922.4 698 923.4 698 924.4 698 925.4 698 926.4 698 927.4 698 928.4 698 929.4 698 930.4 698 931.4 698 932.4 698 933.4 698 934.4 698 935.4 698 936.4 698 937.4 698 938.4 698 939.4 698 940.4 697.9 941.4 697.9 942.4 697.9 943.4 697.9 944.4 697.9 945.4 697.8 946.4 697.8 947.4 697.8 948.4 697.7 949.4 697.7 950.4 697.6 951.4 697.6 952.4 697.6 953.4 697.5 954.4 697.5 955.4 697.4 956.4 697.4 957.4 697.3 958.4 697.3 959.4 697.2 960.4 697.1 961.4 697.1 962.4 697 963.4 697 964.4 696.9 965.4 696.8 966.4 696.7 967.4 696.7 968.4 696.6 969.4 696.5 970.4 696.4 971.4 696.4 972.4 696.3 973.4 696.2 974.4 696.1 975.4 696 976.4 695.9 977.4 695.8 978.4 695.7 979.4 695.6 980.4 695.5 981.4 695.4 982.4 695.3 983.4 695.2 984.4 695.1 985.4 695 986.4 694.9 987.4 694.8 988.4 694.7 989.4 694.5 990.4 694.4 991.4 694.3 992.4 694.2 993.4 694.1 994.4 693.9 995.4 693.8 996.4 693.7 997.4 693.5 998.4 693.4 999.4 693.3 1000.4 693.1 1001.4 693 1002.4 692.8 1003.4 692.7 1004.4 692.6 1005.4 692.4 1006.4 692.3 1007.4 692.1 1008.4 691.9 1009.4 691.8 1010.4 691.6 1011.4 691.5 1012.4 691.3 1013.4 691.1 1014.4 691 1015.4 690.8 1016.4 690.6 1017.4 690.5 1018.4 690.3 1019.4 690.1 1020.4 689.9 1021.4 689.8 1022.4 689.6 1023.4 689.4 1024.4 689.2 1025.4 689 1026.4 688.8 1027.4 688.6 1028.4 688.5 1029.4 688.3 1030.4 688.1 1031.4 687.9 1032.4 687.7 1033.4 687.5 1034.4 687.3 1035.4 687.1 1036.4 686.8 1037.4 686.6 1038.4 686.4 1039.4 686.2 1040.4 686 1041.4 685.8 1042.4 685.6 1043.4 685.3 1044.4 685.1 1045.4 684.9 1046.4 684.7 1047.4 684.4 1048.4 684.2 1049.4 684 1050.4 683.8 1051.4 683.5 1052.4 683.3 1053.4 683.1 1054.4 682.8 1055.4 682.6 1056.4 682.3 1057.4 682.1 1058.4 681.9 1059.4 681.6 1060.4 681.4 1061.4 681.1 1062.4 680.9 1063.4 680.6 1064.4 680.4 1065.4 680.1 1066.4 679.8 1067.4 679.6 1068.4 679.3 1069.4 679.1 1070.4 678.8 1071.4 678.5 1072.4 678.3 1073.4 678 1074.4 677.7 1075.4 677.5 1076.4 677.2 1077.4 676.9 1078.4 676.7 1079.4 676.4 1080.4 676.1 1081.4 675.8 1082.4 675.6 1083.4 675.3 1084.4 675 1085.4 674.7 1086.4 674.4 1087.4 674.1 1088.4 673.9 1089.4 673.6 1090.4 673.3 1091.4 673 1092.4 672.7 1093.4 672.4 1094.4 672.1 1095.4 671.8 1096.4 671.5 1097.4 671.2 1098.4 670.9 1099.4 670.6 1100.4 670.3 1101.4 670 1102.4 669.7 1103.4 669.4 1104.4 669.1 1105.4 668.8 1106.4 668.5 1107.4 668.2 1108.4 667.9 1109.4 667.6 1110.4 667.3 1111.4 667 1112.4 666.7 1113.4 666.4 1114.4 666 1115.4 665.7 1116.4 665.4 1117.4 665.1 1118.4 664.8 1119.4 664.5 1120.4 664.2 1121.4 663.8 1122.4 663.5 1123.4 663.2 1124.4 662.9 1125.4 662.5 1126.4 662.2 1127.4 661.9 1128.4 661.6 1129.4 661.3 1130.4 660.9 1131.4 660.6 1132.4 660.3 1133.4 659.9 1134.4 659.6 1135.4 659.3 1136.4 659 1137.4 658.6 1138.4 658.3 1139.4 658 1140.4 657.6 1141.4 657.3 1142.4 657 1143.4 656.6 1144.4 656.3 1145.4 656 1146.4 655.6 1147.4 655.3 1148.4 654.9 1149.4 654.6 1150.4 654.3 1151.4 653.9 1152.4 653.6 1153.4 653.2 1154.4 652.9 1155.4 652.6 1156.4 652.2 1157.4 651.9 1158.4 651.5 1159.4 651.2 1160.4 650.9 1161.4 650.5 1162.4 650.2 1163.4 649.8 1164.4 649.5 1165.4 649.1 1166.4 648.8 1167.4 648.4 1168.4 648.1 1169.4 647.8 1170.4 647.4 1171.4 647.1 1172.4 646.7 1173.4 646.4 1174.4 646 1175.4 645.7 1176.4 645.3 1177.4 645 1178.4 644.6 1179.4 644.3 1180.4 643.9 1181.4 643.6 1182.4 643.2 1183.4 642.9 1184.4 642.5 1185.4 642.2 1186.4 641.8 1187.4 641.5 1188.4 641.1 1189.4 640.8 1190.4 640.4 1191.4 640.1 1192.4 639.7 1193.4 639.4 1194.4 639 1195.4 638.7 1196.4 638.4 1197.4 638 1198.4 637.7 1199.4 637.3 1200.4 637 1201.4 636.6 1202.4 636.3 1203.4 635.9 1204.4 635.6 1205.4 635.2 1206.4 634.9 1207.4 634.5 1208.4 634.2 1209.4 633.8 1210.4 633.5 1211.4 633.1 1212.4 632.8 1213.4 632.4 1214.4 632.1 1215.4 631.7 1216.4 631.4 1217.4 631 1218.4 630.7 1219.4 630.3 1220.4 630 1221.4 629.7 1222.4 629.3 1223.4 629 1224.4 628.6 1225.4 628.3 1226.4 627.9 1227.4 627.6 1228.4 627.2 1229.4 626.9 1230.4 626.6 1231.4 626.2 1232.4 625.9 1233.4 625.5 1234.4 625.2 1235.4 624.9 1236.4 624.5 1237.4 624.2 1238.4 623.8 1239.4 623.5 1240.4 623.2 1241.4 622.8 1242.4 622.5 1243.4 622.2 1244.4 621.8 1245.4 621.5 1246.4 621.2 1247.4 620.8 1248.4 620.5 1249.4 620.2 1250.4 619.8 1251.4 619.5 1252.4 619.2 1253.4 618.8 1254.4 618.5 1255.4 618.2 1256.4 617.9 1257.4 617.5 1258.4 617.2 1259.4 616.9 1260.4 616.5 1261.4 616.2 1262.4 615.9 1263.4 615.6 1264.4 615.3 1265.4 614.9 1266.4 614.6 1267.4 614.3 1268.4 614 1269.4 613.7 1270.4 613.3 1271.4 613 1272.4 612.7 1273.4 612.4 1274.4 612.1 1275.4 611.8 1276.4 611.5 1277.4 611.2 1278.4 610.8 1279.4 610.5 1280.4 610.2 1281.4 609.9 1282.4 609.6 1283.4 609.3 1284.4 609 1285.4 608.7 1286.4 608.4 1287.4 608.1 1288.4 607.8 1289.4 607.5 1290.4 607.2 1291.4 606.9 1292.4 606.6 1293.4 606.3 1294.4 606 1295.4 605.7 1296.4 605.5 1297.4 605.2 1298.4 604.9 1299.4 604.6 1300.4 604.3 1301.4 604 1301.4 604" fill="none" stroke="#000" stroke-opacity="0.8" stroke-width="2.88" stroke-dasharray="2.88 8.64"/>
<path d="M800.4 645 801.4 645.4 802.4 645.8 803.4 646.2 804.4 646.6 805.4 647 806.4 647.4 807.4 647.7 808.4 648.1 809.4 648.5 810.4 648.9 811.4 649.2 812.4 649.6 813.4 649.9 814.4 650.3 815.4 650.6 816.4 651 817.4 651.3 818.4 651.6 819.4 652 820.4 652.3 821.4 652.6 822.4 652.9 823.4 653.2 824.4 653.5 825.4 653.8 826.4 654.1 827.4 654.4 828.4 654.7 829.4 655 830.4 655.3 831.4 655.5 832.4 655.8 833.4 656.1 834.4 656.3 835.4 656.6 836.4 656.8 837.4 657.1 838.4 657.3 839.4 657.5 840.4 657.8 841.4 658 842.4 658.2 843.4 658.5 844.4 658.7 845.4 658.9 846.4 659.1 847.4 659.3 848.4 659.5 849.4 659.7 850.4 659.9 851.4 660.1 852.4 660.2 853.4 660.4 854.4 660.6 855.4 660.8 856.4 660.9 857.4 661.1 858.4 661.3 859.4 661.4 860.4 661.6 861.4 661.7 862.4 661.8 863.4 662 864.4 662.1 865.4 662.2 866.4 662.4 867.4 662.5 868.4 662.6 869.4 662.7 870.4 662.8 871.4 662.9 872.4 663 873.4 663.1 874.4 663.2 875.4 663.3 876.4 663.4 877.4 663.5 878.4 663.6 879.4 663.6 880.4 663.7 881.4 663.8 882.4 663.8 883.4 663.9 884.4 664 885.4 664 886.4 664.1 887.4 664.1 888.4 664.2 889.4 664.2 890.4 664.2 891.4 664.3 892.4 664.3 893.4 664.3 894.4 664.3 895.4 664.3 896.4 664.4 897.4 664.4 898.4 664.4 899.4 664.4 900.4 664.4 901.4 664.4 902.4 664.4 903.4 664.4 904.4 664.3 905.4 664.3 906.4 664.3 907.4 664.3 908.4 664.2 909.4 664.2 910.4 664.2 911.4 664.1 912.4 664.1 913.4 664.1 914.4 664 915.4 664 916.4 663.9 917.4 663.8 918.4 663.8 919.4 663.7 920.4 663.6 921.4 663.6 922.4 663.5 923.4 663.4 924.4 663.3 925.4 663.3 926.4 663.2 927.4 663.1 928.4 663 929.4 662.9 930.4 662.8 931.4 662.7 932.4 662.6 933.4 662.5 934.4 662.4 935.4 662.2 936.4 662.1 937.4 662 938.4 661.9 939.4 661.8 940.4 661.6 941.4 661.5 942.4 661.4 943.4 661.2 944.4 661.1 945.4 660.9 946.4 660.8 947.4 660.6 948.4 660.5 949.4 660.3 950.4 660.2 951.4 660 952.4 659.8 953.4 659.7 954.4 659.5 955.4 659.3 956.4 659.2 957.4 659 958.4 658.8 959.4 658.6 960.4 658.4 961.4 658.2 962.4 658.1 963.4 657.9 964.4 657.7 965.4 657.5 966.4 657.3 967.4 657.1 968.4 656.9 969.4 656.6 970.4 656.4 971.4 656.2 972.4 656 973.4 655.8 974.4 655.6 975.4 655.3 976.4 655.1 977.4 654.9 978.4 654.7 979.4 654.4 980.4 654.2 981.4 653.9 982.4 653.7 983.4 653.5 984.4 653.2 985.4 653 986.4 652.7 987.4 652.5 988.4 652.2 989.4 651.9 990.4 651.7 991.4 651.4 992.4 651.2 993.4 650.9 994.4 650.6 995.4 650.4 996.4 650.1 997.4 649.8 998.4 649.5 999.4 649.2 1000.4 649 1001.4 648.7 1002.4 648.4 1003.4 648.1 1004.4 647.8 1005.4 647.5 1006.4 647.2 1007.4 646.9 1008.4 646.6 1009.4 646.3 1010.4 646 1011.4 645.7 1012.4 645.4 1013.4 645.1 1014.4 644.8 1015.4 644.5 1016.4 644.2 1017.4 643.9 1018.4 643.5 1019.4 643.2 1020.4 642.9 1021.4 642.6 1022.4 642.2 1023.4 641.9 1024.4 641.6 1025.4 641.3 1026.4 640.9 1027.4 640.6 1028.4 640.3 1029.4 639.9 1030.4 639.6 1031.4 639.2 1032.4 638.9 1033.4 638.5 1034.4 638.2 1035.4 637.9 1036.4 637.5 1037.4 637.2 1038.4 636.8 1039.4 636.4 1040.4 636.1 1041.4 635.7 1042.4 635.4 1043.4 635 1044.4 634.6 1045.4 634.3 1046.4 633.9 1047.4 633.6 1048.4 633.2 1049.4 632.8 1050.4 632.4 1051.4 632.1 1052.4 631.7 1053.4 631.3 1054.4 630.9 1055.4 630.6 1056.4 630.2 1057.4 629.8 1058.4 629.4 1059.4 629 1060.4 628.7 1061.4 628.3 1062.4 627.9 1063.4 627.5 1064.4 627.1 1065.4 626.7 1066.4 626.3 1067.4 625.9 1068.4 625.5 1069.4 625.1 1070.4 624.7 1071.4 624.3 1072.4 623.9 1073.4 623.5 1074.4 623.1 1075.4 622.7 1076.4 622.3 1077.4 621.9 1078.4 621.5 1079.4 621.1 1080.4 620.7 1081.4 620.3 1082.4 619.9 1083.4 619.5 1084.4 619 1085.4 618.6 1086.4 618.2 1087.4 617.8 1088.4 617.4 1089.4 617 1090.4 616.5 1091.4 616.1 1092.4 615.7 1093.4 615.3 1094.4 614.9 1095.4 614.4 1096.4 614 1097.4 613.6 1098.4 613.2 1099.4 612.7 1100.4 612.3 1101.4 611.9 1102.4 611.5 1103.4 611 1104.4 610.6 1105.4 610.2 1106.4 609.7 1107.4 609.3 1108.4 608.9 1109.4 608.4 1110.4 608 1111.4 607.6 1112.4 607.1 1113.4 606.7 1114.4 606.3 1115.4 605.8 1116.4 605.4 1117.4 605 1118.4 604.5 1119.4 604.1 1120.4 603.6 1121.4 603.2 1122.4 602.8 1123.4 602.3 1124.4 601.9 1125.4 601.4 1126.4 601 1127.4 600.5 1128.4 600.1 1129.4 599.7 1130.4 599.2 1131.4 598.8 1132.4 598.3 1133.4 597.9 1134.4 597.4 1135.4 597 1136.4 596.5 1137.4 596.1 1138.4 595.6 1139.4 595.2 1140.4 594.8 1141.4 594.3 1142.4 593.9 1143.4 593.4 1144.4 593 1145.4 592.5 1146.4 592.1 1147.4 591.6 1148.4 591.2 1149.4 590.7 1150.4 590.3 1151.4 589.8 1152.4 589.4 1153.4 588.9 1154.4 588.5 1155.4 588 1156.4 587.6 1157.4 587.1 1158.4 586.7 1159.4 586.2 1160.4 585.8 1161.4 585.3 1162.4 584.9 1163.4 584.4 1164.4 584 1165.4 583.5 1166.4 583.1 1167.4 582.7 1168.4 582.2 1169.4 581.8 1170.4 581.3 1171.4 580.9 1172.4 580.4 1173.4 580 1174.4 579.5 1175.4 579.1 1176.4 578.6 1177.4 578.2 1178.4 577.7 1179.4 577.3 1180.4 576.8 1181.4 576.4 1182.4 576 1183.4 575.5 1184.4 575.1 1185.4 574.6 1186.4 574.2 1187.4 573.7 1188.4 573.3 1189.4 572.9 1190.4 572.4 1191.4 572 1192.4 571.5 1193.4 571.1 1194.4 570.7 1195.4 570.2 1196.4 569.8 1197.4 569.3 1198.4 568.9 1199.4 568.5 1200.4 568 1201.4 567.6 1202.4 567.2 1203.4 566.7 1204.4 566.3 1205.4 565.9 1206.4 565.4 1207.4 565 1208.4 564.6 1209.4 564.1 1210.4 563.7 1211.4 563.3 1212.4 562.8 1213.4 562.4 1214.4 562 1215.4 561.6 1216.4 561.1 1217.4 560.7 1218.4 560.3 1219.4 559.9 1220.4 559.5 1221.4 559 1222.4 558.6 1223.4 558.2 1224.4 557.8 1225.4 557.4 1226.4 556.9 1227.4 556.5 1228.4 556.1 1229.4 555.7 1230.4 555.3 1231.4 554.9 1232.4 554.5 1233.4 554.1 1234.4 553.6 1235.4 553.2 1236.4 552.8 1237.4 552.4 1238.4 552 1239.4 551.6 1240.4 551.2 1241.4 550.8 1242.4 550.4 1243.4 550 1244.4 549.6 1245.4 549.2 1246.4 548.8 1247.4 548.4 1248.4 548 1249.4 547.7 1250.4 547.3 1251.4 546.9 1252.4 546.5 1253.4 546.1 1254.4 545.7 1255.4 545.3 1256.4 545 1257.4 544.6 1258.4 544.2 1259.4 543.8 1260.4 543.4 1261.4 543.1 1262.4 542.7 1263.4 542.3 1264.4 542 1265.4 541.6 1266.4 541.2 1267.4 540.9 1268.4 540.5 1269.4 540.1 1270.4 539.8 1271.4 539.4 1272.4 539 1273.4 538.7 1274.4 538.3 1275.4 538 1276.4 537.6 1277.4 537.3 1278.4 536.9 1279.4 536.6 1280.4 536.2 1281.4 535.9 1282.4 535.5 1283.4 535.2 1284.4 534.9 1285.4 534.5 1286.4 534.2 1287.4 533.9 1288.4 533.5 1289.4 533.2 1290.4 532.9 1291.4 532.5 1292.4 532.2 1293.4 531.9 1294.4 531.6 1295.4 531.3 1296.4 530.9 1297.4 530.6 1298.4 530.3 1299.4 530 1300.4 529.7 1301.4 529.4 1301.4 529.4" fill="none" stroke="#000" stroke-opacity="0.8" stroke-width="2.88"/>
<rect x="717.58" y="109.02" width="610.90" height="705.16" fill="none" stroke="#333" stroke-width="1.44"/>
</g>
<rect x="717.58" y="64.02" width="610.90" height="43.56" fill="#d9d9d9" stroke="#333" stroke-width="1.44"/>
<text transform="translate(1023.63,94.5) scale(1,1.06)" font-size="23.76" fill="#1a1a1a" text-anchor="middle">Male</text>
<line x1="744.69" x2="744.69" y1="814.9" y2="822.30" stroke="#333" stroke-width="2.88"/>
<text transform="translate(744.69,827.34) rotate(60) scale(1,1.07)" x="0" y="9.81" font-size="16.2" fill="#4d4d4d">0</text>
<line x1="758.61" x2="758.61" y1="814.9" y2="822.30" stroke="#333" stroke-width="2.88"/>
<text transform="translate(758.61,827.34) rotate(60) scale(1,1.07)" x="0" y="9.81" font-size="16.2" fill="#4d4d4d">6</text>
<line x1="772.53" x2="772.53" y1="814.9" y2="822.30" stroke="#333" stroke-width="2.88"/>
<text transform="translate(772.53,827.34) rotate(60) scale(1,1.07)" x="0" y="9.81" font-size="16.2" fill="#4d4d4d">12</text>
<line x1="786.44" x2="786.44" y1="814.9" y2="822.30" stroke="#333" stroke-width="2.88"/>
<text transform="translate(786.44,827.34) rotate(60) scale(1,1.07)" x="0" y="9.81" font-size="16.2" fill="#4d4d4d">18</text>
<line x1="800.36" x2="800.36" y1="814.9" y2="822.30" stroke="#333" stroke-width="2.88"/>
<text transform="translate(800.36,827.34) rotate(60) scale(1,1.07)" x="0" y="9.81" font-size="16.2" fill="#4d4d4d">24</text>
<line x1="828.19" x2="828.19" y1="814.9" y2="822.30" stroke="#333" stroke-width="2.88"/>
<text transform="translate(828.19,827.34) rotate(60) scale(1,1.07)" x="0" y="9.81" font-size="16.2" fill="#4d4d4d">36</text>
<line x1="856.03" x2="856.03" y1="814.9" y2="822.30" stroke="#333" stroke-width="2.88"/>
<text transform="translate(856.03,827.34) rotate(60) scale(1,1.07)" x="0" y="9.81" font-size="16.2" fill="#4d4d4d">48</text>
<line x1="883.86" x2="883.86" y1="814.9" y2="822.30" stroke="#333" stroke-width="2.88"/>
<text transform="translate(883.86,827.34) rotate(60) scale(1,1.07)" x="0" y="9.81" font-size="16.2" fill="#4d4d4d">60</text>
<line x1="911.70" x2="911.70" y1="814.9" y2="822.30" stroke="#333" stroke-width="2.88"/>
<text transform="translate(911.70,827.34) rotate(60) scale(1,1.07)" x="0" y="9.81" font-size="16.2" fill="#4d4d4d">72</text>
<line x1="939.53" x2="939.53" y1="814.9" y2="822.30" stroke="#333" stroke-width="2.88"/>
<text transform="translate(939.53,827.34) rotate(60) scale(1,1.07)" x="0" y="9.81" font-size="16.2" fill="#4d4d4d">84</text>
<line x1="967.36" x2="967.36" y1="814.9" y2="822.30" stroke="#333" stroke-width="2.88"/>
<text transform="translate(967.36,827.34) rotate(60) scale(1,1.07)" x="0" y="9.81" font-size="16.2" fill="#4d4d4d">96</text>
<line x1="995.20" x2="995.20" y1="814.9" y2="822.30" stroke="#333" stroke-width="2.88"/>
<text transform="translate(995.20,827.34) rotate(60) scale(1,1.07)" x="0" y="9.81" font-size="16.2" fill="#4d4d4d">108</text>
<line x1="1023.03" x2="1023.03" y1="814.9" y2="822.30" stroke="#333" stroke-width="2.88"/>
<text transform="translate(1023.03,827.34) rotate(60) scale(1,1.07)" x="0" y="9.81" font-size="16.2" fill="#4d4d4d">120</text>
<line x1="1050.86" x2="1050.86" y1="814.9" y2="822.30" stroke="#333" stroke-width="2.88"/>
<text transform="translate(1050.86,827.34) rotate(60) scale(1,1.07)" x="0" y="9.81" font-size="16.2" fill="#4d4d4d">132</text>
<line x1="1078.70" x2="1078.70" y1="814.9" y2="822.30" stroke="#333" stroke-width="2.88"/>
<text transform="translate(1078.70,827.34) rotate(60) scale(1,1.07)" x="0" y="9.81" font-size="16.2" fill="#4d4d4d">144</text>
<line x1="1106.53" x2="1106.53" y1="814.9" y2="822.30" stroke="#333" stroke-width="2.88"/>
<text transform="translate(1106.53,827.34) rotate(60) scale(1,1.07)" x="0" y="9.81" font-size="16.2" fill="#4d4d4d">156</text>
<line x1="1134.36" x2="1134.36" y1="814.9" y2="822.30" stroke="#333" stroke-width="2.88"/>
<text transform="translate(1134.36,827.34) rotate(60) scale(1,1.07)" x="0" y="9.81" font-size="16.2" fill="#4d4d4d">168</text>
<line x1="1162.20" x2="1162.20" y1="814.9" y2="822.30" stroke="#333" stroke-width="2.88"/>
<text transform="translate(1162.20,827.34) rotate(60) scale(1,1.07)" x="0" y="9.81" font-size="16.2" fill="#4d4d4d">180</text>
<line x1="1190.03" x2="1190.03" y1="814.9" y2="822.30" stroke="#333" stroke-width="2.88"/>
<text transform="translate(1190.03,827.34) rotate(60) scale(1,1.07)" x="0" y="9.81" font-size="16.2" fill="#4d4d4d">192</text>
<line x1="1217.87" x2="1217.87" y1="814.9" y2="822.30" stroke="#333" stroke-width="2.88"/>
<text transform="translate(1217.87,827.34) rotate(60) scale(1,1.07)" x="0" y="9.81" font-size="16.2" fill="#4d4d4d">204</text>
<line x1="1245.70" x2="1245.70" y1="814.9" y2="822.30" stroke="#333" stroke-width="2.88"/>
<text transform="translate(1245.70,827.34) rotate(60) scale(1,1.07)" x="0" y="9.81" font-size="16.2" fill="#4d4d4d">216</text>
<line x1="1273.53" x2="1273.53" y1="814.9" y2="822.30" stroke="#333" stroke-width="2.88"/>
<text transform="translate(1273.53,827.34) rotate(60) scale(1,1.07)" x="0" y="9.81" font-size="16.2" fill="#4d4d4d">228</text>
<line x1="1301.37" x2="1301.37" y1="814.9" y2="822.30" stroke="#333" stroke-width="2.88"/>
<text transform="translate(1301.37,827.34) rotate(60) scale(1,1.07)" x="0" y="9.81" font-size="16.2" fill="#4d4d4d">240</text>
<line x1="82.56" x2="89.96" y1="759.90" y2="759.90" stroke="#333" stroke-width="2.88"/>
<text x="76.62" y="768.20" font-size="23.76" fill="#4d4d4d" text-anchor="end">10</text>
<line x1="82.56" x2="89.96" y1="583.00" y2="583.00" stroke="#333" stroke-width="2.88"/>
<text x="76.62" y="591.30" font-size="23.76" fill="#4d4d4d" text-anchor="end">20</text>
<line x1="82.56" x2="89.96" y1="406.10" y2="406.10" stroke="#333" stroke-width="2.88"/>
<text x="76.62" y="414.40" font-size="23.76" fill="#4d4d4d" text-anchor="end">30</text>
<line x1="82.56" x2="89.96" y1="229.20" y2="229.20" stroke="#333" stroke-width="2.88"/>
<text x="76.62" y="237.50" font-size="23.76" fill="#4d4d4d" text-anchor="end">40</text>
<text transform="translate(709.9,890.6) scale(1,1.065)" font-size="29.09" fill="#000" text-anchor="middle">Age (months)</text>
<text transform="translate(36.9,461.9) rotate(-90) scale(0.99,1.065)" font-size="29.5" fill="#000" text-anchor="middle">BMI (kg/m²)</text>
<text transform="translate(90.3,923.9) scale(0.9884,1.073)" font-size="16" fill="#000">Note: 3rd, 5th, 10th, 25th, 50th, 75th, 90th, 95th, 97th percentiles of growth charts (black lines)</text>
<text transform="translate(109.6,941.0) scale(1.0046,1.073)" font-size="16" fill="#000">are overlaid with the individual virtual subjects (lightblue points) and the median and 25 and 75 percentiles (purple line and ribbon).</text>
</svg></body></html>
